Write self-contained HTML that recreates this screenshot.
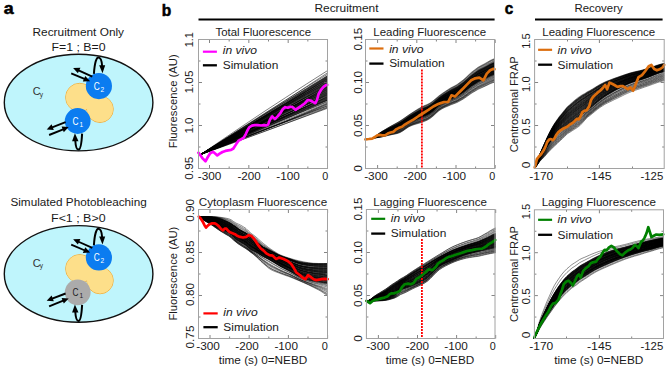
<!DOCTYPE html>
<html><head><meta charset="utf-8"><style>
html,body{margin:0;padding:0;background:#fff;width:669px;height:369px;overflow:hidden}
svg{display:block}
text{font-family:"Liberation Sans",sans-serif}
</style></head><body>
<svg width="669" height="369" viewBox="0 0 669 369" font-family="'Liberation Sans', sans-serif" fill="#1a1a1a">
<rect width="669" height="369" fill="#fff"/>
<text x="3.65" y="13.8" font-size="17" font-weight="bold" fill="#000" textLength="9.9" lengthAdjust="spacingAndGlyphs" stroke="#000" stroke-width="0.55">a</text>
<text x="161.85" y="15.8" font-size="17" font-weight="bold" fill="#000" textLength="9.5" lengthAdjust="spacingAndGlyphs" stroke="#000" stroke-width="0.55">b</text>
<text x="504.85" y="14" font-size="17" font-weight="bold" fill="#000" textLength="8.5" lengthAdjust="spacingAndGlyphs" stroke="#000" stroke-width="0.55">c</text>
<text x="314.45" y="12" font-size="10" textLength="64.1" lengthAdjust="spacingAndGlyphs">Recruitment</text>
<text x="574.55" y="11.7" font-size="10" textLength="48.1" lengthAdjust="spacingAndGlyphs">Recovery</text>
<line x1="198.5" y1="19.6" x2="494.6" y2="19.6" stroke="#000" stroke-width="2"/>
<line x1="535" y1="19.6" x2="662.6" y2="19.6" stroke="#000" stroke-width="2"/>
<text x="32.55" y="36" font-size="10" textLength="91.5" lengthAdjust="spacingAndGlyphs">Recruitment Only</text>
<text x="51.45" y="50.6" font-size="10" textLength="54.1" lengthAdjust="spacingAndGlyphs">F=1 ; B=0</text>
<g transform="translate(0,0)">
<ellipse cx="78.6" cy="102.6" rx="74.3" ry="48.3" fill="#bff5fc" stroke="#111" stroke-width="1.4"/>
<circle cx="79.7" cy="97.4" r="14.1" fill="#fddf8a" stroke="#eea52e" stroke-width="0.8"/>
<circle cx="100" cy="109.2" r="13.3" fill="#fddf8a" stroke="#eea52e" stroke-width="0.8"/>
<circle cx="79.7" cy="97.4" r="13.7" fill="#fddf8a"/>
<circle cx="100" cy="109.2" r="12.9" fill="#fddf8a"/>
<circle cx="98.9" cy="86.1" r="13.1" fill="#0b7cf0"/>
<circle cx="77.7" cy="121" r="12.9" fill="#0b7cf0"/>
<path d="M93.9,73.9 C94.6,63 96.4,57.4 98.4,57.4 C100.6,57.4 101.9,61.5 102.2,66.5" fill="none" stroke="#000" stroke-width="2"/>
<path d="M99.2,65.2 L105.2,65.2 L102.5,73.3 Z" fill="#000"/>
<line x1="92.3" y1="76.6" x2="78" y2="70.2" stroke="#000" stroke-width="1.9"/>
<path d="M73.1,68 L80.4,67.7 L77.9,73.3 Z" fill="#000"/>
<line x1="71.2" y1="73.3" x2="85" y2="79.2" stroke="#000" stroke-width="1.9"/>
<path d="M90.1,81.3 L82.8,81.6 L85.3,76 Z" fill="#000"/>
<path d="M82.1,133.6 C81.6,143 80.6,149.6 78.5,149.6 C76.5,149.6 75.6,146 75.3,140.5" fill="none" stroke="#000" stroke-width="2"/>
<path d="M72.1,141.2 L78.5,141.2 L74.9,133.3 Z" fill="#000"/>
<line x1="65.6" y1="122.2" x2="51.5" y2="127.6" stroke="#000" stroke-width="1.9"/>
<path d="M46.7,129.5 L51.6,124.3 L53.8,130 Z" fill="#000"/>
<line x1="49.1" y1="135" x2="63.8" y2="129.1" stroke="#000" stroke-width="1.9"/>
<path d="M68.7,127.1 L63.8,132.3 L61.6,126.6 Z" fill="#000"/>
</g>
<text x="72.6" y="124.9" font-size="10.6" fill="#fff" textLength="6" lengthAdjust="spacingAndGlyphs">C</text>
<text x="79.5" y="126.8" font-size="6.6" fill="#fff">1</text>
<text x="93.8" y="90" font-size="10.6" fill="#fff" textLength="6" lengthAdjust="spacingAndGlyphs">C</text>
<text x="100.6" y="91.9" font-size="6.6" fill="#fff">2</text>
<text x="32.7" y="95.3" font-size="10.8" fill="#333">C</text>
<text x="39.7" y="97" font-size="6.6" fill="#333">y</text>
<text x="10.45" y="206.3" font-size="10" textLength="136.3" lengthAdjust="spacingAndGlyphs">Simulated Photobleaching</text>
<text x="51.05" y="221.6" font-size="10" textLength="54.5" lengthAdjust="spacingAndGlyphs">F&lt;1 ; B&gt;0</text>
<g transform="translate(0,171.3)">
<ellipse cx="78.6" cy="102.6" rx="74.3" ry="48.3" fill="#bff5fc" stroke="#111" stroke-width="1.4"/>
<circle cx="79.7" cy="97.4" r="14.1" fill="#fddf8a" stroke="#eea52e" stroke-width="0.8"/>
<circle cx="100" cy="109.2" r="13.3" fill="#fddf8a" stroke="#eea52e" stroke-width="0.8"/>
<circle cx="79.7" cy="97.4" r="13.7" fill="#fddf8a"/>
<circle cx="100" cy="109.2" r="12.9" fill="#fddf8a"/>
<circle cx="98.9" cy="86.1" r="13.1" fill="#0b7cf0"/>
<circle cx="77.7" cy="121" r="12.9" fill="#ababab"/>
<path d="M93.9,73.9 C94.6,63 96.4,57.4 98.4,57.4 C100.6,57.4 101.9,61.5 102.2,66.5" fill="none" stroke="#000" stroke-width="2"/>
<path d="M99.2,65.2 L105.2,65.2 L102.5,73.3 Z" fill="#000"/>
<line x1="92.3" y1="76.6" x2="78" y2="70.2" stroke="#000" stroke-width="1.9"/>
<path d="M73.1,68 L80.4,67.7 L77.9,73.3 Z" fill="#000"/>
<line x1="71.2" y1="73.3" x2="85" y2="79.2" stroke="#000" stroke-width="1.9"/>
<path d="M90.1,81.3 L82.8,81.6 L85.3,76 Z" fill="#000"/>
<path d="M82.1,133.6 C81.6,143 80.6,149.6 78.5,149.6 C76.5,149.6 75.6,146 75.3,140.5" fill="none" stroke="#000" stroke-width="2"/>
<path d="M72.1,141.2 L78.5,141.2 L74.9,133.3 Z" fill="#000"/>
<line x1="65.6" y1="122.2" x2="51.5" y2="127.6" stroke="#000" stroke-width="1.9"/>
<path d="M46.7,129.5 L51.6,124.3 L53.8,130 Z" fill="#000"/>
<line x1="49.1" y1="135" x2="63.8" y2="129.1" stroke="#000" stroke-width="1.9"/>
<path d="M68.7,127.1 L63.8,132.3 L61.6,126.6 Z" fill="#000"/>
</g>
<text x="72.6" y="296.2" font-size="10.6" fill="#1e1e1e" textLength="6" lengthAdjust="spacingAndGlyphs">C</text>
<text x="79.5" y="298.1" font-size="6.6" fill="#1e1e1e">1</text>
<text x="93.8" y="261.3" font-size="10.6" fill="#fff" textLength="6" lengthAdjust="spacingAndGlyphs">C</text>
<text x="100.6" y="263.2" font-size="6.6" fill="#fff">2</text>
<text x="32.7" y="266.6" font-size="10.8" fill="#333">C</text>
<text x="39.7" y="268.3" font-size="6.6" fill="#333">y</text>
<text x="215.45" y="35.8" font-size="10" textLength="95.7" lengthAdjust="spacingAndGlyphs">Total Fluorescence</text>
<text x="373.25" y="35.8" font-size="10" textLength="112.9" lengthAdjust="spacingAndGlyphs">Leading Fluorescence</text>
<text x="542.25" y="35.6" font-size="10" textLength="112.9" lengthAdjust="spacingAndGlyphs">Leading Fluorescence</text>
<text x="198.85" y="205.7" font-size="10" textLength="128.3" lengthAdjust="spacingAndGlyphs">Cytoplasm Fluorescence</text>
<text x="373.25" y="205.9" font-size="10" textLength="113.7" lengthAdjust="spacingAndGlyphs">Lagging Fluorescence</text>
<text x="541.65" y="205.9" font-size="10" textLength="114.3" lengthAdjust="spacingAndGlyphs">Lagging Fluorescence</text>
<polyline points="200.8,154.4 221.9,140 243,125.7 264.1,111.6 285.3,97.8 306.4,84.1 327.5,70.6" fill="none" stroke="#000" stroke-width="0.5" stroke-linejoin="round" stroke-linecap="round"/>
<polyline points="200.8,154.4 221.9,141.1 243,127.7 264.1,114.1 285.3,100.5 306.4,86.7 327.5,72.8" fill="none" stroke="#000" stroke-width="0.5" stroke-linejoin="round" stroke-linecap="round"/>
<polyline points="200.8,154.4 221.9,140.7 243,127 264.1,113.6 285.3,100.3 306.4,87.2 327.5,74.2" fill="none" stroke="#000" stroke-width="0.5" stroke-linejoin="round" stroke-linecap="round"/>
<polyline points="200.8,154.4 221.9,141 243,127.7 264.1,114.5 285.3,101.4 306.4,88.5 327.5,75.6" fill="none" stroke="#000" stroke-width="0.5" stroke-linejoin="round" stroke-linecap="round"/>
<polyline points="200.8,154.4 221.9,141.2 243,128 264.1,114.9 285.3,101.9 306.4,88.9 327.5,75.9" fill="none" stroke="#000" stroke-width="0.5" stroke-linejoin="round" stroke-linecap="round"/>
<polyline points="200.8,154.4 221.9,141.8 243,129.1 264.1,116.2 285.3,103.1 306.4,89.8 327.5,76.4" fill="none" stroke="#000" stroke-width="0.5" stroke-linejoin="round" stroke-linecap="round"/>
<polyline points="200.8,154.4 221.9,141 243,127.7 264.1,114.7 285.3,101.8 306.4,89.1 327.5,76.6" fill="none" stroke="#000" stroke-width="0.5" stroke-linejoin="round" stroke-linecap="round"/>
<polyline points="200.8,154.4 221.9,141.5 243,128.6 264.1,115.7 285.3,102.8 306.4,89.9 327.5,77.1" fill="none" stroke="#000" stroke-width="0.5" stroke-linejoin="round" stroke-linecap="round"/>
<polyline points="200.8,154.4 221.9,141.6 243,128.8 264.1,116 285.3,103.2 306.4,90.3 327.5,77.4" fill="none" stroke="#000" stroke-width="0.5" stroke-linejoin="round" stroke-linecap="round"/>
<polyline points="200.8,154.4 221.9,142 243,129.5 264.1,116.8 285.3,103.9 306.4,90.8 327.5,77.7" fill="none" stroke="#000" stroke-width="0.5" stroke-linejoin="round" stroke-linecap="round"/>
<polyline points="200.8,154.4 221.9,142 243,129.5 264.1,116.9 285.3,104.1 306.4,91.2 327.5,78.2" fill="none" stroke="#000" stroke-width="0.5" stroke-linejoin="round" stroke-linecap="round"/>
<polyline points="200.8,154.4 221.9,142.1 243,129.7 264.1,117.1 285.3,104.3 306.4,91.4 327.5,78.4" fill="none" stroke="#000" stroke-width="0.5" stroke-linejoin="round" stroke-linecap="round"/>
<polyline points="200.8,154.4 221.9,141.6 243,128.8 264.1,116.2 285.3,103.7 306.4,91.2 327.5,78.9" fill="none" stroke="#000" stroke-width="0.5" stroke-linejoin="round" stroke-linecap="round"/>
<polyline points="200.8,154.4 221.9,141.8 243,129.2 264.1,116.6 285.3,104.1 306.4,91.6 327.5,79.1" fill="none" stroke="#000" stroke-width="0.5" stroke-linejoin="round" stroke-linecap="round"/>
<polyline points="200.8,154.4 221.9,141.8 243,129.2 264.1,116.6 285.3,104.2 306.4,91.8 327.5,79.5" fill="none" stroke="#000" stroke-width="0.5" stroke-linejoin="round" stroke-linecap="round"/>
<polyline points="200.8,154.4 221.9,142.4 243,130.2 264.1,117.9 285.3,105.4 306.4,92.7 327.5,79.9" fill="none" stroke="#000" stroke-width="0.5" stroke-linejoin="round" stroke-linecap="round"/>
<polyline points="200.8,154.4 221.9,142.5 243,130.5 264.1,118.3 285.3,105.9 306.4,93.2 327.5,80.4" fill="none" stroke="#000" stroke-width="0.5" stroke-linejoin="round" stroke-linecap="round"/>
<polyline points="200.8,154.4 221.9,141.7 243,129.2 264.1,116.8 285.3,104.6 306.4,92.5 327.5,80.5" fill="none" stroke="#000" stroke-width="0.5" stroke-linejoin="round" stroke-linecap="round"/>
<polyline points="200.8,154.4 221.9,141.8 243,129.4 264.1,117 285.3,104.9 306.4,92.9 327.5,80.9" fill="none" stroke="#000" stroke-width="0.5" stroke-linejoin="round" stroke-linecap="round"/>
<polyline points="200.8,154.4 221.9,142 243,129.6 264.1,117.4 285.3,105.3 306.4,93.3 327.5,81.4" fill="none" stroke="#000" stroke-width="0.5" stroke-linejoin="round" stroke-linecap="round"/>
<polyline points="200.8,154.4 221.9,142.1 243,129.8 264.1,117.6 285.3,105.6 306.4,93.7 327.5,81.9" fill="none" stroke="#000" stroke-width="0.5" stroke-linejoin="round" stroke-linecap="round"/>
<polyline points="200.8,154.4 221.9,142.3 243,130.3 264.1,118.2 285.3,106.2 306.4,94.2 327.5,82.1" fill="none" stroke="#000" stroke-width="0.5" stroke-linejoin="round" stroke-linecap="round"/>
<polyline points="200.8,154.4 221.9,142.5 243,130.6 264.1,118.6 285.3,106.6 306.4,94.5 327.5,82.4" fill="none" stroke="#000" stroke-width="0.5" stroke-linejoin="round" stroke-linecap="round"/>
<polyline points="200.8,154.4 221.9,142.3 243,130.2 264.1,118.2 285.3,106.4 306.4,94.7 327.5,83" fill="none" stroke="#000" stroke-width="0.5" stroke-linejoin="round" stroke-linecap="round"/>
<polyline points="200.8,154.4 221.9,142 243,129.7 264.1,117.7 285.3,106 306.4,94.4 327.5,83" fill="none" stroke="#000" stroke-width="0.5" stroke-linejoin="round" stroke-linecap="round"/>
<polyline points="200.8,154.4 221.9,142.5 243,130.7 264.1,118.9 285.3,107.1 306.4,95.4 327.5,83.7" fill="none" stroke="#000" stroke-width="0.5" stroke-linejoin="round" stroke-linecap="round"/>
<polyline points="200.8,154.4 221.9,142.5 243,130.6 264.1,118.8 285.3,107.1 306.4,95.5 327.5,83.8" fill="none" stroke="#000" stroke-width="0.5" stroke-linejoin="round" stroke-linecap="round"/>
<polyline points="200.8,154.4 221.9,142.8 243,131.1 264.1,119.4 285.3,107.7 306.4,95.9 327.5,84.1" fill="none" stroke="#000" stroke-width="0.5" stroke-linejoin="round" stroke-linecap="round"/>
<polyline points="200.8,154.4 221.9,143.2 243,131.9 264.1,120.3 285.3,108.6 306.4,96.6 327.5,84.5" fill="none" stroke="#000" stroke-width="0.5" stroke-linejoin="round" stroke-linecap="round"/>
<polyline points="200.8,154.4 221.9,143 243,131.6 264.1,120 285.3,108.4 306.4,96.7 327.5,84.9" fill="none" stroke="#000" stroke-width="0.5" stroke-linejoin="round" stroke-linecap="round"/>
<polyline points="200.8,154.4 221.9,142.9 243,131.4 264.1,119.9 285.3,108.4 306.4,96.9 327.5,85.4" fill="none" stroke="#000" stroke-width="0.5" stroke-linejoin="round" stroke-linecap="round"/>
<polyline points="200.8,154.4 221.9,143 243,131.7 264.1,120.2 285.3,108.7 306.4,97.2 327.5,85.6" fill="none" stroke="#000" stroke-width="0.5" stroke-linejoin="round" stroke-linecap="round"/>
<polyline points="200.8,154.4 221.9,143.2 243,131.9 264.1,120.6 285.3,109.1 306.4,97.6 327.5,86.1" fill="none" stroke="#000" stroke-width="0.5" stroke-linejoin="round" stroke-linecap="round"/>
<polyline points="200.8,154.4 221.9,142.6 243,131 264.1,119.5 285.3,108.3 306.4,97.3 327.5,86.4" fill="none" stroke="#000" stroke-width="0.5" stroke-linejoin="round" stroke-linecap="round"/>
<polyline points="200.8,154.4 221.9,143.5 243,132.5 264.1,121.4 285.3,110 306.4,98.4 327.5,86.7" fill="none" stroke="#000" stroke-width="0.5" stroke-linejoin="round" stroke-linecap="round"/>
<polyline points="200.8,154.4 221.9,143.5 243,132.5 264.1,121.3 285.3,110 306.4,98.6 327.5,87.1" fill="none" stroke="#000" stroke-width="0.5" stroke-linejoin="round" stroke-linecap="round"/>
<polyline points="200.8,154.4 221.9,143.6 243,132.7 264.1,121.6 285.3,110.3 306.4,98.9 327.5,87.3" fill="none" stroke="#000" stroke-width="0.5" stroke-linejoin="round" stroke-linecap="round"/>
<polyline points="200.8,154.4 221.9,143.6 243,132.7 264.1,121.6 285.3,110.4 306.4,99.1 327.5,87.7" fill="none" stroke="#000" stroke-width="0.5" stroke-linejoin="round" stroke-linecap="round"/>
<polyline points="200.8,154.4 221.9,143.2 243,132.1 264.1,121 285.3,110 306.4,99 327.5,88.1" fill="none" stroke="#000" stroke-width="0.5" stroke-linejoin="round" stroke-linecap="round"/>
<polyline points="200.8,154.4 221.9,143.3 243,132.3 264.1,121.3 285.3,110.4 306.4,99.5 327.5,88.6" fill="none" stroke="#000" stroke-width="0.5" stroke-linejoin="round" stroke-linecap="round"/>
<polyline points="200.8,154.4 221.9,143.1 243,131.9 264.1,120.8 285.3,110 306.4,99.4 327.5,88.9" fill="none" stroke="#000" stroke-width="0.5" stroke-linejoin="round" stroke-linecap="round"/>
<polyline points="200.8,154.4 221.9,143.7 243,132.9 264.1,122.1 285.3,111.2 306.4,100.2 327.5,89.2" fill="none" stroke="#000" stroke-width="0.5" stroke-linejoin="round" stroke-linecap="round"/>
<polyline points="200.8,154.4 221.9,143.2 243,132.1 264.1,121.1 285.3,110.5 306.4,100 327.5,89.6" fill="none" stroke="#000" stroke-width="0.5" stroke-linejoin="round" stroke-linecap="round"/>
<polyline points="200.8,154.4 221.9,143.2 243,132.2 264.1,121.3 285.3,110.7 306.4,100.3 327.5,89.9" fill="none" stroke="#000" stroke-width="0.5" stroke-linejoin="round" stroke-linecap="round"/>
<polyline points="200.8,154.4 221.9,143.4 243,132.5 264.1,121.7 285.3,111.1 306.4,100.7 327.5,90.2" fill="none" stroke="#000" stroke-width="0.5" stroke-linejoin="round" stroke-linecap="round"/>
<polyline points="200.8,154.4 221.9,143.5 243,132.6 264.1,121.9 285.3,111.4 306.4,101 327.5,90.8" fill="none" stroke="#000" stroke-width="0.5" stroke-linejoin="round" stroke-linecap="round"/>
<polyline points="200.8,154.4 221.9,143.7 243,133 264.1,122.4 285.3,111.9 306.4,101.5 327.5,91.1" fill="none" stroke="#000" stroke-width="0.5" stroke-linejoin="round" stroke-linecap="round"/>
<polyline points="200.8,154.4 221.9,143.4 243,132.6 264.1,122 285.3,111.6 306.4,101.4 327.5,91.3" fill="none" stroke="#000" stroke-width="0.5" stroke-linejoin="round" stroke-linecap="round"/>
<polyline points="200.8,154.4 221.9,143.5 243,132.7 264.1,122.1 285.3,111.8 306.4,101.7 327.5,91.8" fill="none" stroke="#000" stroke-width="0.5" stroke-linejoin="round" stroke-linecap="round"/>
<polyline points="200.8,154.4 221.9,143.7 243,133 264.1,122.6 285.3,112.3 306.4,102.1 327.5,92.1" fill="none" stroke="#000" stroke-width="0.5" stroke-linejoin="round" stroke-linecap="round"/>
<polyline points="200.8,154.4 221.9,143.7 243,133.1 264.1,122.7 285.3,112.5 306.4,102.5 327.5,92.6" fill="none" stroke="#000" stroke-width="0.5" stroke-linejoin="round" stroke-linecap="round"/>
<polyline points="200.8,154.4 221.9,144 243,133.7 264.1,123.4 285.3,113.2 306.4,103 327.5,92.9" fill="none" stroke="#000" stroke-width="0.5" stroke-linejoin="round" stroke-linecap="round"/>
<polyline points="200.8,154.4 221.9,143.7 243,133.1 264.1,122.8 285.3,112.7 306.4,102.8 327.5,93.1" fill="none" stroke="#000" stroke-width="0.5" stroke-linejoin="round" stroke-linecap="round"/>
<polyline points="200.8,154.4 221.9,144.7 243,134.8 264.1,124.8 285.3,114.6 306.4,104.2 327.5,93.7" fill="none" stroke="#000" stroke-width="0.5" stroke-linejoin="round" stroke-linecap="round"/>
<polyline points="200.8,154.4 221.9,144.4 243,134.4 264.1,124.3 285.3,114.2 306.4,104 327.5,93.8" fill="none" stroke="#000" stroke-width="0.5" stroke-linejoin="round" stroke-linecap="round"/>
<polyline points="200.8,154.4 221.9,144 243,133.7 264.1,123.6 285.3,113.7 306.4,103.9 327.5,94.2" fill="none" stroke="#000" stroke-width="0.5" stroke-linejoin="round" stroke-linecap="round"/>
<polyline points="200.8,154.4 221.9,144.2 243,134.1 264.1,124.1 285.3,114.2 306.4,104.4 327.5,94.7" fill="none" stroke="#000" stroke-width="0.5" stroke-linejoin="round" stroke-linecap="round"/>
<polyline points="200.8,154.4 221.9,144.3 243,134.3 264.1,124.3 285.3,114.4 306.4,104.6 327.5,94.8" fill="none" stroke="#000" stroke-width="0.5" stroke-linejoin="round" stroke-linecap="round"/>
<polyline points="200.8,154.4 221.9,144.4 243,134.5 264.1,124.6 285.3,114.8 306.4,105 327.5,95.3" fill="none" stroke="#000" stroke-width="0.5" stroke-linejoin="round" stroke-linecap="round"/>
<polyline points="200.8,154.4 221.9,144.2 243,134.1 264.1,124.2 285.3,114.5 306.4,105 327.5,95.5" fill="none" stroke="#000" stroke-width="0.5" stroke-linejoin="round" stroke-linecap="round"/>
<polyline points="200.8,154.4 221.9,145 243,135.6 264.1,125.9 285.3,116.1 306.4,106.2 327.5,96.1" fill="none" stroke="#000" stroke-width="0.5" stroke-linejoin="round" stroke-linecap="round"/>
<polyline points="200.8,154.4 221.9,145.2 243,135.9 264.1,126.4 285.3,116.6 306.4,106.6 327.5,96.5" fill="none" stroke="#000" stroke-width="0.5" stroke-linejoin="round" stroke-linecap="round"/>
<polyline points="200.8,154.4 221.9,144.8 243,135.1 264.1,125.5 285.3,115.9 306.4,106.3 327.5,96.8" fill="none" stroke="#000" stroke-width="0.5" stroke-linejoin="round" stroke-linecap="round"/>
<polyline points="200.8,154.4 221.9,144.9 243,135.3 264.1,125.8 285.3,116.3 306.4,106.8 327.5,97.2" fill="none" stroke="#000" stroke-width="0.5" stroke-linejoin="round" stroke-linecap="round"/>
<polyline points="200.8,154.4 221.9,144.5 243,134.7 264.1,125.1 285.3,115.7 306.4,106.5 327.5,97.4" fill="none" stroke="#000" stroke-width="0.5" stroke-linejoin="round" stroke-linecap="round"/>
<polyline points="200.8,154.4 221.9,144.6 243,134.9 264.1,125.3 285.3,116 306.4,106.9 327.5,97.9" fill="none" stroke="#000" stroke-width="0.5" stroke-linejoin="round" stroke-linecap="round"/>
<polyline points="200.8,154.4 221.9,144.9 243,135.4 264.1,126 285.3,116.7 306.4,107.4 327.5,98.2" fill="none" stroke="#000" stroke-width="0.5" stroke-linejoin="round" stroke-linecap="round"/>
<polyline points="200.8,154.4 221.9,144.9 243,135.4 264.1,126 285.3,116.8 306.4,107.6 327.5,98.6" fill="none" stroke="#000" stroke-width="0.5" stroke-linejoin="round" stroke-linecap="round"/>
<polyline points="200.8,154.4 221.9,145.5 243,136.5 264.1,127.3 285.3,118 306.4,108.5 327.5,98.9" fill="none" stroke="#000" stroke-width="0.5" stroke-linejoin="round" stroke-linecap="round"/>
<polyline points="200.8,154.4 221.9,144.9 243,135.5 264.1,126.2 285.3,117.1 306.4,108.2 327.5,99.4" fill="none" stroke="#000" stroke-width="0.5" stroke-linejoin="round" stroke-linecap="round"/>
<polyline points="200.8,154.4 221.9,144.8 243,135.4 264.1,126.1 285.3,117.2 306.4,108.4 327.5,99.8" fill="none" stroke="#000" stroke-width="0.5" stroke-linejoin="round" stroke-linecap="round"/>
<polyline points="200.8,154.4 221.9,145.8 243,137 264.1,128.1 285.3,118.9 306.4,109.5 327.5,100" fill="none" stroke="#000" stroke-width="0.5" stroke-linejoin="round" stroke-linecap="round"/>
<polyline points="200.8,154.4 221.9,145.4 243,136.4 264.1,127.4 285.3,118.4 306.4,109.4 327.5,100.4" fill="none" stroke="#000" stroke-width="0.5" stroke-linejoin="round" stroke-linecap="round"/>
<polyline points="200.8,154.4 221.9,145 243,135.7 264.1,126.5 285.3,117.6 306.4,108.8 327.5,100" fill="none" stroke="#000" stroke-width="0.5" stroke-linejoin="round" stroke-linecap="round"/>
<polyline points="200.8,154.4 221.9,145.6 243,136.8 264.1,127.9 285.3,119.1 306.4,110.2 327.5,101.3" fill="none" stroke="#000" stroke-width="0.5" stroke-linejoin="round" stroke-linecap="round"/>
<polyline points="200.8,154.4 221.9,145.2 243,136.1 264.1,127.2 285.3,118.6 306.4,110.2 327.5,102" fill="none" stroke="#000" stroke-width="0.5" stroke-linejoin="round" stroke-linecap="round"/>
<polyline points="200.8,154.4 221.9,145.9 243,137.3 264.1,128.8 285.3,120.2 306.4,111.6 327.5,103" fill="none" stroke="#000" stroke-width="0.5" stroke-linejoin="round" stroke-linecap="round"/>
<polyline points="200.8,154.4 221.9,146.4 243,138.3 264.1,130 285.3,121.4 306.4,112.6 327.5,103.6" fill="none" stroke="#000" stroke-width="0.5" stroke-linejoin="round" stroke-linecap="round"/>
<polyline points="200.8,154.4 221.9,146.4 243,138.2 264.1,129.9 285.3,121.4 306.4,112.7 327.5,104" fill="none" stroke="#000" stroke-width="0.5" stroke-linejoin="round" stroke-linecap="round"/>
<polyline points="200.8,154.4 221.9,146.3 243,138.2 264.1,130 285.3,121.7 306.4,113.3 327.5,104.8" fill="none" stroke="#000" stroke-width="0.5" stroke-linejoin="round" stroke-linecap="round"/>
<polyline points="200.8,154.4 221.9,146.1 243,137.8 264.1,129.6 285.3,121.6 306.4,113.6 327.5,105.8" fill="none" stroke="#000" stroke-width="0.5" stroke-linejoin="round" stroke-linecap="round"/>
<polyline points="200.8,154.4 221.9,146.2 243,138 264.1,129.9 285.3,121.9 306.4,113.9 327.5,106" fill="none" stroke="#000" stroke-width="0.5" stroke-linejoin="round" stroke-linecap="round"/>
<polyline points="200.8,154.4 221.9,146.2 243,138.1 264.1,130.1 285.3,122.3 306.4,114.6 327.5,107.1" fill="none" stroke="#000" stroke-width="0.5" stroke-linejoin="round" stroke-linecap="round"/>
<polyline points="200.8,154.4 221.9,146.9 243,139.3 264.1,131.6 285.3,123.7 306.4,115.7 327.5,107.6" fill="none" stroke="#000" stroke-width="0.5" stroke-linejoin="round" stroke-linecap="round"/>
<polyline points="200.8,154.4 221.9,146.8 243,139.1 264.1,131.4 285.3,123.7 306.4,116 327.5,108.3" fill="none" stroke="#000" stroke-width="0.5" stroke-linejoin="round" stroke-linecap="round"/>
<polyline points="373,138 376,136.1 379,133.4 382,131.4 385,129.6 388,127.8 391,126.1 394,124.4 397,122.8 400,121 403,119 406,116.9 409,114.8 412,112.8 415,110.9 418,109 421,107.4 424,105.8 427,104.6 430,103.1 433,100.9 436,98.3 439,95.8 442,93.6 445,91.6 448,89.6 451,87.7 454,86.2 457,84.6 460,82.3 463,80.1 466,77.4 469,74.5 472,71.8 475,69.6 478,67.3 481,65.6 484,64.1 487,62.4 490,60.6 493,59.2 494.5,58.7" fill="none" stroke="#000" stroke-width="0.45" stroke-linejoin="round" stroke-linecap="round"/>
<polyline points="373,138 376,136.1 379,133.5 382,131.5 385,129.8 388,128 391,126.3 394,124.7 397,123 400,121.3 403,119.3 406,117.2 409,115.1 412,113.2 415,111.3 418,109.5 421,107.8 424,106.3 427,105.1 430,103.5 433,101.4 436,98.9 439,96.3 442,94.1 445,92.1 448,90.2 451,88.3 454,86.8 457,85.1 460,82.9 463,80.7 466,78 469,75.1 472,72.5 475,70.2 478,67.9 481,66.2 484,64.7 487,63 490,61.2 493,59.7 494.5,59.2" fill="none" stroke="#000" stroke-width="0.45" stroke-linejoin="round" stroke-linecap="round"/>
<polyline points="373,138 376,136.1 379,133.6 382,131.7 385,129.9 388,128.2 391,126.5 394,124.9 397,123.3 400,121.5 403,119.6 406,117.5 409,115.4 412,113.5 415,111.6 418,109.7 421,108.1 424,106.6 427,105.4 430,103.8 433,101.7 436,99.1 439,96.6 442,94.4 445,92.4 448,90.4 451,88.6 454,87.1 457,85.5 460,83.2 463,81 466,78.3 469,75.5 472,72.9 475,70.7 478,68.4 481,66.7 484,65.2 487,63.5 490,61.7 493,60.3 494.5,59.9" fill="none" stroke="#000" stroke-width="0.45" stroke-linejoin="round" stroke-linecap="round"/>
<polyline points="373,138 376,136.2 379,133.7 382,131.9 385,130.2 388,128.5 391,126.8 394,125.3 397,123.7 400,122 403,120 406,117.9 409,115.8 412,113.9 415,112.1 418,110.3 421,108.7 424,107.2 427,106 430,104.4 433,102.3 436,99.7 439,97.1 442,95 445,93 448,91.1 451,89.3 454,87.7 457,86.2 460,83.9 463,81.7 466,79.1 469,76.3 472,73.7 475,71.5 478,69.2 481,67.5 484,66 487,64.3 490,62.6 493,61.2 494.5,60.7" fill="none" stroke="#000" stroke-width="0.45" stroke-linejoin="round" stroke-linecap="round"/>
<polyline points="373,138 376,136.3 379,133.8 382,132 385,130.4 388,128.7 391,127.1 394,125.6 397,124 400,122.3 403,120.4 406,118.3 409,116.2 412,114.3 415,112.5 418,110.7 421,109.2 424,107.6 427,106.5 430,104.9 433,102.7 436,100.2 439,97.6 442,95.4 445,93.5 448,91.6 451,89.8 454,88.3 457,86.7 460,84.5 463,82.3 466,79.7 469,76.9 472,74.3 475,72.2 478,69.9 481,68.2 484,66.7 487,65 490,63.3 493,61.9 494.5,61.4" fill="none" stroke="#000" stroke-width="0.45" stroke-linejoin="round" stroke-linecap="round"/>
<polyline points="373,138 376,136.3 379,134 382,132.2 385,130.5 388,128.9 391,127.3 394,125.8 397,124.3 400,122.6 403,120.7 406,118.6 409,116.4 412,114.6 415,112.8 418,111.1 421,109.5 424,108 427,106.8 430,105.2 433,103.1 436,100.5 439,97.9 442,95.7 445,93.8 448,91.9 451,90.1 454,88.6 457,87.1 460,84.9 463,82.7 466,80.1 469,77.4 472,74.8 475,72.6 478,70.4 481,68.7 484,67.3 487,65.6 490,63.8 493,62.4 494.5,62" fill="none" stroke="#000" stroke-width="0.45" stroke-linejoin="round" stroke-linecap="round"/>
<polyline points="373,138 376,136.3 379,134 382,132.3 385,130.7 388,129 391,127.5 394,126 397,124.4 400,122.8 403,120.8 406,118.7 409,116.5 412,114.7 415,112.9 418,111.1 421,109.6 424,108.1 427,106.9 430,105.3 433,103.1 436,100.4 439,97.9 442,95.7 445,93.8 448,91.9 451,90.1 454,88.6 457,87.1 460,84.9 463,82.8 466,80.2 469,77.5 472,75 475,72.9 478,70.6 481,69 484,67.6 487,66 490,64.3 493,63 494.5,62.5" fill="none" stroke="#000" stroke-width="0.5" stroke-linejoin="round" stroke-linecap="round"/>
<polyline points="373,138 376,136.4 379,134.1 382,132.3 385,130.7 388,129.1 391,127.6 394,126.1 397,124.6 400,122.9 403,121 406,118.9 409,116.7 412,114.9 415,113.1 418,111.4 421,109.8 424,108.3 427,107.2 430,105.5 433,103.3 436,100.7 439,98.2 442,96 445,94.1 448,92.2 451,90.4 454,89 457,87.4 460,85.2 463,83.1 466,80.6 469,77.8 472,75.3 475,73.2 478,70.9 481,69.3 484,67.9 487,66.2 490,64.5 493,63.2 494.5,62.7" fill="none" stroke="#000" stroke-width="0.5" stroke-linejoin="round" stroke-linecap="round"/>
<polyline points="373,138 376,136.4 379,134.1 382,132.4 385,130.8 388,129.2 391,127.7 394,126.2 397,124.8 400,123.1 403,121.2 406,119.1 409,117 412,115.2 415,113.5 418,111.8 421,110.3 424,108.8 427,107.7 430,106.1 433,103.9 436,101.3 439,98.8 442,96.6 445,94.7 448,92.9 451,91.1 454,89.6 457,88.1 460,85.9 463,83.8 466,81.2 469,78.4 472,75.8 475,73.7 478,71.4 481,69.8 484,68.3 487,66.6 490,64.8 493,63.4 494.5,62.9" fill="none" stroke="#000" stroke-width="0.5" stroke-linejoin="round" stroke-linecap="round"/>
<polyline points="373,138 376,136.4 379,134.1 382,132.4 385,130.8 388,129.2 391,127.7 394,126.2 397,124.7 400,123.1 403,121.2 406,119.1 409,116.9 412,115.1 415,113.3 418,111.6 421,110.1 424,108.6 427,107.5 430,105.8 433,103.7 436,101 439,98.5 442,96.3 445,94.4 448,92.6 451,90.8 454,89.3 457,87.8 460,85.6 463,83.5 466,80.9 469,78.2 472,75.7 475,73.5 478,71.3 481,69.7 484,68.2 487,66.6 490,64.9 493,63.5 494.5,63" fill="none" stroke="#000" stroke-width="0.5" stroke-linejoin="round" stroke-linecap="round"/>
<polyline points="373,138 376,136.4 379,134.2 382,132.5 385,130.9 388,129.3 391,127.8 394,126.4 397,124.9 400,123.3 403,121.4 406,119.3 409,117.2 412,115.4 415,113.6 418,111.9 421,110.4 424,108.9 427,107.8 430,106.2 433,104 436,101.4 439,98.9 442,96.7 445,94.8 448,93 451,91.2 454,89.7 457,88.2 460,86 463,83.9 466,81.4 469,78.6 472,76.1 475,73.9 478,71.7 481,70 484,68.6 487,66.9 490,65.2 493,63.8 494.5,63.3" fill="none" stroke="#000" stroke-width="0.5" stroke-linejoin="round" stroke-linecap="round"/>
<polyline points="373,138 376,136.4 379,134.2 382,132.5 385,130.9 388,129.4 391,127.8 394,126.4 397,124.9 400,123.3 403,121.3 406,119.2 409,117.1 412,115.3 415,113.5 418,111.8 421,110.3 424,108.8 427,107.6 430,106 433,103.8 436,101.2 439,98.6 442,96.4 445,94.5 448,92.7 451,90.9 454,89.5 457,87.9 460,85.8 463,83.7 466,81.1 469,78.5 472,75.9 475,73.8 478,71.6 481,70 484,68.6 487,67 490,65.3 493,63.9 494.5,63.5" fill="none" stroke="#000" stroke-width="0.5" stroke-linejoin="round" stroke-linecap="round"/>
<polyline points="373,138 376,136.4 379,134.2 382,132.5 385,131 388,129.4 391,127.9 394,126.5 397,125 400,123.4 403,121.4 406,119.3 409,117.2 412,115.4 415,113.7 418,112 421,110.5 424,109 427,107.8 430,106.2 433,104 436,101.4 439,98.8 442,96.6 445,94.7 448,92.9 451,91.2 454,89.7 457,88.2 460,86 463,83.9 466,81.4 469,78.7 472,76.1 475,74 478,71.8 481,70.2 484,68.8 487,67.1 490,65.5 493,64.1 494.5,63.6" fill="none" stroke="#000" stroke-width="0.5" stroke-linejoin="round" stroke-linecap="round"/>
<polyline points="373,138 376,136.4 379,134.3 382,132.6 385,131.1 388,129.5 391,128 394,126.6 397,125.2 400,123.6 403,121.7 406,119.6 409,117.5 412,115.7 415,114 418,112.4 421,110.9 424,109.4 427,108.3 430,106.7 433,104.5 436,101.9 439,99.4 442,97.2 445,95.3 448,93.6 451,91.8 454,90.3 457,88.8 460,86.7 463,84.6 466,82 469,79.3 472,76.7 475,74.6 478,72.3 481,70.7 484,69.2 487,67.5 490,65.8 493,64.3 494.5,63.9" fill="none" stroke="#000" stroke-width="0.5" stroke-linejoin="round" stroke-linecap="round"/>
<polyline points="373,138 376,136.5 379,134.3 382,132.7 385,131.1 388,129.6 391,128.1 394,126.7 397,125.3 400,123.7 403,121.8 406,119.7 409,117.6 412,115.8 415,114.1 418,112.4 421,111 424,109.5 427,108.3 430,106.7 433,104.5 436,101.9 439,99.4 442,97.2 445,95.3 448,93.5 451,91.8 454,90.4 457,88.8 460,86.7 463,84.6 466,82 469,79.3 472,76.8 475,74.7 478,72.5 481,70.8 484,69.4 487,67.7 490,66 493,64.6 494.5,64.1" fill="none" stroke="#000" stroke-width="0.5" stroke-linejoin="round" stroke-linecap="round"/>
<polyline points="373,138 376,136.5 379,134.4 382,132.7 385,131.2 388,129.7 391,128.2 394,126.8 397,125.4 400,123.9 403,122 406,119.9 409,117.8 412,116.1 415,114.4 418,112.8 421,111.3 424,109.9 427,108.7 430,107.1 433,105 436,102.4 439,99.8 442,97.7 445,95.8 448,94 451,92.3 454,90.8 457,89.3 460,87.2 463,85.1 466,82.5 469,79.8 472,77.2 475,75.1 478,72.9 481,71.2 484,69.7 487,68 490,66.3 493,64.8 494.5,64.3" fill="none" stroke="#000" stroke-width="0.5" stroke-linejoin="round" stroke-linecap="round"/>
<polyline points="373,138 376,136.5 379,134.4 382,132.8 385,131.3 388,129.8 391,128.3 394,126.9 397,125.5 400,123.9 403,122 406,120 409,117.9 412,116.1 415,114.4 418,112.8 421,111.3 424,109.9 427,108.7 430,107.1 433,104.9 436,102.3 439,99.7 442,97.6 445,95.7 448,94 451,92.2 454,90.8 457,89.3 460,87.1 463,85.1 466,82.5 469,79.8 472,77.3 475,75.2 478,73 481,71.3 484,69.9 487,68.2 490,66.5 493,65.1 494.5,64.6" fill="none" stroke="#000" stroke-width="0.5" stroke-linejoin="round" stroke-linecap="round"/>
<polyline points="373,138 376,136.5 379,134.5 382,132.8 385,131.4 388,129.9 391,128.4 394,127 397,125.6 400,124.1 403,122.2 406,120.1 409,118 412,116.2 415,114.5 418,112.9 421,111.4 424,110 427,108.8 430,107.2 433,105 436,102.4 439,99.8 442,97.7 445,95.8 448,94.1 451,92.3 454,90.9 457,89.4 460,87.3 463,85.2 466,82.7 469,80 472,77.5 475,75.4 478,73.2 481,71.5 484,70.1 487,68.5 490,66.8 493,65.4 494.5,64.9" fill="none" stroke="#000" stroke-width="0.5" stroke-linejoin="round" stroke-linecap="round"/>
<polyline points="373,138 376,136.5 379,134.5 382,132.9 385,131.4 388,129.9 391,128.4 394,127.1 397,125.7 400,124.1 403,122.2 406,120.1 409,118 412,116.2 415,114.5 418,112.9 421,111.5 424,110 427,108.9 430,107.2 433,105 436,102.4 439,99.8 442,97.7 445,95.8 448,94.1 451,92.3 454,90.9 457,89.4 460,87.3 463,85.2 466,82.7 469,80 472,77.5 475,75.4 478,73.2 481,71.6 484,70.2 487,68.5 490,66.9 493,65.5 494.5,65" fill="none" stroke="#000" stroke-width="0.5" stroke-linejoin="round" stroke-linecap="round"/>
<polyline points="373,138 376,136.6 379,134.5 382,132.9 385,131.5 388,130 391,128.5 394,127.2 397,125.8 400,124.3 403,122.4 406,120.3 409,118.2 412,116.4 415,114.7 418,113.1 421,111.7 424,110.2 427,109.1 430,107.5 433,105.3 436,102.6 439,100.1 442,97.9 445,96.1 448,94.3 451,92.6 454,91.2 457,89.7 460,87.6 463,85.5 466,83 469,80.3 472,77.8 475,75.8 478,73.5 481,71.9 484,70.5 487,68.9 490,67.2 493,65.8 494.5,65.3" fill="none" stroke="#000" stroke-width="0.5" stroke-linejoin="round" stroke-linecap="round"/>
<polyline points="373,138 376,136.6 379,134.6 382,133 385,131.6 388,130.1 391,128.7 394,127.3 397,126 400,124.4 403,122.5 406,120.4 409,118.4 412,116.6 415,115 418,113.4 421,112 424,110.5 427,109.4 430,107.8 433,105.6 436,103 439,100.4 442,98.3 445,96.4 448,94.7 451,93 454,91.5 457,90.1 460,87.9 463,85.9 466,83.4 469,80.7 472,78.2 475,76.1 478,73.9 481,72.3 484,70.8 487,69.2 490,67.4 493,66 494.5,65.6" fill="none" stroke="#000" stroke-width="0.5" stroke-linejoin="round" stroke-linecap="round"/>
<polyline points="373,138 376,136.6 379,134.6 382,133.1 385,131.6 388,130.2 391,128.8 394,127.5 397,126.1 400,124.6 403,122.7 406,120.6 409,118.6 412,116.8 415,115.2 418,113.7 421,112.3 424,110.8 427,109.7 430,108.1 433,105.9 436,103.3 439,100.7 442,98.6 445,96.8 448,95 451,93.3 454,91.9 457,90.4 460,88.3 463,86.3 466,83.7 469,81.1 472,78.5 475,76.5 478,74.2 481,72.6 484,71.1 487,69.4 490,67.7 493,66.3 494.5,65.8" fill="none" stroke="#000" stroke-width="0.5" stroke-linejoin="round" stroke-linecap="round"/>
<polyline points="373,138 376,136.6 379,134.6 382,133.1 385,131.6 388,130.2 391,128.8 394,127.4 397,126.1 400,124.5 403,122.6 406,120.5 409,118.5 412,116.7 415,115.1 418,113.5 421,112.1 424,110.6 427,109.5 430,107.9 433,105.7 436,103 439,100.5 442,98.4 445,96.5 448,94.8 451,93.1 454,91.6 457,90.2 460,88.1 463,86 466,83.5 469,80.9 472,78.4 475,76.3 478,74.1 481,72.5 484,71 487,69.4 490,67.7 493,66.3 494.5,65.9" fill="none" stroke="#000" stroke-width="0.5" stroke-linejoin="round" stroke-linecap="round"/>
<polyline points="373,138 376,136.6 379,134.7 382,133.1 385,131.7 388,130.3 391,128.8 394,127.6 397,126.2 400,124.7 403,122.8 406,120.7 409,118.7 412,116.9 415,115.3 418,113.8 421,112.4 424,110.9 427,109.8 430,108.2 433,106 436,103.4 439,100.8 442,98.7 445,96.9 448,95.1 451,93.4 454,92 457,90.5 460,88.4 463,86.4 466,83.9 469,81.2 472,78.7 475,76.6 478,74.4 481,72.8 484,71.3 487,69.7 490,67.9 493,66.5 494.5,66" fill="none" stroke="#000" stroke-width="0.5" stroke-linejoin="round" stroke-linecap="round"/>
<polyline points="373,138 376,136.6 379,134.7 382,133.1 385,131.7 388,130.3 391,128.9 394,127.5 397,126.2 400,124.6 403,122.7 406,120.6 409,118.5 412,116.7 415,115.1 418,113.5 421,112.1 424,110.6 427,109.5 430,107.8 433,105.6 436,102.9 439,100.3 442,98.2 445,96.4 448,94.6 451,92.9 454,91.5 457,90.1 460,88 463,85.9 466,83.5 469,80.9 472,78.4 475,76.4 478,74.2 481,72.6 484,71.3 487,69.7 490,68 493,66.7 494.5,66.3" fill="none" stroke="#000" stroke-width="0.5" stroke-linejoin="round" stroke-linecap="round"/>
<polyline points="373,138 376,136.6 379,134.7 382,133.2 385,131.8 388,130.3 391,128.9 394,127.6 397,126.3 400,124.7 403,122.8 406,120.7 409,118.6 412,116.8 415,115.2 418,113.6 421,112.2 424,110.7 427,109.6 430,107.9 433,105.7 436,103 439,100.4 442,98.3 445,96.5 448,94.7 451,93 454,91.6 457,90.2 460,88.1 463,86.1 466,83.6 469,81 472,78.6 475,76.5 478,74.4 481,72.8 484,71.4 487,69.9 490,68.2 493,66.9 494.5,66.5" fill="none" stroke="#000" stroke-width="0.5" stroke-linejoin="round" stroke-linecap="round"/>
<polyline points="373,138 376,136.7 379,134.8 382,133.2 385,131.8 388,130.4 391,129 394,127.7 397,126.4 400,124.8 403,122.9 406,120.8 409,118.7 412,116.9 415,115.3 418,113.7 421,112.3 424,110.9 427,109.7 430,108 433,105.8 436,103.2 439,100.6 442,98.5 445,96.6 448,94.9 451,93.2 454,91.8 457,90.3 460,88.3 463,86.2 466,83.8 469,81.2 472,78.7 475,76.7 478,74.6 481,73 484,71.6 487,70.1 490,68.4 493,67.1 494.5,66.7" fill="none" stroke="#000" stroke-width="0.5" stroke-linejoin="round" stroke-linecap="round"/>
<polyline points="373,138 376,136.7 379,134.8 382,133.3 385,132 388,130.6 391,129.2 394,127.9 397,126.6 400,125.1 403,123.3 406,121.2 409,119.1 412,117.4 415,115.8 418,114.3 421,112.9 424,111.5 427,110.4 430,108.8 433,106.6 436,103.9 439,101.4 442,99.3 445,97.5 448,95.7 451,94.1 454,92.7 457,91.2 460,89.1 463,87.1 466,84.6 469,82 472,79.5 475,77.5 478,75.3 481,73.7 484,72.2 487,70.6 490,68.9 493,67.5 494.5,67" fill="none" stroke="#000" stroke-width="0.5" stroke-linejoin="round" stroke-linecap="round"/>
<polyline points="373,138 376,136.7 379,134.9 382,133.4 385,132 388,130.6 391,129.2 394,128 397,126.7 400,125.1 403,123.2 406,121.1 409,119 412,117.3 415,115.7 418,114.1 421,112.7 424,111.3 427,110.1 430,108.5 433,106.3 436,103.6 439,101 442,98.9 445,97.1 448,95.4 451,93.7 454,92.3 457,90.9 460,88.8 463,86.8 466,84.4 469,81.8 472,79.3 475,77.3 478,75.2 481,73.6 484,72.2 487,70.7 490,69 493,67.7 494.5,67.3" fill="none" stroke="#000" stroke-width="0.5" stroke-linejoin="round" stroke-linecap="round"/>
<polyline points="373,138 376,136.7 379,134.9 382,133.4 385,132.1 388,130.7 391,129.4 394,128.1 397,126.8 400,125.3 403,123.5 406,121.4 409,119.3 412,117.6 415,116 418,114.5 421,113.2 424,111.8 427,110.6 430,109 433,106.8 436,104.1 439,101.6 442,99.5 445,97.7 448,96 451,94.3 454,92.9 457,91.5 460,89.4 463,87.4 466,84.9 469,82.3 472,79.9 475,77.8 478,75.7 481,74.1 484,72.6 487,71 490,69.3 493,67.9 494.5,67.5" fill="none" stroke="#000" stroke-width="0.5" stroke-linejoin="round" stroke-linecap="round"/>
<polyline points="373,138 376,136.7 379,134.9 382,133.5 385,132.1 388,130.8 391,129.4 394,128.2 397,126.9 400,125.5 403,123.6 406,121.5 409,119.5 412,117.8 415,116.2 418,114.8 421,113.4 424,112 427,110.9 430,109.2 433,107.1 436,104.4 439,101.8 442,99.8 445,98 448,96.3 451,94.6 454,93.2 457,91.8 460,89.7 463,87.7 466,85.2 469,82.6 472,80.1 475,78.1 478,75.9 481,74.3 484,72.8 487,71.2 490,69.5 493,68.1 494.5,67.6" fill="none" stroke="#000" stroke-width="0.5" stroke-linejoin="round" stroke-linecap="round"/>
<polyline points="373,138 376,136.7 379,135 382,133.5 385,132.2 388,130.8 391,129.5 394,128.2 397,126.9 400,125.4 403,123.6 406,121.4 409,119.3 412,117.6 415,116 418,114.5 421,113.2 424,111.7 427,110.6 430,108.9 433,106.7 436,104 439,101.4 442,99.3 445,97.5 448,95.8 451,94.2 454,92.8 457,91.4 460,89.3 463,87.3 466,84.9 469,82.3 472,79.9 475,77.9 478,75.8 481,74.2 484,72.8 487,71.3 490,69.6 493,68.3 494.5,67.9" fill="none" stroke="#000" stroke-width="0.5" stroke-linejoin="round" stroke-linecap="round"/>
<polyline points="373,138 376,136.8 379,135 382,133.6 385,132.3 388,130.9 391,129.6 394,128.3 397,127.1 400,125.6 403,123.7 406,121.6 409,119.5 412,117.8 415,116.3 418,114.8 421,113.4 424,112 427,110.9 430,109.2 433,107 436,104.3 439,101.7 442,99.7 445,97.8 448,96.2 451,94.5 454,93.2 457,91.7 460,89.7 463,87.7 466,85.3 469,82.7 472,80.2 475,78.2 478,76.1 481,74.5 484,73.1 487,71.5 490,69.9 493,68.6 494.5,68.1" fill="none" stroke="#000" stroke-width="0.5" stroke-linejoin="round" stroke-linecap="round"/>
<polyline points="373,138 376,136.8 379,135 382,133.6 385,132.3 388,131 391,129.6 394,128.5 397,127.2 400,125.8 403,123.9 406,121.8 409,119.8 412,118.1 415,116.6 418,115.2 421,113.8 424,112.5 427,111.3 430,109.7 433,107.5 436,104.9 439,102.3 442,100.2 445,98.4 448,96.8 451,95.1 454,93.7 457,92.3 460,90.3 463,88.2 466,85.8 469,83.2 472,80.7 475,78.7 478,76.5 481,74.9 484,73.4 487,71.8 490,70.1 493,68.7 494.5,68.2" fill="none" stroke="#000" stroke-width="0.5" stroke-linejoin="round" stroke-linecap="round"/>
<polyline points="373,138 376,136.8 379,135.1 382,133.7 385,132.4 388,131 391,129.7 394,128.5 397,127.2 400,125.7 403,123.9 406,121.7 409,119.6 412,117.9 415,116.4 418,114.9 421,113.6 424,112.1 427,111 430,109.3 433,107.1 436,104.4 439,101.8 442,99.7 445,97.9 448,96.2 451,94.6 454,93.2 457,91.8 460,89.8 463,87.8 466,85.4 469,82.8 472,80.4 475,78.5 478,76.3 481,74.8 484,73.4 487,71.9 490,70.2 493,68.9 494.5,68.5" fill="none" stroke="#000" stroke-width="0.5" stroke-linejoin="round" stroke-linecap="round"/>
<polyline points="373,138 376,136.8 379,135.1 382,133.7 385,132.5 388,131.1 391,129.8 394,128.6 397,127.4 400,126 403,124.1 406,122 409,119.9 412,118.2 415,116.7 418,115.3 421,113.9 424,112.5 427,111.4 430,109.7 433,107.5 436,104.9 439,102.3 442,100.2 445,98.4 448,96.7 451,95.1 454,93.8 457,92.3 460,90.3 463,88.3 466,85.9 469,83.4 472,80.9 475,78.9 478,76.8 481,75.2 484,73.8 487,72.2 490,70.6 493,69.2 494.5,68.8" fill="none" stroke="#000" stroke-width="0.5" stroke-linejoin="round" stroke-linecap="round"/>
<polyline points="373,138 376,136.8 379,135.2 382,133.8 385,132.5 388,131.2 391,129.9 394,128.7 397,127.4 400,126 403,124.1 406,122 409,119.9 412,118.2 415,116.7 418,115.2 421,113.9 424,112.5 427,111.3 430,109.6 433,107.4 436,104.7 439,102.1 442,100 445,98.2 448,96.6 451,94.9 454,93.6 457,92.2 460,90.2 463,88.2 466,85.8 469,83.3 472,80.9 475,78.9 478,76.8 481,75.2 484,73.9 487,72.3 490,70.7 493,69.4 494.5,69" fill="none" stroke="#000" stroke-width="0.5" stroke-linejoin="round" stroke-linecap="round"/>
<polyline points="373,138 376,136.8 379,135.2 382,133.8 385,132.6 388,131.3 391,130 394,128.8 397,127.6 400,126.2 403,124.4 406,122.3 409,120.2 412,118.5 415,117 418,115.6 421,114.3 424,112.9 427,111.8 430,110.1 433,107.9 436,105.3 439,102.7 442,100.6 445,98.9 448,97.2 451,95.6 454,94.2 457,92.8 460,90.8 463,88.8 466,86.4 469,83.9 472,81.4 475,79.4 478,77.3 481,75.7 484,74.3 487,72.7 490,71 493,69.6 494.5,69.2" fill="none" stroke="#000" stroke-width="0.5" stroke-linejoin="round" stroke-linecap="round"/>
<polyline points="373,138 376,136.9 379,135.2 382,133.9 385,132.6 388,131.3 391,130 394,128.9 397,127.7 400,126.2 403,124.4 406,122.3 409,120.2 412,118.5 415,117 418,115.6 421,114.3 424,112.9 427,111.8 430,110.1 433,107.9 436,105.2 439,102.7 442,100.6 445,98.8 448,97.2 451,95.5 454,94.2 457,92.8 460,90.8 463,88.8 466,86.4 469,83.9 472,81.5 475,79.5 478,77.3 481,75.8 484,74.4 487,72.8 490,71.1 493,69.8 494.5,69.3" fill="none" stroke="#000" stroke-width="0.5" stroke-linejoin="round" stroke-linecap="round"/>
<polyline points="373,138 376,136.9 379,135.2 382,133.9 385,132.6 388,131.3 391,130 394,128.9 397,127.6 400,126.2 403,124.3 406,122.2 409,120.1 412,118.4 415,116.9 418,115.4 421,114.1 424,112.7 427,111.5 430,109.8 433,107.6 436,104.9 439,102.3 442,100.2 445,98.4 448,96.8 451,95.2 454,93.8 457,92.4 460,90.4 463,88.5 466,86.1 469,83.6 472,81.2 475,79.3 478,77.2 481,75.7 484,74.3 487,72.8 490,71.2 493,69.9 494.5,69.5" fill="none" stroke="#000" stroke-width="0.5" stroke-linejoin="round" stroke-linecap="round"/>
<polyline points="373,138 376,136.9 379,135.3 382,134 385,132.8 388,131.5 391,130.2 394,129.1 397,127.9 400,126.5 403,124.7 406,122.6 409,120.5 412,118.8 415,117.4 418,116 421,114.7 424,113.3 427,112.2 430,110.5 433,108.3 436,105.6 439,103 442,101 445,99.2 448,97.6 451,96 454,94.6 457,93.2 460,91.2 463,89.3 466,86.9 469,84.3 472,81.9 475,80 478,77.8 481,76.3 484,74.9 487,73.3 490,71.6 493,70.3 494.5,69.8" fill="none" stroke="#000" stroke-width="0.5" stroke-linejoin="round" stroke-linecap="round"/>
<polyline points="373,138 376,136.9 379,135.3 382,134 385,132.8 388,131.5 391,130.2 394,129.1 397,127.9 400,126.4 403,124.6 406,122.4 409,120.3 412,118.7 415,117.2 418,115.7 421,114.4 424,113 427,111.9 430,110.2 433,107.9 436,105.2 439,102.6 442,100.5 445,98.8 448,97.1 451,95.5 454,94.2 457,92.8 460,90.8 463,88.9 466,86.5 469,84 472,81.7 475,79.7 478,77.6 481,76.1 484,74.8 487,73.2 490,71.6 493,70.4 494.5,69.9" fill="none" stroke="#000" stroke-width="0.5" stroke-linejoin="round" stroke-linecap="round"/>
<polyline points="373,138 376,136.9 379,135.4 382,134.1 385,132.9 388,131.6 391,130.4 394,129.3 397,128.1 400,126.7 403,124.9 406,122.8 409,120.8 412,119.1 415,117.7 418,116.3 421,115.1 424,113.7 427,112.6 430,110.9 433,108.7 436,106 439,103.4 442,101.4 445,99.6 448,98 451,96.4 454,95.1 457,93.7 460,91.7 463,89.8 466,87.4 469,84.9 472,82.5 475,80.5 478,78.3 481,76.8 484,75.4 487,73.8 490,72.1 493,70.7 494.5,70.3" fill="none" stroke="#000" stroke-width="0.5" stroke-linejoin="round" stroke-linecap="round"/>
<polyline points="373,138 376,136.9 379,135.4 382,134.1 385,132.9 388,131.6 391,130.4 394,129.3 397,128.1 400,126.7 403,124.9 406,122.7 409,120.6 412,119 415,117.5 418,116.1 421,114.8 424,113.4 427,112.3 430,110.6 433,108.3 436,105.6 439,103 442,100.9 445,99.2 448,97.6 451,96 454,94.7 457,93.3 460,91.3 463,89.4 466,87 469,84.5 472,82.2 475,80.3 478,78.2 481,76.7 484,75.3 487,73.8 490,72.2 493,70.9 494.5,70.5" fill="none" stroke="#000" stroke-width="0.5" stroke-linejoin="round" stroke-linecap="round"/>
<polyline points="373,138 376,136.9 379,135.4 382,134.2 385,132.9 388,131.7 391,130.4 394,129.3 397,128.2 400,126.7 403,124.9 406,122.8 409,120.7 412,119 415,117.5 418,116.1 421,114.8 424,113.5 427,112.3 430,110.6 433,108.3 436,105.6 439,103 442,100.9 445,99.2 448,97.6 451,96 454,94.7 457,93.3 460,91.3 463,89.4 466,87.1 469,84.6 472,82.2 475,80.3 478,78.2 481,76.7 484,75.4 487,73.9 490,72.3 493,71 494.5,70.6" fill="none" stroke="#000" stroke-width="0.5" stroke-linejoin="round" stroke-linecap="round"/>
<polyline points="373,138 376,137 379,135.5 382,134.2 385,133 388,131.8 391,130.5 394,129.5 397,128.3 400,126.9 403,125.1 406,122.9 409,120.9 412,119.2 415,117.8 418,116.4 421,115.1 424,113.7 427,112.6 430,110.9 433,108.6 436,105.9 439,103.3 442,101.3 445,99.5 448,97.9 451,96.4 454,95 457,93.7 460,91.7 463,89.8 466,87.4 469,84.9 472,82.6 475,80.6 478,78.6 481,77 484,75.7 487,74.2 490,72.6 493,71.3 494.5,70.8" fill="none" stroke="#000" stroke-width="0.5" stroke-linejoin="round" stroke-linecap="round"/>
<polyline points="373,138 376,137 379,135.5 382,134.3 385,133.1 388,131.9 391,130.7 394,129.6 397,128.5 400,127.1 403,125.3 406,123.2 409,121.1 412,119.5 415,118 418,116.7 421,115.4 424,114.1 427,112.9 430,111.2 433,109 436,106.3 439,103.7 442,101.6 445,99.9 448,98.3 451,96.7 454,95.4 457,94.1 460,92.1 463,90.2 466,87.8 469,85.3 472,83 475,81 478,79 481,77.4 484,76.1 487,74.5 490,72.9 493,71.6 494.5,71.2" fill="none" stroke="#000" stroke-width="0.5" stroke-linejoin="round" stroke-linecap="round"/>
<polyline points="373,138 376,137 379,135.6 382,134.4 385,133.2 388,132 391,130.8 394,129.7 397,128.6 400,127.3 403,125.5 406,123.4 409,121.3 412,119.7 415,118.3 418,117 421,115.8 424,114.4 427,113.3 430,111.6 433,109.4 436,106.7 439,104.1 442,102.1 445,100.4 448,98.8 451,97.2 454,95.9 457,94.5 460,92.6 463,90.6 466,88.3 469,85.8 472,83.4 475,81.5 478,79.4 481,77.8 484,76.4 487,74.8 490,73.1 493,71.8 494.5,71.3" fill="none" stroke="#000" stroke-width="0.5" stroke-linejoin="round" stroke-linecap="round"/>
<polyline points="373,138 376,137 379,135.6 382,134.4 385,133.2 388,131.9 391,130.8 394,129.7 397,128.6 400,127.2 403,125.3 406,123.2 409,121.1 412,119.5 415,118 418,116.7 421,115.4 424,114.1 427,112.9 430,111.2 433,108.9 436,106.2 439,103.6 442,101.6 445,99.8 448,98.2 451,96.7 454,95.4 457,94 460,92.1 463,90.1 466,87.8 469,85.4 472,83 475,81.1 478,79.1 481,77.6 484,76.2 487,74.7 490,73.1 493,71.8 494.5,71.4" fill="none" stroke="#000" stroke-width="0.5" stroke-linejoin="round" stroke-linecap="round"/>
<polyline points="373,138 376,137 379,135.6 382,134.4 385,133.3 388,132 391,130.9 394,129.8 397,128.7 400,127.4 403,125.5 406,123.4 409,121.4 412,119.8 415,118.4 418,117 421,115.8 424,114.5 427,113.3 430,111.6 433,109.4 436,106.7 439,104.1 442,102.1 445,100.3 448,98.8 451,97.2 454,95.9 457,94.5 460,92.6 463,90.7 466,88.3 469,85.9 472,83.5 475,81.6 478,79.5 481,78 484,76.6 487,75 490,73.4 493,72.1 494.5,71.6" fill="none" stroke="#000" stroke-width="0.5" stroke-linejoin="round" stroke-linecap="round"/>
<polyline points="373,138 376,137 379,135.6 382,134.5 385,133.3 388,132.1 391,130.9 394,129.9 397,128.7 400,127.4 403,125.5 406,123.4 409,121.3 412,119.7 415,118.3 418,116.9 421,115.7 424,114.3 427,113.1 430,111.4 433,109.2 436,106.4 439,103.8 442,101.8 445,100.1 448,98.5 451,96.9 454,95.6 457,94.3 460,92.3 463,90.4 466,88.1 469,85.7 472,83.4 475,81.5 478,79.4 481,77.9 484,76.6 487,75.1 490,73.5 493,72.3 494.5,71.8" fill="none" stroke="#000" stroke-width="0.5" stroke-linejoin="round" stroke-linecap="round"/>
<polyline points="373,138 376,137.1 379,135.7 382,134.6 385,133.4 388,132.2 391,131.1 394,130.1 397,129 400,127.7 403,125.9 406,123.8 409,121.7 412,120.1 415,118.8 418,117.5 421,116.3 424,114.9 427,113.8 430,112.1 433,109.9 436,107.2 439,104.6 442,102.6 445,100.9 448,99.3 451,97.7 454,96.5 457,95.1 460,93.2 463,91.3 466,88.9 469,86.5 472,84.1 475,82.2 478,80.1 481,78.6 484,77.2 487,75.6 490,74 493,72.7 494.5,72.2" fill="none" stroke="#000" stroke-width="0.5" stroke-linejoin="round" stroke-linecap="round"/>
<polyline points="373,138 376,137.1 379,135.7 382,134.6 385,133.5 388,132.3 391,131.1 394,130.1 397,129 400,127.6 403,125.8 406,123.7 409,121.6 412,120 415,118.6 418,117.3 421,116 424,114.7 427,113.5 430,111.8 433,109.5 436,106.8 439,104.2 442,102.1 445,100.4 448,98.9 451,97.3 454,96 457,94.7 460,92.8 463,90.9 466,88.6 469,86.2 472,83.9 475,82 478,80 481,78.5 484,77.2 487,75.6 490,74.1 493,72.8 494.5,72.4" fill="none" stroke="#000" stroke-width="0.5" stroke-linejoin="round" stroke-linecap="round"/>
<polyline points="373,138 376,137.1 379,135.8 382,134.6 385,133.5 388,132.3 391,131.2 394,130.2 397,129.1 400,127.8 403,126 406,123.9 409,121.8 412,120.3 415,118.9 418,117.6 421,116.4 424,115.1 427,113.9 430,112.2 433,110 436,107.3 439,104.7 442,102.7 445,101 448,99.4 451,97.9 454,96.6 457,95.3 460,93.3 463,91.4 466,89.1 469,86.7 472,84.3 475,82.4 478,80.3 481,78.8 484,77.4 487,75.9 490,74.3 493,72.9 494.5,72.5" fill="none" stroke="#000" stroke-width="0.5" stroke-linejoin="round" stroke-linecap="round"/>
<polyline points="373,138 376,137.1 379,135.8 382,134.7 385,133.6 388,132.4 391,131.3 394,130.3 397,129.2 400,127.9 403,126 406,123.9 409,121.8 412,120.2 415,118.8 418,117.5 421,116.3 424,115 427,113.8 430,112.1 433,109.8 436,107.1 439,104.5 442,102.4 445,100.7 448,99.2 451,97.6 454,96.4 457,95 460,93.1 463,91.3 466,89 469,86.6 472,84.3 475,82.4 478,80.4 481,78.9 484,77.6 487,76.1 490,74.5 493,73.3 494.5,72.8" fill="none" stroke="#000" stroke-width="0.5" stroke-linejoin="round" stroke-linecap="round"/>
<polyline points="373,138 376,137.1 379,135.9 382,134.7 385,133.6 388,132.5 391,131.4 394,130.4 397,129.3 400,128 403,126.1 406,124 409,121.9 412,120.3 415,119 418,117.7 421,116.5 424,115.1 427,113.9 430,112.2 433,110 436,107.2 439,104.6 442,102.6 445,100.9 448,99.3 451,97.8 454,96.5 457,95.2 460,93.3 463,91.4 466,89.2 469,86.8 472,84.5 475,82.6 478,80.6 481,79.1 484,77.8 487,76.3 490,74.8 493,73.5 494.5,73.1" fill="none" stroke="#000" stroke-width="0.5" stroke-linejoin="round" stroke-linecap="round"/>
<polyline points="373,138 376,137.1 379,135.9 382,134.8 385,133.7 388,132.6 391,131.5 394,130.5 397,129.5 400,128.1 403,126.3 406,124.2 409,122.1 412,120.6 415,119.2 418,118 421,116.8 424,115.5 427,114.3 430,112.6 433,110.4 436,107.6 439,105 442,103 445,101.3 448,99.8 451,98.3 454,97 457,95.7 460,93.8 463,91.9 466,89.6 469,87.2 472,84.9 475,83 478,80.9 481,79.4 484,78.1 487,76.6 490,75 493,73.7 494.5,73.2" fill="none" stroke="#000" stroke-width="0.5" stroke-linejoin="round" stroke-linecap="round"/>
<polyline points="373,138 376,137.2 379,135.9 382,134.8 385,133.7 388,132.6 391,131.5 394,130.6 397,129.5 400,128.2 403,126.4 406,124.3 409,122.3 412,120.7 415,119.4 418,118.1 421,116.9 424,115.6 427,114.5 430,112.8 433,110.5 436,107.8 439,105.2 442,103.2 445,101.5 448,100 451,98.5 454,97.2 457,95.9 460,94 463,92.1 466,89.8 469,87.4 472,85.1 475,83.2 478,81.1 481,79.6 484,78.3 487,76.7 490,75.1 493,73.8 494.5,73.4" fill="none" stroke="#000" stroke-width="0.5" stroke-linejoin="round" stroke-linecap="round"/>
<polyline points="373,138 376,137.2 379,136 382,134.9 385,133.8 388,132.7 391,131.6 394,130.6 397,129.6 400,128.3 403,126.5 406,124.4 409,122.3 412,120.7 415,119.4 418,118.1 421,116.9 424,115.6 427,114.4 430,112.7 433,110.5 436,107.7 439,105.1 442,103.1 445,101.4 448,99.9 451,98.4 454,97.1 457,95.8 460,93.9 463,92.1 466,89.8 469,87.4 472,85.1 475,83.2 478,81.2 481,79.7 484,78.4 487,76.9 490,75.3 493,74.1 494.5,73.6" fill="none" stroke="#000" stroke-width="0.5" stroke-linejoin="round" stroke-linecap="round"/>
<polyline points="373,138 376,137.2 379,136 382,134.9 385,133.9 388,132.7 391,131.7 394,130.7 397,129.7 400,128.4 403,126.6 406,124.5 409,122.4 412,120.9 415,119.6 418,118.3 421,117.2 424,115.9 427,114.7 430,113 433,110.8 436,108 439,105.4 442,103.4 445,101.7 448,100.2 451,98.7 454,97.5 457,96.1 460,94.3 463,92.4 466,90.1 469,87.7 472,85.4 475,83.5 478,81.5 481,80 484,78.6 487,77.1 490,75.5 493,74.2 494.5,73.8" fill="none" stroke="#000" stroke-width="0.5" stroke-linejoin="round" stroke-linecap="round"/>
<polyline points="373,138 376,137.2 379,136 382,135 385,133.9 388,132.8 391,131.7 394,130.7 397,129.7 400,128.4 403,126.6 406,124.5 409,122.4 412,120.8 415,119.5 418,118.2 421,117.1 424,115.7 427,114.5 430,112.8 433,110.6 436,107.8 439,105.2 442,103.2 445,101.5 448,100 451,98.5 454,97.2 457,95.9 460,94 463,92.2 466,89.9 469,87.5 472,85.3 475,83.4 478,81.4 481,80 484,78.7 487,77.2 490,75.6 493,74.4 494.5,74" fill="none" stroke="#000" stroke-width="0.5" stroke-linejoin="round" stroke-linecap="round"/>
<polyline points="373,138 376,137.2 379,136.1 382,135 385,134 388,132.9 391,131.8 394,130.9 397,129.9 400,128.6 403,126.8 406,124.7 409,122.6 412,121 415,119.7 418,118.5 421,117.3 424,116 427,114.8 430,113.1 433,110.8 436,108 439,105.4 442,103.4 445,101.7 448,100.2 451,98.7 454,97.5 457,96.2 460,94.3 463,92.5 466,90.2 469,87.9 472,85.6 475,83.8 478,81.8 481,80.3 484,79 487,77.6 490,76 493,74.8 494.5,74.4" fill="none" stroke="#000" stroke-width="0.5" stroke-linejoin="round" stroke-linecap="round"/>
<polyline points="373,138 376,137.2 379,136.1 382,135.1 385,134.1 388,133 391,131.9 394,131 397,130 400,128.7 403,126.9 406,124.8 409,122.7 412,121.2 415,119.9 418,118.7 421,117.5 424,116.2 427,115.1 430,113.3 433,111.1 436,108.3 439,105.7 442,103.7 445,102.1 448,100.6 451,99.1 454,97.8 457,96.5 460,94.7 463,92.8 466,90.6 469,88.2 472,85.9 475,84.1 478,82.1 481,80.6 484,79.3 487,77.8 490,76.2 493,75 494.5,74.5" fill="none" stroke="#000" stroke-width="0.5" stroke-linejoin="round" stroke-linecap="round"/>
<polyline points="373,138 376,137.3 379,136.1 382,135.1 385,134.1 388,133.1 391,132 394,131.1 397,130.2 400,128.9 403,127.2 406,125.1 409,123 412,121.5 415,120.2 418,119 421,117.9 424,116.7 427,115.5 430,113.8 433,111.6 436,108.8 439,106.2 442,104.2 445,102.6 448,101.1 451,99.6 454,98.4 457,97.1 460,95.2 463,93.4 466,91.1 469,88.7 472,86.4 475,84.5 478,82.5 481,81 484,79.6 487,78.1 490,76.5 493,75.2 494.5,74.7" fill="none" stroke="#000" stroke-width="0.5" stroke-linejoin="round" stroke-linecap="round"/>
<polyline points="373,138 376,137.8 379,137.4 382,136.9 385,136.2 388,135.5 391,134.8 394,134.2 397,133.6 400,132.6 403,130.8 406,128.7 409,126.7 412,125.4 415,124.4 418,123.5 421,122.6 424,121.5 427,120.3 430,118.5 433,116.2 436,113.4 439,110.7 442,108.8 445,107.3 448,106.1 451,104.8 454,103.7 457,102.5 460,100.9 463,99.2 466,97.2 469,95 472,92.9 475,91.2 478,89.4 481,88 484,86.7 487,85.3 490,83.8 493,82.6 494.5,82.2" fill="none" stroke="#000" stroke-width="0.45" stroke-linejoin="round" stroke-linecap="round"/>
<polyline points="373,138 376,137.8 379,137.3 382,136.8 385,136.1 388,135.3 391,134.6 394,134 397,133.3 400,132.3 403,130.6 406,128.4 409,126.4 412,125 415,124 418,123.1 421,122.2 424,121 427,119.8 430,118.1 433,115.8 436,112.9 439,110.3 442,108.4 445,106.9 448,105.6 451,104.3 454,103.2 457,102 460,100.4 463,98.7 466,96.6 469,94.5 472,92.4 475,90.7 478,88.8 481,87.5 484,86.2 487,84.8 490,83.3 493,82.1 494.5,81.7" fill="none" stroke="#000" stroke-width="0.45" stroke-linejoin="round" stroke-linecap="round"/>
<polyline points="373,138 376,137.7 379,137.2 382,136.6 385,135.9 388,135.1 391,134.3 394,133.7 397,133 400,131.9 403,130.1 406,128 409,126 412,124.6 415,123.5 418,122.6 421,121.7 424,120.5 427,119.3 430,117.5 433,115.2 436,112.4 439,109.7 442,107.8 445,106.3 448,105 451,103.6 454,102.5 457,101.3 460,99.6 463,98 466,95.9 469,93.7 472,91.6 475,89.9 478,88.1 481,86.7 484,85.4 487,84 490,82.5 493,81.3 494.5,80.9" fill="none" stroke="#000" stroke-width="0.45" stroke-linejoin="round" stroke-linecap="round"/>
<polyline points="373,138 376,137.7 379,137.1 382,136.5 385,135.7 388,134.9 391,134.1 394,133.5 397,132.8 400,131.7 403,130 406,127.8 409,125.8 412,124.5 415,123.4 418,122.5 421,121.5 424,120.4 427,119.2 430,117.4 433,115.2 436,112.4 439,109.7 442,107.8 445,106.3 448,105 451,103.6 454,102.5 457,101.3 460,99.6 463,97.9 466,95.8 469,93.5 472,91.4 475,89.6 478,87.7 481,86.3 484,85 487,83.5 490,82 493,80.7 494.5,80.3" fill="none" stroke="#000" stroke-width="0.45" stroke-linejoin="round" stroke-linecap="round"/>
<polyline points="373,138 376,137.6 379,137 382,136.3 385,135.6 388,134.7 391,133.9 394,133.2 397,132.5 400,131.3 403,129.6 406,127.4 409,125.4 412,124 415,122.9 418,121.9 421,120.9 424,119.7 427,118.5 430,116.7 433,114.4 436,111.6 439,109 442,107 445,105.5 448,104.2 451,102.8 454,101.7 457,100.5 460,98.8 463,97 466,95 469,92.7 472,90.6 475,88.9 478,87 481,85.6 484,84.4 487,83 490,81.5 493,80.3 494.5,79.9" fill="none" stroke="#000" stroke-width="0.45" stroke-linejoin="round" stroke-linecap="round"/>
<polyline points="373,138 376,137.6 379,136.9 382,136.2 385,135.4 388,134.5 391,133.7 394,133 397,132.3 400,131.2 403,129.5 406,127.4 409,125.4 412,124 415,122.9 418,121.9 421,120.9 424,119.8 427,118.6 430,116.9 433,114.6 436,111.8 439,109.2 442,107.3 445,105.7 448,104.4 451,103 454,101.9 457,100.7 460,98.9 463,97.2 466,95 469,92.7 472,90.6 475,88.8 478,86.8 481,85.4 484,84 487,82.5 490,81 493,79.7 494.5,79.2" fill="none" stroke="#000" stroke-width="0.45" stroke-linejoin="round" stroke-linecap="round"/>
<polyline points="373,138 376,137.5 379,136.8 382,136 385,135.2 388,134.3 391,133.5 394,132.8 397,132 400,130.8 403,129.1 406,127 409,125 412,123.6 415,122.4 418,121.4 421,120.5 424,119.3 427,118.1 430,116.4 433,114.1 436,111.3 439,108.7 442,106.7 445,105.2 448,103.8 451,102.4 454,101.3 457,100.1 460,98.3 463,96.5 466,94.4 469,92.1 472,89.9 475,88.1 478,86.2 481,84.7 484,83.4 487,81.9 490,80.3 493,79 494.5,78.6" fill="none" stroke="#000" stroke-width="0.45" stroke-linejoin="round" stroke-linecap="round"/>
<polyline points="373,138 376,137.5 379,136.7 382,135.9 385,135 388,134.1 391,133.2 394,132.5 397,131.6 400,130.5 403,128.7 406,126.6 409,124.5 412,123.1 415,121.9 418,120.9 421,119.9 424,118.6 427,117.4 430,115.7 433,113.4 436,110.7 439,108 442,106.1 445,104.5 448,103.1 451,101.7 454,100.5 457,99.3 460,97.5 463,95.7 466,93.6 469,91.3 472,89.1 475,87.3 478,85.4 481,83.9 484,82.6 487,81.2 490,79.6 493,78.4 494.5,77.9" fill="none" stroke="#000" stroke-width="0.45" stroke-linejoin="round" stroke-linecap="round"/>
<polyline points="373,138 376,137.4 379,136.6 382,135.7 385,134.8 388,133.8 391,132.9 394,132.1 397,131.3 400,130.1 403,128.3 406,126.2 409,124.1 412,122.7 415,121.5 418,120.4 421,119.3 424,118.1 427,116.9 430,115.1 433,112.9 436,110.1 439,107.5 442,105.5 445,103.9 448,102.5 451,101.1 454,99.9 457,98.6 460,96.8 463,95 466,92.9 469,90.6 472,88.4 475,86.6 478,84.6 481,83.2 484,81.9 487,80.4 490,78.9 493,77.6 494.5,77.2" fill="none" stroke="#000" stroke-width="0.45" stroke-linejoin="round" stroke-linecap="round"/>
<polyline points="373,138 376,137.4 379,136.5 382,135.6 385,134.7 388,133.7 391,132.7 394,131.9 397,131.1 400,129.9 403,128.1 406,126 409,124 412,122.5 415,121.3 418,120.2 421,119.1 424,117.9 427,116.7 430,115 433,112.8 436,110 439,107.4 442,105.4 445,103.8 448,102.4 451,100.9 454,99.7 457,98.5 460,96.7 463,94.9 466,92.7 469,90.3 472,88.1 475,86.3 478,84.3 481,82.8 484,81.5 487,80 490,78.4 493,77.1 494.5,76.7" fill="none" stroke="#000" stroke-width="0.45" stroke-linejoin="round" stroke-linecap="round"/>
<polyline points="373,138 376,137.3 379,136.4 382,135.4 385,134.5 388,133.4 391,132.5 394,131.6 397,130.7 400,129.5 403,127.7 406,125.5 409,123.5 412,122 415,120.7 418,119.6 421,118.5 424,117.2 427,116 430,114.3 433,112 436,109.3 439,106.7 442,104.7 445,103 448,101.6 451,100.1 454,98.9 457,97.6 460,95.8 463,94 466,91.8 469,89.5 472,87.2 475,85.4 478,83.4 481,82 484,80.7 487,79.2 490,77.6 493,76.4 494.5,76" fill="none" stroke="#000" stroke-width="0.45" stroke-linejoin="round" stroke-linecap="round"/>
<polyline points="373,138 376,137.3 379,136.3 382,135.3 385,134.3 388,133.3 391,132.3 394,131.4 397,130.5 400,129.3 403,127.5 406,125.4 409,123.3 412,121.8 415,120.6 418,119.4 421,118.4 424,117.1 427,115.9 430,114.2 433,112 436,109.2 439,106.6 442,104.6 445,103 448,101.5 451,100.1 454,98.8 457,97.6 460,95.7 463,93.9 466,91.6 469,89.3 472,87 475,85.1 478,83.1 481,81.6 484,80.3 487,78.8 490,77.2 493,75.9 494.5,75.4" fill="none" stroke="#000" stroke-width="0.45" stroke-linejoin="round" stroke-linecap="round"/>
<polyline points="534.8,168.3 537.3,161.6 539.8,154.2 542.3,148.4 544.8,142.7 547.3,137.1 549.8,131.9 552.3,127.2 554.8,123 557.3,119.4 559.8,115.9 562.3,112.9 564.8,109.8 567.3,106.7 569.8,104.6 572.3,102.4 574.8,100.2 577.3,98.2 579.8,96.4 582.3,94.8 584.8,93.5 587.3,91.8 589.8,90.6 592.3,89.1 594.8,87.6 597.3,86 599.8,84.6 602.3,83.3 604.8,82.1 607.3,81 609.8,80.1 612.3,79.1 614.8,78.2 617.3,77.3 619.8,76.4 622.3,75.6 624.8,74.7 627.3,73.9 629.8,73.1 632.3,72.4 634.8,71.8 637.3,71.2 639.8,70.7 642.3,70 644.8,69.3 647.3,68.6 649.8,67.8 652.3,66.9 654.8,66 657.3,65.1 659.8,64.4 662.3,63.7 664.2,63.4" fill="none" stroke="#000" stroke-width="0.45" stroke-linejoin="round" stroke-linecap="round"/>
<polyline points="534.8,168.3 537.3,161.6 539.8,154.3 542.3,148.6 544.8,143 547.3,137.5 549.8,132.3 552.3,127.7 554.8,123.5 557.3,120 559.8,116.5 562.3,113.6 564.8,110.5 567.3,107.4 569.8,105.3 572.3,103.1 574.8,100.9 577.3,99 579.8,97.2 582.3,95.5 584.8,94.2 587.3,92.5 589.8,91.2 592.3,89.8 594.8,88.2 597.3,86.6 599.8,85.2 602.3,83.9 604.8,82.7 607.3,81.6 609.8,80.7 612.3,79.7 614.8,78.7 617.3,77.9 619.8,77 622.3,76.1 624.8,75.2 627.3,74.4 629.8,73.6 632.3,72.9 634.8,72.3 637.3,71.7 639.8,71.1 642.3,70.5 644.8,69.7 647.3,69 649.8,68.2 652.3,67.3 654.8,66.4 657.3,65.6 659.8,64.8 662.3,64.1 664.2,63.8" fill="none" stroke="#000" stroke-width="0.5" stroke-linejoin="round" stroke-linecap="round"/>
<polyline points="534.8,168.3 537.3,161.7 539.8,154.4 542.3,148.7 544.8,143.2 547.3,137.6 549.8,132.5 552.3,127.8 554.8,123.7 557.3,120.2 559.8,116.7 562.3,113.7 564.8,110.6 567.3,107.6 569.8,105.4 572.3,103.2 574.8,101 577.3,99.1 579.8,97.3 582.3,95.5 584.8,94.2 587.3,92.5 589.8,91.2 592.3,89.7 594.8,88.1 597.3,86.5 599.8,85 602.3,83.8 604.8,82.5 607.3,81.4 609.8,80.4 612.3,79.4 614.8,78.4 617.3,77.6 619.8,76.7 622.3,75.8 624.8,74.9 627.3,74.1 629.8,73.3 632.3,72.6 634.8,72 637.3,71.5 639.8,70.9 642.3,70.3 644.8,69.6 647.3,68.9 649.8,68.1 652.3,67.3 654.8,66.4 657.3,65.6 659.8,64.8 662.3,64.2 664.2,63.9" fill="none" stroke="#000" stroke-width="0.5" stroke-linejoin="round" stroke-linecap="round"/>
<polyline points="534.8,168.3 537.3,161.7 539.8,154.5 542.3,148.8 544.8,143.3 547.3,137.7 549.8,132.6 552.3,128 554.8,123.9 557.3,120.4 559.8,117 562.3,114.1 564.8,111 567.3,107.9 569.8,105.8 572.3,103.6 574.8,101.5 577.3,99.6 579.8,97.8 582.3,96.1 584.8,94.7 587.3,93.1 589.8,91.7 592.3,90.3 594.8,88.7 597.3,87.1 599.8,85.7 602.3,84.4 604.8,83.1 607.3,82 609.8,81.1 612.3,80.1 614.8,79.1 617.3,78.2 619.8,77.3 622.3,76.4 624.8,75.6 627.3,74.7 629.8,73.9 632.3,73.2 634.8,72.6 637.3,72 639.8,71.4 642.3,70.8 644.8,70 647.3,69.3 649.8,68.5 652.3,67.6 654.8,66.7 657.3,65.8 659.8,65 662.3,64.4 664.2,64" fill="none" stroke="#000" stroke-width="0.5" stroke-linejoin="round" stroke-linecap="round"/>
<polyline points="534.8,168.3 537.3,161.7 539.8,154.5 542.3,148.9 544.8,143.4 547.3,137.9 549.8,132.8 552.3,128.2 554.8,124.1 557.3,120.7 559.8,117.2 562.3,114.3 564.8,111.2 567.3,108.2 569.8,106.1 572.3,103.9 574.8,101.8 577.3,99.8 579.8,98 582.3,96.3 584.8,95 587.3,93.3 589.8,92 592.3,90.5 594.8,88.9 597.3,87.3 599.8,85.8 602.3,84.5 604.8,83.2 607.3,82.2 609.8,81.2 612.3,80.2 614.8,79.2 617.3,78.3 619.8,77.4 622.3,76.5 624.8,75.6 627.3,74.8 629.8,74 632.3,73.3 634.8,72.6 637.3,72.1 639.8,71.5 642.3,70.8 644.8,70.1 647.3,69.4 649.8,68.6 652.3,67.7 654.8,66.8 657.3,65.9 659.8,65.1 662.3,64.5 664.2,64.1" fill="none" stroke="#000" stroke-width="0.5" stroke-linejoin="round" stroke-linecap="round"/>
<polyline points="534.8,168.3 537.3,161.8 539.8,154.6 542.3,149 544.8,143.5 547.3,138 549.8,133 552.3,128.4 554.8,124.3 557.3,120.8 559.8,117.4 562.3,114.5 564.8,111.4 567.3,108.4 569.8,106.3 572.3,104.1 574.8,102 577.3,100 579.8,98.2 582.3,96.4 584.8,95.1 587.3,93.3 589.8,92 592.3,90.5 594.8,88.9 597.3,87.3 599.8,85.8 602.3,84.5 604.8,83.2 607.3,82.1 609.8,81.1 612.3,80.1 614.8,79 617.3,78.2 619.8,77.2 622.3,76.3 624.8,75.5 627.3,74.6 629.8,73.8 632.3,73.1 634.8,72.5 637.3,71.9 639.8,71.4 642.3,70.7 644.8,70 647.3,69.3 649.8,68.5 652.3,67.7 654.8,66.8 657.3,66 659.8,65.2 662.3,64.6 664.2,64.3" fill="none" stroke="#000" stroke-width="0.5" stroke-linejoin="round" stroke-linecap="round"/>
<polyline points="534.8,168.3 537.3,161.8 539.8,154.7 542.3,149.2 544.8,143.7 547.3,138.3 549.8,133.3 552.3,128.7 554.8,124.7 557.3,121.3 559.8,117.9 562.3,115 564.8,112 567.3,109 569.8,106.9 572.3,104.7 574.8,102.6 577.3,100.6 579.8,98.8 582.3,97.1 584.8,95.7 587.3,93.9 589.8,92.6 592.3,91.1 594.8,89.4 597.3,87.8 599.8,86.3 602.3,85 604.8,83.7 607.3,82.6 609.8,81.6 612.3,80.6 614.8,79.5 617.3,78.6 619.8,77.7 622.3,76.8 624.8,75.9 627.3,75 629.8,74.2 632.3,73.5 634.8,72.9 637.3,72.3 639.8,71.7 642.3,71.1 644.8,70.3 647.3,69.6 649.8,68.8 652.3,68 654.8,67.1 657.3,66.2 659.8,65.5 662.3,64.8 664.2,64.5" fill="none" stroke="#000" stroke-width="0.5" stroke-linejoin="round" stroke-linecap="round"/>
<polyline points="534.8,168.3 537.3,161.8 539.8,154.8 542.3,149.2 544.8,143.8 547.3,138.4 549.8,133.4 552.3,128.8 554.8,124.8 557.3,121.4 559.8,118 562.3,115.2 564.8,112.1 567.3,109.1 569.8,107 572.3,104.9 574.8,102.7 577.3,100.8 579.8,99 582.3,97.2 584.8,95.9 587.3,94.1 589.8,92.8 592.3,91.2 594.8,89.6 597.3,88 599.8,86.5 602.3,85.1 604.8,83.8 607.3,82.7 609.8,81.7 612.3,80.7 614.8,79.6 617.3,78.7 619.8,77.8 622.3,76.9 624.8,76 627.3,75.1 629.8,74.3 632.3,73.6 634.8,73 637.3,72.4 639.8,71.8 642.3,71.2 644.8,70.4 647.3,69.7 649.8,68.9 652.3,68 654.8,67.1 657.3,66.3 659.8,65.5 662.3,64.9 664.2,64.6" fill="none" stroke="#000" stroke-width="0.5" stroke-linejoin="round" stroke-linecap="round"/>
<polyline points="534.8,168.3 537.3,161.9 539.8,154.8 542.3,149.3 544.8,143.9 547.3,138.5 549.8,133.5 552.3,129 554.8,125 557.3,121.6 559.8,118.2 562.3,115.4 564.8,112.4 567.3,109.4 569.8,107.3 572.3,105.1 574.8,103 577.3,101 579.8,99.2 582.3,97.5 584.8,96.1 587.3,94.4 589.8,93 592.3,91.5 594.8,89.8 597.3,88.2 599.8,86.7 602.3,85.3 604.8,84 607.3,82.9 609.8,81.8 612.3,80.8 614.8,79.8 617.3,78.9 619.8,77.9 622.3,77 624.8,76.1 627.3,75.2 629.8,74.4 632.3,73.7 634.8,73.1 637.3,72.5 639.8,71.9 642.3,71.3 644.8,70.5 647.3,69.8 649.8,69 652.3,68.1 654.8,67.3 657.3,66.4 659.8,65.6 662.3,65 664.2,64.7" fill="none" stroke="#000" stroke-width="0.5" stroke-linejoin="round" stroke-linecap="round"/>
<polyline points="534.8,168.3 537.3,161.9 539.8,154.9 542.3,149.4 544.8,144 547.3,138.7 549.8,133.7 552.3,129.3 554.8,125.3 557.3,121.9 559.8,118.6 562.3,115.8 564.8,112.8 567.3,109.9 569.8,107.8 572.3,105.6 574.8,103.5 577.3,101.6 579.8,99.8 582.3,98.1 584.8,96.7 587.3,95 589.8,93.7 592.3,92.1 594.8,90.5 597.3,88.9 599.8,87.4 602.3,86 604.8,84.7 607.3,83.6 609.8,82.6 612.3,81.5 614.8,80.5 617.3,79.6 619.8,78.6 622.3,77.7 624.8,76.8 627.3,75.9 629.8,75.1 632.3,74.4 634.8,73.7 637.3,73.1 639.8,72.5 642.3,71.8 644.8,71 647.3,70.3 649.8,69.4 652.3,68.5 654.8,67.6 657.3,66.7 659.8,65.9 662.3,65.2 664.2,64.8" fill="none" stroke="#000" stroke-width="0.5" stroke-linejoin="round" stroke-linecap="round"/>
<polyline points="534.8,168.3 537.3,162 539.8,155 542.3,149.6 544.8,144.3 547.3,138.9 549.8,134 552.3,129.6 554.8,125.6 557.3,122.3 559.8,119 562.3,116.2 564.8,113.2 567.3,110.3 569.8,108.2 572.3,106 574.8,103.9 577.3,102 579.8,100.2 582.3,98.4 584.8,97 587.3,95.3 589.8,93.9 592.3,92.3 594.8,90.7 597.3,89 599.8,87.5 602.3,86.1 604.8,84.8 607.3,83.6 609.8,82.6 612.3,81.5 614.8,80.4 617.3,79.5 619.8,78.6 622.3,77.6 624.8,76.7 627.3,75.8 629.8,75 632.3,74.3 634.8,73.6 637.3,73 639.8,72.4 642.3,71.8 644.8,71 647.3,70.3 649.8,69.5 652.3,68.6 654.8,67.7 657.3,66.8 659.8,66 662.3,65.4 664.2,65" fill="none" stroke="#000" stroke-width="0.5" stroke-linejoin="round" stroke-linecap="round"/>
<polyline points="534.8,168.3 537.3,162 539.8,155.1 542.3,149.7 544.8,144.4 547.3,139.1 549.8,134.2 552.3,129.8 554.8,125.9 557.3,122.6 559.8,119.3 562.3,116.5 564.8,113.6 567.3,110.7 569.8,108.6 572.3,106.5 574.8,104.4 577.3,102.4 579.8,100.6 582.3,98.9 584.8,97.5 587.3,95.7 589.8,94.3 592.3,92.8 594.8,91.1 597.3,89.5 599.8,87.9 602.3,86.6 604.8,85.2 607.3,84 609.8,83 612.3,81.9 614.8,80.9 617.3,79.9 619.8,79 622.3,78 624.8,77.1 627.3,76.2 629.8,75.4 632.3,74.6 634.8,74 637.3,73.4 639.8,72.7 642.3,72.1 644.8,71.3 647.3,70.6 649.8,69.7 652.3,68.8 654.8,67.9 657.3,67 659.8,66.2 662.3,65.5 664.2,65.2" fill="none" stroke="#000" stroke-width="0.5" stroke-linejoin="round" stroke-linecap="round"/>
<polyline points="534.8,168.3 537.3,162 539.8,155.2 542.3,149.8 544.8,144.5 547.3,139.2 549.8,134.3 552.3,130 554.8,126 557.3,122.8 559.8,119.5 562.3,116.7 564.8,113.8 567.3,110.9 569.8,108.9 572.3,106.7 574.8,104.6 577.3,102.7 579.8,100.9 582.3,99.1 584.8,97.7 587.3,95.9 589.8,94.5 592.3,93 594.8,91.3 597.3,89.6 599.8,88.1 602.3,86.7 604.8,85.4 607.3,84.2 609.8,83.1 612.3,82.1 614.8,81 617.3,80 619.8,79.1 622.3,78.1 624.8,77.2 627.3,76.3 629.8,75.5 632.3,74.7 634.8,74.1 637.3,73.4 639.8,72.8 642.3,72.2 644.8,71.4 647.3,70.7 649.8,69.8 652.3,68.9 654.8,68 657.3,67.1 659.8,66.3 662.3,65.7 664.2,65.3" fill="none" stroke="#000" stroke-width="0.5" stroke-linejoin="round" stroke-linecap="round"/>
<polyline points="534.8,168.3 537.3,162.1 539.8,155.2 542.3,149.8 544.8,144.6 547.3,139.3 549.8,134.4 552.3,130 554.8,126.1 557.3,122.9 559.8,119.6 562.3,116.8 564.8,113.9 567.3,111 569.8,108.9 572.3,106.8 574.8,104.6 577.3,102.7 579.8,100.9 582.3,99.1 584.8,97.7 587.3,95.9 589.8,94.5 592.3,92.9 594.8,91.2 597.3,89.5 599.8,87.9 602.3,86.5 604.8,85.2 607.3,84 609.8,82.9 612.3,81.8 614.8,80.7 617.3,79.8 619.8,78.8 622.3,77.9 624.8,76.9 627.3,76 629.8,75.2 632.3,74.5 634.8,73.8 637.3,73.2 639.8,72.6 642.3,72 644.8,71.2 647.3,70.5 649.8,69.7 652.3,68.8 654.8,67.9 657.3,67.1 659.8,66.3 662.3,65.7 664.2,65.4" fill="none" stroke="#000" stroke-width="0.5" stroke-linejoin="round" stroke-linecap="round"/>
<polyline points="534.8,168.3 537.3,162.1 539.8,155.3 542.3,149.9 544.8,144.7 547.3,139.4 549.8,134.6 552.3,130.2 554.8,126.4 557.3,123.1 559.8,119.9 562.3,117.1 564.8,114.2 567.3,111.3 569.8,109.3 572.3,107.1 574.8,105 577.3,103 579.8,101.2 582.3,99.5 584.8,98.1 587.3,96.2 589.8,94.8 592.3,93.2 594.8,91.5 597.3,89.9 599.8,88.3 602.3,86.9 604.8,85.5 607.3,84.3 609.8,83.2 612.3,82.2 614.8,81.1 617.3,80.1 619.8,79.1 622.3,78.2 624.8,77.2 627.3,76.3 629.8,75.5 632.3,74.7 634.8,74.1 637.3,73.5 639.8,72.9 642.3,72.2 644.8,71.5 647.3,70.7 649.8,69.9 652.3,69 654.8,68.1 657.3,67.2 659.8,66.5 662.3,65.8 664.2,65.5" fill="none" stroke="#000" stroke-width="0.5" stroke-linejoin="round" stroke-linecap="round"/>
<polyline points="534.8,168.3 537.3,162.1 539.8,155.4 542.3,150.1 544.8,144.8 547.3,139.6 549.8,134.8 552.3,130.5 554.8,126.6 557.3,123.4 559.8,120.1 562.3,117.4 564.8,114.5 567.3,111.7 569.8,109.6 572.3,107.5 574.8,105.3 577.3,103.4 579.8,101.6 582.3,99.8 584.8,98.4 587.3,96.6 589.8,95.2 592.3,93.6 594.8,91.9 597.3,90.2 599.8,88.6 602.3,87.2 604.8,85.8 607.3,84.6 609.8,83.5 612.3,82.4 614.8,81.3 617.3,80.3 619.8,79.4 622.3,78.4 624.8,77.4 627.3,76.5 629.8,75.7 632.3,74.9 634.8,74.3 637.3,73.7 639.8,73.1 642.3,72.4 644.8,71.7 647.3,70.9 649.8,70.1 652.3,69.2 654.8,68.3 657.3,67.4 659.8,66.6 662.3,66 664.2,65.6" fill="none" stroke="#000" stroke-width="0.5" stroke-linejoin="round" stroke-linecap="round"/>
<polyline points="534.8,168.3 537.3,162.2 539.8,155.4 542.3,150.2 544.8,145 547.3,139.8 549.8,135 552.3,130.7 554.8,126.8 557.3,123.6 559.8,120.4 562.3,117.7 564.8,114.8 567.3,112 569.8,109.9 572.3,107.8 574.8,105.6 577.3,103.7 579.8,101.9 582.3,100.1 584.8,98.6 587.3,96.8 589.8,95.4 592.3,93.8 594.8,92 597.3,90.3 599.8,88.7 602.3,87.3 604.8,85.9 607.3,84.7 609.8,83.5 612.3,82.5 614.8,81.3 617.3,80.4 619.8,79.4 622.3,78.4 624.8,77.5 627.3,76.5 629.8,75.7 632.3,74.9 634.8,74.3 637.3,73.7 639.8,73.1 642.3,72.4 644.8,71.7 647.3,71 649.8,70.1 652.3,69.3 654.8,68.4 657.3,67.5 659.8,66.7 662.3,66.1 664.2,65.8" fill="none" stroke="#000" stroke-width="0.5" stroke-linejoin="round" stroke-linecap="round"/>
<polyline points="534.8,168.3 537.3,162.2 539.8,155.5 542.3,150.2 544.8,145.1 547.3,139.9 549.8,135.1 552.3,130.8 554.8,127 557.3,123.8 559.8,120.6 562.3,117.9 564.8,115.1 567.3,112.2 569.8,110.2 572.3,108.1 574.8,105.9 577.3,104 579.8,102.2 582.3,100.4 584.8,99 587.3,97.1 589.8,95.7 592.3,94.1 594.8,92.4 597.3,90.6 599.8,89 602.3,87.6 604.8,86.2 607.3,85 609.8,83.9 612.3,82.8 614.8,81.7 617.3,80.7 619.8,79.7 622.3,78.7 624.8,77.8 627.3,76.8 629.8,76 632.3,75.2 634.8,74.6 637.3,73.9 639.8,73.3 642.3,72.7 644.8,71.9 647.3,71.2 649.8,70.3 652.3,69.4 654.8,68.5 657.3,67.7 659.8,66.9 662.3,66.2 664.2,65.9" fill="none" stroke="#000" stroke-width="0.5" stroke-linejoin="round" stroke-linecap="round"/>
<polyline points="534.8,168.3 537.3,162.2 539.8,155.6 542.3,150.4 544.8,145.2 547.3,140.1 549.8,135.4 552.3,131.1 554.8,127.3 557.3,124.2 559.8,121 562.3,118.4 564.8,115.5 567.3,112.7 569.8,110.7 572.3,108.6 574.8,106.5 577.3,104.6 579.8,102.8 582.3,101 584.8,99.6 587.3,97.7 589.8,96.3 592.3,94.7 594.8,93 597.3,91.2 599.8,89.6 602.3,88.2 604.8,86.8 607.3,85.6 609.8,84.4 612.3,83.3 614.8,82.2 617.3,81.2 619.8,80.2 622.3,79.2 624.8,78.3 627.3,77.3 629.8,76.5 632.3,75.7 634.8,75 637.3,74.4 639.8,73.8 642.3,73.1 644.8,72.3 647.3,71.5 649.8,70.7 652.3,69.8 654.8,68.8 657.3,67.9 659.8,67.1 662.3,66.4 664.2,66.1" fill="none" stroke="#000" stroke-width="0.5" stroke-linejoin="round" stroke-linecap="round"/>
<polyline points="534.8,168.3 537.3,162.3 539.8,155.7 542.3,150.5 544.8,145.3 547.3,140.2 549.8,135.5 552.3,131.3 554.8,127.5 557.3,124.3 559.8,121.2 562.3,118.5 564.8,115.7 567.3,112.9 569.8,110.9 572.3,108.7 574.8,106.6 577.3,104.7 579.8,102.9 582.3,101.1 584.8,99.7 587.3,97.8 589.8,96.4 592.3,94.7 594.8,93 597.3,91.2 599.8,89.6 602.3,88.2 604.8,86.7 607.3,85.5 609.8,84.4 612.3,83.2 614.8,82.1 617.3,81.1 619.8,80.1 622.3,79.1 624.8,78.1 627.3,77.2 629.8,76.4 632.3,75.6 634.8,74.9 637.3,74.3 639.8,73.7 642.3,73 644.8,72.2 647.3,71.5 649.8,70.7 652.3,69.7 654.8,68.8 657.3,67.9 659.8,67.2 662.3,66.5 664.2,66.2" fill="none" stroke="#000" stroke-width="0.5" stroke-linejoin="round" stroke-linecap="round"/>
<polyline points="534.8,168.3 537.3,162.3 539.8,155.8 542.3,150.6 544.8,145.6 547.3,140.5 549.8,135.8 552.3,131.6 554.8,127.9 557.3,124.8 559.8,121.7 562.3,119 564.8,116.3 567.3,113.5 569.8,111.4 572.3,109.3 574.8,107.2 577.3,105.3 579.8,103.5 582.3,101.7 584.8,100.3 587.3,98.4 589.8,96.9 592.3,95.3 594.8,93.5 597.3,91.8 599.8,90.2 602.3,88.7 604.8,87.3 607.3,86 609.8,84.9 612.3,83.7 614.8,82.6 617.3,81.6 619.8,80.6 622.3,79.5 624.8,78.6 627.3,77.6 629.8,76.8 632.3,76 634.8,75.3 637.3,74.7 639.8,74 642.3,73.4 644.8,72.6 647.3,71.8 649.8,71 652.3,70 654.8,69.1 657.3,68.2 659.8,67.4 662.3,66.8 664.2,66.4" fill="none" stroke="#000" stroke-width="0.5" stroke-linejoin="round" stroke-linecap="round"/>
<polyline points="534.8,168.3 537.3,162.4 539.8,155.8 542.3,150.7 544.8,145.7 547.3,140.6 549.8,136 552.3,131.8 554.8,128.1 557.3,125 559.8,121.9 562.3,119.3 564.8,116.5 567.3,113.7 569.8,111.7 572.3,109.6 574.8,107.5 577.3,105.5 579.8,103.7 582.3,101.9 584.8,100.4 587.3,98.5 589.8,97.1 592.3,95.4 594.8,93.6 597.3,91.9 599.8,90.2 602.3,88.7 604.8,87.3 607.3,86 609.8,84.8 612.3,83.7 614.8,82.5 617.3,81.5 619.8,80.5 622.3,79.5 624.8,78.5 627.3,77.6 629.8,76.7 632.3,75.9 634.8,75.2 637.3,74.6 639.8,74 642.3,73.3 644.8,72.6 647.3,71.8 649.8,71 652.3,70.1 654.8,69.2 657.3,68.3 659.8,67.5 662.3,66.9 664.2,66.5" fill="none" stroke="#000" stroke-width="0.5" stroke-linejoin="round" stroke-linecap="round"/>
<polyline points="534.8,168.3 537.3,162.4 539.8,155.9 542.3,150.8 544.8,145.8 547.3,140.7 549.8,136.1 552.3,131.9 554.8,128.2 557.3,125.1 559.8,122 562.3,119.5 564.8,116.7 567.3,113.9 569.8,111.9 572.3,109.8 574.8,107.7 577.3,105.7 579.8,103.9 582.3,102.1 584.8,100.6 587.3,98.7 589.8,97.3 592.3,95.6 594.8,93.8 597.3,92.1 599.8,90.4 602.3,88.9 604.8,87.5 607.3,86.2 609.8,85 612.3,83.9 614.8,82.7 617.3,81.7 619.8,80.7 622.3,79.7 624.8,78.7 627.3,77.7 629.8,76.8 632.3,76.1 634.8,75.4 637.3,74.7 639.8,74.1 642.3,73.5 644.8,72.7 647.3,71.9 649.8,71.1 652.3,70.2 654.8,69.3 657.3,68.4 659.8,67.6 662.3,66.9 664.2,66.6" fill="none" stroke="#000" stroke-width="0.5" stroke-linejoin="round" stroke-linecap="round"/>
<polyline points="534.8,168.3 537.3,162.4 539.8,155.9 542.3,150.9 544.8,145.9 547.3,140.8 549.8,136.2 552.3,132.1 554.8,128.4 557.3,125.4 559.8,122.3 562.3,119.8 564.8,117 567.3,114.3 569.8,112.3 572.3,110.2 574.8,108.1 577.3,106.2 579.8,104.4 582.3,102.7 584.8,101.2 587.3,99.3 589.8,97.9 592.3,96.2 594.8,94.4 597.3,92.7 599.8,91 602.3,89.6 604.8,88.1 607.3,86.8 609.8,85.7 612.3,84.5 614.8,83.4 617.3,82.4 619.8,81.3 622.3,80.3 624.8,79.3 627.3,78.3 629.8,77.4 632.3,76.6 634.8,75.9 637.3,75.3 639.8,74.6 642.3,73.9 644.8,73.1 647.3,72.4 649.8,71.5 652.3,70.5 654.8,69.5 657.3,68.6 659.8,67.8 662.3,67.1 664.2,66.7" fill="none" stroke="#000" stroke-width="0.5" stroke-linejoin="round" stroke-linecap="round"/>
<polyline points="534.8,168.3 537.3,162.5 539.8,156.1 542.3,151 544.8,146.1 547.3,141.1 549.8,136.5 552.3,132.4 554.8,128.8 557.3,125.7 559.8,122.7 562.3,120.2 564.8,117.5 567.3,114.7 569.8,112.7 572.3,110.6 574.8,108.5 577.3,106.6 579.8,104.8 582.3,103 584.8,101.5 587.3,99.6 589.8,98.1 592.3,96.4 594.8,94.6 597.3,92.9 599.8,91.2 602.3,89.7 604.8,88.2 607.3,86.9 609.8,85.7 612.3,84.6 614.8,83.4 617.3,82.4 619.8,81.3 622.3,80.3 624.8,79.3 627.3,78.3 629.8,77.4 632.3,76.6 634.8,75.9 637.3,75.3 639.8,74.6 642.3,74 644.8,73.2 647.3,72.4 649.8,71.5 652.3,70.6 654.8,69.7 657.3,68.8 659.8,67.9 662.3,67.3 664.2,66.9" fill="none" stroke="#000" stroke-width="0.5" stroke-linejoin="round" stroke-linecap="round"/>
<polyline points="534.8,168.3 537.3,162.5 539.8,156.1 542.3,151.1 544.8,146.1 547.3,141.2 549.8,136.6 552.3,132.5 554.8,128.9 557.3,125.9 559.8,122.9 562.3,120.3 564.8,117.6 567.3,114.9 569.8,113 572.3,110.9 574.8,108.8 577.3,106.9 579.8,105.1 582.3,103.3 584.8,101.9 587.3,100 589.8,98.5 592.3,96.8 594.8,95 597.3,93.2 599.8,91.6 602.3,90.1 604.8,88.6 607.3,87.3 609.8,86.2 612.3,85 614.8,83.8 617.3,82.8 619.8,81.7 622.3,80.7 624.8,79.7 627.3,78.7 629.8,77.8 632.3,77 634.8,76.3 637.3,75.6 639.8,75 642.3,74.3 644.8,73.5 647.3,72.7 649.8,71.8 652.3,70.8 654.8,69.8 657.3,68.9 659.8,68.1 662.3,67.4 664.2,67" fill="none" stroke="#000" stroke-width="0.5" stroke-linejoin="round" stroke-linecap="round"/>
<polyline points="534.8,168.3 537.3,162.5 539.8,156.2 542.3,151.2 544.8,146.2 547.3,141.3 549.8,136.7 552.3,132.7 554.8,129.1 557.3,126.1 559.8,123 562.3,120.5 564.8,117.8 567.3,115.1 569.8,113.1 572.3,111 574.8,108.9 577.3,107 579.8,105.2 582.3,103.4 584.8,101.9 587.3,99.9 589.8,98.5 592.3,96.7 594.8,94.9 597.3,93.1 599.8,91.4 602.3,89.9 604.8,88.4 607.3,87.1 609.8,85.9 612.3,84.7 614.8,83.5 617.3,82.5 619.8,81.5 622.3,80.4 624.8,79.4 627.3,78.4 629.8,77.5 632.3,76.7 634.8,76 637.3,75.4 639.8,74.8 642.3,74.1 644.8,73.3 647.3,72.5 649.8,71.7 652.3,70.8 654.8,69.8 657.3,68.9 659.8,68.1 662.3,67.5 664.2,67.1" fill="none" stroke="#000" stroke-width="0.5" stroke-linejoin="round" stroke-linecap="round"/>
<polyline points="534.8,168.3 537.3,162.5 539.8,156.2 542.3,151.3 544.8,146.3 547.3,141.4 549.8,136.9 552.3,132.9 554.8,129.3 557.3,126.3 559.8,123.3 562.3,120.8 564.8,118.1 567.3,115.4 569.8,113.5 572.3,111.4 574.8,109.4 577.3,107.4 579.8,105.7 582.3,103.9 584.8,102.4 587.3,100.5 589.8,99 592.3,97.3 594.8,95.5 597.3,93.7 599.8,92 602.3,90.5 604.8,89 607.3,87.7 609.8,86.5 612.3,85.3 614.8,84.1 617.3,83.1 619.8,82 622.3,81 624.8,80 627.3,79 629.8,78.1 632.3,77.3 634.8,76.5 637.3,75.9 639.8,75.2 642.3,74.5 644.8,73.7 647.3,72.9 649.8,72 652.3,71.1 654.8,70.1 657.3,69.1 659.8,68.3 662.3,67.6 664.2,67.2" fill="none" stroke="#000" stroke-width="0.5" stroke-linejoin="round" stroke-linecap="round"/>
<polyline points="534.8,168.3 537.3,162.6 539.8,156.3 542.3,151.4 544.8,146.5 547.3,141.6 549.8,137.1 552.3,133.1 554.8,129.6 557.3,126.6 559.8,123.6 562.3,121.2 564.8,118.5 567.3,115.8 569.8,113.8 572.3,111.8 574.8,109.7 577.3,107.8 579.8,106 582.3,104.2 584.8,102.7 587.3,100.7 589.8,99.2 592.3,97.5 594.8,95.7 597.3,93.9 599.8,92.1 602.3,90.6 604.8,89.1 607.3,87.8 609.8,86.6 612.3,85.4 614.8,84.2 617.3,83.1 619.8,82.1 622.3,81 624.8,80 627.3,79 629.8,78.1 632.3,77.3 634.8,76.5 637.3,75.9 639.8,75.2 642.3,74.5 644.8,73.7 647.3,73 649.8,72.1 652.3,71.1 654.8,70.2 657.3,69.3 659.8,68.4 662.3,67.8 664.2,67.4" fill="none" stroke="#000" stroke-width="0.5" stroke-linejoin="round" stroke-linecap="round"/>
<polyline points="534.8,168.3 537.3,162.6 539.8,156.4 542.3,151.5 544.8,146.7 547.3,141.8 549.8,137.3 552.3,133.3 554.8,129.8 557.3,126.9 559.8,123.9 562.3,121.4 564.8,118.8 567.3,116.1 569.8,114.2 572.3,112.1 574.8,110 577.3,108.1 579.8,106.3 582.3,104.5 584.8,103 587.3,101 589.8,99.5 592.3,97.8 594.8,95.9 597.3,94.1 599.8,92.4 602.3,90.9 604.8,89.3 607.3,88 609.8,86.8 612.3,85.6 614.8,84.4 617.3,83.3 619.8,82.2 622.3,81.2 624.8,80.1 627.3,79.1 629.8,78.2 632.3,77.4 634.8,76.7 637.3,76 639.8,75.4 642.3,74.7 644.8,73.9 647.3,73.1 649.8,72.2 652.3,71.3 654.8,70.3 657.3,69.4 659.8,68.6 662.3,67.9 664.2,67.5" fill="none" stroke="#000" stroke-width="0.5" stroke-linejoin="round" stroke-linecap="round"/>
<polyline points="534.8,168.3 537.3,162.7 539.8,156.5 542.3,151.6 544.8,146.8 547.3,141.9 549.8,137.5 552.3,133.5 554.8,130 557.3,127.1 559.8,124.1 562.3,121.7 564.8,119 567.3,116.4 569.8,114.4 572.3,112.3 574.8,110.2 577.3,108.3 579.8,106.5 582.3,104.7 584.8,103.1 587.3,101.1 589.8,99.6 592.3,97.9 594.8,96 597.3,94.2 599.8,92.4 602.3,90.9 604.8,89.3 607.3,88 609.8,86.7 612.3,85.5 614.8,84.3 617.3,83.2 619.8,82.2 622.3,81.1 624.8,80 627.3,79 629.8,78.1 632.3,77.3 634.8,76.6 637.3,76 639.8,75.3 642.3,74.6 644.8,73.8 647.3,73.1 649.8,72.2 652.3,71.3 654.8,70.4 657.3,69.5 659.8,68.7 662.3,68 664.2,67.7" fill="none" stroke="#000" stroke-width="0.5" stroke-linejoin="round" stroke-linecap="round"/>
<polyline points="534.8,168.3 537.3,162.7 539.8,156.5 542.3,151.7 544.8,146.9 547.3,142 549.8,137.6 552.3,133.7 554.8,130.2 557.3,127.3 559.8,124.4 562.3,121.9 564.8,119.3 567.3,116.7 569.8,114.7 572.3,112.6 574.8,110.6 577.3,108.7 579.8,106.9 582.3,105.1 584.8,103.5 587.3,101.5 589.8,100 592.3,98.3 594.8,96.4 597.3,94.6 599.8,92.8 602.3,91.3 604.8,89.7 607.3,88.4 609.8,87.2 612.3,85.9 614.8,84.7 617.3,83.6 619.8,82.5 622.3,81.5 624.8,80.4 627.3,79.4 629.8,78.5 632.3,77.7 634.8,76.9 637.3,76.3 639.8,75.6 642.3,74.9 644.8,74.1 647.3,73.3 649.8,72.5 652.3,71.5 654.8,70.5 657.3,69.6 659.8,68.8 662.3,68.1 664.2,67.7" fill="none" stroke="#000" stroke-width="0.5" stroke-linejoin="round" stroke-linecap="round"/>
<polyline points="534.8,168.3 537.3,162.7 539.8,156.6 542.3,151.8 544.8,147 547.3,142.2 549.8,137.8 552.3,134 554.8,130.5 557.3,127.6 559.8,124.7 562.3,122.3 564.8,119.7 567.3,117.1 569.8,115.2 572.3,113.1 574.8,111.1 577.3,109.2 579.8,107.4 582.3,105.6 584.8,104 587.3,102 589.8,100.5 592.3,98.8 594.8,96.9 597.3,95 599.8,93.3 602.3,91.7 604.8,90.2 607.3,88.8 609.8,87.6 612.3,86.3 614.8,85.1 617.3,84 619.8,82.9 622.3,81.8 624.8,80.8 627.3,79.8 629.8,78.8 632.3,78 634.8,77.3 637.3,76.6 639.8,75.9 642.3,75.2 644.8,74.4 647.3,73.6 649.8,72.7 652.3,71.8 654.8,70.8 657.3,69.8 659.8,69 662.3,68.3 664.2,67.9" fill="none" stroke="#000" stroke-width="0.5" stroke-linejoin="round" stroke-linecap="round"/>
<polyline points="534.8,168.3 537.3,162.8 539.8,156.7 542.3,151.9 544.8,147.1 547.3,142.3 549.8,137.9 552.3,134.1 554.8,130.6 557.3,127.8 559.8,124.9 562.3,122.5 564.8,119.9 567.3,117.3 569.8,115.4 572.3,113.3 574.8,111.3 577.3,109.4 579.8,107.6 582.3,105.8 584.8,104.3 587.3,102.3 589.8,100.7 592.3,99 594.8,97.1 597.3,95.3 599.8,93.5 602.3,92 604.8,90.4 607.3,89.1 609.8,87.8 612.3,86.6 614.8,85.3 617.3,84.3 619.8,83.2 622.3,82.1 624.8,81 627.3,80 629.8,79.1 632.3,78.2 634.8,77.5 637.3,76.8 639.8,76.1 642.3,75.4 644.8,74.6 647.3,73.8 649.8,72.9 652.3,71.9 654.8,70.9 657.3,69.9 659.8,69.1 662.3,68.4 664.2,68" fill="none" stroke="#000" stroke-width="0.5" stroke-linejoin="round" stroke-linecap="round"/>
<polyline points="534.8,168.3 537.3,162.8 539.8,156.7 542.3,152 544.8,147.3 547.3,142.5 549.8,138.1 552.3,134.3 554.8,130.8 557.3,128 559.8,125.1 562.3,122.7 564.8,120.1 567.3,117.5 569.8,115.6 572.3,113.5 574.8,111.4 577.3,109.5 579.8,107.7 582.3,105.9 584.8,104.3 587.3,102.2 589.8,100.7 592.3,98.9 594.8,97 597.3,95.1 599.8,93.3 602.3,91.8 604.8,90.2 607.3,88.8 609.8,87.5 612.3,86.3 614.8,85 617.3,83.9 619.8,82.8 622.3,81.7 624.8,80.6 627.3,79.6 629.8,78.7 632.3,77.9 634.8,77.1 637.3,76.5 639.8,75.8 642.3,75.2 644.8,74.4 647.3,73.6 649.8,72.7 652.3,71.8 654.8,70.9 657.3,70 659.8,69.2 662.3,68.5 664.2,68.2" fill="none" stroke="#000" stroke-width="0.5" stroke-linejoin="round" stroke-linecap="round"/>
<polyline points="534.8,168.3 537.3,162.8 539.8,156.8 542.3,152.1 544.8,147.4 547.3,142.6 549.8,138.3 552.3,134.5 554.8,131.1 557.3,128.2 559.8,125.4 562.3,123 564.8,120.5 567.3,117.9 569.8,115.9 572.3,113.9 574.8,111.8 577.3,109.9 579.8,108.1 582.3,106.3 584.8,104.7 587.3,102.7 589.8,101.2 592.3,99.4 594.8,97.5 597.3,95.6 599.8,93.8 602.3,92.3 604.8,90.7 607.3,89.3 609.8,88 612.3,86.8 614.8,85.5 617.3,84.4 619.8,83.3 622.3,82.2 624.8,81.1 627.3,80.1 629.8,79.1 632.3,78.3 634.8,77.6 637.3,76.9 639.8,76.2 642.3,75.5 644.8,74.7 647.3,73.9 649.8,73 652.3,72.1 654.8,71.1 657.3,70.2 659.8,69.3 662.3,68.6 664.2,68.3" fill="none" stroke="#000" stroke-width="0.5" stroke-linejoin="round" stroke-linecap="round"/>
<polyline points="534.8,168.3 537.3,162.9 539.8,156.9 542.3,152.2 544.8,147.5 547.3,142.8 549.8,138.5 552.3,134.7 554.8,131.3 557.3,128.5 559.8,125.7 562.3,123.4 564.8,120.8 567.3,118.2 569.8,116.3 572.3,114.3 574.8,112.2 577.3,110.3 579.8,108.5 582.3,106.7 584.8,105.1 587.3,103 589.8,101.5 592.3,99.7 594.8,97.8 597.3,95.8 599.8,94.1 602.3,92.5 604.8,90.9 607.3,89.5 609.8,88.2 612.3,86.9 614.8,85.6 617.3,84.5 619.8,83.4 622.3,82.3 624.8,81.2 627.3,80.2 629.8,79.2 632.3,78.4 634.8,77.6 637.3,77 639.8,76.3 642.3,75.6 644.8,74.8 647.3,74 649.8,73.1 652.3,72.2 654.8,71.2 657.3,70.3 659.8,69.5 662.3,68.8 664.2,68.4" fill="none" stroke="#000" stroke-width="0.5" stroke-linejoin="round" stroke-linecap="round"/>
<polyline points="534.8,168.3 537.3,162.9 539.8,157 542.3,152.3 544.8,147.6 547.3,142.9 549.8,138.6 552.3,134.8 554.8,131.5 557.3,128.7 559.8,125.9 562.3,123.5 564.8,121 567.3,118.4 569.8,116.5 572.3,114.5 574.8,112.4 577.3,110.5 579.8,108.7 582.3,106.9 584.8,105.3 587.3,103.2 589.8,101.7 592.3,99.9 594.8,98 597.3,96 599.8,94.3 602.3,92.7 604.8,91 607.3,89.6 609.8,88.3 612.3,87.1 614.8,85.8 617.3,84.7 619.8,83.5 622.3,82.4 624.8,81.3 627.3,80.3 629.8,79.4 632.3,78.5 634.8,77.8 637.3,77.1 639.8,76.4 642.3,75.7 644.8,74.9 647.3,74.1 649.8,73.2 652.3,72.3 654.8,71.3 657.3,70.4 659.8,69.6 662.3,68.9 664.2,68.5" fill="none" stroke="#000" stroke-width="0.5" stroke-linejoin="round" stroke-linecap="round"/>
<polyline points="534.8,168.3 537.3,162.9 539.8,157 542.3,152.4 544.8,147.8 547.3,143.1 549.8,138.8 552.3,135.1 554.8,131.7 557.3,129 559.8,126.2 562.3,123.9 564.8,121.4 567.3,118.8 569.8,117 572.3,114.9 574.8,112.9 577.3,111 579.8,109.2 582.3,107.4 584.8,105.8 587.3,103.8 589.8,102.2 592.3,100.4 594.8,98.5 597.3,96.6 599.8,94.8 602.3,93.2 604.8,91.6 607.3,90.2 609.8,88.9 612.3,87.6 614.8,86.3 617.3,85.2 619.8,84.1 622.3,83 624.8,81.9 627.3,80.8 629.8,79.9 632.3,79 634.8,78.2 637.3,77.5 639.8,76.9 642.3,76.1 644.8,75.3 647.3,74.5 649.8,73.6 652.3,72.6 654.8,71.6 657.3,70.6 659.8,69.8 662.3,69.1 664.2,68.6" fill="none" stroke="#000" stroke-width="0.5" stroke-linejoin="round" stroke-linecap="round"/>
<polyline points="534.8,168.3 537.3,163 539.8,157.1 542.3,152.5 544.8,147.9 547.3,143.3 549.8,139.1 552.3,135.3 554.8,132 557.3,129.3 559.8,126.5 562.3,124.2 564.8,121.8 567.3,119.2 569.8,117.3 572.3,115.3 574.8,113.3 577.3,111.4 579.8,109.6 582.3,107.8 584.8,106.2 587.3,104.1 589.8,102.5 592.3,100.7 594.8,98.8 597.3,96.9 599.8,95.1 602.3,93.5 604.8,91.9 607.3,90.4 609.8,89.1 612.3,87.8 614.8,86.5 617.3,85.4 619.8,84.3 622.3,83.1 624.8,82 627.3,81 629.8,80 632.3,79.1 634.8,78.4 637.3,77.7 639.8,77 642.3,76.3 644.8,75.4 647.3,74.6 649.8,73.7 652.3,72.7 654.8,71.7 657.3,70.8 659.8,69.9 662.3,69.2 664.2,68.8" fill="none" stroke="#000" stroke-width="0.5" stroke-linejoin="round" stroke-linecap="round"/>
<polyline points="534.8,168.3 537.3,163 539.8,157.2 542.3,152.6 544.8,148 547.3,143.4 549.8,139.2 552.3,135.5 554.8,132.2 557.3,129.4 559.8,126.7 562.3,124.4 564.8,121.9 567.3,119.4 569.8,117.5 572.3,115.4 574.8,113.4 577.3,111.5 579.8,109.7 582.3,107.8 584.8,106.2 587.3,104.1 589.8,102.5 592.3,100.7 594.8,98.7 597.3,96.8 599.8,94.9 602.3,93.3 604.8,91.7 607.3,90.2 609.8,88.9 612.3,87.6 614.8,86.3 617.3,85.2 619.8,84 622.3,82.9 624.8,81.8 627.3,80.7 629.8,79.8 632.3,78.9 634.8,78.2 637.3,77.5 639.8,76.8 642.3,76.1 644.8,75.3 647.3,74.5 649.8,73.6 652.3,72.7 654.8,71.7 657.3,70.8 659.8,70 662.3,69.3 664.2,68.9" fill="none" stroke="#000" stroke-width="0.5" stroke-linejoin="round" stroke-linecap="round"/>
<polyline points="534.8,168.3 537.3,163.1 539.8,157.3 542.3,152.7 544.8,148.2 547.3,143.6 549.8,139.5 552.3,135.8 554.8,132.5 557.3,129.8 559.8,127.1 562.3,124.9 564.8,122.5 567.3,119.9 569.8,118.1 572.3,116 574.8,114 577.3,112.1 579.8,110.3 582.3,108.5 584.8,106.9 587.3,104.8 589.8,103.2 592.3,101.4 594.8,99.4 597.3,97.5 599.8,95.7 602.3,94 604.8,92.4 607.3,90.9 609.8,89.6 612.3,88.3 614.8,87 617.3,85.8 619.8,84.7 622.3,83.5 624.8,82.4 627.3,81.3 629.8,80.4 632.3,79.5 634.8,78.7 637.3,78 639.8,77.3 642.3,76.6 644.8,75.8 647.3,75 649.8,74 652.3,73.1 654.8,72.1 657.3,71.1 659.8,70.2 662.3,69.5 664.2,69.1" fill="none" stroke="#000" stroke-width="0.5" stroke-linejoin="round" stroke-linecap="round"/>
<polyline points="534.8,168.3 537.3,163.1 539.8,157.4 542.3,152.8 544.8,148.3 547.3,143.8 549.8,139.6 552.3,135.9 554.8,132.7 557.3,130 559.8,127.3 562.3,125.1 564.8,122.7 567.3,120.1 569.8,118.3 572.3,116.2 574.8,114.2 577.3,112.3 579.8,110.5 582.3,108.6 584.8,107 587.3,104.9 589.8,103.3 592.3,101.4 594.8,99.5 597.3,97.5 599.8,95.6 602.3,94 604.8,92.3 607.3,90.9 609.8,89.5 612.3,88.2 614.8,86.9 617.3,85.7 619.8,84.6 622.3,83.4 624.8,82.3 627.3,81.2 629.8,80.3 632.3,79.4 634.8,78.6 637.3,77.9 639.8,77.3 642.3,76.5 644.8,75.7 647.3,74.9 649.8,74 652.3,73.1 654.8,72.1 657.3,71.1 659.8,70.3 662.3,69.6 664.2,69.2" fill="none" stroke="#000" stroke-width="0.5" stroke-linejoin="round" stroke-linecap="round"/>
<polyline points="534.8,168.3 537.3,163.1 539.8,157.4 542.3,153 544.8,148.5 547.3,144 549.8,139.8 552.3,136.2 554.8,133 557.3,130.3 559.8,127.7 562.3,125.4 564.8,123 567.3,120.5 569.8,118.7 572.3,116.7 574.8,114.6 577.3,112.7 579.8,110.9 582.3,109.1 584.8,107.4 587.3,105.3 589.8,103.7 592.3,101.8 594.8,99.9 597.3,97.9 599.8,96 602.3,94.4 604.8,92.7 607.3,91.2 609.8,89.9 612.3,88.5 614.8,87.2 617.3,86 619.8,84.9 622.3,83.7 624.8,82.6 627.3,81.5 629.8,80.5 632.3,79.6 634.8,78.9 637.3,78.2 639.8,77.5 642.3,76.8 644.8,75.9 647.3,75.1 649.8,74.2 652.3,73.3 654.8,72.3 657.3,71.3 659.8,70.5 662.3,69.8 664.2,69.4" fill="none" stroke="#000" stroke-width="0.5" stroke-linejoin="round" stroke-linecap="round"/>
<polyline points="534.8,168.3 537.3,163.2 539.8,157.5 542.3,153 544.8,148.6 547.3,144.1 549.8,140 552.3,136.4 554.8,133.2 557.3,130.6 559.8,127.9 562.3,125.7 564.8,123.3 567.3,120.9 569.8,119 572.3,117 574.8,115 577.3,113.1 579.8,111.3 582.3,109.4 584.8,107.8 587.3,105.7 589.8,104.1 592.3,102.2 594.8,100.2 597.3,98.2 599.8,96.4 602.3,94.7 604.8,93 607.3,91.6 609.8,90.2 612.3,88.9 614.8,87.5 617.3,86.4 619.8,85.2 622.3,84 624.8,82.9 627.3,81.8 629.8,80.8 632.3,79.9 634.8,79.1 637.3,78.4 639.8,77.8 642.3,77 644.8,76.2 647.3,75.4 649.8,74.4 652.3,73.5 654.8,72.5 657.3,71.5 659.8,70.6 662.3,69.9 664.2,69.5" fill="none" stroke="#000" stroke-width="0.5" stroke-linejoin="round" stroke-linecap="round"/>
<polyline points="534.8,168.3 537.3,163.2 539.8,157.6 542.3,153.2 544.8,148.7 547.3,144.3 549.8,140.2 552.3,136.6 554.8,133.4 557.3,130.8 559.8,128.2 562.3,126 564.8,123.6 567.3,121.2 569.8,119.3 572.3,117.3 574.8,115.3 577.3,113.4 579.8,111.6 582.3,109.7 584.8,108.1 587.3,105.9 589.8,104.3 592.3,102.4 594.8,100.4 597.3,98.4 599.8,96.6 602.3,94.9 604.8,93.2 607.3,91.7 609.8,90.3 612.3,89 614.8,87.6 617.3,86.4 619.8,85.3 622.3,84.1 624.8,82.9 627.3,81.9 629.8,80.9 632.3,80 634.8,79.2 637.3,78.5 639.8,77.8 642.3,77.1 644.8,76.3 647.3,75.5 649.8,74.5 652.3,73.6 654.8,72.6 657.3,71.6 659.8,70.8 662.3,70.1 664.2,69.7" fill="none" stroke="#000" stroke-width="0.5" stroke-linejoin="round" stroke-linecap="round"/>
<polyline points="534.8,168.3 537.3,163.2 539.8,157.7 542.3,153.3 544.8,148.9 547.3,144.4 549.8,140.4 552.3,136.8 554.8,133.7 557.3,131.1 559.8,128.4 562.3,126.3 564.8,123.9 567.3,121.4 569.8,119.6 572.3,117.6 574.8,115.5 577.3,113.6 579.8,111.8 582.3,109.9 584.8,108.3 587.3,106.1 589.8,104.5 592.3,102.6 594.8,100.5 597.3,98.5 599.8,96.6 602.3,94.9 604.8,93.2 607.3,91.7 609.8,90.3 612.3,89 614.8,87.6 617.3,86.4 619.8,85.2 622.3,84 624.8,82.9 627.3,81.8 629.8,80.8 632.3,79.9 634.8,79.2 637.3,78.5 639.8,77.8 642.3,77.1 644.8,76.3 647.3,75.5 649.8,74.6 652.3,73.6 654.8,72.6 657.3,71.7 659.8,70.9 662.3,70.2 664.2,69.8" fill="none" stroke="#000" stroke-width="0.5" stroke-linejoin="round" stroke-linecap="round"/>
<polyline points="534.8,168.3 537.3,163.3 539.8,157.7 542.3,153.3 544.8,149 547.3,144.5 549.8,140.5 552.3,137 554.8,133.8 557.3,131.3 559.8,128.7 562.3,126.5 564.8,124.2 567.3,121.8 569.8,119.9 572.3,117.9 574.8,115.9 577.3,114.1 579.8,112.3 582.3,110.4 584.8,108.8 587.3,106.6 589.8,105 592.3,103.1 594.8,101.1 597.3,99.1 599.8,97.2 602.3,95.6 604.8,93.9 607.3,92.4 609.8,91 612.3,89.6 614.8,88.2 617.3,87.1 619.8,85.9 622.3,84.7 624.8,83.5 627.3,82.4 629.8,81.4 632.3,80.5 634.8,79.7 637.3,79 639.8,78.3 642.3,77.6 644.8,76.7 647.3,75.9 649.8,74.9 652.3,73.9 654.8,72.9 657.3,71.9 659.8,71 662.3,70.3 664.2,69.9" fill="none" stroke="#000" stroke-width="0.5" stroke-linejoin="round" stroke-linecap="round"/>
<polyline points="534.8,168.3 537.3,163.3 539.8,157.8 542.3,153.4 544.8,149.1 547.3,144.7 549.8,140.7 552.3,137.2 554.8,134.1 557.3,131.5 559.8,128.9 562.3,126.8 564.8,124.5 567.3,122.1 569.8,120.3 572.3,118.3 574.8,116.3 577.3,114.4 579.8,112.6 582.3,110.8 584.8,109.1 587.3,107 589.8,105.3 592.3,103.4 594.8,101.4 597.3,99.4 599.8,97.5 602.3,95.9 604.8,94.1 607.3,92.6 609.8,91.2 612.3,89.9 614.8,88.5 617.3,87.3 619.8,86.1 622.3,84.9 624.8,83.8 627.3,82.7 629.8,81.6 632.3,80.7 634.8,79.9 637.3,79.2 639.8,78.5 642.3,77.8 644.8,76.9 647.3,76 649.8,75.1 652.3,74.1 654.8,73.1 657.3,72.1 659.8,71.2 662.3,70.4 664.2,70" fill="none" stroke="#000" stroke-width="0.5" stroke-linejoin="round" stroke-linecap="round"/>
<polyline points="534.8,168.3 537.3,163.4 539.8,157.9 542.3,153.6 544.8,149.3 547.3,144.9 549.8,140.9 552.3,137.4 554.8,134.4 557.3,131.8 559.8,129.3 562.3,127.2 564.8,124.9 567.3,122.5 569.8,120.6 572.3,118.6 574.8,116.6 577.3,114.7 579.8,112.9 582.3,111 584.8,109.3 587.3,107.2 589.8,105.5 592.3,103.6 594.8,101.5 597.3,99.5 599.8,97.6 602.3,95.9 604.8,94.1 607.3,92.6 609.8,91.2 612.3,89.8 614.8,88.4 617.3,87.2 619.8,86 622.3,84.8 624.8,83.6 627.3,82.5 629.8,81.5 632.3,80.6 634.8,79.8 637.3,79.1 639.8,78.4 642.3,77.7 644.8,76.8 647.3,76 649.8,75.1 652.3,74.1 654.8,73.1 657.3,72.2 659.8,71.3 662.3,70.6 664.2,70.2" fill="none" stroke="#000" stroke-width="0.5" stroke-linejoin="round" stroke-linecap="round"/>
<polyline points="534.8,168.3 537.3,163.4 539.8,157.9 542.3,153.6 544.8,149.3 547.3,144.9 549.8,140.9 552.3,137.5 554.8,134.4 557.3,131.9 559.8,129.3 562.3,127.2 564.8,124.9 567.3,122.5 569.8,120.7 572.3,118.7 574.8,116.6 577.3,114.7 579.8,112.9 582.3,111.1 584.8,109.4 587.3,107.2 589.8,105.5 592.3,103.6 594.8,101.5 597.3,99.5 599.8,97.6 602.3,95.8 604.8,94.1 607.3,92.6 609.8,91.1 612.3,89.8 614.8,88.4 617.3,87.2 619.8,85.9 622.3,84.7 624.8,83.6 627.3,82.5 629.8,81.5 632.3,80.6 634.8,79.8 637.3,79.1 639.8,78.4 642.3,77.7 644.8,76.8 647.3,76 649.8,75.1 652.3,74.1 654.8,73.1 657.3,72.2 659.8,71.3 662.3,70.6 664.2,70.3" fill="none" stroke="#000" stroke-width="0.5" stroke-linejoin="round" stroke-linecap="round"/>
<polyline points="534.8,168.3 537.3,163.4 539.8,158 542.3,153.8 544.8,149.5 547.3,145.2 549.8,141.3 552.3,137.8 554.8,134.8 557.3,132.3 559.8,129.8 562.3,127.8 564.8,125.5 567.3,123.1 569.8,121.3 572.3,119.4 574.8,117.4 577.3,115.5 579.8,113.7 582.3,111.9 584.8,110.2 587.3,108 589.8,106.4 592.3,104.4 594.8,102.4 597.3,100.4 599.8,98.4 602.3,96.7 604.8,95 607.3,93.4 609.8,92 612.3,90.6 614.8,89.2 617.3,88 619.8,86.8 622.3,85.6 624.8,84.4 627.3,83.3 629.8,82.2 632.3,81.3 634.8,80.5 637.3,79.8 639.8,79 642.3,78.3 644.8,77.4 647.3,76.6 649.8,75.6 652.3,74.6 654.8,73.5 657.3,72.5 659.8,71.6 662.3,70.9 664.2,70.5" fill="none" stroke="#000" stroke-width="0.5" stroke-linejoin="round" stroke-linecap="round"/>
<polyline points="534.8,168.3 537.3,163.4 539.8,158.1 542.3,153.9 544.8,149.6 547.3,145.3 549.8,141.4 552.3,138 554.8,135 557.3,132.5 559.8,130.1 562.3,128 564.8,125.8 567.3,123.4 569.8,121.6 572.3,119.6 574.8,117.6 577.3,115.8 579.8,114 582.3,112.1 584.8,110.4 587.3,108.2 589.8,106.6 592.3,104.6 594.8,102.6 597.3,100.5 599.8,98.6 602.3,96.9 604.8,95.1 607.3,93.6 609.8,92.1 612.3,90.7 614.8,89.3 617.3,88.1 619.8,86.9 622.3,85.6 624.8,84.4 627.3,83.3 629.8,82.3 632.3,81.4 634.8,80.6 637.3,79.8 639.8,79.1 642.3,78.3 644.8,77.5 647.3,76.6 649.8,75.7 652.3,74.7 654.8,73.6 657.3,72.6 659.8,71.7 662.3,71 664.2,70.6" fill="none" stroke="#000" stroke-width="0.5" stroke-linejoin="round" stroke-linecap="round"/>
<polyline points="534.8,168.3 537.3,163.5 539.8,158.1 542.3,153.9 544.8,149.7 547.3,145.4 549.8,141.5 552.3,138.1 554.8,135.1 557.3,132.7 559.8,130.2 562.3,128.1 564.8,125.9 567.3,123.5 569.8,121.7 572.3,119.8 574.8,117.8 577.3,115.9 579.8,114.2 582.3,112.3 584.8,110.6 587.3,108.4 589.8,106.7 592.3,104.8 594.8,102.7 597.3,100.7 599.8,98.8 602.3,97 604.8,95.3 607.3,93.7 609.8,92.3 612.3,90.9 614.8,89.5 617.3,88.2 619.8,87 622.3,85.8 624.8,84.6 627.3,83.5 629.8,82.4 632.3,81.5 634.8,80.7 637.3,79.9 639.8,79.2 642.3,78.5 644.8,77.6 647.3,76.7 649.8,75.8 652.3,74.7 654.8,73.7 657.3,72.7 659.8,71.8 662.3,71.1 664.2,70.6" fill="none" stroke="#000" stroke-width="0.5" stroke-linejoin="round" stroke-linecap="round"/>
<polyline points="534.8,168.3 537.3,163.5 539.8,158.3 542.3,154.1 544.8,149.9 547.3,145.7 549.8,141.8 552.3,138.4 554.8,135.5 557.3,133.1 559.8,130.6 562.3,128.6 564.8,126.4 567.3,124 569.8,122.2 572.3,120.3 574.8,118.3 577.3,116.4 579.8,114.6 582.3,112.7 584.8,111 587.3,108.8 589.8,107.1 592.3,105.1 594.8,103 597.3,101 599.8,99 602.3,97.2 604.8,95.5 607.3,93.9 609.8,92.4 612.3,91 614.8,89.6 617.3,88.3 619.8,87.1 622.3,85.9 624.8,84.7 627.3,83.5 629.8,82.5 632.3,81.5 634.8,80.7 637.3,80 639.8,79.3 642.3,78.5 644.8,77.7 647.3,76.8 649.8,75.9 652.3,74.9 654.8,73.9 657.3,72.9 659.8,72 662.3,71.3 664.2,70.9" fill="none" stroke="#000" stroke-width="0.5" stroke-linejoin="round" stroke-linecap="round"/>
<polyline points="534.8,168.3 537.3,163.6 539.8,158.3 542.3,154.2 544.8,150 547.3,145.8 549.8,142 552.3,138.6 554.8,135.7 557.3,133.3 559.8,130.8 562.3,128.8 564.8,126.6 567.3,124.2 569.8,122.4 572.3,120.5 574.8,118.5 577.3,116.6 579.8,114.8 582.3,112.9 584.8,111.1 587.3,108.9 589.8,107.1 592.3,105.2 594.8,103.1 597.3,101 599.8,99 602.3,97.2 604.8,95.4 607.3,93.8 609.8,92.3 612.3,90.9 614.8,89.4 617.3,88.2 619.8,86.9 622.3,85.7 624.8,84.5 627.3,83.4 629.8,82.3 632.3,81.4 634.8,80.6 637.3,79.9 639.8,79.2 642.3,78.5 644.8,77.6 647.3,76.8 649.8,75.9 652.3,74.9 654.8,73.9 657.3,72.9 659.8,72.1 662.3,71.4 664.2,71" fill="none" stroke="#000" stroke-width="0.5" stroke-linejoin="round" stroke-linecap="round"/>
<polyline points="534.8,168.3 537.3,163.6 539.8,158.4 542.3,154.3 544.8,150.1 547.3,145.9 549.8,142.1 552.3,138.8 554.8,135.9 557.3,133.5 559.8,131.1 562.3,129.1 564.8,126.9 567.3,124.6 569.8,122.8 572.3,120.8 574.8,118.8 577.3,117 579.8,115.2 582.3,113.3 584.8,111.5 587.3,109.3 589.8,107.6 592.3,105.6 594.8,103.5 597.3,101.4 599.8,99.4 602.3,97.6 604.8,95.8 607.3,94.2 609.8,92.8 612.3,91.3 614.8,89.9 617.3,88.6 619.8,87.4 622.3,86.1 624.8,84.9 627.3,83.8 629.8,82.7 632.3,81.8 634.8,81 637.3,80.2 639.8,79.5 642.3,78.8 644.8,77.9 647.3,77.1 649.8,76.1 652.3,75.1 654.8,74.1 657.3,73.1 659.8,72.2 662.3,71.5 664.2,71.1" fill="none" stroke="#000" stroke-width="0.5" stroke-linejoin="round" stroke-linecap="round"/>
<polyline points="534.8,168.3 537.3,163.6 539.8,158.5 542.3,154.4 544.8,150.3 547.3,146.1 549.8,142.3 552.3,139 554.8,136.1 557.3,133.8 559.8,131.4 562.3,129.4 564.8,127.3 567.3,124.9 569.8,123.2 572.3,121.2 574.8,119.3 577.3,117.4 579.8,115.6 582.3,113.7 584.8,111.9 587.3,109.7 589.8,108 592.3,106 594.8,103.9 597.3,101.8 599.8,99.8 602.3,98 604.8,96.2 607.3,94.6 609.8,93.1 612.3,91.7 614.8,90.2 617.3,89 619.8,87.7 622.3,86.5 624.8,85.2 627.3,84.1 629.8,83 632.3,82.1 634.8,81.3 637.3,80.5 639.8,79.8 642.3,79 644.8,78.2 647.3,77.3 649.8,76.4 652.3,75.3 654.8,74.3 657.3,73.3 659.8,72.4 662.3,71.7 664.2,71.3" fill="none" stroke="#000" stroke-width="0.5" stroke-linejoin="round" stroke-linecap="round"/>
<polyline points="534.8,168.3 537.3,163.7 539.8,158.5 542.3,154.5 544.8,150.4 547.3,146.2 549.8,142.5 552.3,139.2 554.8,136.3 557.3,134 559.8,131.6 562.3,129.6 564.8,127.5 567.3,125.2 569.8,123.4 572.3,121.4 574.8,119.4 577.3,117.5 579.8,115.7 582.3,113.8 584.8,112 587.3,109.8 589.8,108 592.3,106 594.8,103.9 597.3,101.7 599.8,99.7 602.3,97.9 604.8,96.1 607.3,94.5 609.8,93 612.3,91.5 614.8,90 617.3,88.8 619.8,87.5 622.3,86.2 624.8,85 627.3,83.9 629.8,82.8 632.3,81.9 634.8,81.1 637.3,80.4 639.8,79.6 642.3,78.9 644.8,78 647.3,77.2 649.8,76.3 652.3,75.3 654.8,74.3 657.3,73.3 659.8,72.5 662.3,71.8 664.2,71.4" fill="none" stroke="#000" stroke-width="0.5" stroke-linejoin="round" stroke-linecap="round"/>
<polyline points="534.8,168.3 537.3,163.7 539.8,158.6 542.3,154.5 544.8,150.5 547.3,146.3 549.8,142.5 552.3,139.3 554.8,136.4 557.3,134.1 559.8,131.7 562.3,129.7 564.8,127.6 567.3,125.3 569.8,123.5 572.3,121.5 574.8,119.6 577.3,117.7 579.8,115.9 582.3,113.9 584.8,112.2 587.3,109.9 589.8,108.2 592.3,106.1 594.8,104 597.3,101.9 599.8,99.9 602.3,98.1 604.8,96.2 607.3,94.6 609.8,93.1 612.3,91.6 614.8,90.2 617.3,88.9 619.8,87.6 622.3,86.4 624.8,85.1 627.3,84 629.8,82.9 632.3,82 634.8,81.2 637.3,80.5 639.8,79.7 642.3,79 644.8,78.1 647.3,77.3 649.8,76.4 652.3,75.4 654.8,74.4 657.3,73.4 659.8,72.5 662.3,71.8 664.2,71.5" fill="none" stroke="#000" stroke-width="0.5" stroke-linejoin="round" stroke-linecap="round"/>
<polyline points="534.8,168.3 537.3,163.7 539.8,158.7 542.3,154.7 544.8,150.6 547.3,146.5 549.8,142.8 552.3,139.6 554.8,136.7 557.3,134.4 559.8,132.1 562.3,130.1 564.8,128 567.3,125.8 569.8,124 572.3,122 574.8,120.1 577.3,118.2 579.8,116.4 582.3,114.5 584.8,112.7 587.3,110.4 589.8,108.7 592.3,106.7 594.8,104.5 597.3,102.4 599.8,100.3 602.3,98.5 604.8,96.7 607.3,95.1 609.8,93.6 612.3,92.1 614.8,90.6 617.3,89.3 619.8,88 622.3,86.8 624.8,85.5 627.3,84.4 629.8,83.3 632.3,82.3 634.8,81.5 637.3,80.8 639.8,80.1 642.3,79.3 644.8,78.4 647.3,77.6 649.8,76.6 652.3,75.6 654.8,74.6 657.3,73.6 659.8,72.8 662.3,72 664.2,71.6" fill="none" stroke="#000" stroke-width="0.5" stroke-linejoin="round" stroke-linecap="round"/>
<polyline points="534.8,168.3 537.3,164.9 539.8,161.3 542.3,158.9 544.8,156.3 547.3,153.4 549.8,150.6 552.3,148.2 554.8,145.8 557.3,143.5 559.8,141 562.3,138.8 564.8,136.3 567.3,133.8 569.8,132.3 572.3,130.7 574.8,129.1 577.3,127.5 579.8,125.7 582.3,123 584.8,120.2 587.3,117.4 589.8,115.6 592.3,113.6 594.8,111.5 597.3,109.5 599.8,107.6 602.3,106 604.8,104.4 607.3,103.1 609.8,101.9 612.3,100.7 614.8,99.4 617.3,98.3 619.8,97 622.3,95.8 624.8,94.5 627.3,93.4 629.8,92.3 632.3,91.3 634.8,90.4 637.3,89.6 639.8,88.8 642.3,87.9 644.8,87 647.3,86.2 649.8,85.3 652.3,84.4 654.8,83.5 657.3,82.6 659.8,81.8 662.3,81.2 664.2,80.8" fill="none" stroke="#000" stroke-width="0.45" stroke-linejoin="round" stroke-linecap="round"/>
<polyline points="534.8,168.3 537.3,164.8 539.8,161.1 542.3,158.5 544.8,155.8 547.3,152.8 549.8,150 552.3,147.4 554.8,145 557.3,142.7 559.8,140.2 562.3,138 564.8,135.5 567.3,133.1 569.8,131.5 572.3,129.8 574.8,128.2 577.3,126.6 579.8,124.7 582.3,122.1 584.8,119.4 587.3,116.6 589.8,114.8 592.3,112.8 594.8,110.7 597.3,108.7 599.8,106.8 602.3,105.1 604.8,103.5 607.3,102.1 609.8,100.9 612.3,99.7 614.8,98.4 617.3,97.2 619.8,96 622.3,94.7 624.8,93.5 627.3,92.3 629.8,91.2 632.3,90.3 634.8,89.4 637.3,88.6 639.8,87.8 642.3,87 644.8,86.1 647.3,85.3 649.8,84.5 652.3,83.5 654.8,82.6 657.3,81.8 659.8,81 662.3,80.4 664.2,80.1" fill="none" stroke="#000" stroke-width="0.45" stroke-linejoin="round" stroke-linecap="round"/>
<polyline points="534.8,168.3 537.3,164.7 539.8,160.9 542.3,158.2 544.8,155.4 547.3,152.3 549.8,149.4 552.3,146.8 554.8,144.4 557.3,142.1 559.8,139.6 562.3,137.4 564.8,134.9 567.3,132.5 569.8,130.9 572.3,129.3 574.8,127.6 577.3,125.9 579.8,124.1 582.3,121.5 584.8,118.9 587.3,116.1 589.8,114.3 592.3,112.3 594.8,110.2 597.3,108.2 599.8,106.3 602.3,104.6 604.8,103 607.3,101.6 609.8,100.4 612.3,99.1 614.8,97.8 617.3,96.6 619.8,95.4 622.3,94.1 624.8,92.9 627.3,91.7 629.8,90.6 632.3,89.7 634.8,88.8 637.3,88 639.8,87.2 642.3,86.4 644.8,85.5 647.3,84.7 649.8,83.9 652.3,82.9 654.8,82 657.3,81.2 659.8,80.4 662.3,79.8 664.2,79.4" fill="none" stroke="#000" stroke-width="0.45" stroke-linejoin="round" stroke-linecap="round"/>
<polyline points="534.8,168.3 537.3,164.6 539.8,160.7 542.3,157.9 544.8,155 547.3,151.8 549.8,148.8 552.3,146.2 554.8,143.7 557.3,141.4 559.8,139 562.3,136.8 564.8,134.4 567.3,132 569.8,130.3 572.3,128.7 574.8,127 577.3,125.3 579.8,123.5 582.3,121 584.8,118.4 587.3,115.7 589.8,113.9 592.3,111.9 594.8,109.8 597.3,107.8 599.8,105.8 602.3,104.2 604.8,102.5 607.3,101.1 609.8,99.8 612.3,98.6 614.8,97.2 617.3,96 619.8,94.8 622.3,93.5 624.8,92.3 627.3,91.1 629.8,90.1 632.3,89.1 634.8,88.2 637.3,87.4 639.8,86.6 642.3,85.8 644.8,85 647.3,84.2 649.8,83.3 652.3,82.3 654.8,81.4 657.3,80.5 659.8,79.7 662.3,79.1 664.2,78.7" fill="none" stroke="#000" stroke-width="0.45" stroke-linejoin="round" stroke-linecap="round"/>
<polyline points="534.8,168.3 537.3,164.5 539.8,160.5 542.3,157.7 544.8,154.7 547.3,151.4 549.8,148.3 552.3,145.7 554.8,143.1 557.3,140.8 559.8,138.4 562.3,136.2 564.8,133.8 567.3,131.4 569.8,129.8 572.3,128.1 574.8,126.3 577.3,124.6 579.8,122.8 582.3,120.4 584.8,117.8 587.3,115.2 589.8,113.4 592.3,111.3 594.8,109.3 597.3,107.2 599.8,105.3 602.3,103.6 604.8,101.9 607.3,100.5 609.8,99.2 612.3,97.9 614.8,96.5 617.3,95.3 619.8,94.1 622.3,92.8 624.8,91.6 627.3,90.4 629.8,89.4 632.3,88.4 634.8,87.5 637.3,86.7 639.8,86 642.3,85.2 644.8,84.3 647.3,83.5 649.8,82.6 652.3,81.7 654.8,80.8 657.3,79.9 659.8,79.1 662.3,78.5 664.2,78.1" fill="none" stroke="#000" stroke-width="0.45" stroke-linejoin="round" stroke-linecap="round"/>
<polyline points="534.8,168.3 537.3,164.4 539.8,160.3 542.3,157.3 544.8,154.2 547.3,150.8 549.8,147.7 552.3,145 554.8,142.4 557.3,140.2 559.8,137.7 562.3,135.6 564.8,133.3 567.3,130.9 569.8,129.3 572.3,127.6 574.8,125.8 577.3,124.1 579.8,122.3 582.3,120 584.8,117.6 587.3,115 589.8,113.2 592.3,111.2 594.8,109.1 597.3,107 599.8,105.1 602.3,103.4 604.8,101.7 607.3,100.3 609.8,99 612.3,97.7 614.8,96.3 617.3,95.1 619.8,93.9 622.3,92.6 624.8,91.4 627.3,90.2 629.8,89.1 632.3,88.1 634.8,87.3 637.3,86.5 639.8,85.7 642.3,84.9 644.8,84 647.3,83.1 649.8,82.2 652.3,81.2 654.8,80.2 657.3,79.3 659.8,78.5 662.3,77.8 664.2,77.4" fill="none" stroke="#000" stroke-width="0.45" stroke-linejoin="round" stroke-linecap="round"/>
<polyline points="534.8,168.3 537.3,164.4 539.8,160.2 542.3,157 544.8,153.8 547.3,150.4 549.8,147.2 552.3,144.4 554.8,141.8 557.3,139.5 559.8,137.1 562.3,134.9 564.8,132.6 567.3,130.3 569.8,128.6 572.3,126.8 574.8,125.1 577.3,123.3 579.8,121.5 582.3,119.2 584.8,116.8 587.3,114.2 589.8,112.4 592.3,110.4 594.8,108.3 597.3,106.2 599.8,104.3 602.3,102.5 604.8,100.8 607.3,99.4 609.8,98 612.3,96.7 614.8,95.3 617.3,94.1 619.8,92.8 622.3,91.6 624.8,90.3 627.3,89.2 629.8,88.1 632.3,87.1 634.8,86.3 637.3,85.5 639.8,84.8 642.3,84 644.8,83.1 647.3,82.3 649.8,81.4 652.3,80.5 654.8,79.5 657.3,78.6 659.8,77.8 662.3,77.2 664.2,76.8" fill="none" stroke="#000" stroke-width="0.45" stroke-linejoin="round" stroke-linecap="round"/>
<polyline points="534.8,168.3 537.3,164.3 539.8,160 542.3,156.7 544.8,153.4 547.3,149.9 549.8,146.7 552.3,143.8 554.8,141.2 557.3,138.9 559.8,136.5 562.3,134.5 564.8,132.2 567.3,129.8 569.8,128.2 572.3,126.4 574.8,124.7 577.3,122.9 579.8,121.1 582.3,118.9 584.8,116.6 587.3,114.1 589.8,112.3 592.3,110.3 594.8,108.2 597.3,106.2 599.8,104.2 602.3,102.5 604.8,100.8 607.3,99.3 609.8,98 612.3,96.6 614.8,95.2 617.3,94 619.8,92.8 622.3,91.5 624.8,90.2 627.3,89.1 629.8,88 632.3,87 634.8,86.1 637.3,85.3 639.8,84.6 642.3,83.7 644.8,82.8 647.3,82 649.8,81.1 652.3,80.1 654.8,79.1 657.3,78.1 659.8,77.2 662.3,76.5 664.2,76.1" fill="none" stroke="#000" stroke-width="0.45" stroke-linejoin="round" stroke-linecap="round"/>
<polyline points="534.8,168.3 537.3,164.2 539.8,159.8 542.3,156.5 544.8,153.1 547.3,149.5 549.8,146.2 552.3,143.3 554.8,140.6 557.3,138.4 559.8,135.9 562.3,133.8 564.8,131.6 567.3,129.2 569.8,127.5 572.3,125.7 574.8,123.9 577.3,122.1 579.8,120.3 582.3,118.1 584.8,115.8 587.3,113.3 589.8,111.5 592.3,109.5 594.8,107.4 597.3,105.3 599.8,103.3 602.3,101.6 604.8,99.8 607.3,98.3 609.8,96.9 612.3,95.6 614.8,94.2 617.3,92.9 619.8,91.7 622.3,90.4 624.8,89.2 627.3,88 629.8,86.9 632.3,86 634.8,85.1 637.3,84.4 639.8,83.6 642.3,82.8 644.8,82 647.3,81.2 649.8,80.3 652.3,79.3 654.8,78.4 657.3,77.4 659.8,76.6 662.3,76 664.2,75.6" fill="none" stroke="#000" stroke-width="0.45" stroke-linejoin="round" stroke-linecap="round"/>
<polyline points="534.8,168.3 537.3,164.1 539.8,159.6 542.3,156.2 544.8,152.7 547.3,149 549.8,145.7 552.3,142.7 554.8,140.1 557.3,137.8 559.8,135.3 562.3,133.3 564.8,131 567.3,128.7 569.8,127 572.3,125.2 574.8,123.3 577.3,121.5 579.8,119.7 582.3,117.5 584.8,115.3 587.3,112.9 589.8,111.1 592.3,109 594.8,106.9 597.3,104.8 599.8,102.8 602.3,101.1 604.8,99.3 607.3,97.8 609.8,96.4 612.3,95 614.8,93.6 617.3,92.3 619.8,91.1 622.3,89.8 624.8,88.6 627.3,87.4 629.8,86.3 632.3,85.4 634.8,84.5 637.3,83.8 639.8,83.1 642.3,82.3 644.8,81.4 647.3,80.6 649.8,79.7 652.3,78.7 654.8,77.8 657.3,76.9 659.8,76 662.3,75.4 664.2,75" fill="none" stroke="#000" stroke-width="0.45" stroke-linejoin="round" stroke-linecap="round"/>
<polyline points="534.8,168.3 537.3,164.1 539.8,159.4 542.3,155.9 544.8,152.3 547.3,148.5 549.8,145.1 552.3,142.1 554.8,139.4 557.3,137.1 559.8,134.7 562.3,132.6 564.8,130.4 567.3,128.1 569.8,126.4 572.3,124.5 574.8,122.7 577.3,120.8 579.8,119 582.3,116.9 584.8,114.8 587.3,112.3 589.8,110.6 592.3,108.5 594.8,106.4 597.3,104.3 599.8,102.3 602.3,100.5 604.8,98.8 607.3,97.2 609.8,95.8 612.3,94.4 614.8,92.9 617.3,91.7 619.8,90.4 622.3,89.1 624.8,87.9 627.3,86.8 629.8,85.7 632.3,84.7 634.8,83.9 637.3,83.1 639.8,82.4 642.3,81.6 644.8,80.8 647.3,80 649.8,79.1 652.3,78.1 654.8,77.1 657.3,76.2 659.8,75.4 662.3,74.7 664.2,74.3" fill="none" stroke="#000" stroke-width="0.45" stroke-linejoin="round" stroke-linecap="round"/>
<polyline points="534.8,168.3 537.3,164 539.8,159.2 542.3,155.6 544.8,151.8 547.3,148 549.8,144.5 552.3,141.4 554.8,138.7 557.3,136.4 559.8,134 562.3,132 564.8,129.8 567.3,127.5 569.8,125.8 572.3,123.9 574.8,122 577.3,120.2 579.8,118.4 582.3,116.3 584.8,114.3 587.3,111.9 589.8,110.1 592.3,108.1 594.8,106 597.3,103.8 599.8,101.8 602.3,100.1 604.8,98.3 607.3,96.7 609.8,95.2 612.3,93.8 614.8,92.4 617.3,91.1 619.8,89.8 622.3,88.6 624.8,87.3 627.3,86.2 629.8,85.1 632.3,84.1 634.8,83.3 637.3,82.6 639.8,81.8 642.3,81 644.8,80.2 647.3,79.4 649.8,78.4 652.3,77.4 654.8,76.4 657.3,75.5 659.8,74.6 662.3,74 664.2,73.6" fill="none" stroke="#000" stroke-width="0.45" stroke-linejoin="round" stroke-linecap="round"/>
<polyline points="534.8,168.3 537.3,163.9 539.8,159.1 542.3,155.3 544.8,151.5 547.3,147.6 549.8,144 552.3,140.9 554.8,138.2 557.3,135.9 559.8,133.5 562.3,131.6 564.8,129.4 567.3,127.1 569.8,125.4 572.3,123.5 574.8,121.6 577.3,119.8 579.8,118 582.3,116 584.8,114.1 587.3,111.8 589.8,110 592.3,108 594.8,105.9 597.3,103.8 599.8,101.8 602.3,100 604.8,98.2 607.3,96.6 609.8,95.2 612.3,93.7 614.8,92.3 617.3,91 619.8,89.7 622.3,88.4 624.8,87.2 627.3,86 629.8,85 632.3,84 634.8,83.1 637.3,82.4 639.8,81.6 642.3,80.8 644.8,79.9 647.3,79.1 649.8,78.1 652.3,77.1 654.8,76 657.3,75 659.8,74.2 662.3,73.4 664.2,73" fill="none" stroke="#000" stroke-width="0.45" stroke-linejoin="round" stroke-linecap="round"/>
<polyline points="534.8,168.3 537.3,163.8 539.8,158.8 542.3,154.9 544.8,150.9 547.3,146.9 549.8,143.2 552.3,140 554.8,137.2 557.3,134.9 559.8,132.6 562.3,130.6 564.8,128.5 567.3,126.2 569.8,124.5 572.3,122.6 574.8,120.6 577.3,118.8 579.8,117 582.3,115 584.8,113.2 587.3,110.9 589.8,109.1 592.3,107.1 594.8,105 597.3,102.8 599.8,100.8 602.3,99 604.8,97.2 607.3,95.5 609.8,94 612.3,92.6 614.8,91.1 617.3,89.8 619.8,88.5 622.3,87.3 624.8,86 627.3,84.9 629.8,83.8 632.3,82.8 634.8,82 637.3,81.3 639.8,80.5 642.3,79.8 644.8,78.9 647.3,78 649.8,77.1 652.3,76.1 654.8,75.1 657.3,74.1 659.8,73.2 662.3,72.5 664.2,72.1" fill="none" stroke="#000" stroke-width="0.45" stroke-linejoin="round" stroke-linecap="round"/>
<polyline points="198.5,216.5 201,216.5 203.5,216.5 206,216.5 208.5,216.5 211,216.6 213.5,216.7 216,216.8 218.5,217 221,217.4 223.5,217.7 226,218.2 228.5,218.7 231,219.7 233.5,221.5 236,223.1 238.5,224.2 241,225.4 243.5,226.9 246,228.5 248.5,231 251,233.3 253.5,235.1 256,237 258.5,239.2 261,241.5 263.5,243.6 266,245.5 268.5,247.5 271,249.3 273.5,250.9 276,252.5 278.5,254 281,255.2 283.5,256.2 286,257.1 288.5,257.9 291,258.7 293.5,259.4 296,260.1 298.5,260.7 301,261.3 303.5,261.8 306,262.3 308.5,262.7 311,263 313.5,263.3 316,263.4 318.5,263.5 321,263.6 323.5,263.6 326,263.6 327.5,263.6" fill="none" stroke="#000" stroke-width="0.45" stroke-linejoin="round" stroke-linecap="round"/>
<polyline points="198.5,216.5 201,216.5 203.5,216.5 206,216.6 208.5,216.6 211,216.7 213.5,216.8 216,217 218.5,217.4 221,217.8 223.5,218.3 226,219 228.5,219.7 231,220.8 233.5,222.6 236,224.2 238.5,225.5 241,226.8 243.5,228.3 246,229.8 248.5,232.2 251,234.4 253.5,236.2 256,238.3 258.5,240.5 261,242.8 263.5,244.8 266,246.6 268.5,248.4 271,250.1 273.5,251.6 276,253.2 278.5,254.6 281,255.7 283.5,256.7 286,257.6 288.5,258.4 291,259.2 293.5,260 296,260.7 298.5,261.3 301,261.9 303.5,262.4 306,262.8 308.5,263.2 311,263.4 313.5,263.6 316,263.7 318.5,263.8 321,263.8 323.5,263.8 326,263.7 327.5,263.7" fill="none" stroke="#000" stroke-width="0.45" stroke-linejoin="round" stroke-linecap="round"/>
<polyline points="198.5,216.5 201,216.5 203.5,216.5 206,216.6 208.5,216.7 211,216.8 213.5,217 216,217.2 218.5,217.6 221,218.2 223.5,218.8 226,219.6 228.5,220.5 231,221.6 233.5,223.4 236,225.1 238.5,226.6 241,228 243.5,229.4 246,230.9 248.5,233 251,235.1 253.5,237.1 256,239.2 258.5,241.4 261,243.7 263.5,245.7 266,247.4 268.5,249 271,250.6 273.5,252.1 276,253.5 278.5,254.9 281,256 283.5,257 286,257.8 288.5,258.6 291,259.4 293.5,260.2 296,261 298.5,261.7 301,262.3 303.5,262.7 306,263.1 308.5,263.4 311,263.6 313.5,263.8 316,263.9 318.5,263.9 321,263.9 323.5,263.9 326,263.8 327.5,263.8" fill="none" stroke="#000" stroke-width="0.45" stroke-linejoin="round" stroke-linecap="round"/>
<polyline points="198.5,216.5 201,216.5 203.5,216.6 206,216.6 208.5,216.7 211,216.8 213.5,217.1 216,217.4 218.5,217.8 221,218.5 223.5,219.3 226,220.2 228.5,221.2 231,222.4 233.5,224.2 236,225.8 238.5,227.5 241,229 243.5,230.4 246,231.7 248.5,233.6 251,235.6 253.5,237.6 256,239.8 258.5,242 261,244.4 263.5,246.2 266,247.7 268.5,249.2 271,250.7 273.5,252 276,253.4 278.5,254.7 281,255.8 283.5,256.8 286,257.6 288.5,258.4 291,259.2 293.5,260.1 296,260.9 298.5,261.6 301,262.2 303.5,262.7 306,263 308.5,263.3 311,263.6 313.5,263.7 316,263.8 318.5,263.9 321,263.9 323.5,263.9 326,263.9 327.5,263.9" fill="none" stroke="#000" stroke-width="0.45" stroke-linejoin="round" stroke-linecap="round"/>
<polyline points="198.5,216.5 201,216.5 203.5,216.6 206,216.7 208.5,216.8 211,217 213.5,217.2 216,217.6 218.5,218.1 221,218.9 223.5,219.8 226,220.9 228.5,222 231,223.4 233.5,225.1 236,226.7 238.5,228.7 241,230.3 243.5,231.6 246,232.9 248.5,234.6 251,236.6 253.5,238.7 256,240.9 258.5,243.3 261,245.6 263.5,247.4 266,248.8 268.5,250.2 271,251.5 273.5,252.8 276,254.1 278.5,255.4 281,256.5 283.5,257.4 286,258.2 288.5,259.1 291,259.9 293.5,260.7 296,261.6 298.5,262.3 301,262.9 303.5,263.3 306,263.6 308.5,263.8 311,264 313.5,264.1 316,264.2 318.5,264.2 321,264.2 323.5,264.1 326,264.1 327.5,264" fill="none" stroke="#000" stroke-width="0.5" stroke-linejoin="round" stroke-linecap="round"/>
<polyline points="198.5,216.5 201,216.6 203.5,216.6 206,216.7 208.5,216.9 211,217.1 213.5,217.4 216,217.7 218.5,218.3 221,219.1 223.5,220 226,221.1 228.5,222.2 231,223.5 233.5,225.3 236,226.9 238.5,228.8 241,230.4 243.5,231.8 246,233.1 248.5,234.8 251,236.7 253.5,238.8 256,241 258.5,243.3 261,245.6 263.5,247.4 266,248.8 268.5,250.2 271,251.5 273.5,252.8 276,254.1 278.5,255.4 281,256.5 283.5,257.4 286,258.3 288.5,259.1 291,259.9 293.5,260.8 296,261.7 298.5,262.4 301,263 303.5,263.5 306,263.8 308.5,264 311,264.2 313.5,264.4 316,264.4 318.5,264.5 321,264.5 323.5,264.5 326,264.4 327.5,264.4" fill="none" stroke="#000" stroke-width="0.5" stroke-linejoin="round" stroke-linecap="round"/>
<polyline points="198.5,216.5 201,216.6 203.5,216.7 206,216.8 208.5,217 211,217.2 213.5,217.5 216,217.9 218.5,218.4 221,219.2 223.5,220.1 226,221.2 228.5,222.3 231,223.6 233.5,225.3 236,227 238.5,228.8 241,230.4 243.5,231.7 246,233 248.5,234.7 251,236.6 253.5,238.6 256,240.8 258.5,243 261,245.3 263.5,247.1 266,248.4 268.5,249.8 271,251.1 273.5,252.4 276,253.7 278.5,255 281,256.1 283.5,257 286,257.9 288.5,258.7 291,259.6 293.5,260.5 296,261.4 298.5,262.2 301,262.8 303.5,263.3 306,263.7 308.5,264 311,264.3 313.5,264.5 316,264.6 318.5,264.7 321,264.8 323.5,264.9 326,264.9 327.5,264.9" fill="none" stroke="#000" stroke-width="0.5" stroke-linejoin="round" stroke-linecap="round"/>
<polyline points="198.5,216.5 201,216.6 203.5,216.7 206,216.8 208.5,217 211,217.2 213.5,217.5 216,217.9 218.5,218.5 221,219.3 223.5,220.2 226,221.2 228.5,222.3 231,223.6 233.5,225.4 236,227 238.5,228.9 241,230.5 243.5,231.8 246,233.1 248.5,234.8 251,236.7 253.5,238.7 256,240.9 258.5,243.1 261,245.4 263.5,247.2 266,248.5 268.5,249.9 271,251.2 273.5,252.5 276,253.8 278.5,255.1 281,256.2 283.5,257.1 286,258 288.5,258.8 291,259.7 293.5,260.6 296,261.5 298.5,262.3 301,262.9 303.5,263.4 306,263.8 308.5,264.1 311,264.4 313.5,264.6 316,264.7 318.5,264.8 321,264.9 323.5,264.9 326,264.9 327.5,265" fill="none" stroke="#000" stroke-width="0.5" stroke-linejoin="round" stroke-linecap="round"/>
<polyline points="198.5,216.5 201,216.6 203.5,216.8 206,216.9 208.5,217.1 211,217.3 213.5,217.7 216,218.1 218.5,218.7 221,219.5 223.5,220.4 226,221.5 228.5,222.6 231,224 233.5,225.7 236,227.4 238.5,229.3 241,230.9 243.5,232.2 246,233.5 248.5,235.2 251,237.1 253.5,239.1 256,241.3 258.5,243.5 261,245.8 263.5,247.6 266,248.9 268.5,250.3 271,251.6 273.5,252.9 276,254.3 278.5,255.5 281,256.6 283.5,257.6 286,258.5 288.5,259.3 291,260.2 293.5,261.1 296,262 298.5,262.8 301,263.5 303.5,263.9 306,264.3 308.5,264.6 311,264.9 313.5,265 316,265.2 318.5,265.2 321,265.3 323.5,265.4 326,265.4 327.5,265.4" fill="none" stroke="#000" stroke-width="0.5" stroke-linejoin="round" stroke-linecap="round"/>
<polyline points="198.5,216.5 201,216.7 203.5,216.8 206,217 208.5,217.2 211,217.4 213.5,217.8 216,218.2 218.5,218.8 221,219.6 223.5,220.6 226,221.6 228.5,222.7 231,224.1 233.5,225.8 236,227.5 238.5,229.4 241,230.9 243.5,232.2 246,233.5 248.5,235.2 251,237.2 253.5,239.1 256,241.3 258.5,243.5 261,245.7 263.5,247.5 266,248.8 268.5,250.2 271,251.5 273.5,252.8 276,254.1 278.5,255.4 281,256.5 283.5,257.5 286,258.4 288.5,259.2 291,260.1 293.5,261 296,262 298.5,262.8 301,263.5 303.5,264 306,264.4 308.5,264.7 311,265 313.5,265.2 316,265.3 318.5,265.5 321,265.6 323.5,265.6 326,265.7 327.5,265.7" fill="none" stroke="#000" stroke-width="0.5" stroke-linejoin="round" stroke-linecap="round"/>
<polyline points="198.5,216.5 201,216.7 203.5,216.9 206,217.1 208.5,217.3 211,217.6 213.5,218 216,218.4 218.5,219.1 221,219.9 223.5,220.9 226,221.9 228.5,223.1 231,224.4 233.5,226.3 236,227.9 238.5,229.8 241,231.4 243.5,232.7 246,234.1 248.5,235.8 251,237.8 253.5,239.7 256,241.9 258.5,244.1 261,246.4 263.5,248.1 266,249.5 268.5,250.8 271,252.2 273.5,253.5 276,254.8 278.5,256.1 281,257.2 283.5,258.2 286,259.1 288.5,259.9 291,260.8 293.5,261.8 296,262.7 298.5,263.5 301,264.2 303.5,264.7 306,265 308.5,265.3 311,265.6 313.5,265.8 316,265.9 318.5,266 321,266.1 323.5,266.1 326,266.1 327.5,266.1" fill="none" stroke="#000" stroke-width="0.5" stroke-linejoin="round" stroke-linecap="round"/>
<polyline points="198.5,216.5 201,216.7 203.5,216.9 206,217.1 208.5,217.3 211,217.6 213.5,218 216,218.4 218.5,219.1 221,219.9 223.5,220.8 226,221.9 228.5,223 231,224.3 233.5,226.1 236,227.8 238.5,229.6 241,231.2 243.5,232.5 246,233.8 248.5,235.5 251,237.4 253.5,239.4 256,241.5 258.5,243.7 261,245.9 263.5,247.6 266,249 268.5,250.3 271,251.7 273.5,253 276,254.3 278.5,255.6 281,256.7 283.5,257.7 286,258.6 288.5,259.4 291,260.3 293.5,261.3 296,262.2 298.5,263.1 301,263.7 303.5,264.3 306,264.7 308.5,265 311,265.3 313.5,265.6 316,265.7 318.5,265.9 321,266 323.5,266.1 326,266.2 327.5,266.2" fill="none" stroke="#000" stroke-width="0.5" stroke-linejoin="round" stroke-linecap="round"/>
<polyline points="198.5,216.5 201,216.7 203.5,216.9 206,217.1 208.5,217.4 211,217.7 213.5,218.1 216,218.6 218.5,219.2 221,220 223.5,221 226,222.1 228.5,223.2 231,224.5 233.5,226.3 236,228 238.5,229.9 241,231.4 243.5,232.7 246,234 248.5,235.8 251,237.7 253.5,239.6 256,241.7 258.5,243.9 261,246.1 263.5,247.8 266,249.2 268.5,250.5 271,251.9 273.5,253.2 276,254.5 278.5,255.8 281,256.9 283.5,257.9 286,258.8 288.5,259.7 291,260.6 293.5,261.6 296,262.5 298.5,263.4 301,264.1 303.5,264.6 306,265 308.5,265.4 311,265.7 313.5,265.9 316,266.1 318.5,266.2 321,266.3 323.5,266.4 326,266.5 327.5,266.5" fill="none" stroke="#000" stroke-width="0.5" stroke-linejoin="round" stroke-linecap="round"/>
<polyline points="198.5,216.5 201,216.8 203.5,217 206,217.2 208.5,217.5 211,217.8 213.5,218.2 216,218.7 218.5,219.4 221,220.2 223.5,221.1 226,222.2 228.5,223.3 231,224.7 233.5,226.5 236,228.2 238.5,230 241,231.6 243.5,232.9 246,234.2 248.5,235.9 251,237.8 253.5,239.8 256,241.8 258.5,244 261,246.2 263.5,247.9 266,249.3 268.5,250.6 271,251.9 273.5,253.3 276,254.6 278.5,255.9 281,257 283.5,258 286,258.9 288.5,259.8 291,260.7 293.5,261.7 296,262.6 298.5,263.5 301,264.2 303.5,264.8 306,265.2 308.5,265.6 311,265.9 313.5,266.1 316,266.3 318.5,266.4 321,266.6 323.5,266.7 326,266.8 327.5,266.8" fill="none" stroke="#000" stroke-width="0.5" stroke-linejoin="round" stroke-linecap="round"/>
<polyline points="198.5,216.5 201,216.8 203.5,217 206,217.3 208.5,217.6 211,217.9 213.5,218.3 216,218.8 218.5,219.5 221,220.4 223.5,221.3 226,222.4 228.5,223.5 231,224.8 233.5,226.7 236,228.3 238.5,230.2 241,231.7 243.5,233 246,234.4 248.5,236.1 251,238 253.5,239.9 256,242 258.5,244.1 261,246.3 263.5,248 266,249.3 268.5,250.7 271,252 273.5,253.3 276,254.7 278.5,256 281,257.1 283.5,258.1 286,259 288.5,259.9 291,260.8 293.5,261.8 296,262.8 298.5,263.7 301,264.4 303.5,265 306,265.4 308.5,265.8 311,266.1 313.5,266.4 316,266.6 318.5,266.7 321,266.9 323.5,267 326,267.1 327.5,267.2" fill="none" stroke="#000" stroke-width="0.5" stroke-linejoin="round" stroke-linecap="round"/>
<polyline points="198.5,216.5 201,216.8 203.5,217.1 206,217.3 208.5,217.7 211,218 213.5,218.5 216,219.1 218.5,219.8 221,220.7 223.5,221.7 226,222.8 228.5,223.9 231,225.3 233.5,227.2 236,228.9 238.5,230.8 241,232.4 243.5,233.8 246,235.1 248.5,236.9 251,238.9 253.5,240.8 256,242.9 258.5,245.1 261,247.3 263.5,249 266,250.4 268.5,251.7 271,253.1 273.5,254.4 276,255.8 278.5,257.1 281,258.2 283.5,259.2 286,260.2 288.5,261.1 291,262 293.5,262.9 296,263.9 298.5,264.8 301,265.4 303.5,266 306,266.4 308.5,266.7 311,267 313.5,267.2 316,267.3 318.5,267.4 321,267.5 323.5,267.5 326,267.5 327.5,267.5" fill="none" stroke="#000" stroke-width="0.5" stroke-linejoin="round" stroke-linecap="round"/>
<polyline points="198.5,216.5 201,216.9 203.5,217.1 206,217.4 208.5,217.8 211,218.2 213.5,218.7 216,219.3 218.5,220 221,220.9 223.5,221.9 226,223 228.5,224.1 231,225.5 233.5,227.4 236,229.2 238.5,231 241,232.6 243.5,234 246,235.3 248.5,237.1 251,239.1 253.5,241 256,243 258.5,245.2 261,247.4 263.5,249.1 266,250.4 268.5,251.8 271,253.1 273.5,254.5 276,255.8 278.5,257.1 281,258.3 283.5,259.3 286,260.2 288.5,261.1 291,262.1 293.5,263.1 296,264 298.5,264.9 301,265.6 303.5,266.2 306,266.6 308.5,266.9 311,267.2 313.5,267.5 316,267.6 318.5,267.7 321,267.8 323.5,267.9 326,268 327.5,268" fill="none" stroke="#000" stroke-width="0.5" stroke-linejoin="round" stroke-linecap="round"/>
<polyline points="198.5,216.5 201,216.9 203.5,217.2 206,217.5 208.5,217.9 211,218.3 213.5,218.8 216,219.4 218.5,220.1 221,221 223.5,222 226,223.2 228.5,224.3 231,225.7 233.5,227.7 236,229.4 238.5,231.3 241,232.9 243.5,234.3 246,235.6 248.5,237.5 251,239.4 253.5,241.3 256,243.4 258.5,245.5 261,247.7 263.5,249.4 266,250.8 268.5,252.1 271,253.5 273.5,254.8 276,256.2 278.5,257.5 281,258.7 283.5,259.7 286,260.6 288.5,261.5 291,262.5 293.5,263.5 296,264.4 298.5,265.3 301,266 303.5,266.6 306,267 308.5,267.3 311,267.6 313.5,267.8 316,268 318.5,268.1 321,268.2 323.5,268.2 326,268.2 327.5,268.2" fill="none" stroke="#000" stroke-width="0.5" stroke-linejoin="round" stroke-linecap="round"/>
<polyline points="198.5,216.5 201,216.9 203.5,217.2 206,217.5 208.5,217.9 211,218.3 213.5,218.8 216,219.4 218.5,220.2 221,221.1 223.5,222 226,223.1 228.5,224.3 231,225.6 233.5,227.6 236,229.3 238.5,231.1 241,232.7 243.5,234 246,235.3 248.5,237.1 251,239 253.5,240.9 256,242.9 258.5,245 261,247.1 263.5,248.8 266,250.1 268.5,251.5 271,252.8 273.5,254.1 276,255.5 278.5,256.8 281,258 283.5,259 286,259.9 288.5,260.9 291,261.8 293.5,262.9 296,263.9 298.5,264.8 301,265.6 303.5,266.1 306,266.6 308.5,267 311,267.4 313.5,267.7 316,267.9 318.5,268 321,268.2 323.5,268.4 326,268.5 327.5,268.6" fill="none" stroke="#000" stroke-width="0.5" stroke-linejoin="round" stroke-linecap="round"/>
<polyline points="198.5,216.5 201,216.9 203.5,217.2 206,217.6 208.5,217.9 211,218.4 213.5,218.9 216,219.5 218.5,220.3 221,221.2 223.5,222.2 226,223.3 228.5,224.5 231,225.9 233.5,227.8 236,229.6 238.5,231.4 241,233 243.5,234.4 246,235.7 248.5,237.6 251,239.5 253.5,241.4 256,243.4 258.5,245.5 261,247.7 263.5,249.4 266,250.7 268.5,252.1 271,253.5 273.5,254.8 276,256.2 278.5,257.5 281,258.7 283.5,259.7 286,260.6 288.5,261.5 291,262.5 293.5,263.5 296,264.5 298.5,265.4 301,266.1 303.5,266.7 306,267.1 308.5,267.5 311,267.8 313.5,268 316,268.2 318.5,268.3 321,268.4 323.5,268.5 326,268.6 327.5,268.6" fill="none" stroke="#000" stroke-width="0.5" stroke-linejoin="round" stroke-linecap="round"/>
<polyline points="198.5,216.5 201,217 203.5,217.3 206,217.6 208.5,218 211,218.4 213.5,219 216,219.6 218.5,220.4 221,221.3 223.5,222.3 226,223.5 228.5,224.6 231,226 233.5,228 236,229.7 238.5,231.6 241,233.1 243.5,234.5 246,235.9 248.5,237.7 251,239.6 253.5,241.5 256,243.5 258.5,245.6 261,247.8 263.5,249.4 266,250.8 268.5,252.1 271,253.5 273.5,254.9 276,256.2 278.5,257.6 281,258.7 283.5,259.8 286,260.7 288.5,261.6 291,262.6 293.5,263.6 296,264.6 298.5,265.5 301,266.3 303.5,266.9 306,267.3 308.5,267.7 311,268 313.5,268.3 316,268.4 318.5,268.6 321,268.7 323.5,268.8 326,268.9 327.5,268.9" fill="none" stroke="#000" stroke-width="0.5" stroke-linejoin="round" stroke-linecap="round"/>
<polyline points="198.5,216.5 201,217 203.5,217.3 206,217.7 208.5,218.1 211,218.6 213.5,219.2 216,219.8 218.5,220.6 221,221.6 223.5,222.5 226,223.7 228.5,224.8 231,226.2 233.5,228.2 236,229.9 238.5,231.8 241,233.3 243.5,234.7 246,236 248.5,237.9 251,239.8 253.5,241.6 256,243.5 258.5,245.6 261,247.7 263.5,249.4 266,250.7 268.5,252.1 271,253.4 273.5,254.8 276,256.2 278.5,257.5 281,258.7 283.5,259.7 286,260.7 288.5,261.6 291,262.6 293.5,263.6 296,264.7 298.5,265.6 301,266.4 303.5,267 306,267.5 308.5,267.9 311,268.3 313.5,268.5 316,268.7 318.5,268.9 321,269.1 323.5,269.3 326,269.4 327.5,269.4" fill="none" stroke="#000" stroke-width="0.5" stroke-linejoin="round" stroke-linecap="round"/>
<polyline points="198.5,216.5 201,217 203.5,217.4 206,217.8 208.5,218.2 211,218.7 213.5,219.3 216,220 218.5,220.8 221,221.7 223.5,222.7 226,223.8 228.5,224.9 231,226.3 233.5,228.3 236,230.1 238.5,231.9 241,233.4 243.5,234.8 246,236.1 248.5,237.9 251,239.9 253.5,241.7 256,243.6 258.5,245.6 261,247.7 263.5,249.4 266,250.7 268.5,252 271,253.4 273.5,254.7 276,256.1 278.5,257.4 281,258.6 283.5,259.7 286,260.6 288.5,261.6 291,262.6 293.5,263.7 296,264.7 298.5,265.7 301,266.5 303.5,267.1 306,267.6 308.5,268 311,268.4 313.5,268.7 316,269 318.5,269.2 321,269.4 323.5,269.6 326,269.7 327.5,269.8" fill="none" stroke="#000" stroke-width="0.5" stroke-linejoin="round" stroke-linecap="round"/>
<polyline points="198.5,216.5 201,217.1 203.5,217.4 206,217.8 208.5,218.3 211,218.7 213.5,219.3 216,220.1 218.5,220.9 221,221.8 223.5,222.8 226,223.9 228.5,225.1 231,226.5 233.5,228.5 236,230.2 238.5,232 241,233.6 243.5,234.9 246,236.3 248.5,238.1 251,240.1 253.5,241.9 256,243.8 258.5,245.8 261,247.9 263.5,249.6 266,250.9 268.5,252.2 271,253.6 273.5,254.9 276,256.3 278.5,257.7 281,258.8 283.5,259.9 286,260.9 288.5,261.8 291,262.8 293.5,263.9 296,265 298.5,265.9 301,266.7 303.5,267.3 306,267.8 308.5,268.3 311,268.7 313.5,269 316,269.2 318.5,269.4 321,269.6 323.5,269.8 326,269.9 327.5,270" fill="none" stroke="#000" stroke-width="0.5" stroke-linejoin="round" stroke-linecap="round"/>
<polyline points="198.5,216.5 201,217.1 203.5,217.5 206,217.9 208.5,218.4 211,218.9 213.5,219.5 216,220.3 218.5,221.1 221,222.1 223.5,223.1 226,224.3 228.5,225.4 231,226.9 233.5,228.9 236,230.8 238.5,232.6 241,234.2 243.5,235.6 246,237 248.5,238.9 251,240.8 253.5,242.6 256,244.6 258.5,246.6 261,248.7 263.5,250.4 266,251.8 268.5,253.1 271,254.5 273.5,255.9 276,257.3 278.5,258.6 281,259.8 283.5,260.9 286,261.8 288.5,262.8 291,263.8 293.5,264.8 296,265.9 298.5,266.8 301,267.6 303.5,268.2 306,268.7 308.5,269.1 311,269.4 313.5,269.7 316,269.8 318.5,270 321,270.1 323.5,270.2 326,270.3 327.5,270.3" fill="none" stroke="#000" stroke-width="0.5" stroke-linejoin="round" stroke-linecap="round"/>
<polyline points="198.5,216.5 201,217.1 203.5,217.5 206,217.9 208.5,218.4 211,218.9 213.5,219.6 216,220.3 218.5,221.2 221,222.2 223.5,223.2 226,224.3 228.5,225.5 231,227 233.5,229 236,230.8 238.5,232.7 241,234.3 243.5,235.7 246,237 248.5,239 251,240.9 253.5,242.7 256,244.7 258.5,246.7 261,248.8 263.5,250.5 266,251.8 268.5,253.2 271,254.6 273.5,255.9 276,257.3 278.5,258.7 281,259.9 283.5,260.9 286,261.9 288.5,262.9 291,263.9 293.5,264.9 296,266 298.5,266.9 301,267.7 303.5,268.3 306,268.8 308.5,269.2 311,269.5 313.5,269.8 316,270 318.5,270.1 321,270.2 323.5,270.4 326,270.4 327.5,270.4" fill="none" stroke="#000" stroke-width="0.5" stroke-linejoin="round" stroke-linecap="round"/>
<polyline points="198.5,216.5 201,217.1 203.5,217.5 206,218 208.5,218.5 211,219 213.5,219.7 216,220.4 218.5,221.3 221,222.3 223.5,223.3 226,224.4 228.5,225.6 231,227 233.5,229 236,230.8 238.5,232.6 241,234.2 243.5,235.5 246,236.9 248.5,238.8 251,240.7 253.5,242.5 256,244.4 258.5,246.4 261,248.4 263.5,250.1 266,251.4 268.5,252.7 271,254.1 273.5,255.5 276,256.9 278.5,258.2 281,259.4 283.5,260.5 286,261.5 288.5,262.4 291,263.5 293.5,264.6 296,265.7 298.5,266.6 301,267.5 303.5,268.1 306,268.6 308.5,269.1 311,269.5 313.5,269.8 316,270 318.5,270.2 321,270.5 323.5,270.7 326,270.8 327.5,270.9" fill="none" stroke="#000" stroke-width="0.5" stroke-linejoin="round" stroke-linecap="round"/>
<polyline points="198.5,216.5 201,217.2 203.5,217.6 206,218.1 208.5,218.6 211,219.2 213.5,219.9 216,220.7 218.5,221.6 221,222.6 223.5,223.7 226,224.8 228.5,226 231,227.4 233.5,229.5 236,231.4 238.5,233.2 241,234.7 243.5,236.1 246,237.5 248.5,239.5 251,241.4 253.5,243.2 256,245.1 258.5,247.1 261,249.1 263.5,250.8 266,252.1 268.5,253.5 271,254.9 273.5,256.2 276,257.6 278.5,259 281,260.2 283.5,261.3 286,262.3 288.5,263.2 291,264.3 293.5,265.4 296,266.5 298.5,267.5 301,268.3 303.5,268.9 306,269.4 308.5,269.8 311,270.2 313.5,270.5 316,270.7 318.5,270.9 321,271 323.5,271.2 326,271.3 327.5,271.3" fill="none" stroke="#000" stroke-width="0.5" stroke-linejoin="round" stroke-linecap="round"/>
<polyline points="198.5,216.5 201,217.2 203.5,217.6 206,218.1 208.5,218.7 211,219.2 213.5,219.9 216,220.7 218.5,221.6 221,222.6 223.5,223.6 226,224.7 228.5,225.9 231,227.3 233.5,229.4 236,231.2 238.5,233 241,234.5 243.5,235.8 246,237.2 248.5,239.1 251,241 253.5,242.7 256,244.5 258.5,246.5 261,248.5 263.5,250.1 266,251.4 268.5,252.8 271,254.1 273.5,255.5 276,256.9 278.5,258.2 281,259.5 283.5,260.5 286,261.5 288.5,262.5 291,263.6 293.5,264.7 296,265.8 298.5,266.9 301,267.7 303.5,268.4 306,269 308.5,269.5 311,269.9 313.5,270.3 316,270.6 318.5,270.8 321,271.1 323.5,271.3 326,271.5 327.5,271.6" fill="none" stroke="#000" stroke-width="0.5" stroke-linejoin="round" stroke-linecap="round"/>
<polyline points="198.5,216.5 201,217.2 203.5,217.7 206,218.2 208.5,218.8 211,219.4 213.5,220.1 216,220.9 218.5,221.8 221,222.8 223.5,223.9 226,225 228.5,226.1 231,227.6 233.5,229.7 236,231.5 238.5,233.3 241,234.8 243.5,236.2 246,237.6 248.5,239.5 251,241.4 253.5,243.2 256,245 258.5,247 261,249 263.5,250.6 266,251.9 268.5,253.3 271,254.6 273.5,256 276,257.4 278.5,258.8 281,260 283.5,261.1 286,262.1 288.5,263.1 291,264.1 293.5,265.3 296,266.4 298.5,267.4 301,268.3 303.5,268.9 306,269.5 308.5,270 311,270.4 313.5,270.7 316,271 318.5,271.2 321,271.5 323.5,271.7 326,271.8 327.5,271.9" fill="none" stroke="#000" stroke-width="0.5" stroke-linejoin="round" stroke-linecap="round"/>
<polyline points="198.5,216.5 201,217.3 203.5,217.7 206,218.3 208.5,218.8 211,219.4 213.5,220.2 216,221 218.5,222 221,223 223.5,224 226,225.1 228.5,226.3 231,227.7 233.5,229.8 236,231.7 238.5,233.4 241,235 243.5,236.3 246,237.7 248.5,239.6 251,241.5 253.5,243.2 256,245 258.5,247 261,249 263.5,250.6 266,251.9 268.5,253.2 271,254.6 273.5,256 276,257.4 278.5,258.7 281,260 283.5,261.1 286,262.1 288.5,263.1 291,264.2 293.5,265.3 296,266.4 298.5,267.5 301,268.4 303.5,269.1 306,269.6 308.5,270.1 311,270.6 313.5,270.9 316,271.2 318.5,271.5 321,271.7 323.5,272 326,272.2 327.5,272.3" fill="none" stroke="#000" stroke-width="0.5" stroke-linejoin="round" stroke-linecap="round"/>
<polyline points="198.5,216.5 201,217.3 203.5,217.7 206,218.3 208.5,218.9 211,219.5 213.5,220.3 216,221.1 218.5,222.1 221,223.1 223.5,224.2 226,225.4 228.5,226.5 231,228 233.5,230.2 236,232 238.5,233.9 241,235.4 243.5,236.8 246,238.2 248.5,240.2 251,242.1 253.5,243.9 256,245.7 258.5,247.7 261,249.7 263.5,251.3 266,252.7 268.5,254 271,255.4 273.5,256.8 276,258.2 278.5,259.6 281,260.8 283.5,261.9 286,262.9 288.5,263.9 291,265 293.5,266.1 296,267.2 298.5,268.3 301,269.1 303.5,269.8 306,270.3 308.5,270.7 311,271.1 313.5,271.4 316,271.6 318.5,271.8 321,272 323.5,272.2 326,272.3 327.5,272.3" fill="none" stroke="#000" stroke-width="0.5" stroke-linejoin="round" stroke-linecap="round"/>
<polyline points="198.5,216.5 201,217.3 203.5,217.8 206,218.3 208.5,218.9 211,219.6 213.5,220.3 216,221.2 218.5,222.2 221,223.2 223.5,224.2 226,225.4 228.5,226.5 231,228 233.5,230.1 236,232 238.5,233.8 241,235.3 243.5,236.7 246,238.1 248.5,240 251,241.9 253.5,243.6 256,245.4 258.5,247.4 261,249.4 263.5,251 266,252.3 268.5,253.6 271,255 273.5,256.4 276,257.8 278.5,259.2 281,260.4 283.5,261.5 286,262.5 288.5,263.5 291,264.6 293.5,265.8 296,266.9 298.5,268 301,268.8 303.5,269.5 306,270.1 308.5,270.6 311,271 313.5,271.4 316,271.6 318.5,271.9 321,272.1 323.5,272.4 326,272.5 327.5,272.6" fill="none" stroke="#000" stroke-width="0.5" stroke-linejoin="round" stroke-linecap="round"/>
<polyline points="198.5,216.5 201,217.3 203.5,217.8 206,218.4 208.5,219 211,219.7 213.5,220.5 216,221.4 218.5,222.4 221,223.4 223.5,224.5 226,225.6 228.5,226.8 231,228.3 233.5,230.5 236,232.4 238.5,234.2 241,235.7 243.5,237.1 246,238.5 248.5,240.5 251,242.4 253.5,244.1 256,245.9 258.5,247.9 261,249.9 263.5,251.5 266,252.8 268.5,254.2 271,255.6 273.5,256.9 276,258.4 278.5,259.8 281,261 283.5,262.1 286,263.1 288.5,264.1 291,265.2 293.5,266.4 296,267.5 298.5,268.6 301,269.4 303.5,270.1 306,270.6 308.5,271.1 311,271.5 313.5,271.9 316,272.1 318.5,272.3 321,272.5 323.5,272.7 326,272.9 327.5,272.9" fill="none" stroke="#000" stroke-width="0.5" stroke-linejoin="round" stroke-linecap="round"/>
<polyline points="198.5,216.5 201,217.4 203.5,217.9 206,218.5 208.5,219.1 211,219.8 213.5,220.6 216,221.5 218.5,222.5 221,223.5 223.5,224.5 226,225.7 228.5,226.8 231,228.3 233.5,230.4 236,232.3 238.5,234 241,235.5 243.5,236.9 246,238.3 248.5,240.3 251,242.1 253.5,243.8 256,245.5 258.5,247.4 261,249.4 263.5,251 266,252.2 268.5,253.6 271,255 273.5,256.3 276,257.7 278.5,259.1 281,260.4 283.5,261.5 286,262.5 288.5,263.6 291,264.7 293.5,265.8 296,267 298.5,268.1 301,269 303.5,269.8 306,270.4 308.5,270.9 311,271.4 313.5,271.8 316,272.1 318.5,272.4 321,272.7 323.5,273 326,273.2 327.5,273.3" fill="none" stroke="#000" stroke-width="0.5" stroke-linejoin="round" stroke-linecap="round"/>
<polyline points="198.5,216.5 201,217.4 203.5,217.9 206,218.6 208.5,219.2 211,219.9 213.5,220.8 216,221.7 218.5,222.8 221,223.8 223.5,224.9 226,226.1 228.5,227.3 231,228.8 233.5,231 236,232.9 238.5,234.7 241,236.3 243.5,237.7 246,239.1 248.5,241.1 251,243.1 253.5,244.7 256,246.5 258.5,248.4 261,250.4 263.5,252 266,253.3 268.5,254.7 271,256.1 273.5,257.5 276,258.9 278.5,260.3 281,261.6 283.5,262.7 286,263.7 288.5,264.8 291,265.9 293.5,267 296,268.2 298.5,269.3 301,270.1 303.5,270.8 306,271.4 308.5,271.9 311,272.3 313.5,272.6 316,272.9 318.5,273.1 321,273.3 323.5,273.5 326,273.7 327.5,273.7" fill="none" stroke="#000" stroke-width="0.5" stroke-linejoin="round" stroke-linecap="round"/>
<polyline points="198.5,216.5 201,217.4 203.5,218 206,218.6 208.5,219.3 211,220 213.5,220.9 216,221.9 218.5,222.9 221,224 223.5,225.1 226,226.2 228.5,227.4 231,229 233.5,231.2 236,233.1 238.5,234.9 241,236.4 243.5,237.8 246,239.3 248.5,241.3 251,243.2 253.5,244.8 256,246.6 258.5,248.5 261,250.4 263.5,252 266,253.3 268.5,254.7 271,256.1 273.5,257.5 276,258.9 278.5,260.3 281,261.6 283.5,262.7 286,263.8 288.5,264.8 291,265.9 293.5,267.1 296,268.3 298.5,269.4 301,270.3 303.5,271 306,271.6 308.5,272.1 311,272.5 313.5,272.9 316,273.1 318.5,273.4 321,273.6 323.5,273.9 326,274 327.5,274.1" fill="none" stroke="#000" stroke-width="0.5" stroke-linejoin="round" stroke-linecap="round"/>
<polyline points="198.5,216.5 201,217.5 203.5,218 206,218.7 208.5,219.4 211,220.1 213.5,220.9 216,221.9 218.5,223 221,224.1 223.5,225.1 226,226.3 228.5,227.4 231,229 233.5,231.2 236,233.1 238.5,234.8 241,236.3 243.5,237.7 246,239.1 248.5,241.1 251,243 253.5,244.7 256,246.4 258.5,248.2 261,250.2 263.5,251.7 266,253 268.5,254.4 271,255.8 273.5,257.1 276,258.6 278.5,260 281,261.2 283.5,262.4 286,263.4 288.5,264.5 291,265.6 293.5,266.8 296,268 298.5,269.1 301,270.1 303.5,270.8 306,271.4 308.5,272 311,272.4 313.5,272.8 316,273.2 318.5,273.4 321,273.7 323.5,274 326,274.2 327.5,274.3" fill="none" stroke="#000" stroke-width="0.5" stroke-linejoin="round" stroke-linecap="round"/>
<polyline points="198.5,216.5 201,217.5 203.5,218 206,218.7 208.5,219.5 211,220.2 213.5,221.1 216,222.1 218.5,223.2 221,224.3 223.5,225.4 226,226.6 228.5,227.8 231,229.4 233.5,231.6 236,233.5 238.5,235.3 241,236.8 243.5,238.3 246,239.7 248.5,241.8 251,243.7 253.5,245.4 256,247.1 258.5,249 261,250.9 263.5,252.5 266,253.8 268.5,255.2 271,256.6 273.5,258 276,259.4 278.5,260.8 281,262.1 283.5,263.2 286,264.3 288.5,265.4 291,266.5 293.5,267.7 296,268.9 298.5,270 301,270.9 303.5,271.6 306,272.2 308.5,272.7 311,273.1 313.5,273.5 316,273.7 318.5,273.9 321,274.2 323.5,274.4 326,274.6 327.5,274.6" fill="none" stroke="#000" stroke-width="0.5" stroke-linejoin="round" stroke-linecap="round"/>
<polyline points="198.5,216.5 201,217.5 203.5,218.1 206,218.8 208.5,219.5 211,220.3 213.5,221.2 216,222.2 218.5,223.3 221,224.4 223.5,225.4 226,226.6 228.5,227.8 231,229.3 233.5,231.5 236,233.4 238.5,235.2 241,236.7 243.5,238.1 246,239.5 248.5,241.5 251,243.4 253.5,245 256,246.7 258.5,248.5 261,250.4 263.5,252 266,253.2 268.5,254.6 271,256 273.5,257.4 276,258.8 278.5,260.2 281,261.5 283.5,262.6 286,263.7 288.5,264.8 291,265.9 293.5,267.1 296,268.4 298.5,269.5 301,270.5 303.5,271.2 306,271.9 308.5,272.4 311,272.9 313.5,273.3 316,273.7 318.5,274 321,274.3 323.5,274.6 326,274.8 327.5,274.9" fill="none" stroke="#000" stroke-width="0.5" stroke-linejoin="round" stroke-linecap="round"/>
<polyline points="198.5,216.5 201,217.5 203.5,218.1 206,218.8 208.5,219.6 211,220.3 213.5,221.3 216,222.3 218.5,223.4 221,224.5 223.5,225.6 226,226.7 228.5,227.9 231,229.4 233.5,231.7 236,233.6 238.5,235.3 241,236.8 243.5,238.2 246,239.7 248.5,241.7 251,243.6 253.5,245.2 256,246.8 258.5,248.7 261,250.6 263.5,252.1 266,253.4 268.5,254.7 271,256.1 273.5,257.5 276,259 278.5,260.4 281,261.7 283.5,262.8 286,263.9 288.5,265 291,266.1 293.5,267.3 296,268.6 298.5,269.7 301,270.7 303.5,271.4 306,272.1 308.5,272.6 311,273.1 313.5,273.6 316,273.9 318.5,274.2 321,274.5 323.5,274.8 326,275.1 327.5,275.2" fill="none" stroke="#000" stroke-width="0.5" stroke-linejoin="round" stroke-linecap="round"/>
<polyline points="198.5,216.5 201,217.6 203.5,218.2 206,218.9 208.5,219.7 211,220.4 213.5,221.4 216,222.4 218.5,223.5 221,224.6 223.5,225.7 226,226.8 228.5,228 231,229.5 233.5,231.7 236,233.7 238.5,235.4 241,236.9 243.5,238.2 246,239.7 248.5,241.7 251,243.6 253.5,245.1 256,246.8 258.5,248.6 261,250.4 263.5,252 266,253.2 268.5,254.6 271,256 273.5,257.3 276,258.8 278.5,260.2 281,261.5 283.5,262.6 286,263.7 288.5,264.8 291,266 293.5,267.2 296,268.5 298.5,269.7 301,270.6 303.5,271.4 306,272.1 308.5,272.7 311,273.2 313.5,273.7 316,274 318.5,274.4 321,274.7 323.5,275.1 326,275.4 327.5,275.5" fill="none" stroke="#000" stroke-width="0.5" stroke-linejoin="round" stroke-linecap="round"/>
<polyline points="198.5,216.5 201,217.6 203.5,218.2 206,218.9 208.5,219.7 211,220.5 213.5,221.5 216,222.6 218.5,223.7 221,224.8 223.5,226 226,227.1 228.5,228.3 231,229.9 233.5,232.2 236,234.2 238.5,235.9 241,237.5 243.5,238.9 246,240.4 248.5,242.5 251,244.4 253.5,246 256,247.7 258.5,249.5 261,251.4 263.5,253 266,254.3 268.5,255.6 271,257 273.5,258.4 276,259.9 278.5,261.3 281,262.6 283.5,263.8 286,264.9 288.5,265.9 291,267.1 293.5,268.3 296,269.5 298.5,270.7 301,271.6 303.5,272.4 306,273 308.5,273.5 311,274 313.5,274.3 316,274.6 318.5,274.9 321,275.1 323.5,275.4 326,275.6 327.5,275.6" fill="none" stroke="#000" stroke-width="0.5" stroke-linejoin="round" stroke-linecap="round"/>
<polyline points="198.5,216.5 201,217.6 203.5,218.3 206,219 208.5,219.9 211,220.7 213.5,221.7 216,222.8 218.5,223.9 221,225.1 223.5,226.2 226,227.4 228.5,228.6 231,230.2 233.5,232.5 236,234.5 238.5,236.3 241,237.8 243.5,239.3 246,240.7 248.5,242.8 251,244.8 253.5,246.3 256,248 258.5,249.8 261,251.7 263.5,253.2 266,254.5 268.5,255.9 271,257.3 273.5,258.7 276,260.2 278.5,261.6 281,262.9 283.5,264.1 286,265.2 288.5,266.3 291,267.4 293.5,268.7 296,269.9 298.5,271.1 301,272 303.5,272.8 306,273.4 308.5,274 311,274.4 313.5,274.8 316,275.1 318.5,275.4 321,275.7 323.5,275.9 326,276.1 327.5,276.2" fill="none" stroke="#000" stroke-width="0.5" stroke-linejoin="round" stroke-linecap="round"/>
<polyline points="198.5,216.5 201,217.6 203.5,218.3 206,219 208.5,219.9 211,220.7 213.5,221.7 216,222.8 218.5,223.9 221,225.1 223.5,226.2 226,227.3 228.5,228.5 231,230.1 233.5,232.3 236,234.3 238.5,236 241,237.5 243.5,238.9 246,240.3 248.5,242.4 251,244.3 253.5,245.8 256,247.4 258.5,249.2 261,251.1 263.5,252.6 266,253.9 268.5,255.2 271,256.6 273.5,258 276,259.5 278.5,260.9 281,262.2 283.5,263.4 286,264.5 288.5,265.6 291,266.7 293.5,268 296,269.3 298.5,270.5 301,271.5 303.5,272.3 306,272.9 308.5,273.5 311,274.1 313.5,274.5 316,274.9 318.5,275.2 321,275.6 323.5,275.9 326,276.2 327.5,276.3" fill="none" stroke="#000" stroke-width="0.5" stroke-linejoin="round" stroke-linecap="round"/>
<polyline points="198.5,216.5 201,217.7 203.5,218.4 206,219.2 208.5,220 211,220.9 213.5,221.9 216,223.1 218.5,224.3 221,225.5 223.5,226.6 226,227.8 228.5,229 231,230.6 233.5,232.9 236,235 238.5,236.7 241,238.2 243.5,239.7 246,241.2 248.5,243.3 251,245.2 253.5,246.8 256,248.4 258.5,250.2 261,252 263.5,253.6 266,254.9 268.5,256.2 271,257.6 273.5,259.1 276,260.5 278.5,262 281,263.3 283.5,264.5 286,265.6 288.5,266.7 291,267.9 293.5,269.1 296,270.4 298.5,271.6 301,272.5 303.5,273.3 306,274 308.5,274.5 311,275 313.5,275.4 316,275.7 318.5,276 321,276.3 323.5,276.6 326,276.8 327.5,276.8" fill="none" stroke="#000" stroke-width="0.5" stroke-linejoin="round" stroke-linecap="round"/>
<polyline points="198.5,216.5 201,217.7 203.5,218.4 206,219.2 208.5,220.1 211,220.9 213.5,222 216,223.1 218.5,224.3 221,225.5 223.5,226.6 226,227.7 228.5,228.9 231,230.5 233.5,232.8 236,234.8 238.5,236.6 241,238 243.5,239.5 246,240.9 248.5,243 251,244.9 253.5,246.4 256,248 258.5,249.8 261,251.6 263.5,253.1 266,254.4 268.5,255.7 271,257.1 273.5,258.5 276,260 278.5,261.5 281,262.8 283.5,263.9 286,265.1 288.5,266.2 291,267.4 293.5,268.7 296,270 298.5,271.2 301,272.2 303.5,273 306,273.7 308.5,274.3 311,274.8 313.5,275.3 316,275.6 318.5,276 321,276.3 323.5,276.7 326,276.9 327.5,277.1" fill="none" stroke="#000" stroke-width="0.5" stroke-linejoin="round" stroke-linecap="round"/>
<polyline points="198.5,216.5 201,217.7 203.5,218.4 206,219.2 208.5,220.1 211,221 213.5,222 216,223.2 218.5,224.4 221,225.6 223.5,226.7 226,227.9 228.5,229.1 231,230.7 233.5,233 236,235 238.5,236.7 241,238.2 243.5,239.6 246,241.1 248.5,243.2 251,245.1 253.5,246.6 256,248.2 258.5,249.9 261,251.7 263.5,253.2 266,254.5 268.5,255.9 271,257.3 273.5,258.7 276,260.2 278.5,261.6 281,262.9 283.5,264.1 286,265.2 288.5,266.3 291,267.5 293.5,268.8 296,270.2 298.5,271.4 301,272.4 303.5,273.2 306,273.9 308.5,274.5 311,275 313.5,275.5 316,275.9 318.5,276.2 321,276.5 323.5,276.9 326,277.1 327.5,277.3" fill="none" stroke="#000" stroke-width="0.5" stroke-linejoin="round" stroke-linecap="round"/>
<polyline points="198.5,216.5 201,217.7 203.5,218.4 206,219.3 208.5,220.2 211,221.1 213.5,222.2 216,223.3 218.5,224.6 221,225.8 223.5,226.9 226,228.1 228.5,229.4 231,231 233.5,233.3 236,235.4 238.5,237.1 241,238.6 243.5,240.1 246,241.6 248.5,243.7 251,245.7 253.5,247.2 256,248.8 258.5,250.5 261,252.3 263.5,253.9 266,255.2 268.5,256.5 271,257.9 273.5,259.4 276,260.9 278.5,262.3 281,263.6 283.5,264.8 286,265.9 288.5,267.1 291,268.3 293.5,269.5 296,270.8 298.5,272 301,273 303.5,273.8 306,274.5 308.5,275.1 311,275.6 313.5,276 316,276.3 318.5,276.6 321,276.9 323.5,277.2 326,277.4 327.5,277.5" fill="none" stroke="#000" stroke-width="0.5" stroke-linejoin="round" stroke-linecap="round"/>
<polyline points="198.5,216.5 201,217.8 203.5,218.5 206,219.4 208.5,220.3 211,221.2 213.5,222.3 216,223.5 218.5,224.7 221,226 223.5,227.1 226,228.3 228.5,229.5 231,231.1 233.5,233.5 236,235.6 238.5,237.3 241,238.8 243.5,240.2 246,241.7 248.5,243.9 251,245.8 253.5,247.3 256,248.8 258.5,250.6 261,252.4 263.5,253.9 266,255.2 268.5,256.5 271,258 273.5,259.4 276,260.9 278.5,262.3 281,263.7 283.5,264.9 286,266 288.5,267.1 291,268.3 293.5,269.6 296,271 298.5,272.2 301,273.2 303.5,274 306,274.7 308.5,275.3 311,275.8 313.5,276.2 316,276.6 318.5,276.9 321,277.2 323.5,277.5 326,277.8 327.5,277.9" fill="none" stroke="#000" stroke-width="0.5" stroke-linejoin="round" stroke-linecap="round"/>
<polyline points="198.5,216.5 201,217.8 203.5,218.6 206,219.4 208.5,220.4 211,221.3 213.5,222.4 216,223.7 218.5,224.9 221,226.2 223.5,227.3 226,228.5 228.5,229.7 231,231.4 233.5,233.8 236,235.8 238.5,237.6 241,239 243.5,240.5 246,242 248.5,244.2 251,246.1 253.5,247.6 256,249.1 258.5,250.8 261,252.6 263.5,254.1 266,255.4 268.5,256.8 271,258.2 273.5,259.6 276,261.1 278.5,262.6 281,263.9 283.5,265.1 286,266.3 288.5,267.4 291,268.6 293.5,269.9 296,271.3 298.5,272.5 301,273.5 303.5,274.3 306,275 308.5,275.6 311,276.2 313.5,276.6 316,277 318.5,277.3 321,277.6 323.5,277.9 326,278.2 327.5,278.3" fill="none" stroke="#000" stroke-width="0.5" stroke-linejoin="round" stroke-linecap="round"/>
<polyline points="198.5,216.5 201,217.8 203.5,218.6 206,219.5 208.5,220.5 211,221.4 213.5,222.5 216,223.8 218.5,225.1 221,226.3 223.5,227.4 226,228.6 228.5,229.9 231,231.5 233.5,233.9 236,235.9 238.5,237.7 241,239.1 243.5,240.6 246,242.1 248.5,244.2 251,246.1 253.5,247.6 256,249.1 258.5,250.8 261,252.6 263.5,254.1 266,255.3 268.5,256.7 271,258.1 273.5,259.5 276,261 278.5,262.5 281,263.8 283.5,265 286,266.2 288.5,267.4 291,268.6 293.5,269.9 296,271.3 298.5,272.5 301,273.6 303.5,274.4 306,275.1 308.5,275.7 311,276.3 313.5,276.8 316,277.2 318.5,277.5 321,277.9 323.5,278.2 326,278.5 327.5,278.6" fill="none" stroke="#000" stroke-width="0.5" stroke-linejoin="round" stroke-linecap="round"/>
<polyline points="198.5,216.5 201,217.9 203.5,218.6 206,219.5 208.5,220.5 211,221.4 213.5,222.6 216,223.8 218.5,225.1 221,226.3 223.5,227.4 226,228.6 228.5,229.8 231,231.5 233.5,233.8 236,235.9 238.5,237.6 241,239 243.5,240.5 246,242 248.5,244.1 251,246 253.5,247.4 256,248.9 258.5,250.6 261,252.4 263.5,253.8 266,255.1 268.5,256.4 271,257.9 273.5,259.3 276,260.8 278.5,262.2 281,263.6 283.5,264.8 286,265.9 288.5,267.1 291,268.3 293.5,269.7 296,271.1 298.5,272.3 301,273.4 303.5,274.2 306,275 308.5,275.6 311,276.2 313.5,276.7 316,277.1 318.5,277.5 321,277.9 323.5,278.3 326,278.6 327.5,278.7" fill="none" stroke="#000" stroke-width="0.5" stroke-linejoin="round" stroke-linecap="round"/>
<polyline points="198.5,216.5 201,217.9 203.5,218.7 206,219.6 208.5,220.6 211,221.6 213.5,222.7 216,224 218.5,225.3 221,226.5 223.5,227.7 226,228.9 228.5,230.1 231,231.8 233.5,234.2 236,236.3 238.5,238 241,239.5 243.5,240.9 246,242.5 248.5,244.7 251,246.6 253.5,248 256,249.5 258.5,251.2 261,253 263.5,254.5 266,255.7 268.5,257.1 271,258.5 273.5,259.9 276,261.4 278.5,262.9 281,264.3 283.5,265.5 286,266.6 288.5,267.8 291,269 293.5,270.4 296,271.7 298.5,273 301,274 303.5,274.9 306,275.6 308.5,276.2 311,276.8 313.5,277.2 316,277.6 318.5,278 321,278.3 323.5,278.7 326,278.9 327.5,279" fill="none" stroke="#000" stroke-width="0.5" stroke-linejoin="round" stroke-linecap="round"/>
<polyline points="198.5,216.5 201,217.9 203.5,218.7 206,219.7 208.5,220.7 211,221.7 213.5,222.8 216,224.1 218.5,225.4 221,226.7 223.5,227.8 226,229 228.5,230.2 231,231.8 233.5,234.2 236,236.3 238.5,238 241,239.4 243.5,240.9 246,242.3 248.5,244.5 251,246.4 253.5,247.8 256,249.3 258.5,250.9 261,252.6 263.5,254.1 266,255.3 268.5,256.7 271,258.1 273.5,259.5 276,261 278.5,262.5 281,263.8 283.5,265.1 286,266.2 288.5,267.4 291,268.7 293.5,270 296,271.4 298.5,272.7 301,273.8 303.5,274.7 306,275.5 308.5,276.1 311,276.8 313.5,277.3 316,277.7 318.5,278.1 321,278.5 323.5,279 326,279.3 327.5,279.5" fill="none" stroke="#000" stroke-width="0.5" stroke-linejoin="round" stroke-linecap="round"/>
<polyline points="198.5,216.5 201,217.9 203.5,218.8 206,219.7 208.5,220.8 211,221.8 213.5,222.9 216,224.2 218.5,225.6 221,226.8 223.5,228 226,229.2 228.5,230.4 231,232 233.5,234.5 236,236.5 238.5,238.2 241,239.6 243.5,241.1 246,242.6 248.5,244.8 251,246.7 253.5,248 256,249.5 258.5,251.1 261,252.8 263.5,254.3 266,255.5 268.5,256.9 271,258.3 273.5,259.7 276,261.2 278.5,262.7 281,264.1 283.5,265.3 286,266.5 288.5,267.7 291,268.9 293.5,270.3 296,271.7 298.5,273 301,274.1 303.5,275 306,275.8 308.5,276.5 311,277.1 313.5,277.6 316,278 318.5,278.4 321,278.9 323.5,279.3 326,279.6 327.5,279.8" fill="none" stroke="#000" stroke-width="0.5" stroke-linejoin="round" stroke-linecap="round"/>
<polyline points="198.5,216.5 201,218 203.5,218.8 206,219.8 208.5,220.8 211,221.8 213.5,223 216,224.3 218.5,225.7 221,226.9 223.5,228.1 226,229.3 228.5,230.5 231,232.1 233.5,234.5 236,236.6 238.5,238.3 241,239.7 243.5,241.1 246,242.6 248.5,244.8 251,246.7 253.5,248 256,249.4 258.5,251 261,252.8 263.5,254.2 266,255.4 268.5,256.8 271,258.2 273.5,259.6 276,261.1 278.5,262.6 281,263.9 283.5,265.2 286,266.4 288.5,267.6 291,268.8 293.5,270.2 296,271.7 298.5,273 301,274.1 303.5,275 306,275.8 308.5,276.5 311,277.1 313.5,277.7 316,278.2 318.5,278.6 321,279 323.5,279.5 326,279.9 327.5,280" fill="none" stroke="#000" stroke-width="0.5" stroke-linejoin="round" stroke-linecap="round"/>
<polyline points="198.5,216.5 201,218 203.5,218.8 206,219.8 208.5,220.9 211,221.9 213.5,223.1 216,224.5 218.5,225.8 221,227.1 223.5,228.3 226,229.5 228.5,230.7 231,232.4 233.5,234.8 236,236.9 238.5,238.6 241,240 243.5,241.5 246,243 248.5,245.2 251,247.1 253.5,248.4 256,249.8 258.5,251.5 261,253.2 263.5,254.6 266,255.9 268.5,257.2 271,258.6 273.5,260 276,261.6 278.5,263.1 281,264.4 283.5,265.7 286,266.8 288.5,268 291,269.3 293.5,270.7 296,272.1 298.5,273.5 301,274.6 303.5,275.5 306,276.2 308.5,276.9 311,277.6 313.5,278.1 316,278.5 318.5,278.9 321,279.4 323.5,279.8 326,280.1 327.5,280.3" fill="none" stroke="#000" stroke-width="0.5" stroke-linejoin="round" stroke-linecap="round"/>
<polyline points="198.5,216.5 201,218 203.5,218.9 206,219.9 208.5,221 211,222.1 213.5,223.3 216,224.7 218.5,226.1 221,227.4 223.5,228.6 226,229.8 228.5,231.1 231,232.8 233.5,235.3 236,237.4 238.5,239.1 241,240.6 243.5,242.1 246,243.6 248.5,245.9 251,247.8 253.5,249.1 256,250.6 258.5,252.2 261,253.9 263.5,255.4 266,256.6 268.5,258 271,259.4 273.5,260.9 276,262.4 278.5,263.9 281,265.3 283.5,266.5 286,267.7 288.5,268.9 291,270.2 293.5,271.6 296,273 298.5,274.3 301,275.4 303.5,276.3 306,277.1 308.5,277.7 311,278.3 313.5,278.8 316,279.2 318.5,279.6 321,279.9 323.5,280.3 326,280.6 327.5,280.7" fill="none" stroke="#000" stroke-width="0.5" stroke-linejoin="round" stroke-linecap="round"/>
<polyline points="198.5,216.5 201,218 203.5,218.9 206,219.9 208.5,221 211,222.1 213.5,223.3 216,224.7 218.5,226.1 221,227.4 223.5,228.6 226,229.7 228.5,231 231,232.6 233.5,235.1 236,237.2 238.5,238.9 241,240.3 243.5,241.8 246,243.3 248.5,245.5 251,247.4 253.5,248.7 256,250.1 258.5,251.7 261,253.4 263.5,254.8 266,256.1 268.5,257.4 271,258.8 273.5,260.2 276,261.8 278.5,263.3 281,264.6 283.5,265.9 286,267.1 288.5,268.3 291,269.6 293.5,271 296,272.5 298.5,273.8 301,274.9 303.5,275.8 306,276.6 308.5,277.3 311,278 313.5,278.5 316,279 318.5,279.4 321,279.9 323.5,280.3 326,280.7 327.5,280.8" fill="none" stroke="#000" stroke-width="0.5" stroke-linejoin="round" stroke-linecap="round"/>
<polyline points="198.5,216.5 201,218.1 203.5,219 206,220 208.5,221.1 211,222.2 213.5,223.5 216,224.8 218.5,226.2 221,227.6 223.5,228.7 226,229.9 228.5,231.1 231,232.8 233.5,235.3 236,237.4 238.5,239 241,240.5 243.5,241.9 246,243.4 248.5,245.7 251,247.5 253.5,248.8 256,250.2 258.5,251.8 261,253.4 263.5,254.8 266,256.1 268.5,257.4 271,258.8 273.5,260.2 276,261.8 278.5,263.3 281,264.7 283.5,265.9 286,267.1 288.5,268.3 291,269.7 293.5,271.1 296,272.6 298.5,273.9 301,275.1 303.5,276 306,276.8 308.5,277.5 311,278.2 313.5,278.8 316,279.3 318.5,279.7 321,280.2 323.5,280.7 326,281.1 327.5,281.2" fill="none" stroke="#000" stroke-width="0.5" stroke-linejoin="round" stroke-linecap="round"/>
<polyline points="198.5,216.5 201,218.1 203.5,219 206,220.1 208.5,221.2 211,222.3 213.5,223.6 216,225.1 218.5,226.5 221,227.9 223.5,229 226,230.3 228.5,231.5 231,233.2 233.5,235.8 236,237.9 238.5,239.6 241,241 243.5,242.5 246,244.1 248.5,246.3 251,248.2 253.5,249.6 256,250.9 258.5,252.5 261,254.2 263.5,255.6 266,256.9 268.5,258.2 271,259.7 273.5,261.1 276,262.7 278.5,264.2 281,265.6 283.5,266.8 286,268 288.5,269.3 291,270.6 293.5,272 296,273.4 298.5,274.8 301,275.9 303.5,276.8 306,277.6 308.5,278.3 311,278.9 313.5,279.5 316,279.9 318.5,280.3 321,280.7 323.5,281.1 326,281.5 327.5,281.6" fill="none" stroke="#000" stroke-width="0.5" stroke-linejoin="round" stroke-linecap="round"/>
<polyline points="198.5,216.5 201,218.2 203.5,219.1 206,220.2 208.5,221.3 211,222.5 213.5,223.8 216,225.2 218.5,226.6 221,228 223.5,229.2 226,230.4 228.5,231.6 231,233.3 233.5,235.8 236,238 238.5,239.6 241,241 243.5,242.5 246,244 248.5,246.3 251,248.2 253.5,249.4 256,250.8 258.5,252.3 261,254 263.5,255.4 266,256.6 268.5,257.9 271,259.4 273.5,260.8 276,262.3 278.5,263.9 281,265.3 283.5,266.5 286,267.7 288.5,269 291,270.3 293.5,271.8 296,273.3 298.5,274.6 301,275.8 303.5,276.8 306,277.6 308.5,278.3 311,279 313.5,279.6 316,280.1 318.5,280.5 321,281 323.5,281.5 326,281.9 327.5,282.1" fill="none" stroke="#000" stroke-width="0.5" stroke-linejoin="round" stroke-linecap="round"/>
<polyline points="198.5,216.5 201,218.2 203.5,219.1 206,220.2 208.5,221.4 211,222.5 213.5,223.9 216,225.3 218.5,226.8 221,228.2 223.5,229.4 226,230.6 228.5,231.9 231,233.6 233.5,236.1 236,238.3 238.5,240 241,241.4 243.5,242.9 246,244.4 248.5,246.7 251,248.6 253.5,249.9 256,251.2 258.5,252.8 261,254.4 263.5,255.9 266,257.1 268.5,258.4 271,259.9 273.5,261.3 276,262.9 278.5,264.4 281,265.8 283.5,267.1 286,268.3 288.5,269.6 291,270.9 293.5,272.3 296,273.8 298.5,275.2 301,276.3 303.5,277.3 306,278.1 308.5,278.8 311,279.4 313.5,280 316,280.5 318.5,280.9 321,281.3 323.5,281.8 326,282.1 327.5,282.3" fill="none" stroke="#000" stroke-width="0.5" stroke-linejoin="round" stroke-linecap="round"/>
<polyline points="198.5,216.5 201,218.2 203.5,219.2 206,220.3 208.5,221.5 211,222.7 213.5,224 216,225.5 218.5,227 221,228.4 223.5,229.6 226,230.8 228.5,232.1 231,233.8 233.5,236.4 236,238.6 238.5,240.3 241,241.7 243.5,243.2 246,244.8 248.5,247.1 251,249 253.5,250.2 256,251.6 258.5,253.1 261,254.8 263.5,256.2 266,257.4 268.5,258.8 271,260.2 273.5,261.7 276,263.2 278.5,264.8 281,266.2 283.5,267.4 286,268.7 288.5,269.9 291,271.3 293.5,272.7 296,274.2 298.5,275.6 301,276.7 303.5,277.7 306,278.5 308.5,279.2 311,279.9 313.5,280.4 316,280.9 318.5,281.3 321,281.7 323.5,282.2 326,282.5 327.5,282.6" fill="none" stroke="#000" stroke-width="0.5" stroke-linejoin="round" stroke-linecap="round"/>
<polyline points="198.5,216.5 201,218.2 203.5,219.2 206,220.3 208.5,221.5 211,222.7 213.5,224.1 216,225.6 218.5,227.1 221,228.5 223.5,229.7 226,230.9 228.5,232.2 231,233.9 233.5,236.5 236,238.7 238.5,240.3 241,241.8 243.5,243.3 246,244.8 248.5,247.1 251,249 253.5,250.3 256,251.6 258.5,253.1 261,254.8 263.5,256.2 266,257.4 268.5,258.8 271,260.2 273.5,261.7 276,263.2 278.5,264.8 281,266.2 283.5,267.4 286,268.7 288.5,269.9 291,271.3 293.5,272.7 296,274.2 298.5,275.6 301,276.8 303.5,277.8 306,278.6 308.5,279.3 311,280 313.5,280.5 316,281 318.5,281.4 321,281.9 323.5,282.3 326,282.7 327.5,282.8" fill="none" stroke="#000" stroke-width="0.5" stroke-linejoin="round" stroke-linecap="round"/>
<polyline points="198.5,216.5 201,218.2 203.5,219.2 206,220.4 208.5,221.6 211,222.8 213.5,224.2 216,225.7 218.5,227.2 221,228.6 223.5,229.8 226,231.1 228.5,232.4 231,234.1 233.5,236.7 236,238.9 238.5,240.6 241,242 243.5,243.5 246,245.1 248.5,247.4 251,249.3 253.5,250.6 256,251.9 258.5,253.4 261,255.1 263.5,256.5 266,257.7 268.5,259.1 271,260.5 273.5,262 276,263.5 278.5,265.1 281,266.5 283.5,267.8 286,269 288.5,270.3 291,271.6 293.5,273.1 296,274.6 298.5,276 301,277.1 303.5,278.1 306,278.9 308.5,279.6 311,280.3 313.5,280.8 316,281.3 318.5,281.7 321,282.1 323.5,282.6 326,282.9 327.5,283.1" fill="none" stroke="#000" stroke-width="0.5" stroke-linejoin="round" stroke-linecap="round"/>
<polyline points="198.5,216.5 201,218.3 203.5,219.3 206,220.4 208.5,221.7 211,222.9 213.5,224.3 216,225.8 218.5,227.3 221,228.7 223.5,229.9 226,231.2 228.5,232.4 231,234.2 233.5,236.8 236,239 238.5,240.6 241,242 243.5,243.5 246,245.1 248.5,247.4 251,249.3 253.5,250.6 256,251.8 258.5,253.3 261,254.9 263.5,256.3 266,257.6 268.5,258.9 271,260.3 273.5,261.8 276,263.4 278.5,264.9 281,266.3 283.5,267.6 286,268.9 288.5,270.2 291,271.5 293.5,273 296,274.5 298.5,275.9 301,277.1 303.5,278.1 306,278.9 308.5,279.7 311,280.4 313.5,280.9 316,281.4 318.5,281.9 321,282.3 323.5,282.8 326,283.2 327.5,283.4" fill="none" stroke="#000" stroke-width="0.5" stroke-linejoin="round" stroke-linecap="round"/>
<polyline points="198.5,216.5 201,218.3 203.5,219.3 206,220.5 208.5,221.8 211,223.1 213.5,224.5 216,226.1 218.5,227.6 221,229 223.5,230.3 226,231.5 228.5,232.8 231,234.5 233.5,237.2 236,239.4 238.5,241 241,242.5 243.5,244 246,245.6 248.5,247.9 251,249.8 253.5,251 256,252.3 258.5,253.8 261,255.4 263.5,256.8 266,258 268.5,259.3 271,260.8 273.5,262.3 276,263.8 278.5,265.4 281,266.8 283.5,268.1 286,269.4 288.5,270.7 291,272 293.5,273.5 296,275.1 298.5,276.5 301,277.7 303.5,278.7 306,279.5 308.5,280.2 311,280.9 313.5,281.5 316,282 318.5,282.4 321,282.9 323.5,283.4 326,283.7 327.5,283.9" fill="none" stroke="#000" stroke-width="0.5" stroke-linejoin="round" stroke-linecap="round"/>
<polyline points="198.5,216.5 201,218.9 203.5,220.1 206,221.6 208.5,223.1 211,224.6 213.5,226.3 216,228 218.5,229.8 221,231.5 223.5,233 226,234.5 228.5,235.9 231,237.7 233.5,240.1 236,242.2 238.5,244.1 241,245.7 243.5,247.3 246,248.8 248.5,250.6 251,252.5 253.5,254.4 256,256.6 258.5,258.9 261,261.5 263.5,263.7 266,265.9 268.5,268.1 271,269.7 273.5,270.9 276,271.9 278.5,272.8 281,273.8 283.5,274.7 286,275.6 288.5,276.4 291,277.4 293.5,278.4 296,279.4 298.5,280.5 301,281.5 303.5,282.6 306,283.8 308.5,284.9 311,286.1 313.5,287.4 316,288.6 318.5,289.9 321,291.3 323.5,293 326,294.5 327.5,295.1" fill="none" stroke="#000" stroke-width="0.45" stroke-linejoin="round" stroke-linecap="round"/>
<polyline points="198.5,216.5 201,218.8 203.5,220 206,221.5 208.5,223 211,224.5 213.5,226.1 216,227.9 218.5,229.6 221,231.2 223.5,232.7 226,234.2 228.5,235.6 231,237.4 233.5,239.8 236,241.9 238.5,243.8 241,245.4 243.5,246.9 246,248.4 248.5,250.3 251,252.2 253.5,254 256,256.1 258.5,258.4 261,260.8 263.5,263 266,265.1 268.5,267.2 271,268.8 273.5,270 276,271.1 278.5,272.1 281,273.1 283.5,274 286,274.9 288.5,275.8 291,276.8 293.5,277.8 296,278.9 298.5,280 301,281.1 303.5,282.2 306,283.3 308.5,284.4 311,285.6 313.5,286.8 316,288 318.5,289.2 321,290.5 323.5,292.2 326,293.6 327.5,294.2" fill="none" stroke="#000" stroke-width="0.45" stroke-linejoin="round" stroke-linecap="round"/>
<polyline points="198.5,216.5 201,218.8 203.5,220 206,221.4 208.5,222.9 211,224.3 213.5,226 216,227.7 218.5,229.5 221,231.1 223.5,232.5 226,234 228.5,235.5 231,237.3 233.5,239.7 236,241.8 238.5,243.7 241,245.3 243.5,246.9 246,248.4 248.5,250.3 251,252.2 253.5,254.1 256,256.1 258.5,258.3 261,260.7 263.5,262.8 266,264.8 268.5,266.8 271,268.4 273.5,269.7 276,270.8 278.5,271.9 281,272.9 283.5,273.9 286,274.8 288.5,275.7 291,276.7 293.5,277.8 296,278.9 298.5,280 301,281.1 303.5,282.2 306,283.2 308.5,284.3 311,285.4 313.5,286.5 316,287.6 318.5,288.7 321,289.9 323.5,291.4 326,292.7 327.5,293.2" fill="none" stroke="#000" stroke-width="0.45" stroke-linejoin="round" stroke-linecap="round"/>
<polyline points="198.5,216.5 201,218.7 203.5,219.9 206,221.3 208.5,222.7 211,224.1 213.5,225.7 216,227.4 218.5,229.1 221,230.7 223.5,232.1 226,233.6 228.5,235 231,236.8 233.5,239.2 236,241.3 238.5,243.2 241,244.7 243.5,246.3 246,247.8 248.5,249.8 251,251.7 253.5,253.4 256,255.3 258.5,257.4 261,259.6 263.5,261.6 266,263.6 268.5,265.4 271,267 273.5,268.3 276,269.5 278.5,270.6 281,271.7 283.5,272.7 286,273.7 288.5,274.7 291,275.8 293.5,276.9 296,278.1 298.5,279.3 301,280.4 303.5,281.4 306,282.5 308.5,283.5 311,284.6 313.5,285.6 316,286.6 318.5,287.7 321,288.8 323.5,290.1 326,291.3 327.5,291.7" fill="none" stroke="#000" stroke-width="0.45" stroke-linejoin="round" stroke-linecap="round"/>
<polyline points="198.5,216.5 201,218.6 203.5,219.8 206,221.1 208.5,222.6 211,224 213.5,225.5 216,227.2 218.5,228.9 221,230.5 223.5,231.9 226,233.3 228.5,234.6 231,236.4 233.5,238.9 236,241.1 238.5,242.9 241,244.4 243.5,246 246,247.5 248.5,249.5 251,251.4 253.5,253.1 256,254.9 258.5,256.9 261,259 263.5,260.9 266,262.7 268.5,264.5 271,266.1 273.5,267.4 276,268.6 278.5,269.8 281,271 283.5,272.1 286,273.1 288.5,274.1 291,275.2 293.5,276.4 296,277.7 298.5,278.9 301,280 303.5,281 306,282.1 308.5,283 311,284 313.5,285 316,285.9 318.5,286.8 321,287.8 323.5,289 326,290.1 327.5,290.5" fill="none" stroke="#000" stroke-width="0.45" stroke-linejoin="round" stroke-linecap="round"/>
<polyline points="198.5,216.5 201,218.6 203.5,219.7 206,221.1 208.5,222.5 211,223.8 213.5,225.4 216,227.1 218.5,228.7 221,230.3 223.5,231.7 226,233.1 228.5,234.4 231,236.2 233.5,238.8 236,240.9 238.5,242.7 241,244.3 243.5,245.8 246,247.4 248.5,249.5 251,251.4 253.5,253 256,254.7 258.5,256.6 261,258.7 263.5,260.5 266,262.3 268.5,264 271,265.6 273.5,266.9 276,268.2 278.5,269.5 281,270.7 283.5,271.8 286,272.8 288.5,273.9 291,275 293.5,276.3 296,277.5 298.5,278.8 301,279.9 303.5,280.9 306,281.9 308.5,282.8 311,283.7 313.5,284.6 316,285.5 318.5,286.3 321,287.1 323.5,288.2 326,289.1 327.5,289.5" fill="none" stroke="#000" stroke-width="0.45" stroke-linejoin="round" stroke-linecap="round"/>
<polyline points="198.5,216.5 201,218.5 203.5,219.6 206,221 208.5,222.4 211,223.7 213.5,225.2 216,226.9 218.5,228.5 221,230.1 223.5,231.4 226,232.8 228.5,234.2 231,236 233.5,238.5 236,240.7 238.5,242.5 241,244 243.5,245.6 246,247.2 248.5,249.3 251,251.2 253.5,252.8 256,254.4 258.5,256.3 261,258.3 263.5,260 266,261.7 268.5,263.3 271,264.9 273.5,266.2 276,267.6 278.5,268.9 281,270.1 283.5,271.3 286,272.4 288.5,273.5 291,274.7 293.5,276 296,277.3 298.5,278.5 301,279.7 303.5,280.7 306,281.6 308.5,282.5 311,283.3 313.5,284.1 316,284.9 318.5,285.6 321,286.4 323.5,287.3 326,288.1 327.5,288.4" fill="none" stroke="#000" stroke-width="0.45" stroke-linejoin="round" stroke-linecap="round"/>
<polyline points="198.5,216.5 201,218.5 203.5,219.5 206,220.8 208.5,222.2 211,223.5 213.5,225 216,226.6 218.5,228.2 221,229.7 223.5,231 226,232.3 228.5,233.6 231,235.4 233.5,237.9 236,240.1 238.5,241.8 241,243.3 243.5,244.8 246,246.4 248.5,248.6 251,250.5 253.5,251.9 256,253.4 258.5,255.1 261,256.9 263.5,258.6 266,260.1 268.5,261.6 271,263.1 273.5,264.5 276,265.9 278.5,267.3 281,268.6 283.5,269.8 286,270.9 288.5,272.1 291,273.4 293.5,274.7 296,276.1 298.5,277.5 301,278.6 303.5,279.6 306,280.6 308.5,281.4 311,282.3 313.5,283.1 316,283.8 318.5,284.4 321,285.2 323.5,286 326,286.7 327.5,287" fill="none" stroke="#000" stroke-width="0.45" stroke-linejoin="round" stroke-linecap="round"/>
<polyline points="198.5,216.5 201,218.4 203.5,219.5 206,220.7 208.5,222 211,223.3 213.5,224.8 216,226.4 218.5,228 221,229.5 223.5,230.7 226,232 228.5,233.3 231,235.1 233.5,237.7 236,239.9 238.5,241.6 241,243.1 243.5,244.6 246,246.2 248.5,248.5 251,250.4 253.5,251.7 256,253.2 258.5,254.8 261,256.5 263.5,258.1 266,259.5 268.5,260.9 271,262.4 273.5,263.8 276,265.3 278.5,266.8 281,268.1 283.5,269.4 286,270.6 288.5,271.8 291,273.1 293.5,274.5 296,275.9 298.5,277.3 301,278.5 303.5,279.5 306,280.3 308.5,281.1 311,281.9 313.5,282.6 316,283.2 318.5,283.7 321,284.3 323.5,284.9 326,285.5 327.5,285.7" fill="none" stroke="#000" stroke-width="0.45" stroke-linejoin="round" stroke-linecap="round"/>
<polyline points="198.5,216.5 201,218.4 203.5,219.4 206,220.6 208.5,221.9 211,223.2 213.5,224.6 216,226.2 218.5,227.7 221,229.1 223.5,230.4 226,231.6 228.5,232.9 231,234.6 233.5,237.2 236,239.4 238.5,241 241,242.4 243.5,243.9 246,245.4 248.5,247.7 251,249.6 253.5,250.8 256,252.1 258.5,253.7 261,255.3 263.5,256.8 266,258.1 268.5,259.4 271,260.9 273.5,262.3 276,263.8 278.5,265.3 281,266.7 283.5,268 286,269.2 288.5,270.5 291,271.8 293.5,273.3 296,274.8 298.5,276.2 301,277.4 303.5,278.4 306,279.4 308.5,280.2 311,281 313.5,281.7 316,282.3 318.5,282.9 321,283.5 323.5,284.1 326,284.7 327.5,284.9" fill="none" stroke="#000" stroke-width="0.45" stroke-linejoin="round" stroke-linecap="round"/>
<polyline points="367.5,301 370.5,299.3 373.5,296.8 376.5,294.7 379.5,292.9 382.5,291 385.5,289.2 388.5,287 391.5,284.8 394.5,282.9 397.5,281 400.5,278.9 403.5,277.3 406.5,275.5 409.5,273.4 412.5,271.4 415.5,269.5 418.5,267.6 421.5,265.7 424.5,263.8 427.5,262 430.5,260.1 433.5,258.2 436.5,256.4 439.5,254.6 442.5,252.8 445.5,250.9 448.5,249.1 451.5,247.5 454.5,246.1 457.5,244.8 460.5,243.6 463.5,242.5 466.5,241.4 469.5,240.4 472.5,239.5 475.5,238.6 478.5,237.6 481.5,235.9 484.5,234.1 487.5,232.4 490.5,230.5 493.5,228.8 495.3,228.1" fill="none" stroke="#000" stroke-width="0.45" stroke-linejoin="round" stroke-linecap="round"/>
<polyline points="367.5,301 370.5,299.3 373.5,296.9 376.5,294.8 379.5,293 382.5,291.2 385.5,289.3 388.5,287.2 391.5,284.9 394.5,283 397.5,281 400.5,278.9 403.5,277.3 406.5,275.4 409.5,273.3 412.5,271.3 415.5,269.3 418.5,267.4 421.5,265.5 424.5,263.6 427.5,261.7 430.5,259.8 433.5,258 436.5,256.1 439.5,254.3 442.5,252.5 445.5,250.7 448.5,248.9 451.5,247.3 454.5,245.9 457.5,244.7 460.5,243.5 463.5,242.4 466.5,241.4 469.5,240.5 472.5,239.6 475.5,238.8 478.5,237.7 481.5,236.2 484.5,234.6 487.5,233 490.5,231.2 493.5,229.6 495.3,229" fill="none" stroke="#000" stroke-width="0.45" stroke-linejoin="round" stroke-linecap="round"/>
<polyline points="367.5,301 370.5,299.4 373.5,297 376.5,295 379.5,293.3 382.5,291.5 385.5,289.7 388.5,287.6 391.5,285.4 394.5,283.4 397.5,281.5 400.5,279.5 403.5,277.9 406.5,276 409.5,274 412.5,272 415.5,270.1 418.5,268.3 421.5,266.4 424.5,264.6 427.5,262.8 430.5,260.9 433.5,259.1 436.5,257.3 439.5,255.6 442.5,253.8 445.5,252.1 448.5,250.4 451.5,248.8 454.5,247.4 457.5,246.2 460.5,245 463.5,243.9 466.5,242.8 469.5,241.9 472.5,241 475.5,240 478.5,239 481.5,237.4 484.5,235.7 487.5,234.1 490.5,232.3 493.5,230.6 495.3,229.9" fill="none" stroke="#000" stroke-width="0.45" stroke-linejoin="round" stroke-linecap="round"/>
<polyline points="367.5,301 370.5,299.4 373.5,297.2 376.5,295.3 379.5,293.6 382.5,291.8 385.5,290 388.5,287.8 391.5,285.6 394.5,283.6 397.5,281.7 400.5,279.6 403.5,278 406.5,276.1 409.5,274.1 412.5,272.1 415.5,270.2 418.5,268.3 421.5,266.4 424.5,264.6 427.5,262.8 430.5,261 433.5,259.2 436.5,257.4 439.5,255.7 442.5,253.9 445.5,252.2 448.5,250.6 451.5,249.1 454.5,247.8 457.5,246.5 460.5,245.4 463.5,244.3 466.5,243.3 469.5,242.4 472.5,241.5 475.5,240.6 478.5,239.6 481.5,238.1 484.5,236.6 487.5,235.1 490.5,233.4 493.5,231.8 495.3,231.2" fill="none" stroke="#000" stroke-width="0.45" stroke-linejoin="round" stroke-linecap="round"/>
<polyline points="367.5,301 370.5,299.5 373.5,297.3 376.5,295.4 379.5,293.8 382.5,292 385.5,290.2 388.5,288.1 391.5,285.9 394.5,284 397.5,282.1 400.5,280 403.5,278.4 406.5,276.5 409.5,274.5 412.5,272.5 415.5,270.7 418.5,268.8 421.5,267 424.5,265.3 427.5,263.5 430.5,261.7 433.5,259.9 436.5,258.2 439.5,256.5 442.5,254.8 445.5,253.1 448.5,251.5 451.5,250 454.5,248.7 457.5,247.5 460.5,246.4 463.5,245.3 466.5,244.3 469.5,243.3 472.5,242.4 475.5,241.5 478.5,240.4 481.5,239 484.5,237.5 487.5,236 490.5,234.2 493.5,232.6 495.3,231.9" fill="none" stroke="#000" stroke-width="0.45" stroke-linejoin="round" stroke-linecap="round"/>
<polyline points="367.5,301 370.5,299.6 373.5,297.5 376.5,295.7 379.5,294 382.5,292.3 385.5,290.5 388.5,288.4 391.5,286.2 394.5,284.2 397.5,282.4 400.5,280.3 403.5,278.7 406.5,276.8 409.5,274.8 412.5,272.8 415.5,271 418.5,269.2 421.5,267.4 424.5,265.6 427.5,263.9 430.5,262.1 433.5,260.3 436.5,258.6 439.5,257 442.5,255.3 445.5,253.7 448.5,252.2 451.5,250.7 454.5,249.4 457.5,248.3 460.5,247.1 463.5,246.1 466.5,245 469.5,244.1 472.5,243.1 475.5,242.2 478.5,241.2 481.5,239.8 484.5,238.4 487.5,236.9 490.5,235.2 493.5,233.7 495.3,233" fill="none" stroke="#000" stroke-width="0.45" stroke-linejoin="round" stroke-linecap="round"/>
<polyline points="367.5,301 370.5,299.6 373.5,297.6 376.5,295.8 379.5,294.2 382.5,292.5 385.5,290.7 388.5,288.6 391.5,286.4 394.5,284.4 397.5,282.5 400.5,280.5 403.5,278.9 406.5,277 409.5,274.9 412.5,273 415.5,271.1 418.5,269.3 421.5,267.5 424.5,265.8 427.5,264.1 430.5,262.3 433.5,260.5 436.5,258.8 439.5,257.2 442.5,255.5 445.5,254 448.5,252.4 451.5,251 454.5,249.7 457.5,248.6 460.5,247.5 463.5,246.4 466.5,245.4 469.5,244.4 472.5,243.5 475.5,242.6 478.5,241.6 481.5,240.2 484.5,238.8 487.5,237.4 490.5,235.8 493.5,234.2 495.3,233.6" fill="none" stroke="#000" stroke-width="0.5" stroke-linejoin="round" stroke-linecap="round"/>
<polyline points="367.5,301 370.5,299.6 373.5,297.7 376.5,295.9 379.5,294.3 382.5,292.6 385.5,290.9 388.5,288.8 391.5,286.7 394.5,284.7 397.5,282.8 400.5,280.7 403.5,279.1 406.5,277.2 409.5,275.2 412.5,273.3 415.5,271.5 418.5,269.7 421.5,267.9 424.5,266.1 427.5,264.4 430.5,262.6 433.5,260.8 436.5,259 439.5,257.4 442.5,255.7 445.5,254.2 448.5,252.6 451.5,251.2 454.5,249.9 457.5,248.8 460.5,247.7 463.5,246.6 466.5,245.6 469.5,244.6 472.5,243.7 475.5,242.8 478.5,241.8 481.5,240.5 484.5,239.1 487.5,237.7 490.5,236.1 493.5,234.6 495.3,234" fill="none" stroke="#000" stroke-width="0.5" stroke-linejoin="round" stroke-linecap="round"/>
<polyline points="367.5,301 370.5,299.6 373.5,297.7 376.5,295.9 379.5,294.3 382.5,292.7 385.5,291 388.5,288.9 391.5,286.7 394.5,284.7 397.5,282.8 400.5,280.6 403.5,279 406.5,277.1 409.5,275.1 412.5,273.2 415.5,271.3 418.5,269.5 421.5,267.7 424.5,265.9 427.5,264.2 430.5,262.3 433.5,260.5 436.5,258.7 439.5,257 442.5,255.4 445.5,253.8 448.5,252.3 451.5,250.8 454.5,249.6 457.5,248.4 460.5,247.3 463.5,246.3 466.5,245.3 469.5,244.3 472.5,243.5 475.5,242.6 478.5,241.6 481.5,240.3 484.5,239 487.5,237.7 490.5,236.1 493.5,234.7 495.3,234.1" fill="none" stroke="#000" stroke-width="0.5" stroke-linejoin="round" stroke-linecap="round"/>
<polyline points="367.5,301 370.5,299.7 373.5,297.7 376.5,296 379.5,294.5 382.5,292.8 385.5,291.1 388.5,289.1 391.5,286.9 394.5,285 397.5,283.1 400.5,280.9 403.5,279.4 406.5,277.5 409.5,275.5 412.5,273.6 415.5,271.8 418.5,270 421.5,268.3 424.5,266.5 427.5,264.8 430.5,262.9 433.5,261.1 436.5,259.3 439.5,257.6 442.5,256 445.5,254.4 448.5,252.9 451.5,251.5 454.5,250.2 457.5,249.1 460.5,247.9 463.5,246.9 466.5,245.8 469.5,244.9 472.5,244 475.5,243.1 478.5,242.1 481.5,240.7 484.5,239.4 487.5,238.1 490.5,236.4 493.5,234.9 495.3,234.3" fill="none" stroke="#000" stroke-width="0.5" stroke-linejoin="round" stroke-linecap="round"/>
<polyline points="367.5,301 370.5,299.7 373.5,297.8 376.5,296.1 379.5,294.6 382.5,292.9 385.5,291.3 388.5,289.2 391.5,287.1 394.5,285.1 397.5,283.1 400.5,281 403.5,279.4 406.5,277.5 409.5,275.5 412.5,273.6 415.5,271.7 418.5,269.9 421.5,268.1 424.5,266.4 427.5,264.6 430.5,262.7 433.5,260.8 436.5,259 439.5,257.2 442.5,255.6 445.5,254 448.5,252.5 451.5,251 454.5,249.8 457.5,248.6 460.5,247.5 463.5,246.5 466.5,245.5 469.5,244.5 472.5,243.7 475.5,242.8 478.5,241.9 481.5,240.7 484.5,239.4 487.5,238.2 490.5,236.6 493.5,235.2 495.3,234.7" fill="none" stroke="#000" stroke-width="0.5" stroke-linejoin="round" stroke-linecap="round"/>
<polyline points="367.5,301 370.5,299.7 373.5,297.9 376.5,296.2 379.5,294.7 382.5,293.1 385.5,291.5 388.5,289.5 391.5,287.4 394.5,285.5 397.5,283.5 400.5,281.3 403.5,279.7 406.5,277.9 409.5,275.9 412.5,274 415.5,272.2 418.5,270.4 421.5,268.7 424.5,266.9 427.5,265.2 430.5,263.2 433.5,261.3 436.5,259.5 439.5,257.7 442.5,256.1 445.5,254.5 448.5,253 451.5,251.6 454.5,250.3 457.5,249.1 460.5,248 463.5,247 466.5,246 469.5,245 472.5,244.1 475.5,243.3 478.5,242.3 481.5,241 484.5,239.8 487.5,238.5 490.5,237 493.5,235.5 495.3,235" fill="none" stroke="#000" stroke-width="0.5" stroke-linejoin="round" stroke-linecap="round"/>
<polyline points="367.5,301 370.5,299.7 373.5,297.9 376.5,296.2 379.5,294.7 382.5,293.1 385.5,291.5 388.5,289.4 391.5,287.3 394.5,285.4 397.5,283.4 400.5,281.1 403.5,279.6 406.5,277.7 409.5,275.7 412.5,273.8 415.5,272 418.5,270.2 421.5,268.4 424.5,266.6 427.5,264.8 430.5,262.9 433.5,261 436.5,259.1 439.5,257.3 442.5,255.7 445.5,254.1 448.5,252.6 451.5,251.1 454.5,249.9 457.5,248.7 460.5,247.6 463.5,246.6 466.5,245.6 469.5,244.7 472.5,243.8 475.5,243 478.5,242.1 481.5,240.8 484.5,239.6 487.5,238.4 490.5,236.9 493.5,235.6 495.3,235" fill="none" stroke="#000" stroke-width="0.5" stroke-linejoin="round" stroke-linecap="round"/>
<polyline points="367.5,301 370.5,299.8 373.5,298 376.5,296.3 379.5,294.9 382.5,293.3 385.5,291.7 388.5,289.8 391.5,287.7 394.5,285.8 397.5,283.8 400.5,281.6 403.5,280.1 406.5,278.3 409.5,276.4 412.5,274.5 415.5,272.7 418.5,271 421.5,269.2 424.5,267.5 427.5,265.7 430.5,263.8 433.5,261.9 436.5,260 439.5,258.2 442.5,256.6 445.5,255 448.5,253.5 451.5,252.1 454.5,250.8 457.5,249.6 460.5,248.5 463.5,247.5 466.5,246.4 469.5,245.5 472.5,244.6 475.5,243.7 478.5,242.8 481.5,241.5 484.5,240.2 487.5,238.9 490.5,237.4 493.5,236 495.3,235.4" fill="none" stroke="#000" stroke-width="0.5" stroke-linejoin="round" stroke-linecap="round"/>
<polyline points="367.5,301 370.5,299.8 373.5,298 376.5,296.4 379.5,294.9 382.5,293.4 385.5,291.8 388.5,289.8 391.5,287.8 394.5,285.9 397.5,283.8 400.5,281.5 403.5,280 406.5,278.1 409.5,276.2 412.5,274.3 415.5,272.5 418.5,270.7 421.5,268.9 424.5,267.2 427.5,265.4 430.5,263.4 433.5,261.4 436.5,259.4 439.5,257.6 442.5,256 445.5,254.4 448.5,252.9 451.5,251.5 454.5,250.2 457.5,249 460.5,247.9 463.5,246.9 466.5,245.9 469.5,245 472.5,244.2 475.5,243.3 478.5,242.5 481.5,241.3 484.5,240.1 487.5,238.9 490.5,237.5 493.5,236.2 495.3,235.7" fill="none" stroke="#000" stroke-width="0.5" stroke-linejoin="round" stroke-linecap="round"/>
<polyline points="367.5,301 370.5,299.8 373.5,298 376.5,296.5 379.5,295 382.5,293.5 385.5,292 388.5,290.1 391.5,288 394.5,286.2 397.5,284.1 400.5,281.9 403.5,280.4 406.5,278.6 409.5,276.7 412.5,274.9 415.5,273.1 418.5,271.4 421.5,269.7 424.5,267.9 427.5,266.2 430.5,264.2 433.5,262.2 436.5,260.3 439.5,258.5 442.5,256.9 445.5,255.3 448.5,253.8 451.5,252.4 454.5,251.1 457.5,250 460.5,248.8 463.5,247.8 466.5,246.7 469.5,245.8 472.5,244.9 475.5,244 478.5,243.1 481.5,241.8 484.5,240.5 487.5,239.3 490.5,237.8 493.5,236.4 495.3,235.8" fill="none" stroke="#000" stroke-width="0.5" stroke-linejoin="round" stroke-linecap="round"/>
<polyline points="367.5,301 370.5,299.8 373.5,298.1 376.5,296.5 379.5,295.2 382.5,293.7 385.5,292.2 388.5,290.3 391.5,288.3 394.5,286.4 397.5,284.4 400.5,282.1 403.5,280.6 406.5,278.9 409.5,277 412.5,275.2 415.5,273.5 418.5,271.7 421.5,270 424.5,268.3 427.5,266.5 430.5,264.5 433.5,262.6 436.5,260.6 439.5,258.8 442.5,257.2 445.5,255.6 448.5,254.1 451.5,252.7 454.5,251.4 457.5,250.2 460.5,249.1 463.5,248 466.5,247 469.5,246 472.5,245.1 475.5,244.3 478.5,243.3 481.5,242.1 484.5,240.8 487.5,239.5 490.5,238 493.5,236.7 495.3,236.1" fill="none" stroke="#000" stroke-width="0.5" stroke-linejoin="round" stroke-linecap="round"/>
<polyline points="367.5,301 370.5,299.8 373.5,298.1 376.5,296.6 379.5,295.2 382.5,293.8 385.5,292.2 388.5,290.4 391.5,288.3 394.5,286.5 397.5,284.4 400.5,282.1 403.5,280.6 406.5,278.9 409.5,277 412.5,275.2 415.5,273.5 418.5,271.7 421.5,270 424.5,268.3 427.5,266.5 430.5,264.5 433.5,262.5 436.5,260.5 439.5,258.7 442.5,257 445.5,255.4 448.5,254 451.5,252.5 454.5,251.3 457.5,250.1 460.5,249 463.5,247.9 466.5,246.9 469.5,245.9 472.5,245.1 475.5,244.2 478.5,243.3 481.5,242.1 484.5,240.8 487.5,239.6 490.5,238.2 493.5,236.8 495.3,236.3" fill="none" stroke="#000" stroke-width="0.5" stroke-linejoin="round" stroke-linecap="round"/>
<polyline points="367.5,301 370.5,299.8 373.5,298.2 376.5,296.7 379.5,295.3 382.5,293.9 385.5,292.4 388.5,290.5 391.5,288.6 394.5,286.7 397.5,284.6 400.5,282.3 403.5,280.8 406.5,279.1 409.5,277.3 412.5,275.5 415.5,273.7 418.5,272 421.5,270.3 424.5,268.6 427.5,266.8 430.5,264.8 433.5,262.7 436.5,260.7 439.5,258.9 442.5,257.2 445.5,255.6 448.5,254.2 451.5,252.8 454.5,251.5 457.5,250.3 460.5,249.2 463.5,248.1 466.5,247.1 469.5,246.1 472.5,245.3 475.5,244.4 478.5,243.5 481.5,242.3 484.5,241.1 487.5,239.9 490.5,238.4 493.5,237.1 495.3,236.6" fill="none" stroke="#000" stroke-width="0.5" stroke-linejoin="round" stroke-linecap="round"/>
<polyline points="367.5,301 370.5,299.9 373.5,298.2 376.5,296.7 379.5,295.4 382.5,294 385.5,292.5 388.5,290.7 391.5,288.7 394.5,286.9 397.5,284.7 400.5,282.4 403.5,280.9 406.5,279.2 409.5,277.4 412.5,275.6 415.5,273.8 418.5,272.1 421.5,270.4 424.5,268.6 427.5,266.8 430.5,264.8 433.5,262.7 436.5,260.7 439.5,258.8 442.5,257.1 445.5,255.6 448.5,254.1 451.5,252.7 454.5,251.4 457.5,250.2 460.5,249.1 463.5,248 466.5,247 469.5,246.1 472.5,245.3 475.5,244.4 478.5,243.5 481.5,242.3 484.5,241.2 487.5,240 490.5,238.6 493.5,237.3 495.3,236.8" fill="none" stroke="#000" stroke-width="0.5" stroke-linejoin="round" stroke-linecap="round"/>
<polyline points="367.5,301 370.5,299.9 373.5,298.3 376.5,296.9 379.5,295.6 382.5,294.2 385.5,292.7 388.5,290.9 391.5,289 394.5,287.1 397.5,285 400.5,282.6 403.5,281.2 406.5,279.5 409.5,277.6 412.5,275.9 415.5,274.1 418.5,272.4 421.5,270.7 424.5,269 427.5,267.2 430.5,265.1 433.5,263 436.5,260.9 439.5,259 442.5,257.4 445.5,255.8 448.5,254.3 451.5,252.9 454.5,251.7 457.5,250.5 460.5,249.3 463.5,248.3 466.5,247.3 469.5,246.3 472.5,245.5 475.5,244.7 478.5,243.8 481.5,242.6 484.5,241.4 487.5,240.3 490.5,238.9 493.5,237.6 495.3,237.1" fill="none" stroke="#000" stroke-width="0.5" stroke-linejoin="round" stroke-linecap="round"/>
<polyline points="367.5,301 370.5,299.9 373.5,298.4 376.5,296.9 379.5,295.7 382.5,294.3 385.5,292.9 388.5,291.1 391.5,289.2 394.5,287.4 397.5,285.2 400.5,282.8 403.5,281.3 406.5,279.7 409.5,277.9 412.5,276.1 415.5,274.4 418.5,272.7 421.5,271 424.5,269.3 427.5,267.4 430.5,265.4 433.5,263.2 436.5,261.1 439.5,259.2 442.5,257.6 445.5,256 448.5,254.5 451.5,253.1 454.5,251.9 457.5,250.7 460.5,249.5 463.5,248.5 466.5,247.5 469.5,246.5 472.5,245.7 475.5,244.8 478.5,244 481.5,242.8 484.5,241.7 487.5,240.5 490.5,239.1 493.5,237.9 495.3,237.4" fill="none" stroke="#000" stroke-width="0.5" stroke-linejoin="round" stroke-linecap="round"/>
<polyline points="367.5,301 370.5,299.9 373.5,298.4 376.5,297 379.5,295.7 382.5,294.3 385.5,292.9 388.5,291.1 391.5,289.2 394.5,287.4 397.5,285.1 400.5,282.8 403.5,281.3 406.5,279.6 409.5,277.8 412.5,276 415.5,274.2 418.5,272.5 421.5,270.8 424.5,269 427.5,267.2 430.5,265.1 433.5,262.9 436.5,260.8 439.5,258.8 442.5,257.2 445.5,255.6 448.5,254.1 451.5,252.7 454.5,251.5 457.5,250.3 460.5,249.2 463.5,248.1 466.5,247.1 469.5,246.2 472.5,245.4 475.5,244.6 478.5,243.8 481.5,242.6 484.5,241.6 487.5,240.5 490.5,239.2 493.5,238 495.3,237.6" fill="none" stroke="#000" stroke-width="0.5" stroke-linejoin="round" stroke-linecap="round"/>
<polyline points="367.5,301 370.5,299.9 373.5,298.4 376.5,297 379.5,295.8 382.5,294.5 385.5,293.1 388.5,291.3 391.5,289.4 394.5,287.6 397.5,285.4 400.5,283.1 403.5,281.6 406.5,279.9 409.5,278.2 412.5,276.4 415.5,274.7 418.5,273.1 421.5,271.4 424.5,269.6 427.5,267.8 430.5,265.7 433.5,263.5 436.5,261.4 439.5,259.5 442.5,257.8 445.5,256.3 448.5,254.8 451.5,253.4 454.5,252.1 457.5,250.9 460.5,249.8 463.5,248.7 466.5,247.7 469.5,246.8 472.5,245.9 475.5,245.1 478.5,244.2 481.5,243.1 484.5,241.9 487.5,240.8 490.5,239.5 493.5,238.2 495.3,237.8" fill="none" stroke="#000" stroke-width="0.5" stroke-linejoin="round" stroke-linecap="round"/>
<polyline points="367.5,301 370.5,300 373.5,298.5 376.5,297.1 379.5,296 382.5,294.7 385.5,293.3 388.5,291.6 391.5,289.7 394.5,288 397.5,285.8 400.5,283.4 403.5,282 406.5,280.3 409.5,278.6 412.5,276.9 415.5,275.2 418.5,273.6 421.5,271.9 424.5,270.2 427.5,268.4 430.5,266.3 433.5,264.1 436.5,261.9 439.5,260 442.5,258.3 445.5,256.8 448.5,255.3 451.5,253.9 454.5,252.7 457.5,251.5 460.5,250.3 463.5,249.2 466.5,248.2 469.5,247.3 472.5,246.4 475.5,245.5 478.5,244.6 481.5,243.5 484.5,242.3 487.5,241.2 490.5,239.8 493.5,238.6 495.3,238.1" fill="none" stroke="#000" stroke-width="0.5" stroke-linejoin="round" stroke-linecap="round"/>
<polyline points="367.5,301 370.5,300 373.5,298.6 376.5,297.2 379.5,296.1 382.5,294.8 385.5,293.5 388.5,291.8 391.5,289.9 394.5,288.2 397.5,285.9 400.5,283.5 403.5,282.1 406.5,280.4 409.5,278.7 412.5,277 415.5,275.3 418.5,273.7 421.5,272 424.5,270.3 427.5,268.4 430.5,266.3 433.5,264 436.5,261.8 439.5,259.9 442.5,258.2 445.5,256.7 448.5,255.2 451.5,253.8 454.5,252.6 457.5,251.3 460.5,250.2 463.5,249.1 466.5,248.1 469.5,247.2 472.5,246.3 475.5,245.5 478.5,244.7 481.5,243.5 484.5,242.4 487.5,241.4 490.5,240.1 493.5,238.9 495.3,238.4" fill="none" stroke="#000" stroke-width="0.5" stroke-linejoin="round" stroke-linecap="round"/>
<polyline points="367.5,301 370.5,300 373.5,298.6 376.5,297.3 379.5,296.1 382.5,294.9 385.5,293.5 388.5,291.9 391.5,290 394.5,288.3 397.5,286 400.5,283.6 403.5,282.1 406.5,280.5 409.5,278.8 412.5,277.1 415.5,275.5 418.5,273.8 421.5,272.1 424.5,270.4 427.5,268.6 430.5,266.4 433.5,264.1 436.5,261.9 439.5,260 442.5,258.3 445.5,256.8 448.5,255.3 451.5,253.9 454.5,252.7 457.5,251.4 460.5,250.3 463.5,249.2 466.5,248.2 469.5,247.3 472.5,246.4 475.5,245.6 478.5,244.8 481.5,243.6 484.5,242.6 487.5,241.5 490.5,240.2 493.5,239 495.3,238.5" fill="none" stroke="#000" stroke-width="0.5" stroke-linejoin="round" stroke-linecap="round"/>
<polyline points="367.5,301 370.5,300 373.5,298.6 376.5,297.4 379.5,296.2 382.5,295 385.5,293.7 388.5,292 391.5,290.1 394.5,288.4 397.5,286.1 400.5,283.6 403.5,282.2 406.5,280.6 409.5,278.9 412.5,277.1 415.5,275.5 418.5,273.8 421.5,272.1 424.5,270.4 427.5,268.5 430.5,266.3 433.5,264 436.5,261.8 439.5,259.8 442.5,258.1 445.5,256.5 448.5,255.1 451.5,253.7 454.5,252.4 457.5,251.2 460.5,250.1 463.5,249 466.5,248 469.5,247.1 472.5,246.3 475.5,245.5 478.5,244.7 481.5,243.6 484.5,242.6 487.5,241.6 490.5,240.4 493.5,239.3 495.3,238.8" fill="none" stroke="#000" stroke-width="0.5" stroke-linejoin="round" stroke-linecap="round"/>
<polyline points="367.5,301 370.5,300.1 373.5,298.7 376.5,297.4 379.5,296.3 382.5,295.1 385.5,293.8 388.5,292.1 391.5,290.3 394.5,288.6 397.5,286.3 400.5,283.8 403.5,282.3 406.5,280.7 409.5,279 412.5,277.3 415.5,275.7 418.5,274 421.5,272.3 424.5,270.6 427.5,268.7 430.5,266.5 433.5,264.2 436.5,261.9 439.5,259.9 442.5,258.2 445.5,256.7 448.5,255.2 451.5,253.8 454.5,252.6 457.5,251.3 460.5,250.2 463.5,249.1 466.5,248.1 469.5,247.3 472.5,246.4 475.5,245.7 478.5,244.9 481.5,243.8 484.5,242.8 487.5,241.8 490.5,240.5 493.5,239.5 495.3,239.1" fill="none" stroke="#000" stroke-width="0.5" stroke-linejoin="round" stroke-linecap="round"/>
<polyline points="367.5,301 370.5,300.1 373.5,298.8 376.5,297.6 379.5,296.5 382.5,295.3 385.5,294.1 388.5,292.5 391.5,290.7 394.5,289 397.5,286.7 400.5,284.2 403.5,282.8 406.5,281.2 409.5,279.6 412.5,277.9 415.5,276.3 418.5,274.7 421.5,273 424.5,271.3 427.5,269.5 430.5,267.3 433.5,264.9 436.5,262.6 439.5,260.6 442.5,258.9 445.5,257.4 448.5,256 451.5,254.6 454.5,253.3 457.5,252.1 460.5,250.9 463.5,249.8 466.5,248.8 469.5,247.9 472.5,247.1 475.5,246.3 478.5,245.4 481.5,244.3 484.5,243.3 487.5,242.2 490.5,241 493.5,239.9 495.3,239.4" fill="none" stroke="#000" stroke-width="0.5" stroke-linejoin="round" stroke-linecap="round"/>
<polyline points="367.5,301 370.5,300.1 373.5,298.8 376.5,297.6 379.5,296.6 382.5,295.4 385.5,294.2 388.5,292.6 391.5,290.9 394.5,289.2 397.5,286.8 400.5,284.4 403.5,283 406.5,281.4 409.5,279.8 412.5,278.2 415.5,276.6 418.5,275 421.5,273.3 424.5,271.6 427.5,269.8 430.5,267.6 433.5,265.2 436.5,262.9 439.5,260.9 442.5,259.2 445.5,257.7 448.5,256.2 451.5,254.9 454.5,253.6 457.5,252.3 460.5,251.2 463.5,250.1 466.5,249.1 469.5,248.2 472.5,247.3 475.5,246.5 478.5,245.6 481.5,244.5 484.5,243.5 487.5,242.4 490.5,241.2 493.5,240.1 495.3,239.6" fill="none" stroke="#000" stroke-width="0.5" stroke-linejoin="round" stroke-linecap="round"/>
<polyline points="367.5,301 370.5,300.1 373.5,298.8 376.5,297.7 379.5,296.6 382.5,295.5 385.5,294.3 388.5,292.7 391.5,291 394.5,289.3 397.5,287 400.5,284.5 403.5,283.1 406.5,281.6 409.5,280 412.5,278.4 415.5,276.8 418.5,275.2 421.5,273.5 424.5,271.8 427.5,270 430.5,267.8 433.5,265.4 436.5,263.1 439.5,261.1 442.5,259.4 445.5,257.9 448.5,256.4 451.5,255.1 454.5,253.8 457.5,252.5 460.5,251.4 463.5,250.3 466.5,249.3 469.5,248.3 472.5,247.5 475.5,246.7 478.5,245.8 481.5,244.7 484.5,243.6 487.5,242.6 490.5,241.3 493.5,240.2 495.3,239.8" fill="none" stroke="#000" stroke-width="0.5" stroke-linejoin="round" stroke-linecap="round"/>
<polyline points="367.5,301 370.5,300.1 373.5,298.9 376.5,297.7 379.5,296.7 382.5,295.6 385.5,294.4 388.5,292.8 391.5,291.1 394.5,289.4 397.5,287.1 400.5,284.6 403.5,283.2 406.5,281.7 409.5,280.1 412.5,278.4 415.5,276.8 418.5,275.2 421.5,273.6 424.5,271.9 427.5,270.1 430.5,267.8 433.5,265.4 436.5,263 439.5,261 442.5,259.3 445.5,257.8 448.5,256.3 451.5,255 454.5,253.7 457.5,252.5 460.5,251.3 463.5,250.2 466.5,249.2 469.5,248.3 472.5,247.4 475.5,246.7 478.5,245.8 481.5,244.7 484.5,243.7 487.5,242.7 490.5,241.5 493.5,240.5 495.3,240" fill="none" stroke="#000" stroke-width="0.5" stroke-linejoin="round" stroke-linecap="round"/>
<polyline points="367.5,301 370.5,300.2 373.5,298.9 376.5,297.8 379.5,296.8 382.5,295.8 385.5,294.6 388.5,293.1 391.5,291.4 394.5,289.7 397.5,287.3 400.5,284.8 403.5,283.4 406.5,281.9 409.5,280.3 412.5,278.7 415.5,277.1 418.5,275.5 421.5,273.9 424.5,272.2 427.5,270.4 430.5,268.1 433.5,265.6 436.5,263.3 439.5,261.2 442.5,259.5 445.5,258 448.5,256.6 451.5,255.2 454.5,253.9 457.5,252.7 460.5,251.5 463.5,250.4 466.5,249.4 469.5,248.5 472.5,247.7 475.5,246.9 478.5,246 481.5,245 484.5,244 487.5,243 490.5,241.8 493.5,240.8 495.3,240.3" fill="none" stroke="#000" stroke-width="0.5" stroke-linejoin="round" stroke-linecap="round"/>
<polyline points="367.5,301 370.5,300.2 373.5,299 376.5,297.9 379.5,297 382.5,296 385.5,294.8 388.5,293.3 391.5,291.7 394.5,290 397.5,287.7 400.5,285.1 403.5,283.8 406.5,282.3 409.5,280.8 412.5,279.3 415.5,277.7 418.5,276.2 421.5,274.6 424.5,272.9 427.5,271.1 430.5,268.8 433.5,266.3 436.5,263.9 439.5,261.9 442.5,260.2 445.5,258.7 448.5,257.3 451.5,255.9 454.5,254.6 457.5,253.4 460.5,252.2 463.5,251.1 466.5,250 469.5,249.1 472.5,248.2 475.5,247.4 478.5,246.6 481.5,245.5 484.5,244.4 487.5,243.4 490.5,242.2 493.5,241.1 495.3,240.6" fill="none" stroke="#000" stroke-width="0.5" stroke-linejoin="round" stroke-linecap="round"/>
<polyline points="367.5,301 370.5,300.2 373.5,299.1 376.5,298 379.5,297.1 382.5,296.1 385.5,295 388.5,293.5 391.5,291.8 394.5,290.2 397.5,287.8 400.5,285.3 403.5,284 406.5,282.5 409.5,281 412.5,279.4 415.5,277.9 418.5,276.3 421.5,274.8 424.5,273.1 427.5,271.2 430.5,268.9 433.5,266.4 436.5,264 439.5,261.9 442.5,260.2 445.5,258.7 448.5,257.3 451.5,256 454.5,254.7 457.5,253.4 460.5,252.2 463.5,251.1 466.5,250.1 469.5,249.2 472.5,248.3 475.5,247.5 478.5,246.7 481.5,245.6 484.5,244.6 487.5,243.6 490.5,242.4 493.5,241.3 495.3,240.9" fill="none" stroke="#000" stroke-width="0.5" stroke-linejoin="round" stroke-linecap="round"/>
<polyline points="367.5,301 370.5,300.2 373.5,299.1 376.5,298 379.5,297.1 382.5,296.1 385.5,295 388.5,293.5 391.5,291.9 394.5,290.3 397.5,287.9 400.5,285.3 403.5,284 406.5,282.5 409.5,281 412.5,279.5 415.5,277.9 418.5,276.4 421.5,274.8 424.5,273.1 427.5,271.2 430.5,268.9 433.5,266.4 436.5,264 439.5,261.9 442.5,260.2 445.5,258.7 448.5,257.3 451.5,255.9 454.5,254.6 457.5,253.4 460.5,252.2 463.5,251.1 466.5,250.1 469.5,249.1 472.5,248.3 475.5,247.5 478.5,246.7 481.5,245.6 484.5,244.6 487.5,243.6 490.5,242.5 493.5,241.4 495.3,241" fill="none" stroke="#000" stroke-width="0.5" stroke-linejoin="round" stroke-linecap="round"/>
<polyline points="367.5,301 370.5,300.2 373.5,299.1 376.5,298.1 379.5,297.2 382.5,296.2 385.5,295.1 388.5,293.6 391.5,292 394.5,290.4 397.5,287.9 400.5,285.3 403.5,283.9 406.5,282.5 409.5,280.9 412.5,279.4 415.5,277.8 418.5,276.2 421.5,274.6 424.5,272.9 427.5,271 430.5,268.6 433.5,266.1 436.5,263.6 439.5,261.5 442.5,259.7 445.5,258.2 448.5,256.8 451.5,255.5 454.5,254.2 457.5,252.9 460.5,251.8 463.5,250.7 466.5,249.7 469.5,248.8 472.5,248 475.5,247.3 478.5,246.5 481.5,245.5 484.5,244.6 487.5,243.7 490.5,242.6 493.5,241.7 495.3,241.3" fill="none" stroke="#000" stroke-width="0.5" stroke-linejoin="round" stroke-linecap="round"/>
<polyline points="367.5,301 370.5,300.3 373.5,299.2 376.5,298.2 379.5,297.4 382.5,296.4 385.5,295.4 388.5,293.9 391.5,292.3 394.5,290.7 397.5,288.3 400.5,285.6 403.5,284.3 406.5,282.9 409.5,281.4 412.5,279.9 415.5,278.3 418.5,276.8 421.5,275.2 424.5,273.5 427.5,271.6 430.5,269.3 433.5,266.7 436.5,264.2 439.5,262 442.5,260.3 445.5,258.8 448.5,257.4 451.5,256.1 454.5,254.8 457.5,253.5 460.5,252.3 463.5,251.2 466.5,250.2 469.5,249.3 472.5,248.5 475.5,247.8 478.5,247 481.5,245.9 484.5,245 487.5,244.1 490.5,243 493.5,242.1 495.3,241.7" fill="none" stroke="#000" stroke-width="0.5" stroke-linejoin="round" stroke-linecap="round"/>
<polyline points="367.5,301 370.5,300.3 373.5,299.3 376.5,298.3 379.5,297.5 382.5,296.6 385.5,295.5 388.5,294.1 391.5,292.6 394.5,291 397.5,288.5 400.5,285.9 403.5,284.6 406.5,283.2 409.5,281.8 412.5,280.3 415.5,278.8 418.5,277.3 421.5,275.7 424.5,274.1 427.5,272.2 430.5,269.8 433.5,267.3 436.5,264.8 439.5,262.6 442.5,260.9 445.5,259.4 448.5,258 451.5,256.7 454.5,255.4 457.5,254.1 460.5,252.9 463.5,251.8 466.5,250.8 469.5,249.9 472.5,249 475.5,248.2 478.5,247.4 481.5,246.3 484.5,245.4 487.5,244.4 490.5,243.3 493.5,242.3 495.3,241.9" fill="none" stroke="#000" stroke-width="0.5" stroke-linejoin="round" stroke-linecap="round"/>
<polyline points="367.5,301 370.5,300.3 373.5,299.3 376.5,298.4 379.5,297.6 382.5,296.7 385.5,295.6 388.5,294.3 391.5,292.7 394.5,291.1 397.5,288.7 400.5,286 403.5,284.7 406.5,283.4 409.5,281.9 412.5,280.4 415.5,278.9 418.5,277.4 421.5,275.8 424.5,274.2 427.5,272.3 430.5,269.9 433.5,267.3 436.5,264.8 439.5,262.6 442.5,260.9 445.5,259.4 448.5,258 451.5,256.7 454.5,255.4 457.5,254.1 460.5,252.9 463.5,251.8 466.5,250.8 469.5,249.9 472.5,249 475.5,248.3 478.5,247.4 481.5,246.4 484.5,245.5 487.5,244.5 490.5,243.4 493.5,242.5 495.3,242.1" fill="none" stroke="#000" stroke-width="0.5" stroke-linejoin="round" stroke-linecap="round"/>
<polyline points="367.5,301 370.5,300.3 373.5,299.3 376.5,298.4 379.5,297.6 382.5,296.7 385.5,295.7 388.5,294.3 391.5,292.7 394.5,291.1 397.5,288.6 400.5,285.9 403.5,284.6 406.5,283.2 409.5,281.7 412.5,280.2 415.5,278.7 418.5,277.1 421.5,275.5 424.5,273.8 427.5,271.9 430.5,269.4 433.5,266.8 436.5,264.2 439.5,262 442.5,260.3 445.5,258.7 448.5,257.4 451.5,256 454.5,254.7 457.5,253.5 460.5,252.3 463.5,251.2 466.5,250.2 469.5,249.4 472.5,248.6 475.5,247.9 478.5,247.1 481.5,246.2 484.5,245.3 487.5,244.5 490.5,243.5 493.5,242.7 495.3,242.3" fill="none" stroke="#000" stroke-width="0.5" stroke-linejoin="round" stroke-linecap="round"/>
<polyline points="367.5,301 370.5,300.4 373.5,299.4 376.5,298.6 379.5,297.8 382.5,297 385.5,296 388.5,294.7 391.5,293.2 394.5,291.6 397.5,289.1 400.5,286.4 403.5,285.2 406.5,283.8 409.5,282.4 412.5,281 415.5,279.5 418.5,278 421.5,276.5 424.5,274.8 427.5,272.9 430.5,270.5 433.5,267.8 436.5,265.2 439.5,263 442.5,261.3 445.5,259.8 448.5,258.4 451.5,257.1 454.5,255.8 457.5,254.5 460.5,253.3 463.5,252.2 466.5,251.2 469.5,250.3 472.5,249.4 475.5,248.7 478.5,247.9 481.5,246.9 484.5,246 487.5,245.1 490.5,244 493.5,243.1 495.3,242.7" fill="none" stroke="#000" stroke-width="0.5" stroke-linejoin="round" stroke-linecap="round"/>
<polyline points="367.5,301 370.5,300.4 373.5,299.5 376.5,298.6 379.5,297.9 382.5,297 385.5,296.1 388.5,294.8 391.5,293.3 394.5,291.8 397.5,289.2 400.5,286.6 403.5,285.3 406.5,284 409.5,282.6 412.5,281.2 415.5,279.7 418.5,278.2 421.5,276.7 424.5,275 427.5,273.1 430.5,270.7 433.5,268 436.5,265.4 439.5,263.2 442.5,261.5 445.5,260 448.5,258.7 451.5,257.3 454.5,256 457.5,254.7 460.5,253.5 463.5,252.4 466.5,251.4 469.5,250.5 472.5,249.6 475.5,248.9 478.5,248 481.5,247 484.5,246.1 487.5,245.2 490.5,244.2 493.5,243.2 495.3,242.8" fill="none" stroke="#000" stroke-width="0.5" stroke-linejoin="round" stroke-linecap="round"/>
<polyline points="367.5,301 370.5,300.4 373.5,299.5 376.5,298.7 379.5,298 382.5,297.2 385.5,296.3 388.5,295 391.5,293.5 394.5,292 397.5,289.4 400.5,286.7 403.5,285.5 406.5,284.2 409.5,282.8 412.5,281.4 415.5,279.9 418.5,278.4 421.5,276.9 424.5,275.3 427.5,273.4 430.5,270.9 433.5,268.2 436.5,265.6 439.5,263.3 442.5,261.6 445.5,260.1 448.5,258.8 451.5,257.4 454.5,256.1 457.5,254.9 460.5,253.7 463.5,252.5 466.5,251.5 469.5,250.6 472.5,249.8 475.5,249 478.5,248.2 481.5,247.2 484.5,246.3 487.5,245.4 490.5,244.4 493.5,243.5 495.3,243.1" fill="none" stroke="#000" stroke-width="0.5" stroke-linejoin="round" stroke-linecap="round"/>
<polyline points="367.5,301 370.5,300.4 373.5,299.6 376.5,298.7 379.5,298 382.5,297.3 385.5,296.3 388.5,295.1 391.5,293.6 394.5,292.1 397.5,289.5 400.5,286.7 403.5,285.5 406.5,284.2 409.5,282.8 412.5,281.4 415.5,279.9 418.5,278.4 421.5,276.9 424.5,275.2 427.5,273.3 430.5,270.8 433.5,268 436.5,265.4 439.5,263.1 442.5,261.4 445.5,259.9 448.5,258.5 451.5,257.2 454.5,255.9 457.5,254.6 460.5,253.4 463.5,252.3 466.5,251.3 469.5,250.4 472.5,249.6 475.5,248.9 478.5,248.1 481.5,247.2 484.5,246.3 487.5,245.5 490.5,244.5 493.5,243.7 495.3,243.3" fill="none" stroke="#000" stroke-width="0.5" stroke-linejoin="round" stroke-linecap="round"/>
<polyline points="367.5,301 370.5,300.4 373.5,299.6 376.5,298.8 379.5,298.1 382.5,297.4 385.5,296.5 388.5,295.2 391.5,293.7 394.5,292.2 397.5,289.6 400.5,286.8 403.5,285.5 406.5,284.2 409.5,282.8 412.5,281.4 415.5,279.9 418.5,278.4 421.5,276.9 424.5,275.2 427.5,273.3 430.5,270.7 433.5,267.9 436.5,265.2 439.5,263 442.5,261.2 445.5,259.7 448.5,258.4 451.5,257 454.5,255.7 457.5,254.5 460.5,253.3 463.5,252.2 466.5,251.2 469.5,250.3 472.5,249.5 475.5,248.8 478.5,248.1 481.5,247.2 484.5,246.4 487.5,245.6 490.5,244.7 493.5,243.9 495.3,243.6" fill="none" stroke="#000" stroke-width="0.5" stroke-linejoin="round" stroke-linecap="round"/>
<polyline points="367.5,301 370.5,300.5 373.5,299.7 376.5,298.9 379.5,298.3 382.5,297.6 385.5,296.7 388.5,295.5 391.5,294.1 394.5,292.6 397.5,289.9 400.5,287.2 403.5,285.9 406.5,284.6 409.5,283.3 412.5,281.9 415.5,280.5 418.5,279 421.5,277.5 424.5,275.8 427.5,273.9 430.5,271.3 433.5,268.5 436.5,265.8 439.5,263.5 442.5,261.8 445.5,260.3 448.5,259 451.5,257.6 454.5,256.3 457.5,255.1 460.5,253.8 463.5,252.7 466.5,251.7 469.5,250.8 472.5,250 475.5,249.3 478.5,248.6 481.5,247.6 484.5,246.8 487.5,246 490.5,245.1 493.5,244.3 495.3,244" fill="none" stroke="#000" stroke-width="0.5" stroke-linejoin="round" stroke-linecap="round"/>
<polyline points="367.5,301 370.5,300.5 373.5,299.7 376.5,299 379.5,298.4 382.5,297.7 385.5,296.8 388.5,295.6 391.5,294.2 394.5,292.7 397.5,290 400.5,287.2 403.5,285.9 406.5,284.6 409.5,283.3 412.5,281.9 415.5,280.4 418.5,278.9 421.5,277.4 424.5,275.7 427.5,273.7 430.5,271.1 433.5,268.3 436.5,265.5 439.5,263.2 442.5,261.4 445.5,260 448.5,258.6 451.5,257.3 454.5,256 457.5,254.7 460.5,253.5 463.5,252.4 466.5,251.4 469.5,250.6 472.5,249.8 475.5,249.1 478.5,248.4 481.5,247.6 484.5,246.8 487.5,246.1 490.5,245.2 493.5,244.5 495.3,244.2" fill="none" stroke="#000" stroke-width="0.5" stroke-linejoin="round" stroke-linecap="round"/>
<polyline points="367.5,301 370.5,300.5 373.5,299.7 376.5,299 379.5,298.4 382.5,297.7 385.5,296.9 388.5,295.7 391.5,294.3 394.5,292.8 397.5,290.1 400.5,287.3 403.5,286 406.5,284.8 409.5,283.4 412.5,282 415.5,280.6 418.5,279.1 421.5,277.6 424.5,275.9 427.5,273.9 430.5,271.3 433.5,268.5 436.5,265.7 439.5,263.4 442.5,261.6 445.5,260.2 448.5,258.8 451.5,257.5 454.5,256.2 457.5,254.9 460.5,253.7 463.5,252.6 466.5,251.6 469.5,250.8 472.5,250 475.5,249.3 478.5,248.6 481.5,247.7 484.5,247 487.5,246.2 490.5,245.4 493.5,244.6 495.3,244.3" fill="none" stroke="#000" stroke-width="0.5" stroke-linejoin="round" stroke-linecap="round"/>
<polyline points="367.5,301 370.5,300.5 373.5,299.8 376.5,299.1 379.5,298.5 382.5,297.9 385.5,297.1 388.5,295.9 391.5,294.5 394.5,293.1 397.5,290.4 400.5,287.6 403.5,286.4 406.5,285.2 409.5,283.9 412.5,282.5 415.5,281.1 418.5,279.7 421.5,278.2 424.5,276.5 427.5,274.6 430.5,272 433.5,269.2 436.5,266.4 439.5,264.1 442.5,262.4 445.5,260.9 448.5,259.6 451.5,258.2 454.5,256.9 457.5,255.6 460.5,254.4 463.5,253.3 466.5,252.3 469.5,251.4 472.5,250.6 475.5,249.8 478.5,249.1 481.5,248.2 484.5,247.4 487.5,246.6 490.5,245.7 493.5,244.9 495.3,244.5" fill="none" stroke="#000" stroke-width="0.5" stroke-linejoin="round" stroke-linecap="round"/>
<polyline points="367.5,301 370.5,300.5 373.5,299.9 376.5,299.2 379.5,298.7 382.5,298 385.5,297.2 388.5,296.1 391.5,294.7 394.5,293.2 397.5,290.5 400.5,287.7 403.5,286.4 406.5,285.2 409.5,283.9 412.5,282.6 415.5,281.1 418.5,279.7 421.5,278.1 424.5,276.5 427.5,274.5 430.5,271.9 433.5,269 436.5,266.1 439.5,263.8 442.5,262 445.5,260.6 448.5,259.2 451.5,257.9 454.5,256.6 457.5,255.3 460.5,254.1 463.5,253 466.5,252 469.5,251.1 472.5,250.4 475.5,249.7 478.5,249 481.5,248.2 484.5,247.4 487.5,246.7 490.5,245.9 493.5,245.2 495.3,244.9" fill="none" stroke="#000" stroke-width="0.5" stroke-linejoin="round" stroke-linecap="round"/>
<polyline points="367.5,301 370.5,300.6 373.5,299.9 376.5,299.3 379.5,298.7 382.5,298.1 385.5,297.3 388.5,296.1 391.5,294.8 394.5,293.3 397.5,290.6 400.5,287.7 403.5,286.5 406.5,285.3 409.5,284 412.5,282.6 415.5,281.2 418.5,279.7 421.5,278.2 424.5,276.5 427.5,274.6 430.5,271.9 433.5,269 436.5,266.2 439.5,263.8 442.5,262 445.5,260.6 448.5,259.2 451.5,257.9 454.5,256.6 457.5,255.3 460.5,254.1 463.5,253 466.5,252 469.5,251.2 472.5,250.4 475.5,249.7 478.5,249 481.5,248.2 484.5,247.5 487.5,246.8 490.5,246 493.5,245.3 495.3,245.1" fill="none" stroke="#000" stroke-width="0.5" stroke-linejoin="round" stroke-linecap="round"/>
<polyline points="367.5,301 370.5,300.6 373.5,299.9 376.5,299.3 379.5,298.8 382.5,298.2 385.5,297.5 388.5,296.4 391.5,295 394.5,293.6 397.5,290.9 400.5,288.1 403.5,286.9 406.5,285.7 409.5,284.4 412.5,283.1 415.5,281.7 418.5,280.3 421.5,278.8 424.5,277.2 427.5,275.3 430.5,272.6 433.5,269.7 436.5,266.9 439.5,264.5 442.5,262.8 445.5,261.3 448.5,260 451.5,258.6 454.5,257.3 457.5,256.1 460.5,254.8 463.5,253.7 466.5,252.7 469.5,251.8 472.5,251 475.5,250.3 478.5,249.5 481.5,248.7 484.5,247.9 487.5,247.1 490.5,246.3 493.5,245.6 495.3,245.3" fill="none" stroke="#000" stroke-width="0.5" stroke-linejoin="round" stroke-linecap="round"/>
<polyline points="367.5,301 370.5,300.6 373.5,300 376.5,299.5 379.5,299 382.5,298.5 385.5,297.8 388.5,296.7 391.5,295.4 394.5,294 397.5,291.3 400.5,288.5 403.5,287.3 406.5,286.2 409.5,285 412.5,283.7 415.5,282.3 418.5,281 421.5,279.5 424.5,277.9 427.5,275.9 430.5,273.3 433.5,270.3 436.5,267.5 439.5,265.1 442.5,263.3 445.5,261.9 448.5,260.6 451.5,259.2 454.5,257.9 457.5,256.6 460.5,255.4 463.5,254.2 466.5,253.2 469.5,252.3 472.5,251.5 475.5,250.8 478.5,250 481.5,249.2 484.5,248.4 487.5,247.6 490.5,246.8 493.5,246 495.3,245.7" fill="none" stroke="#000" stroke-width="0.5" stroke-linejoin="round" stroke-linecap="round"/>
<polyline points="367.5,301 370.5,300.6 373.5,300.1 376.5,299.5 379.5,299.1 382.5,298.5 385.5,297.8 388.5,296.8 391.5,295.5 394.5,294.1 397.5,291.3 400.5,288.4 403.5,287.3 406.5,286.1 409.5,284.9 412.5,283.6 415.5,282.3 418.5,280.9 421.5,279.4 424.5,277.7 427.5,275.8 430.5,273.1 433.5,270.1 436.5,267.2 439.5,264.8 442.5,263.1 445.5,261.6 448.5,260.3 451.5,259 454.5,257.7 457.5,256.4 460.5,255.2 463.5,254 466.5,253 469.5,252.1 472.5,251.3 475.5,250.6 478.5,249.9 481.5,249.1 484.5,248.3 487.5,247.6 490.5,246.8 493.5,246.1 495.3,245.9" fill="none" stroke="#000" stroke-width="0.5" stroke-linejoin="round" stroke-linecap="round"/>
<polyline points="367.5,301 370.5,300.6 373.5,300.1 376.5,299.6 379.5,299.2 382.5,298.6 385.5,298 388.5,296.9 391.5,295.6 394.5,294.2 397.5,291.4 400.5,288.5 403.5,287.3 406.5,286.1 409.5,284.9 412.5,283.6 415.5,282.2 418.5,280.8 421.5,279.3 424.5,277.7 427.5,275.7 430.5,273 433.5,269.9 436.5,267 439.5,264.5 442.5,262.8 445.5,261.3 448.5,260 451.5,258.7 454.5,257.4 457.5,256.1 460.5,254.9 463.5,253.7 466.5,252.8 469.5,251.9 472.5,251.2 475.5,250.5 478.5,249.8 481.5,249.1 484.5,248.4 487.5,247.7 490.5,247 493.5,246.4 495.3,246.2" fill="none" stroke="#000" stroke-width="0.5" stroke-linejoin="round" stroke-linecap="round"/>
<polyline points="367.5,301 370.5,300.7 373.5,300.2 376.5,299.7 379.5,299.3 382.5,298.8 385.5,298.1 388.5,297.1 391.5,295.9 394.5,294.5 397.5,291.7 400.5,288.8 403.5,287.6 406.5,286.5 409.5,285.3 412.5,284.1 415.5,282.7 418.5,281.4 421.5,279.9 424.5,278.3 427.5,276.3 430.5,273.6 433.5,270.6 436.5,267.6 439.5,265.2 442.5,263.5 445.5,262 448.5,260.7 451.5,259.4 454.5,258.1 457.5,256.8 460.5,255.5 463.5,254.4 466.5,253.4 469.5,252.5 472.5,251.7 475.5,251 478.5,250.3 481.5,249.5 484.5,248.8 487.5,248.1 490.5,247.3 493.5,246.6 495.3,246.4" fill="none" stroke="#000" stroke-width="0.5" stroke-linejoin="round" stroke-linecap="round"/>
<polyline points="367.5,301 370.5,300.7 373.5,300.2 376.5,299.8 379.5,299.4 382.5,299 385.5,298.3 388.5,297.4 391.5,296.2 394.5,294.8 397.5,292 400.5,289.1 403.5,288 406.5,286.9 409.5,285.7 412.5,284.5 415.5,283.2 418.5,281.9 421.5,280.4 424.5,278.8 427.5,276.8 430.5,274.1 433.5,271.1 436.5,268.1 439.5,265.7 442.5,263.9 445.5,262.4 448.5,261.1 451.5,259.8 454.5,258.5 457.5,257.2 460.5,256 463.5,254.8 466.5,253.8 469.5,252.9 472.5,252.1 475.5,251.4 478.5,250.7 481.5,249.8 484.5,249.1 487.5,248.4 490.5,247.7 493.5,247 495.3,246.7" fill="none" stroke="#000" stroke-width="0.5" stroke-linejoin="round" stroke-linecap="round"/>
<polyline points="367.5,301 370.5,300.7 373.5,300.3 376.5,299.8 379.5,299.5 382.5,299 385.5,298.4 388.5,297.5 391.5,296.3 394.5,295 397.5,292.2 400.5,289.2 403.5,288.1 406.5,287.1 409.5,286 412.5,284.8 415.5,283.5 418.5,282.1 421.5,280.7 424.5,279.1 427.5,277.2 430.5,274.4 433.5,271.4 436.5,268.4 439.5,266 442.5,264.2 445.5,262.8 448.5,261.5 451.5,260.1 454.5,258.8 457.5,257.5 460.5,256.3 463.5,255.1 466.5,254.1 469.5,253.2 472.5,252.4 475.5,251.6 478.5,250.9 481.5,250.1 484.5,249.3 487.5,248.6 490.5,247.8 493.5,247.2 495.3,246.9" fill="none" stroke="#000" stroke-width="0.5" stroke-linejoin="round" stroke-linecap="round"/>
<polyline points="367.5,301 370.5,300.7 373.5,300.3 376.5,299.9 379.5,299.5 382.5,299.1 385.5,298.5 388.5,297.5 391.5,296.3 394.5,294.9 397.5,292.1 400.5,289.1 403.5,288 406.5,286.9 409.5,285.8 412.5,284.5 415.5,283.2 418.5,281.8 421.5,280.4 424.5,278.7 427.5,276.7 430.5,274 433.5,270.9 436.5,267.8 439.5,265.4 442.5,263.6 445.5,262.1 448.5,260.8 451.5,259.5 454.5,258.2 457.5,256.9 460.5,255.7 463.5,254.6 466.5,253.6 469.5,252.7 472.5,251.9 475.5,251.3 478.5,250.6 481.5,249.8 484.5,249.2 487.5,248.5 490.5,247.9 493.5,247.3 495.3,247" fill="none" stroke="#000" stroke-width="0.5" stroke-linejoin="round" stroke-linecap="round"/>
<polyline points="367.5,301 370.5,300.7 373.5,300.3 376.5,299.9 379.5,299.6 382.5,299.2 385.5,298.6 388.5,297.7 391.5,296.5 394.5,295.1 397.5,292.3 400.5,289.3 403.5,288.2 406.5,287.1 409.5,286 412.5,284.8 415.5,283.4 418.5,282.1 421.5,280.6 424.5,279 427.5,277 430.5,274.2 433.5,271.1 436.5,268.1 439.5,265.6 442.5,263.8 445.5,262.4 448.5,261.1 451.5,259.8 454.5,258.5 457.5,257.2 460.5,255.9 463.5,254.8 466.5,253.8 469.5,252.9 472.5,252.1 475.5,251.5 478.5,250.8 481.5,250 484.5,249.4 487.5,248.7 490.5,248.1 493.5,247.5 495.3,247.3" fill="none" stroke="#000" stroke-width="0.5" stroke-linejoin="round" stroke-linecap="round"/>
<polyline points="367.5,301 370.5,300.8 373.5,300.4 376.5,300.1 379.5,299.8 382.5,299.4 385.5,298.9 388.5,298 391.5,296.8 394.5,295.5 397.5,292.7 400.5,289.7 403.5,288.6 406.5,287.5 409.5,286.5 412.5,285.3 415.5,284 418.5,282.7 421.5,281.3 424.5,279.7 427.5,277.7 430.5,274.9 433.5,271.7 436.5,268.7 439.5,266.2 442.5,264.4 445.5,263 448.5,261.7 451.5,260.4 454.5,259.1 457.5,257.7 460.5,256.5 463.5,255.3 466.5,254.3 469.5,253.4 472.5,252.7 475.5,252 478.5,251.3 481.5,250.5 484.5,249.8 487.5,249.2 490.5,248.5 493.5,247.9 495.3,247.6" fill="none" stroke="#000" stroke-width="0.5" stroke-linejoin="round" stroke-linecap="round"/>
<polyline points="367.5,301 370.5,300.8 373.5,300.5 376.5,300.1 379.5,299.9 382.5,299.6 385.5,299 388.5,298.2 391.5,297.1 394.5,295.8 397.5,292.9 400.5,289.9 403.5,288.8 406.5,287.8 409.5,286.7 412.5,285.6 415.5,284.3 418.5,283 421.5,281.6 424.5,280 427.5,278 430.5,275.2 433.5,272 436.5,268.9 439.5,266.4 442.5,264.7 445.5,263.2 448.5,262 451.5,260.7 454.5,259.3 457.5,258 460.5,256.8 463.5,255.6 466.5,254.6 469.5,253.7 472.5,252.9 475.5,252.2 478.5,251.5 481.5,250.7 484.5,250.1 487.5,249.4 490.5,248.7 493.5,248.2 495.3,247.9" fill="none" stroke="#000" stroke-width="0.5" stroke-linejoin="round" stroke-linecap="round"/>
<polyline points="367.5,301 370.5,301 373.5,301 376.5,300.9 379.5,300.8 382.5,300.7 385.5,300.4 388.5,299.8 391.5,299 394.5,298.1 397.5,296.6 400.5,294.6 403.5,293.4 406.5,292 409.5,290.4 412.5,288.9 415.5,287.4 418.5,286.1 421.5,284.7 424.5,283.1 427.5,281.2 430.5,278.4 433.5,275.3 436.5,272.2 439.5,269.6 442.5,267.7 445.5,266 448.5,264.5 451.5,263.1 454.5,261.8 457.5,260.7 460.5,259.7 463.5,258.9 466.5,258.1 469.5,257.6 472.5,257.1 475.5,256.7 478.5,256.3 481.5,255.6 484.5,254.9 487.5,254.2 490.5,253.6 493.5,253 495.3,252.8" fill="none" stroke="#000" stroke-width="0.45" stroke-linejoin="round" stroke-linecap="round"/>
<polyline points="367.5,301 370.5,301 373.5,301 376.5,300.9 379.5,300.8 382.5,300.6 385.5,300.3 388.5,299.7 391.5,298.8 394.5,297.9 397.5,296.4 400.5,294.3 403.5,293.1 406.5,291.7 409.5,290.2 412.5,288.6 415.5,287.2 418.5,285.9 421.5,284.5 424.5,282.9 427.5,280.9 430.5,278.2 433.5,275 436.5,271.9 439.5,269.4 442.5,267.4 445.5,265.7 448.5,264.3 451.5,262.9 454.5,261.6 457.5,260.5 460.5,259.5 463.5,258.6 466.5,257.8 469.5,257.3 472.5,256.8 475.5,256.4 478.5,255.9 481.5,255.2 484.5,254.5 487.5,253.9 490.5,253.3 493.5,252.7 495.3,252.5" fill="none" stroke="#000" stroke-width="0.45" stroke-linejoin="round" stroke-linecap="round"/>
<polyline points="367.5,301 370.5,301 373.5,300.9 376.5,300.8 379.5,300.6 382.5,300.4 385.5,300.1 388.5,299.4 391.5,298.5 394.5,297.5 397.5,295.8 400.5,293.6 403.5,292.4 406.5,291 409.5,289.5 412.5,288 415.5,286.6 418.5,285.2 421.5,283.8 424.5,282.2 427.5,280.2 430.5,277.4 433.5,274.3 436.5,271.2 439.5,268.6 442.5,266.7 445.5,265 448.5,263.6 451.5,262.2 454.5,261 457.5,259.8 460.5,258.8 463.5,257.9 466.5,257.1 469.5,256.5 472.5,256 475.5,255.6 478.5,255.1 481.5,254.4 484.5,253.8 487.5,253.2 490.5,252.6 493.5,252 495.3,251.8" fill="none" stroke="#000" stroke-width="0.45" stroke-linejoin="round" stroke-linecap="round"/>
<polyline points="367.5,301 370.5,301 373.5,300.9 376.5,300.7 379.5,300.5 382.5,300.3 385.5,299.9 388.5,299.2 391.5,298.3 394.5,297.3 397.5,295.4 400.5,293 403.5,291.8 406.5,290.5 409.5,289 412.5,287.5 415.5,286.1 418.5,284.7 421.5,283.3 424.5,281.7 427.5,279.7 430.5,276.9 433.5,273.7 436.5,270.6 439.5,268 442.5,266.1 445.5,264.5 448.5,263 451.5,261.6 454.5,260.4 457.5,259.2 460.5,258.2 463.5,257.3 466.5,256.5 469.5,255.9 472.5,255.4 475.5,254.9 478.5,254.5 481.5,253.8 484.5,253.2 487.5,252.6 490.5,252.1 493.5,251.6 495.3,251.4" fill="none" stroke="#000" stroke-width="0.45" stroke-linejoin="round" stroke-linecap="round"/>
<polyline points="367.5,301 370.5,300.9 373.5,300.8 376.5,300.6 379.5,300.5 382.5,300.2 385.5,299.9 388.5,299.1 391.5,298.2 394.5,297.2 397.5,295.1 400.5,292.7 403.5,291.6 406.5,290.3 409.5,288.9 412.5,287.5 415.5,286.2 418.5,284.8 421.5,283.4 424.5,281.8 427.5,279.9 430.5,277.1 433.5,273.9 436.5,270.8 439.5,268.3 442.5,266.4 445.5,264.8 448.5,263.4 451.5,262 454.5,260.8 457.5,259.6 460.5,258.5 463.5,257.5 466.5,256.6 469.5,256 472.5,255.4 475.5,254.9 478.5,254.3 481.5,253.6 484.5,252.9 487.5,252.3 490.5,251.7 493.5,251.1 495.3,250.9" fill="none" stroke="#000" stroke-width="0.45" stroke-linejoin="round" stroke-linecap="round"/>
<polyline points="367.5,301 370.5,300.9 373.5,300.8 376.5,300.6 379.5,300.4 382.5,300.1 385.5,299.7 388.5,299 391.5,298 394.5,296.9 397.5,294.8 400.5,292.3 403.5,291.1 406.5,289.9 409.5,288.6 412.5,287.2 415.5,285.8 418.5,284.5 421.5,283.1 424.5,281.5 427.5,279.5 430.5,276.7 433.5,273.5 436.5,270.4 439.5,267.9 442.5,266 445.5,264.4 448.5,263 451.5,261.7 454.5,260.4 457.5,259.2 460.5,258.1 463.5,257.1 466.5,256.2 469.5,255.5 472.5,254.9 475.5,254.4 478.5,253.8 481.5,253.1 484.5,252.5 487.5,251.9 490.5,251.2 493.5,250.7 495.3,250.5" fill="none" stroke="#000" stroke-width="0.45" stroke-linejoin="round" stroke-linecap="round"/>
<polyline points="367.5,301 370.5,300.9 373.5,300.7 376.5,300.5 379.5,300.3 382.5,300 385.5,299.5 388.5,298.8 391.5,297.7 394.5,296.6 397.5,294.2 400.5,291.6 403.5,290.4 406.5,289.2 409.5,287.9 412.5,286.6 415.5,285.2 418.5,283.8 421.5,282.4 424.5,280.8 427.5,278.8 430.5,275.9 433.5,272.7 436.5,269.6 439.5,267.1 442.5,265.2 445.5,263.7 448.5,262.3 451.5,261 454.5,259.7 457.5,258.5 460.5,257.3 463.5,256.3 466.5,255.4 469.5,254.7 472.5,254.1 475.5,253.6 478.5,253 481.5,252.4 484.5,251.7 487.5,251.2 490.5,250.6 493.5,250.1 495.3,249.9" fill="none" stroke="#000" stroke-width="0.45" stroke-linejoin="round" stroke-linecap="round"/>
<polyline points="367.5,301 370.5,300.9 373.5,300.6 376.5,300.4 379.5,300.2 382.5,299.9 385.5,299.4 388.5,298.7 391.5,297.6 394.5,296.4 397.5,294 400.5,291.2 403.5,290.1 406.5,289 409.5,287.8 412.5,286.5 415.5,285.2 418.5,283.9 421.5,282.5 424.5,280.9 427.5,278.9 430.5,276.1 433.5,272.9 436.5,269.8 439.5,267.3 442.5,265.4 445.5,263.9 448.5,262.6 451.5,261.3 454.5,260 457.5,258.7 460.5,257.5 463.5,256.5 466.5,255.5 469.5,254.7 472.5,254.1 475.5,253.5 478.5,252.8 481.5,252.1 484.5,251.4 487.5,250.8 490.5,250.2 493.5,249.6 495.3,249.4" fill="none" stroke="#000" stroke-width="0.45" stroke-linejoin="round" stroke-linecap="round"/>
<polyline points="367.5,301 370.5,300.8 373.5,300.6 376.5,300.3 379.5,300 382.5,299.7 385.5,299.2 388.5,298.3 391.5,297.3 394.5,296 397.5,293.3 400.5,290.4 403.5,289.2 406.5,288.1 409.5,286.9 412.5,285.7 415.5,284.3 418.5,283 421.5,281.5 424.5,279.9 427.5,277.9 430.5,275 433.5,271.8 436.5,268.7 439.5,266.1 442.5,264.3 445.5,262.8 448.5,261.5 451.5,260.2 454.5,258.9 457.5,257.6 460.5,256.4 463.5,255.3 466.5,254.4 469.5,253.6 472.5,253 475.5,252.4 478.5,251.8 481.5,251.1 484.5,250.5 487.5,250 490.5,249.4 493.5,248.9 495.3,248.8" fill="none" stroke="#000" stroke-width="0.45" stroke-linejoin="round" stroke-linecap="round"/>
<polyline points="367.5,301 370.5,300.8 373.5,300.5 376.5,300.2 379.5,300 382.5,299.6 385.5,299.1 388.5,298.3 391.5,297.2 394.5,295.9 397.5,293.1 400.5,290.1 403.5,289 406.5,287.9 409.5,286.8 412.5,285.5 415.5,284.2 418.5,282.9 421.5,281.4 424.5,279.8 427.5,277.8 430.5,274.9 433.5,271.7 436.5,268.6 439.5,266 442.5,264.2 445.5,262.8 448.5,261.5 451.5,260.1 454.5,258.8 457.5,257.6 460.5,256.3 463.5,255.2 466.5,254.3 469.5,253.5 472.5,252.8 475.5,252.2 478.5,251.6 481.5,250.9 484.5,250.3 487.5,249.7 490.5,249.1 493.5,248.7 495.3,248.5" fill="none" stroke="#000" stroke-width="0.45" stroke-linejoin="round" stroke-linecap="round"/>
<polyline points="534.4,338 536.9,330.7 539.4,321.5 541.9,314.4 544.4,307.9 546.9,301.6 549.4,296.1 551.9,290.4 554.4,285.4 556.9,281.4 559.4,277.7 561.9,274.2 564.4,271.3 566.9,268.8 569.4,266.7 571.9,264.6 574.4,263 576.9,261.4 579.4,259.7 581.9,258.4 584.4,257.4 586.9,256.3 589.4,255.2 591.9,254.1 594.4,253.1 596.9,252.2 599.4,251.3 601.9,250.5 604.4,249.7 606.9,248.9 609.4,248.2 611.9,247.5 614.4,246.9 616.9,246.3 619.4,245.8 621.9,245.2 624.4,244.6 626.9,244 629.4,243.3 631.9,242.6 634.4,241.9 636.9,241.3 639.4,240.7 641.9,240.1 644.4,239.6 646.9,239.1 649.4,238.7 651.9,238.3 654.4,237.9 656.9,237.4 659.4,237.1 661.9,236.8 663.3,236.6" fill="none" stroke="#000" stroke-width="0.45" stroke-linejoin="round" stroke-linecap="round"/>
<polyline points="534.4,338 536.9,331.2 539.4,322.7 541.9,316.2 544.4,310.3 546.9,304.5 549.4,299.1 551.9,293.9 554.4,289.3 556.9,285.3 559.4,281.5 561.9,278.1 564.4,275.1 566.9,272.5 569.4,270.3 571.9,268.1 574.4,266.5 576.9,264.8 579.4,262.9 581.9,261.5 584.4,260.3 586.9,259 589.4,257.8 591.9,256.5 594.4,255.4 596.9,254.3 599.4,253.2 601.9,252.2 604.4,251.3 606.9,250.4 609.4,249.5 611.9,248.8 614.4,248.1 616.9,247.5 619.4,246.9 621.9,246.3 624.4,245.7 626.9,245.1 629.4,244.4 631.9,243.7 634.4,243 636.9,242.4 639.4,241.8 641.9,241.2 644.4,240.6 646.9,240.1 649.4,239.6 651.9,239.1 654.4,238.6 656.9,238.2 659.4,237.8 661.9,237.5 663.3,237.3" fill="none" stroke="#000" stroke-width="0.45" stroke-linejoin="round" stroke-linecap="round"/>
<polyline points="534.4,338 536.9,331.7 539.4,323.8 541.9,318 544.4,312.7 546.9,307.2 549.4,302.1 551.9,297.4 554.4,293.1 556.9,289 559.4,285.3 561.9,282 564.4,278.9 566.9,276.2 569.4,274 571.9,271.8 574.4,270.1 576.9,268.2 579.4,266.2 581.9,264.7 584.4,263.3 586.9,261.9 589.4,260.5 591.9,259.1 594.4,257.8 596.9,256.6 599.4,255.4 601.9,254.2 604.4,253.1 606.9,252.1 609.4,251.2 611.9,250.3 614.4,249.6 616.9,248.9 619.4,248.3 621.9,247.7 624.4,247.1 626.9,246.4 629.4,245.7 631.9,245 634.4,244.4 636.9,243.7 639.4,243.1 641.9,242.4 644.4,241.8 646.9,241.1 649.4,240.6 651.9,240 654.4,239.5 656.9,239 659.4,238.6 661.9,238.2 663.3,238.1" fill="none" stroke="#000" stroke-width="0.5" stroke-linejoin="round" stroke-linecap="round"/>
<polyline points="534.4,338 536.9,331.7 539.4,323.9 541.9,318.1 544.4,312.9 546.9,307.4 549.4,302.3 551.9,297.6 554.4,293.3 556.9,289.3 559.4,285.6 561.9,282.3 564.4,279.2 566.9,276.5 569.4,274.3 571.9,272.1 574.4,270.5 576.9,268.6 579.4,266.6 581.9,265.1 584.4,263.8 586.9,262.4 589.4,261 591.9,259.6 594.4,258.3 596.9,257.1 599.4,255.9 601.9,254.8 604.4,253.7 606.9,252.7 609.4,251.8 611.9,250.9 614.4,250.2 616.9,249.5 619.4,248.9 621.9,248.3 624.4,247.7 626.9,247 629.4,246.3 631.9,245.6 634.4,244.9 636.9,244.2 639.4,243.6 641.9,242.9 644.4,242.2 646.9,241.5 649.4,240.9 651.9,240.4 654.4,239.8 656.9,239.2 659.4,238.7 661.9,238.4 663.3,238.2" fill="none" stroke="#000" stroke-width="0.5" stroke-linejoin="round" stroke-linecap="round"/>
<polyline points="534.4,338 536.9,331.7 539.4,323.9 541.9,318.1 544.4,312.9 546.9,307.4 549.4,302.3 551.9,297.7 554.4,293.4 556.9,289.4 559.4,285.7 561.9,282.3 564.4,279.2 566.9,276.5 569.4,274.3 571.9,272.1 574.4,270.4 576.9,268.6 579.4,266.6 581.9,265 584.4,263.7 586.9,262.3 589.4,260.8 591.9,259.5 594.4,258.1 596.9,256.9 599.4,255.7 601.9,254.6 604.4,253.5 606.9,252.5 609.4,251.5 611.9,250.7 614.4,249.9 616.9,249.3 619.4,248.6 621.9,248 624.4,247.4 626.9,246.7 629.4,246 631.9,245.3 634.4,244.6 636.9,244 639.4,243.4 641.9,242.7 644.4,242 646.9,241.4 649.4,240.8 651.9,240.3 654.4,239.7 656.9,239.2 659.4,238.8 661.9,238.4 663.3,238.3" fill="none" stroke="#000" stroke-width="0.5" stroke-linejoin="round" stroke-linecap="round"/>
<polyline points="534.4,338 536.9,331.8 539.4,324 541.9,318.2 544.4,313.1 546.9,307.6 549.4,302.5 551.9,297.9 554.4,293.6 556.9,289.6 559.4,285.9 561.9,282.6 564.4,279.5 566.9,276.8 569.4,274.6 571.9,272.4 574.4,270.7 576.9,268.9 579.4,266.8 581.9,265.3 584.4,264 586.9,262.5 589.4,261.1 591.9,259.7 594.4,258.4 596.9,257.2 599.4,256 601.9,254.9 604.4,253.8 606.9,252.7 609.4,251.8 611.9,250.9 614.4,250.2 616.9,249.5 619.4,248.9 621.9,248.3 624.4,247.6 626.9,246.9 629.4,246.2 631.9,245.5 634.4,244.9 636.9,244.2 639.4,243.6 641.9,242.9 644.4,242.2 646.9,241.6 649.4,241 651.9,240.5 654.4,239.9 656.9,239.4 659.4,239 661.9,238.6 663.3,238.5" fill="none" stroke="#000" stroke-width="0.5" stroke-linejoin="round" stroke-linecap="round"/>
<polyline points="534.4,338 536.9,331.8 539.4,324 541.9,318.3 544.4,313.1 546.9,307.7 549.4,302.7 551.9,298.1 554.4,293.8 556.9,289.8 559.4,286.2 561.9,282.8 564.4,279.8 566.9,277.1 569.4,274.9 571.9,272.7 574.4,271 576.9,269.2 579.4,267.2 581.9,265.7 584.4,264.3 586.9,262.9 589.4,261.5 591.9,260.1 594.4,258.8 596.9,257.6 599.4,256.5 601.9,255.3 604.4,254.2 606.9,253.2 609.4,252.3 611.9,251.4 614.4,250.7 616.9,250 619.4,249.3 621.9,248.7 624.4,248.1 626.9,247.4 629.4,246.7 631.9,246 634.4,245.3 636.9,244.6 639.4,244 641.9,243.3 644.4,242.6 646.9,241.9 649.4,241.3 651.9,240.7 654.4,240.2 656.9,239.6 659.4,239.1 661.9,238.7 663.3,238.6" fill="none" stroke="#000" stroke-width="0.5" stroke-linejoin="round" stroke-linecap="round"/>
<polyline points="534.4,338 536.9,331.8 539.4,324.1 541.9,318.4 544.4,313.2 546.9,307.8 549.4,302.8 551.9,298.2 554.4,293.9 556.9,289.9 559.4,286.3 561.9,282.9 564.4,279.9 566.9,277.2 569.4,275 571.9,272.8 574.4,271.1 576.9,269.3 579.4,267.3 581.9,265.7 584.4,264.4 586.9,263 589.4,261.6 591.9,260.2 594.4,258.9 596.9,257.6 599.4,256.5 601.9,255.3 604.4,254.2 606.9,253.2 609.4,252.3 611.9,251.4 614.4,250.6 616.9,250 619.4,249.3 621.9,248.7 624.4,248 626.9,247.4 629.4,246.7 631.9,245.9 634.4,245.3 636.9,244.6 639.4,244 641.9,243.3 644.4,242.6 646.9,241.9 649.4,241.3 651.9,240.8 654.4,240.2 656.9,239.7 659.4,239.2 661.9,238.8 663.3,238.6" fill="none" stroke="#000" stroke-width="0.5" stroke-linejoin="round" stroke-linecap="round"/>
<polyline points="534.4,338 536.9,331.8 539.4,324.2 541.9,318.5 544.4,313.4 546.9,308 549.4,303.1 551.9,298.5 554.4,294.2 556.9,290.3 559.4,286.6 561.9,283.3 564.4,280.3 566.9,277.6 569.4,275.5 571.9,273.2 574.4,271.6 576.9,269.7 579.4,267.7 581.9,266.2 584.4,264.9 586.9,263.5 589.4,262 591.9,260.6 594.4,259.3 596.9,258.1 599.4,256.9 601.9,255.8 604.4,254.7 606.9,253.7 609.4,252.7 611.9,251.9 614.4,251.1 616.9,250.4 619.4,249.8 621.9,249.1 624.4,248.5 626.9,247.8 629.4,247.1 631.9,246.4 634.4,245.7 636.9,245 639.4,244.3 641.9,243.6 644.4,242.9 646.9,242.3 649.4,241.7 651.9,241.1 654.4,240.5 656.9,239.9 659.4,239.4 661.9,239 663.3,238.9" fill="none" stroke="#000" stroke-width="0.5" stroke-linejoin="round" stroke-linecap="round"/>
<polyline points="534.4,338 536.9,331.9 539.4,324.2 541.9,318.6 544.4,313.4 546.9,308.1 549.4,303.1 551.9,298.5 554.4,294.3 556.9,290.3 559.4,286.7 561.9,283.4 564.4,280.3 566.9,277.6 569.4,275.5 571.9,273.3 574.4,271.6 576.9,269.7 579.4,267.7 581.9,266.2 584.4,264.9 586.9,263.5 589.4,262 591.9,260.6 594.4,259.3 596.9,258.1 599.4,256.9 601.9,255.8 604.4,254.7 606.9,253.7 609.4,252.7 611.9,251.9 614.4,251.1 616.9,250.4 619.4,249.8 621.9,249.1 624.4,248.5 626.9,247.8 629.4,247 631.9,246.3 634.4,245.6 636.9,245 639.4,244.3 641.9,243.6 644.4,242.9 646.9,242.3 649.4,241.7 651.9,241.1 654.4,240.5 656.9,240 659.4,239.5 661.9,239.1 663.3,238.9" fill="none" stroke="#000" stroke-width="0.5" stroke-linejoin="round" stroke-linecap="round"/>
<polyline points="534.4,338 536.9,331.9 539.4,324.3 541.9,318.6 544.4,313.5 546.9,308.2 549.4,303.2 551.9,298.7 554.4,294.5 556.9,290.5 559.4,286.9 561.9,283.5 564.4,280.5 566.9,277.8 569.4,275.7 571.9,273.4 574.4,271.8 576.9,269.9 579.4,267.9 581.9,266.4 584.4,265.1 586.9,263.7 589.4,262.2 591.9,260.8 594.4,259.5 596.9,258.3 599.4,257.1 601.9,256 604.4,254.9 606.9,253.9 609.4,252.9 611.9,252 614.4,251.3 616.9,250.6 619.4,249.9 621.9,249.3 624.4,248.6 626.9,247.9 629.4,247.2 631.9,246.5 634.4,245.8 636.9,245.1 639.4,244.5 641.9,243.8 644.4,243.1 646.9,242.4 649.4,241.8 651.9,241.2 654.4,240.7 656.9,240.1 659.4,239.6 661.9,239.2 663.3,239" fill="none" stroke="#000" stroke-width="0.5" stroke-linejoin="round" stroke-linecap="round"/>
<polyline points="534.4,338 536.9,331.9 539.4,324.3 541.9,318.7 544.4,313.6 546.9,308.3 549.4,303.4 551.9,298.8 554.4,294.6 556.9,290.7 559.4,287 561.9,283.7 564.4,280.7 566.9,278 569.4,275.8 571.9,273.6 574.4,272 576.9,270.1 579.4,268.1 581.9,266.6 584.4,265.2 586.9,263.8 589.4,262.4 591.9,261 594.4,259.6 596.9,258.4 599.4,257.2 601.9,256.1 604.4,255 606.9,254 609.4,253 611.9,252.1 614.4,251.4 616.9,250.7 619.4,250 621.9,249.3 624.4,248.7 626.9,248 629.4,247.3 631.9,246.5 634.4,245.8 636.9,245.2 639.4,244.5 641.9,243.8 644.4,243.1 646.9,242.5 649.4,241.9 651.9,241.3 654.4,240.8 656.9,240.2 659.4,239.7 661.9,239.3 663.3,239.1" fill="none" stroke="#000" stroke-width="0.5" stroke-linejoin="round" stroke-linecap="round"/>
<polyline points="534.4,338 536.9,331.9 539.4,324.4 541.9,318.8 544.4,313.8 546.9,308.5 549.4,303.6 551.9,299.1 554.4,294.9 556.9,290.9 559.4,287.3 561.9,283.9 564.4,280.9 566.9,278.2 569.4,276.1 571.9,273.8 574.4,272.2 576.9,270.3 579.4,268.3 581.9,266.7 584.4,265.4 586.9,263.9 589.4,262.5 591.9,261.1 594.4,259.7 596.9,258.5 599.4,257.3 601.9,256.2 604.4,255.1 606.9,254 609.4,253 611.9,252.2 614.4,251.4 616.9,250.7 619.4,250 621.9,249.3 624.4,248.7 626.9,248 629.4,247.3 631.9,246.5 634.4,245.8 636.9,245.2 639.4,244.6 641.9,243.9 644.4,243.2 646.9,242.6 649.4,242 651.9,241.5 654.4,240.9 656.9,240.3 659.4,239.9 661.9,239.5 663.3,239.3" fill="none" stroke="#000" stroke-width="0.5" stroke-linejoin="round" stroke-linecap="round"/>
<polyline points="534.4,338 536.9,332 539.4,324.5 541.9,318.9 544.4,313.9 546.9,308.7 549.4,303.8 551.9,299.3 554.4,295.1 556.9,291.2 559.4,287.6 561.9,284.2 564.4,281.2 566.9,278.6 569.4,276.4 571.9,274.2 574.4,272.5 576.9,270.6 579.4,268.6 581.9,267.1 584.4,265.7 586.9,264.3 589.4,262.9 591.9,261.4 594.4,260.1 596.9,258.9 599.4,257.7 601.9,256.5 604.4,255.5 606.9,254.4 609.4,253.4 611.9,252.6 614.4,251.8 616.9,251.1 619.4,250.4 621.9,249.7 624.4,249 626.9,248.3 629.4,247.6 631.9,246.9 634.4,246.2 636.9,245.5 639.4,244.9 641.9,244.2 644.4,243.5 646.9,242.9 649.4,242.3 651.9,241.7 654.4,241.1 656.9,240.6 659.4,240 661.9,239.6 663.3,239.5" fill="none" stroke="#000" stroke-width="0.5" stroke-linejoin="round" stroke-linecap="round"/>
<polyline points="534.4,338 536.9,332 539.4,324.5 541.9,319 544.4,314 546.9,308.8 549.4,304 551.9,299.5 554.4,295.3 556.9,291.4 559.4,287.8 561.9,284.4 564.4,281.5 566.9,278.8 569.4,276.6 571.9,274.4 574.4,272.8 576.9,270.9 579.4,268.9 581.9,267.4 584.4,266 586.9,264.6 589.4,263.2 591.9,261.7 594.4,260.4 596.9,259.2 599.4,258 601.9,256.9 604.4,255.8 606.9,254.7 609.4,253.8 611.9,252.9 614.4,252.1 616.9,251.4 619.4,250.7 621.9,250 624.4,249.3 626.9,248.6 629.4,247.9 631.9,247.2 634.4,246.5 636.9,245.8 639.4,245.1 641.9,244.4 644.4,243.7 646.9,243.1 649.4,242.5 651.9,241.9 654.4,241.3 656.9,240.7 659.4,240.2 661.9,239.8 663.3,239.6" fill="none" stroke="#000" stroke-width="0.5" stroke-linejoin="round" stroke-linecap="round"/>
<polyline points="534.4,338 536.9,332 539.4,324.6 541.9,319 544.4,314 546.9,308.8 549.4,304 551.9,299.5 554.4,295.3 556.9,291.4 559.4,287.8 561.9,284.4 564.4,281.4 566.9,278.8 569.4,276.6 571.9,274.3 574.4,272.7 576.9,270.8 579.4,268.8 581.9,267.2 584.4,265.8 586.9,264.4 589.4,262.9 591.9,261.5 594.4,260.1 596.9,258.9 599.4,257.7 601.9,256.5 604.4,255.4 606.9,254.4 609.4,253.4 611.9,252.5 614.4,251.7 616.9,251 619.4,250.3 621.9,249.6 624.4,248.9 626.9,248.2 629.4,247.5 631.9,246.8 634.4,246.1 636.9,245.4 639.4,244.8 641.9,244.1 644.4,243.5 646.9,242.9 649.4,242.3 651.9,241.8 654.4,241.2 656.9,240.7 659.4,240.2 661.9,239.8 663.3,239.7" fill="none" stroke="#000" stroke-width="0.5" stroke-linejoin="round" stroke-linecap="round"/>
<polyline points="534.4,338 536.9,332 539.4,324.6 541.9,319.1 544.4,314.1 546.9,309 549.4,304.2 551.9,299.7 554.4,295.5 556.9,291.7 559.4,288.1 561.9,284.7 564.4,281.8 566.9,279.1 569.4,276.9 571.9,274.7 574.4,273.1 576.9,271.2 579.4,269.2 581.9,267.7 584.4,266.3 586.9,264.9 589.4,263.4 591.9,262 594.4,260.7 596.9,259.5 599.4,258.3 601.9,257.2 604.4,256.1 606.9,255 609.4,254.1 611.9,253.2 614.4,252.4 616.9,251.6 619.4,250.9 621.9,250.3 624.4,249.6 626.9,248.9 629.4,248.1 631.9,247.4 634.4,246.7 636.9,246 639.4,245.3 641.9,244.6 644.4,243.9 646.9,243.3 649.4,242.7 651.9,242.1 654.4,241.5 656.9,240.9 659.4,240.4 661.9,240 663.3,239.8" fill="none" stroke="#000" stroke-width="0.5" stroke-linejoin="round" stroke-linecap="round"/>
<polyline points="534.4,338 536.9,332.1 539.4,324.7 541.9,319.2 544.4,314.2 546.9,309 549.4,304.3 551.9,299.8 554.4,295.6 556.9,291.7 559.4,288.1 561.9,284.8 564.4,281.8 566.9,279.1 569.4,276.9 571.9,274.7 574.4,273 576.9,271.1 579.4,269.1 581.9,267.6 584.4,266.2 586.9,264.7 589.4,263.3 591.9,261.8 594.4,260.5 596.9,259.2 599.4,258 601.9,256.9 604.4,255.8 606.9,254.7 609.4,253.8 611.9,252.9 614.4,252 616.9,251.3 619.4,250.6 621.9,249.9 624.4,249.2 626.9,248.5 629.4,247.8 631.9,247.1 634.4,246.4 636.9,245.7 639.4,245.1 641.9,244.4 644.4,243.8 646.9,243.1 649.4,242.6 651.9,242 654.4,241.5 656.9,240.9 659.4,240.4 661.9,240 663.3,239.9" fill="none" stroke="#000" stroke-width="0.5" stroke-linejoin="round" stroke-linecap="round"/>
<polyline points="534.4,338 536.9,332.1 539.4,324.8 541.9,319.3 544.4,314.4 546.9,309.2 549.4,304.5 551.9,300 554.4,295.9 556.9,292 559.4,288.4 561.9,285.1 564.4,282.1 566.9,279.4 569.4,277.2 571.9,275 574.4,273.3 576.9,271.5 579.4,269.4 581.9,267.9 584.4,266.5 586.9,265 589.4,263.5 591.9,262.1 594.4,260.7 596.9,259.5 599.4,258.3 601.9,257.1 604.4,256 606.9,255 609.4,254 611.9,253.1 614.4,252.3 616.9,251.5 619.4,250.8 621.9,250.1 624.4,249.4 626.9,248.7 629.4,248 631.9,247.3 634.4,246.6 636.9,245.9 639.4,245.3 641.9,244.6 644.4,243.9 646.9,243.3 649.4,242.8 651.9,242.2 654.4,241.7 656.9,241.1 659.4,240.6 661.9,240.2 663.3,240.1" fill="none" stroke="#000" stroke-width="0.5" stroke-linejoin="round" stroke-linecap="round"/>
<polyline points="534.4,338 536.9,332.1 539.4,324.8 541.9,319.4 544.4,314.5 546.9,309.4 549.4,304.7 551.9,300.2 554.4,296.1 556.9,292.2 559.4,288.7 561.9,285.3 564.4,282.4 566.9,279.7 569.4,277.6 571.9,275.3 574.4,273.7 576.9,271.8 579.4,269.8 581.9,268.3 584.4,266.9 586.9,265.4 589.4,264 591.9,262.5 594.4,261.2 596.9,260 599.4,258.8 601.9,257.6 604.4,256.5 606.9,255.5 609.4,254.5 611.9,253.6 614.4,252.8 616.9,252 619.4,251.3 621.9,250.6 624.4,249.9 626.9,249.2 629.4,248.4 631.9,247.7 634.4,247 636.9,246.3 639.4,245.7 641.9,245 644.4,244.3 646.9,243.7 649.4,243.1 651.9,242.5 654.4,241.9 656.9,241.3 659.4,240.8 661.9,240.4 663.3,240.2" fill="none" stroke="#000" stroke-width="0.5" stroke-linejoin="round" stroke-linecap="round"/>
<polyline points="534.4,338 536.9,332.2 539.4,324.9 541.9,319.5 544.4,314.5 546.9,309.5 549.4,304.8 551.9,300.4 554.4,296.2 556.9,292.4 559.4,288.8 561.9,285.5 564.4,282.5 566.9,279.9 569.4,277.7 571.9,275.5 574.4,273.9 576.9,272 579.4,270 581.9,268.5 584.4,267.1 586.9,265.6 589.4,264.2 591.9,262.7 594.4,261.4 596.9,260.2 599.4,259 601.9,257.8 604.4,256.7 606.9,255.7 609.4,254.7 611.9,253.8 614.4,253 616.9,252.2 619.4,251.5 621.9,250.8 624.4,250.1 626.9,249.4 629.4,248.6 631.9,247.9 634.4,247.2 636.9,246.5 639.4,245.8 641.9,245.1 644.4,244.4 646.9,243.8 649.4,243.2 651.9,242.6 654.4,242 656.9,241.4 659.4,240.9 661.9,240.5 663.3,240.3" fill="none" stroke="#000" stroke-width="0.5" stroke-linejoin="round" stroke-linecap="round"/>
<polyline points="534.4,338 536.9,332.2 539.4,324.9 541.9,319.6 544.4,314.7 546.9,309.6 549.4,305 551.9,300.6 554.4,296.5 556.9,292.6 559.4,289 561.9,285.7 564.4,282.8 566.9,280.1 569.4,278 571.9,275.7 574.4,274.1 576.9,272.2 579.4,270.2 581.9,268.7 584.4,267.3 586.9,265.8 589.4,264.4 591.9,262.9 594.4,261.6 596.9,260.3 599.4,259.1 601.9,258 604.4,256.9 606.9,255.8 609.4,254.8 611.9,253.9 614.4,253.1 616.9,252.4 619.4,251.6 621.9,250.9 624.4,250.2 626.9,249.5 629.4,248.7 631.9,248 634.4,247.3 636.9,246.6 639.4,246 641.9,245.3 644.4,244.6 646.9,243.9 649.4,243.4 651.9,242.8 654.4,242.2 656.9,241.6 659.4,241 661.9,240.6 663.3,240.4" fill="none" stroke="#000" stroke-width="0.5" stroke-linejoin="round" stroke-linecap="round"/>
<polyline points="534.4,338 536.9,332.2 539.4,325 541.9,319.6 544.4,314.8 546.9,309.7 549.4,305.1 551.9,300.7 554.4,296.6 556.9,292.8 559.4,289.2 561.9,285.9 564.4,283 566.9,280.3 569.4,278.2 571.9,276 574.4,274.3 576.9,272.5 579.4,270.4 581.9,268.9 584.4,267.5 586.9,266.1 589.4,264.6 591.9,263.2 594.4,261.8 596.9,260.6 599.4,259.4 601.9,258.2 604.4,257.2 606.9,256.1 609.4,255.1 611.9,254.2 614.4,253.4 616.9,252.6 619.4,251.9 621.9,251.2 624.4,250.5 626.9,249.7 629.4,249 631.9,248.2 634.4,247.5 636.9,246.8 639.4,246.2 641.9,245.5 644.4,244.8 646.9,244.1 649.4,243.5 651.9,243 654.4,242.3 656.9,241.7 659.4,241.2 661.9,240.7 663.3,240.5" fill="none" stroke="#000" stroke-width="0.5" stroke-linejoin="round" stroke-linecap="round"/>
<polyline points="534.4,338 536.9,332.3 539.4,325.1 541.9,319.7 544.4,314.9 546.9,309.9 549.4,305.3 551.9,301 554.4,296.9 556.9,293.1 559.4,289.5 561.9,286.2 564.4,283.3 566.9,280.7 569.4,278.5 571.9,276.3 574.4,274.6 576.9,272.8 579.4,270.8 581.9,269.2 584.4,267.9 586.9,266.4 589.4,264.9 591.9,263.5 594.4,262.1 596.9,260.9 599.4,259.7 601.9,258.6 604.4,257.5 606.9,256.4 609.4,255.4 611.9,254.5 614.4,253.7 616.9,252.9 619.4,252.2 621.9,251.5 624.4,250.7 626.9,250 629.4,249.2 631.9,248.5 634.4,247.8 636.9,247.1 639.4,246.4 641.9,245.7 644.4,245 646.9,244.4 649.4,243.8 651.9,243.2 654.4,242.6 656.9,241.9 659.4,241.4 661.9,240.9 663.3,240.7" fill="none" stroke="#000" stroke-width="0.5" stroke-linejoin="round" stroke-linecap="round"/>
<polyline points="534.4,338 536.9,332.3 539.4,325.1 541.9,319.8 544.4,315 546.9,310 549.4,305.5 551.9,301.1 554.4,297 556.9,293.2 559.4,289.7 561.9,286.4 564.4,283.4 566.9,280.8 569.4,278.7 571.9,276.4 574.4,274.8 576.9,272.9 579.4,270.9 581.9,269.4 584.4,268 586.9,266.5 589.4,265.1 591.9,263.6 594.4,262.3 596.9,261 599.4,259.9 601.9,258.7 604.4,257.6 606.9,256.6 609.4,255.6 611.9,254.7 614.4,253.8 616.9,253 619.4,252.3 621.9,251.6 624.4,250.8 626.9,250.1 629.4,249.3 631.9,248.6 634.4,247.9 636.9,247.2 639.4,246.5 641.9,245.8 644.4,245.1 646.9,244.5 649.4,243.9 651.9,243.3 654.4,242.7 656.9,242 659.4,241.5 661.9,241 663.3,240.8" fill="none" stroke="#000" stroke-width="0.5" stroke-linejoin="round" stroke-linecap="round"/>
<polyline points="534.4,338 536.9,332.3 539.4,325.2 541.9,319.9 544.4,315 546.9,310.1 549.4,305.5 551.9,301.2 554.4,297.1 556.9,293.3 559.4,289.8 561.9,286.5 564.4,283.6 566.9,280.9 569.4,278.8 571.9,276.6 574.4,274.9 576.9,273.1 579.4,271.1 581.9,269.5 584.4,268.1 586.9,266.7 589.4,265.2 591.9,263.8 594.4,262.4 596.9,261.2 599.4,260 601.9,258.8 604.4,257.7 606.9,256.7 609.4,255.7 611.9,254.8 614.4,253.9 616.9,253.2 619.4,252.4 621.9,251.7 624.4,251 626.9,250.2 629.4,249.4 631.9,248.7 634.4,248 636.9,247.3 639.4,246.6 641.9,245.9 644.4,245.2 646.9,244.6 649.4,244 651.9,243.4 654.4,242.7 656.9,242.1 659.4,241.5 661.9,241.1 663.3,240.9" fill="none" stroke="#000" stroke-width="0.5" stroke-linejoin="round" stroke-linecap="round"/>
<polyline points="534.4,338 536.9,332.3 539.4,325.2 541.9,320 544.4,315.2 546.9,310.3 549.4,305.8 551.9,301.4 554.4,297.4 556.9,293.6 559.4,290 561.9,286.7 564.4,283.8 566.9,281.1 569.4,279 571.9,276.7 574.4,275.1 576.9,273.2 579.4,271.2 581.9,269.6 584.4,268.2 586.9,266.7 589.4,265.2 591.9,263.8 594.4,262.4 596.9,261.1 599.4,259.9 601.9,258.8 604.4,257.7 606.9,256.6 609.4,255.6 611.9,254.7 614.4,253.8 616.9,253 619.4,252.3 621.9,251.5 624.4,250.8 626.9,250 629.4,249.3 631.9,248.6 634.4,247.8 636.9,247.2 639.4,246.5 641.9,245.8 644.4,245.2 646.9,244.6 649.4,244 651.9,243.4 654.4,242.8 656.9,242.2 659.4,241.7 661.9,241.3 663.3,241.1" fill="none" stroke="#000" stroke-width="0.5" stroke-linejoin="round" stroke-linecap="round"/>
<polyline points="534.4,338 536.9,332.3 539.4,325.3 541.9,320 544.4,315.2 546.9,310.3 549.4,305.8 551.9,301.4 554.4,297.4 556.9,293.6 559.4,290 561.9,286.7 564.4,283.8 566.9,281.1 569.4,279 571.9,276.7 574.4,275 576.9,273.2 579.4,271.1 581.9,269.6 584.4,268.2 586.9,266.7 589.4,265.2 591.9,263.7 594.4,262.3 596.9,261.1 599.4,259.9 601.9,258.7 604.4,257.6 606.9,256.5 609.4,255.5 611.9,254.6 614.4,253.7 616.9,252.9 619.4,252.2 621.9,251.4 624.4,250.7 626.9,250 629.4,249.2 631.9,248.5 634.4,247.8 636.9,247.1 639.4,246.5 641.9,245.8 644.4,245.1 646.9,244.5 649.4,243.9 651.9,243.4 654.4,242.8 656.9,242.2 659.4,241.7 661.9,241.3 663.3,241.1" fill="none" stroke="#000" stroke-width="0.5" stroke-linejoin="round" stroke-linecap="round"/>
<polyline points="534.4,338 536.9,332.4 539.4,325.3 541.9,320.1 544.4,315.4 546.9,310.5 549.4,306 551.9,301.7 554.4,297.7 556.9,293.9 559.4,290.4 561.9,287.1 564.4,284.2 566.9,281.6 569.4,279.4 571.9,277.2 574.4,275.5 576.9,273.7 579.4,271.7 581.9,270.1 584.4,268.7 586.9,267.3 589.4,265.8 591.9,264.3 594.4,263 596.9,261.7 599.4,260.5 601.9,259.4 604.4,258.3 606.9,257.2 609.4,256.2 611.9,255.3 614.4,254.4 616.9,253.6 619.4,252.9 621.9,252.1 624.4,251.4 626.9,250.6 629.4,249.9 631.9,249.1 634.4,248.4 636.9,247.7 639.4,247 641.9,246.3 644.4,245.6 646.9,245 649.4,244.4 651.9,243.8 654.4,243.2 656.9,242.5 659.4,242 661.9,241.5 663.3,241.3" fill="none" stroke="#000" stroke-width="0.5" stroke-linejoin="round" stroke-linecap="round"/>
<polyline points="534.4,338 536.9,332.4 539.4,325.4 541.9,320.2 544.4,315.5 546.9,310.6 549.4,306.2 551.9,301.9 554.4,297.9 556.9,294.1 559.4,290.6 561.9,287.3 564.4,284.4 566.9,281.8 569.4,279.6 571.9,277.4 574.4,275.7 576.9,273.9 579.4,271.9 581.9,270.3 584.4,268.9 586.9,267.5 589.4,266 591.9,264.5 594.4,263.2 596.9,261.9 599.4,260.7 601.9,259.6 604.4,258.4 606.9,257.4 609.4,256.4 611.9,255.5 614.4,254.6 616.9,253.8 619.4,253 621.9,252.3 624.4,251.5 626.9,250.8 629.4,250 631.9,249.2 634.4,248.5 636.9,247.8 639.4,247.2 641.9,246.4 644.4,245.8 646.9,245.1 649.4,244.5 651.9,243.9 654.4,243.3 656.9,242.6 659.4,242.1 661.9,241.6 663.3,241.4" fill="none" stroke="#000" stroke-width="0.5" stroke-linejoin="round" stroke-linecap="round"/>
<polyline points="534.4,338 536.9,332.4 539.4,325.4 541.9,320.3 544.4,315.5 546.9,310.7 549.4,306.3 551.9,302 554.4,298 556.9,294.2 559.4,290.7 561.9,287.4 564.4,284.5 566.9,281.8 569.4,279.7 571.9,277.4 574.4,275.8 576.9,273.9 579.4,271.9 581.9,270.3 584.4,268.9 586.9,267.4 589.4,265.9 591.9,264.4 594.4,263.1 596.9,261.8 599.4,260.6 601.9,259.4 604.4,258.3 606.9,257.3 609.4,256.2 611.9,255.3 614.4,254.4 616.9,253.6 619.4,252.8 621.9,252.1 624.4,251.3 626.9,250.6 629.4,249.8 631.9,249.1 634.4,248.4 636.9,247.7 639.4,247 641.9,246.3 644.4,245.7 646.9,245 649.4,244.5 651.9,243.9 654.4,243.3 656.9,242.7 659.4,242.1 661.9,241.7 663.3,241.5" fill="none" stroke="#000" stroke-width="0.5" stroke-linejoin="round" stroke-linecap="round"/>
<polyline points="534.4,338 536.9,332.4 539.4,325.5 541.9,320.3 544.4,315.6 546.9,310.8 549.4,306.4 551.9,302.1 554.4,298.1 556.9,294.3 559.4,290.8 561.9,287.5 564.4,284.6 566.9,282 569.4,279.8 571.9,277.5 574.4,275.9 576.9,274 579.4,272 581.9,270.4 584.4,269 586.9,267.5 589.4,266 591.9,264.5 594.4,263.1 596.9,261.9 599.4,260.6 601.9,259.5 604.4,258.4 606.9,257.3 609.4,256.3 611.9,255.3 614.4,254.5 616.9,253.6 619.4,252.9 621.9,252.1 624.4,251.4 626.9,250.6 629.4,249.8 631.9,249.1 634.4,248.4 636.9,247.7 639.4,247.1 641.9,246.4 644.4,245.7 646.9,245.1 649.4,244.5 651.9,244 654.4,243.4 656.9,242.8 659.4,242.2 661.9,241.8 663.3,241.6" fill="none" stroke="#000" stroke-width="0.5" stroke-linejoin="round" stroke-linecap="round"/>
<polyline points="534.4,338 536.9,332.5 539.4,325.6 541.9,320.5 544.4,315.8 546.9,311 549.4,306.7 551.9,302.4 554.4,298.4 556.9,294.7 559.4,291.1 561.9,287.9 564.4,285 566.9,282.3 569.4,280.2 571.9,277.9 574.4,276.3 576.9,274.4 579.4,272.4 581.9,270.8 584.4,269.4 586.9,267.9 589.4,266.4 591.9,264.9 594.4,263.5 596.9,262.2 599.4,261 601.9,259.9 604.4,258.7 606.9,257.7 609.4,256.7 611.9,255.7 614.4,254.8 616.9,254 619.4,253.2 621.9,252.4 624.4,251.7 626.9,250.9 629.4,250.2 631.9,249.4 634.4,248.7 636.9,248 639.4,247.4 641.9,246.7 644.4,246 646.9,245.4 649.4,244.8 651.9,244.2 654.4,243.6 656.9,243 659.4,242.4 661.9,242 663.3,241.8" fill="none" stroke="#000" stroke-width="0.5" stroke-linejoin="round" stroke-linecap="round"/>
<polyline points="534.4,338 536.9,332.5 539.4,325.6 541.9,320.5 544.4,315.8 546.9,311.1 549.4,306.7 551.9,302.5 554.4,298.5 556.9,294.7 559.4,291.2 561.9,288 564.4,285 566.9,282.4 569.4,280.3 571.9,278 574.4,276.4 576.9,274.5 579.4,272.5 581.9,270.9 584.4,269.5 586.9,268 589.4,266.5 591.9,265 594.4,263.7 596.9,262.4 599.4,261.2 601.9,260 604.4,258.9 606.9,257.8 609.4,256.8 611.9,255.9 614.4,255 616.9,254.2 619.4,253.4 621.9,252.6 624.4,251.8 626.9,251.1 629.4,250.3 631.9,249.6 634.4,248.8 636.9,248.1 639.4,247.5 641.9,246.8 644.4,246.1 646.9,245.5 649.4,244.9 651.9,244.3 654.4,243.7 656.9,243.1 659.4,242.5 661.9,242 663.3,241.9" fill="none" stroke="#000" stroke-width="0.5" stroke-linejoin="round" stroke-linecap="round"/>
<polyline points="534.4,338 536.9,332.5 539.4,325.7 541.9,320.6 544.4,316 546.9,311.3 549.4,306.9 551.9,302.7 554.4,298.7 556.9,295 559.4,291.5 561.9,288.2 564.4,285.3 566.9,282.7 569.4,280.6 571.9,278.3 574.4,276.6 576.9,274.8 579.4,272.8 581.9,271.2 584.4,269.8 586.9,268.3 589.4,266.7 591.9,265.3 594.4,263.9 596.9,262.6 599.4,261.4 601.9,260.2 604.4,259.1 606.9,258 609.4,257 611.9,256.1 614.4,255.2 616.9,254.3 619.4,253.5 621.9,252.8 624.4,252 626.9,251.2 629.4,250.4 631.9,249.7 634.4,249 636.9,248.3 639.4,247.6 641.9,246.9 644.4,246.3 646.9,245.6 649.4,245.1 651.9,244.5 654.4,243.9 656.9,243.2 659.4,242.7 661.9,242.2 663.3,242" fill="none" stroke="#000" stroke-width="0.5" stroke-linejoin="round" stroke-linecap="round"/>
<polyline points="534.4,338 536.9,332.6 539.4,325.8 541.9,320.7 544.4,316.1 546.9,311.5 549.4,307.2 551.9,303 554.4,299 556.9,295.3 559.4,291.8 561.9,288.6 564.4,285.7 566.9,283.1 569.4,280.9 571.9,278.7 574.4,277 576.9,275.2 579.4,273.2 581.9,271.6 584.4,270.2 586.9,268.7 589.4,267.2 591.9,265.7 594.4,264.3 596.9,263.1 599.4,261.9 601.9,260.7 604.4,259.6 606.9,258.5 609.4,257.5 611.9,256.6 614.4,255.7 616.9,254.8 619.4,254 621.9,253.2 624.4,252.5 626.9,251.7 629.4,250.9 631.9,250.1 634.4,249.4 636.9,248.7 639.4,248 641.9,247.3 644.4,246.6 646.9,246 649.4,245.4 651.9,244.8 654.4,244.2 656.9,243.5 659.4,242.9 661.9,242.4 663.3,242.2" fill="none" stroke="#000" stroke-width="0.5" stroke-linejoin="round" stroke-linecap="round"/>
<polyline points="534.4,338 536.9,332.6 539.4,325.8 541.9,320.7 544.4,316.1 546.9,311.5 549.4,307.2 551.9,303 554.4,299 556.9,295.3 559.4,291.8 561.9,288.6 564.4,285.6 566.9,283.1 569.4,280.9 571.9,278.6 574.4,277 576.9,275.1 579.4,273.1 581.9,271.5 584.4,270.1 586.9,268.6 589.4,267.1 591.9,265.6 594.4,264.2 596.9,262.9 599.4,261.7 601.9,260.5 604.4,259.4 606.9,258.4 609.4,257.3 611.9,256.4 614.4,255.5 616.9,254.6 619.4,253.8 621.9,253 624.4,252.3 626.9,251.5 629.4,250.7 631.9,250 634.4,249.2 636.9,248.5 639.4,247.9 641.9,247.2 644.4,246.5 646.9,245.9 649.4,245.3 651.9,244.7 654.4,244.1 656.9,243.5 659.4,242.9 661.9,242.4 663.3,242.2" fill="none" stroke="#000" stroke-width="0.5" stroke-linejoin="round" stroke-linecap="round"/>
<polyline points="534.4,338 536.9,332.6 539.4,325.9 541.9,320.8 544.4,316.2 546.9,311.6 549.4,307.3 551.9,303.2 554.4,299.2 556.9,295.5 559.4,292 561.9,288.8 564.4,285.9 566.9,283.3 569.4,281.1 571.9,278.9 574.4,277.2 576.9,275.4 579.4,273.4 581.9,271.8 584.4,270.4 586.9,268.9 589.4,267.4 591.9,265.9 594.4,264.5 596.9,263.2 599.4,262 601.9,260.8 604.4,259.7 606.9,258.7 609.4,257.6 611.9,256.7 614.4,255.8 616.9,254.9 619.4,254.1 621.9,253.3 624.4,252.5 626.9,251.7 629.4,251 631.9,250.2 634.4,249.5 636.9,248.8 639.4,248.1 641.9,247.4 644.4,246.7 646.9,246.1 649.4,245.5 651.9,244.9 654.4,244.3 656.9,243.6 659.4,243 661.9,242.6 663.3,242.4" fill="none" stroke="#000" stroke-width="0.5" stroke-linejoin="round" stroke-linecap="round"/>
<polyline points="534.4,338 536.9,332.6 539.4,325.9 541.9,320.9 544.4,316.4 546.9,311.8 549.4,307.6 551.9,303.4 554.4,299.5 556.9,295.8 559.4,292.3 561.9,289.1 564.4,286.2 566.9,283.6 569.4,281.5 571.9,279.2 574.4,277.6 576.9,275.7 579.4,273.7 581.9,272.1 584.4,270.7 586.9,269.2 589.4,267.7 591.9,266.2 594.4,264.8 596.9,263.5 599.4,262.3 601.9,261.2 604.4,260 606.9,259 609.4,258 611.9,257 614.4,256.1 616.9,255.2 619.4,254.4 621.9,253.6 624.4,252.8 626.9,252 629.4,251.2 631.9,250.5 634.4,249.7 636.9,249 639.4,248.4 641.9,247.6 644.4,247 646.9,246.3 649.4,245.7 651.9,245.2 654.4,244.5 656.9,243.8 659.4,243.2 661.9,242.7 663.3,242.5" fill="none" stroke="#000" stroke-width="0.5" stroke-linejoin="round" stroke-linecap="round"/>
<polyline points="534.4,338 536.9,332.7 539.4,326 541.9,321 544.4,316.5 546.9,311.9 549.4,307.7 551.9,303.5 554.4,299.6 556.9,295.9 559.4,292.5 561.9,289.2 564.4,286.3 566.9,283.8 569.4,281.6 571.9,279.3 574.4,277.7 576.9,275.8 579.4,273.8 581.9,272.2 584.4,270.8 586.9,269.3 589.4,267.8 591.9,266.3 594.4,264.9 596.9,263.6 599.4,262.4 601.9,261.2 604.4,260.1 606.9,259 609.4,258 611.9,257 614.4,256.1 616.9,255.3 619.4,254.4 621.9,253.6 624.4,252.8 626.9,252 629.4,251.3 631.9,250.5 634.4,249.8 636.9,249.1 639.4,248.4 641.9,247.7 644.4,247 646.9,246.4 649.4,245.8 651.9,245.2 654.4,244.6 656.9,243.9 659.4,243.3 661.9,242.8 663.3,242.7" fill="none" stroke="#000" stroke-width="0.5" stroke-linejoin="round" stroke-linecap="round"/>
<polyline points="534.4,338 536.9,332.7 539.4,326.1 541.9,321.1 544.4,316.6 546.9,312.1 549.4,307.9 551.9,303.7 554.4,299.8 556.9,296.2 559.4,292.7 561.9,289.5 564.4,286.6 566.9,284.1 569.4,281.9 571.9,279.7 574.4,278 576.9,276.2 579.4,274.2 581.9,272.6 584.4,271.2 586.9,269.7 589.4,268.1 591.9,266.7 594.4,265.3 596.9,264 599.4,262.8 601.9,261.6 604.4,260.5 606.9,259.4 609.4,258.4 611.9,257.4 614.4,256.5 616.9,255.7 619.4,254.8 621.9,254 624.4,253.2 626.9,252.4 629.4,251.6 631.9,250.8 634.4,250.1 636.9,249.4 639.4,248.7 641.9,248 644.4,247.3 646.9,246.7 649.4,246.1 651.9,245.5 654.4,244.8 656.9,244.1 659.4,243.5 661.9,243 663.3,242.8" fill="none" stroke="#000" stroke-width="0.5" stroke-linejoin="round" stroke-linecap="round"/>
<polyline points="534.4,338 536.9,332.7 539.4,326.1 541.9,321.2 544.4,316.7 546.9,312.2 549.4,308 551.9,303.9 554.4,300 556.9,296.4 559.4,292.9 561.9,289.7 564.4,286.8 566.9,284.3 569.4,282.1 571.9,279.9 574.4,278.2 576.9,276.4 579.4,274.4 581.9,272.8 584.4,271.4 586.9,269.9 589.4,268.3 591.9,266.9 594.4,265.5 596.9,264.2 599.4,263 601.9,261.8 604.4,260.7 606.9,259.6 609.4,258.6 611.9,257.6 614.4,256.7 616.9,255.8 619.4,255 621.9,254.1 624.4,253.3 626.9,252.5 629.4,251.7 631.9,251 634.4,250.2 636.9,249.5 639.4,248.9 641.9,248.1 644.4,247.4 646.9,246.8 649.4,246.2 651.9,245.6 654.4,245 656.9,244.3 659.4,243.7 661.9,243.1 663.3,242.9" fill="none" stroke="#000" stroke-width="0.5" stroke-linejoin="round" stroke-linecap="round"/>
<polyline points="534.4,338 536.9,332.7 539.4,326.2 541.9,321.2 544.4,316.7 546.9,312.2 549.4,308.1 551.9,304 554.4,300.1 556.9,296.4 559.4,292.9 561.9,289.7 564.4,286.8 566.9,284.3 569.4,282.1 571.9,279.8 574.4,278.2 576.9,276.3 579.4,274.3 581.9,272.7 584.4,271.3 586.9,269.8 589.4,268.2 591.9,266.7 594.4,265.3 596.9,264 599.4,262.8 601.9,261.6 604.4,260.5 606.9,259.4 609.4,258.4 611.9,257.4 614.4,256.5 616.9,255.6 619.4,254.7 621.9,253.9 624.4,253.1 626.9,252.3 629.4,251.5 631.9,250.8 634.4,250 636.9,249.3 639.4,248.7 641.9,248 644.4,247.3 646.9,246.7 649.4,246.1 651.9,245.6 654.4,244.9 656.9,244.3 659.4,243.7 661.9,243.2 663.3,243" fill="none" stroke="#000" stroke-width="0.5" stroke-linejoin="round" stroke-linecap="round"/>
<polyline points="534.4,338 536.9,332.8 539.4,326.2 541.9,321.3 544.4,316.9 546.9,312.4 549.4,308.2 551.9,304.1 554.4,300.3 556.9,296.6 559.4,293.2 561.9,289.9 564.4,287.1 566.9,284.5 569.4,282.3 571.9,280.1 574.4,278.4 576.9,276.5 579.4,274.5 581.9,272.9 584.4,271.5 586.9,269.9 589.4,268.4 591.9,266.9 594.4,265.5 596.9,264.2 599.4,262.9 601.9,261.8 604.4,260.6 606.9,259.6 609.4,258.5 611.9,257.5 614.4,256.6 616.9,255.7 619.4,254.9 621.9,254 624.4,253.2 626.9,252.4 629.4,251.6 631.9,250.9 634.4,250.1 636.9,249.4 639.4,248.8 641.9,248.1 644.4,247.4 646.9,246.8 649.4,246.2 651.9,245.7 654.4,245 656.9,244.4 659.4,243.8 661.9,243.3 663.3,243.1" fill="none" stroke="#000" stroke-width="0.5" stroke-linejoin="round" stroke-linecap="round"/>
<polyline points="534.4,338 536.9,332.8 539.4,326.3 541.9,321.4 544.4,317 546.9,312.5 549.4,308.4 551.9,304.3 554.4,300.4 556.9,296.8 559.4,293.3 561.9,290.1 564.4,287.3 566.9,284.7 569.4,282.5 571.9,280.3 574.4,278.6 576.9,276.8 579.4,274.7 581.9,273.1 584.4,271.7 586.9,270.2 589.4,268.6 591.9,267.1 594.4,265.7 596.9,264.4 599.4,263.2 601.9,262 604.4,260.9 606.9,259.8 609.4,258.7 611.9,257.8 614.4,256.8 616.9,255.9 619.4,255.1 621.9,254.2 624.4,253.4 626.9,252.6 629.4,251.8 631.9,251.1 634.4,250.3 636.9,249.6 639.4,249 641.9,248.3 644.4,247.6 646.9,247 649.4,246.4 651.9,245.8 654.4,245.2 656.9,244.5 659.4,243.9 661.9,243.4 663.3,243.3" fill="none" stroke="#000" stroke-width="0.5" stroke-linejoin="round" stroke-linecap="round"/>
<polyline points="534.4,338 536.9,332.8 539.4,326.3 541.9,321.5 544.4,317 546.9,312.6 549.4,308.5 551.9,304.4 554.4,300.6 556.9,296.9 559.4,293.5 561.9,290.3 564.4,287.4 566.9,284.9 569.4,282.7 571.9,280.4 574.4,278.8 576.9,276.9 579.4,274.9 581.9,273.3 584.4,271.8 586.9,270.3 589.4,268.8 591.9,267.3 594.4,265.8 596.9,264.5 599.4,263.3 601.9,262.1 604.4,261 606.9,259.9 609.4,258.9 611.9,257.9 614.4,257 616.9,256.1 619.4,255.2 621.9,254.4 624.4,253.5 626.9,252.7 629.4,251.9 631.9,251.2 634.4,250.4 636.9,249.7 639.4,249.1 641.9,248.4 644.4,247.7 646.9,247.1 649.4,246.5 651.9,246 654.4,245.3 656.9,244.6 659.4,244 661.9,243.5 663.3,243.3" fill="none" stroke="#000" stroke-width="0.5" stroke-linejoin="round" stroke-linecap="round"/>
<polyline points="534.4,338 536.9,332.9 539.4,326.4 541.9,321.6 544.4,317.2 546.9,312.9 549.4,308.8 551.9,304.8 554.4,301 556.9,297.3 559.4,293.9 561.9,290.7 564.4,287.9 566.9,285.4 569.4,283.2 571.9,281 574.4,279.4 576.9,277.5 579.4,275.5 581.9,273.9 584.4,272.5 586.9,271 589.4,269.4 591.9,267.9 594.4,266.5 596.9,265.3 599.4,264.1 601.9,262.9 604.4,261.8 606.9,260.7 609.4,259.7 611.9,258.7 614.4,257.7 616.9,256.8 619.4,255.9 621.9,255.1 624.4,254.3 626.9,253.4 629.4,252.6 631.9,251.9 634.4,251.1 636.9,250.4 639.4,249.7 641.9,249 644.4,248.3 646.9,247.6 649.4,247 651.9,246.4 654.4,245.7 656.9,245 659.4,244.3 661.9,243.8 663.3,243.6" fill="none" stroke="#000" stroke-width="0.5" stroke-linejoin="round" stroke-linecap="round"/>
<polyline points="534.4,338 536.9,332.9 539.4,326.5 541.9,321.7 544.4,317.3 546.9,313 549.4,308.9 551.9,304.9 554.4,301.1 556.9,297.5 559.4,294.1 561.9,290.9 564.4,288 566.9,285.5 569.4,283.3 571.9,281.1 574.4,279.4 576.9,277.6 579.4,275.5 581.9,274 584.4,272.5 586.9,271 589.4,269.4 591.9,267.9 594.4,266.5 596.9,265.2 599.4,264 601.9,262.8 604.4,261.7 606.9,260.6 609.4,259.6 611.9,258.6 614.4,257.6 616.9,256.7 619.4,255.8 621.9,255 624.4,254.1 626.9,253.3 629.4,252.5 631.9,251.7 634.4,251 636.9,250.3 639.4,249.6 641.9,248.9 644.4,248.2 646.9,247.6 649.4,247 651.9,246.4 654.4,245.7 656.9,245 659.4,244.4 661.9,243.9 663.3,243.7" fill="none" stroke="#000" stroke-width="0.5" stroke-linejoin="round" stroke-linecap="round"/>
<polyline points="534.4,338 536.9,332.9 539.4,326.5 541.9,321.8 544.4,317.4 546.9,313.1 549.4,309.1 551.9,305.1 554.4,301.3 556.9,297.7 559.4,294.3 561.9,291.1 564.4,288.2 566.9,285.7 569.4,283.6 571.9,281.3 574.4,279.7 576.9,277.8 579.4,275.8 581.9,274.2 584.4,272.8 586.9,271.3 589.4,269.7 591.9,268.2 594.4,266.8 596.9,265.5 599.4,264.3 601.9,263.1 604.4,262 606.9,260.9 609.4,259.9 611.9,258.9 614.4,257.9 616.9,257 619.4,256.1 621.9,255.3 624.4,254.4 626.9,253.6 629.4,252.8 631.9,252 634.4,251.3 636.9,250.5 639.4,249.9 641.9,249.1 644.4,248.4 646.9,247.8 649.4,247.2 651.9,246.6 654.4,245.9 656.9,245.2 659.4,244.6 661.9,244 663.3,243.8" fill="none" stroke="#000" stroke-width="0.5" stroke-linejoin="round" stroke-linecap="round"/>
<polyline points="534.4,338 536.9,332.9 539.4,326.6 541.9,321.8 544.4,317.4 546.9,313.1 549.4,309.1 551.9,305.1 554.4,301.3 556.9,297.7 559.4,294.3 561.9,291.1 564.4,288.3 566.9,285.7 569.4,283.6 571.9,281.3 574.4,279.7 576.9,277.8 579.4,275.8 581.9,274.2 584.4,272.7 586.9,271.2 589.4,269.7 591.9,268.1 594.4,266.7 596.9,265.4 599.4,264.2 601.9,263 604.4,261.9 606.9,260.8 609.4,259.8 611.9,258.8 614.4,257.8 616.9,256.9 619.4,256 621.9,255.2 624.4,254.3 626.9,253.5 629.4,252.7 631.9,251.9 634.4,251.2 636.9,250.4 639.4,249.8 641.9,249.1 644.4,248.4 646.9,247.8 649.4,247.2 651.9,246.6 654.4,245.9 656.9,245.2 659.4,244.6 661.9,244 663.3,243.8" fill="none" stroke="#000" stroke-width="0.5" stroke-linejoin="round" stroke-linecap="round"/>
<polyline points="534.4,338 536.9,333 539.4,326.7 541.9,321.9 544.4,317.6 546.9,313.4 549.4,309.4 551.9,305.4 554.4,301.6 556.9,298.1 559.4,294.7 561.9,291.5 564.4,288.7 566.9,286.1 569.4,284 571.9,281.8 574.4,280.1 576.9,278.3 579.4,276.3 581.9,274.7 584.4,273.2 586.9,271.7 589.4,270.2 591.9,268.6 594.4,267.2 596.9,265.9 599.4,264.7 601.9,263.6 604.4,262.4 606.9,261.4 609.4,260.3 611.9,259.3 614.4,258.3 616.9,257.4 619.4,256.5 621.9,255.6 624.4,254.8 626.9,254 629.4,253.1 631.9,252.3 634.4,251.6 636.9,250.9 639.4,250.2 641.9,249.4 644.4,248.8 646.9,248.1 649.4,247.5 651.9,246.9 654.4,246.2 656.9,245.5 659.4,244.8 661.9,244.3 663.3,244.1" fill="none" stroke="#000" stroke-width="0.5" stroke-linejoin="round" stroke-linecap="round"/>
<polyline points="534.4,338 536.9,333 539.4,326.7 541.9,322 544.4,317.7 546.9,313.5 549.4,309.6 551.9,305.6 554.4,301.8 556.9,298.2 559.4,294.9 561.9,291.7 564.4,288.9 566.9,286.4 569.4,284.2 571.9,282 574.4,280.3 576.9,278.5 579.4,276.5 581.9,274.9 584.4,273.5 586.9,271.9 589.4,270.4 591.9,268.9 594.4,267.4 596.9,266.2 599.4,264.9 601.9,263.8 604.4,262.7 606.9,261.6 609.4,260.5 611.9,259.5 614.4,258.6 616.9,257.6 619.4,256.7 621.9,255.8 624.4,255 626.9,254.2 629.4,253.3 631.9,252.5 634.4,251.8 636.9,251 639.4,250.4 641.9,249.6 644.4,248.9 646.9,248.3 649.4,247.7 651.9,247.1 654.4,246.4 656.9,245.6 659.4,245 661.9,244.4 663.3,244.2" fill="none" stroke="#000" stroke-width="0.5" stroke-linejoin="round" stroke-linecap="round"/>
<polyline points="534.4,338 536.9,333 539.4,326.8 541.9,322.1 544.4,317.8 546.9,313.5 549.4,309.6 551.9,305.7 554.4,301.9 556.9,298.3 559.4,294.9 561.9,291.7 564.4,288.9 566.9,286.4 569.4,284.2 571.9,282 574.4,280.3 576.9,278.5 579.4,276.4 581.9,274.8 584.4,273.3 586.9,271.8 589.4,270.2 591.9,268.7 594.4,267.2 596.9,265.9 599.4,264.7 601.9,263.5 604.4,262.4 606.9,261.3 609.4,260.3 611.9,259.2 614.4,258.3 616.9,257.3 619.4,256.4 621.9,255.5 624.4,254.7 626.9,253.9 629.4,253 631.9,252.3 634.4,251.5 636.9,250.8 639.4,250.1 641.9,249.4 644.4,248.8 646.9,248.1 649.4,247.6 651.9,247 654.4,246.3 656.9,245.6 659.4,245 661.9,244.5 663.3,244.3" fill="none" stroke="#000" stroke-width="0.5" stroke-linejoin="round" stroke-linecap="round"/>
<polyline points="534.4,338 536.9,333 539.4,326.8 541.9,322.2 544.4,317.9 546.9,313.7 549.4,309.8 551.9,305.9 554.4,302.1 556.9,298.6 559.4,295.2 561.9,292 564.4,289.2 566.9,286.7 569.4,284.5 571.9,282.3 574.4,280.6 576.9,278.8 579.4,276.8 581.9,275.2 584.4,273.7 586.9,272.2 589.4,270.6 591.9,269.1 594.4,267.6 596.9,266.3 599.4,265.1 601.9,263.9 604.4,262.8 606.9,261.7 609.4,260.7 611.9,259.6 614.4,258.6 616.9,257.7 619.4,256.8 621.9,255.9 624.4,255 626.9,254.2 629.4,253.4 631.9,252.6 634.4,251.8 636.9,251.1 639.4,250.4 641.9,249.7 644.4,249 646.9,248.4 649.4,247.8 651.9,247.2 654.4,246.6 656.9,245.8 659.4,245.2 661.9,244.6 663.3,244.4" fill="none" stroke="#000" stroke-width="0.5" stroke-linejoin="round" stroke-linecap="round"/>
<polyline points="534.4,338 536.9,333.1 539.4,326.9 541.9,322.2 544.4,318 546.9,313.8 549.4,310 551.9,306 554.4,302.3 556.9,298.7 559.4,295.4 561.9,292.2 564.4,289.4 566.9,286.9 569.4,284.7 571.9,282.5 574.4,280.8 576.9,279 579.4,277 581.9,275.4 584.4,273.9 586.9,272.3 589.4,270.8 591.9,269.3 594.4,267.8 596.9,266.5 599.4,265.3 601.9,264.1 604.4,263 606.9,261.9 609.4,260.9 611.9,259.8 614.4,258.8 616.9,257.9 619.4,257 621.9,256.1 624.4,255.2 626.9,254.4 629.4,253.6 631.9,252.8 634.4,252 636.9,251.3 639.4,250.6 641.9,249.9 644.4,249.2 646.9,248.6 649.4,248 651.9,247.4 654.4,246.7 656.9,246 659.4,245.3 661.9,244.7 663.3,244.5" fill="none" stroke="#000" stroke-width="0.5" stroke-linejoin="round" stroke-linecap="round"/>
<polyline points="534.4,338 536.9,333.1 539.4,326.9 541.9,322.3 544.4,318.1 546.9,313.9 549.4,310.1 551.9,306.2 554.4,302.4 556.9,298.9 559.4,295.5 561.9,292.3 564.4,289.5 566.9,287 569.4,284.9 571.9,282.7 574.4,281 576.9,279.2 579.4,277.2 581.9,275.6 584.4,274.1 586.9,272.6 589.4,271 591.9,269.5 594.4,268 596.9,266.7 599.4,265.5 601.9,264.4 604.4,263.2 606.9,262.1 609.4,261.1 611.9,260.1 614.4,259.1 616.9,258.1 619.4,257.2 621.9,256.3 624.4,255.4 626.9,254.6 629.4,253.8 631.9,253 634.4,252.2 636.9,251.5 639.4,250.8 641.9,250 644.4,249.4 646.9,248.7 649.4,248.1 651.9,247.5 654.4,246.8 656.9,246.1 659.4,245.4 661.9,244.8 663.3,244.6" fill="none" stroke="#000" stroke-width="0.5" stroke-linejoin="round" stroke-linecap="round"/>
<polyline points="534.4,338 536.9,333.1 539.4,327 541.9,322.4 544.4,318.2 546.9,314 549.4,310.2 551.9,306.3 554.4,302.6 556.9,299 559.4,295.7 561.9,292.5 564.4,289.7 566.9,287.2 569.4,285.1 571.9,282.8 574.4,281.2 576.9,279.4 579.4,277.3 581.9,275.7 584.4,274.3 586.9,272.7 589.4,271.2 591.9,269.6 594.4,268.2 596.9,266.9 599.4,265.7 601.9,264.5 604.4,263.4 606.9,262.3 609.4,261.3 611.9,260.2 614.4,259.2 616.9,258.3 619.4,257.3 621.9,256.4 624.4,255.6 626.9,254.7 629.4,253.9 631.9,253.1 634.4,252.3 636.9,251.6 639.4,250.9 641.9,250.2 644.4,249.5 646.9,248.9 649.4,248.2 651.9,247.6 654.4,246.9 656.9,246.2 659.4,245.5 661.9,244.9 663.3,244.7" fill="none" stroke="#000" stroke-width="0.5" stroke-linejoin="round" stroke-linecap="round"/>
<polyline points="534.4,338 536.9,333.1 539.4,327.1 541.9,322.5 544.4,318.3 546.9,314.1 549.4,310.4 551.9,306.5 554.4,302.7 556.9,299.2 559.4,295.9 561.9,292.7 564.4,289.9 566.9,287.4 569.4,285.2 571.9,283 574.4,281.3 576.9,279.5 579.4,277.4 581.9,275.8 584.4,274.4 586.9,272.8 589.4,271.2 591.9,269.7 594.4,268.2 596.9,266.9 599.4,265.7 601.9,264.5 604.4,263.4 606.9,262.3 609.4,261.2 611.9,260.2 614.4,259.2 616.9,258.2 619.4,257.3 621.9,256.4 624.4,255.5 626.9,254.6 629.4,253.8 631.9,253 634.4,252.3 636.9,251.5 639.4,250.9 641.9,250.1 644.4,249.5 646.9,248.9 649.4,248.3 651.9,247.7 654.4,247 656.9,246.3 659.4,245.6 661.9,245.1 663.3,244.9" fill="none" stroke="#000" stroke-width="0.5" stroke-linejoin="round" stroke-linecap="round"/>
<polyline points="534.4,338 536.9,333.2 539.4,327.1 541.9,322.5 544.4,318.4 546.9,314.3 549.4,310.5 551.9,306.6 554.4,302.9 556.9,299.4 559.4,296 561.9,292.8 564.4,290 566.9,287.5 569.4,285.4 571.9,283.1 574.4,281.5 576.9,279.7 579.4,277.6 581.9,276 584.4,274.5 586.9,273 589.4,271.4 591.9,269.8 594.4,268.4 596.9,267.1 599.4,265.9 601.9,264.7 604.4,263.5 606.9,262.4 609.4,261.4 611.9,260.3 614.4,259.3 616.9,258.4 619.4,257.4 621.9,256.5 624.4,255.6 626.9,254.8 629.4,254 631.9,253.2 634.4,252.4 636.9,251.7 639.4,251 641.9,250.3 644.4,249.6 646.9,249 649.4,248.4 651.9,247.8 654.4,247.1 656.9,246.4 659.4,245.7 661.9,245.2 663.3,245" fill="none" stroke="#000" stroke-width="0.5" stroke-linejoin="round" stroke-linecap="round"/>
<polyline points="534.4,338 536.9,333.2 539.4,327.2 541.9,322.6 544.4,318.5 546.9,314.4 549.4,310.7 551.9,306.8 554.4,303.1 556.9,299.6 559.4,296.2 561.9,293.1 564.4,290.3 566.9,287.8 569.4,285.6 571.9,283.3 574.4,281.7 576.9,279.8 579.4,277.8 581.9,276.2 584.4,274.7 586.9,273.1 589.4,271.5 591.9,269.9 594.4,268.5 596.9,267.2 599.4,265.9 601.9,264.8 604.4,263.6 606.9,262.5 609.4,261.4 611.9,260.4 614.4,259.4 616.9,258.4 619.4,257.5 621.9,256.5 624.4,255.7 626.9,254.8 629.4,254 631.9,253.2 634.4,252.4 636.9,251.7 639.4,251 641.9,250.3 644.4,249.7 646.9,249.1 649.4,248.5 651.9,247.9 654.4,247.2 656.9,246.5 659.4,245.9 661.9,245.3 663.3,245.1" fill="none" stroke="#000" stroke-width="0.5" stroke-linejoin="round" stroke-linecap="round"/>
<polyline points="534.4,338 536.9,333.2 539.4,327.3 541.9,322.7 544.4,318.6 546.9,314.6 549.4,310.9 551.9,307 554.4,303.3 556.9,299.8 559.4,296.5 561.9,293.3 564.4,290.5 566.9,288 569.4,285.9 571.9,283.6 574.4,282 576.9,280.1 579.4,278.1 581.9,276.4 584.4,274.9 586.9,273.4 589.4,271.8 591.9,270.2 594.4,268.7 596.9,267.4 599.4,266.2 601.9,265 604.4,263.8 606.9,262.7 609.4,261.7 611.9,260.6 614.4,259.6 616.9,258.6 619.4,257.6 621.9,256.7 624.4,255.8 626.9,255 629.4,254.2 631.9,253.4 634.4,252.6 636.9,251.9 639.4,251.2 641.9,250.5 644.4,249.8 646.9,249.2 649.4,248.7 651.9,248.1 654.4,247.4 656.9,246.7 659.4,246 661.9,245.5 663.3,245.3" fill="none" stroke="#000" stroke-width="0.5" stroke-linejoin="round" stroke-linecap="round"/>
<polyline points="534.4,338 536.9,333.3 539.4,327.3 541.9,322.8 544.4,318.7 546.9,314.7 549.4,311 551.9,307.2 554.4,303.5 556.9,300 559.4,296.7 561.9,293.5 564.4,290.8 566.9,288.3 569.4,286.1 571.9,283.9 574.4,282.2 576.9,280.4 579.4,278.3 581.9,276.7 584.4,275.2 586.9,273.6 589.4,272 591.9,270.5 594.4,269 596.9,267.7 599.4,266.5 601.9,265.3 604.4,264.2 606.9,263.1 609.4,262 611.9,260.9 614.4,259.9 616.9,258.9 619.4,257.9 621.9,257 624.4,256.1 626.9,255.3 629.4,254.4 631.9,253.6 634.4,252.9 636.9,252.1 639.4,251.5 641.9,250.7 644.4,250.1 646.9,249.5 649.4,248.9 651.9,248.3 654.4,247.6 656.9,246.9 659.4,246.2 661.9,245.6 663.3,245.4" fill="none" stroke="#000" stroke-width="0.5" stroke-linejoin="round" stroke-linecap="round"/>
<polyline points="534.4,338 536.9,333.3 539.4,327.4 541.9,322.9 544.4,318.8 546.9,314.9 549.4,311.2 551.9,307.4 554.4,303.7 556.9,300.3 559.4,296.9 561.9,293.8 564.4,291 566.9,288.5 569.4,286.4 571.9,284.1 574.4,282.5 576.9,280.7 579.4,278.6 581.9,277 584.4,275.5 586.9,274 589.4,272.4 591.9,270.8 594.4,269.4 596.9,268 599.4,266.8 601.9,265.6 604.4,264.5 606.9,263.4 609.4,262.3 611.9,261.3 614.4,260.2 616.9,259.2 619.4,258.3 621.9,257.3 624.4,256.4 626.9,255.6 629.4,254.7 631.9,253.9 634.4,253.1 636.9,252.4 639.4,251.7 641.9,251 644.4,250.3 646.9,249.7 649.4,249.1 651.9,248.5 654.4,247.8 656.9,247 659.4,246.3 661.9,245.8 663.3,245.6" fill="none" stroke="#000" stroke-width="0.5" stroke-linejoin="round" stroke-linecap="round"/>
<polyline points="534.4,338 536.9,333.3 539.4,327.4 541.9,323 544.4,318.9 546.9,315 549.4,311.4 551.9,307.6 554.4,303.9 556.9,300.5 559.4,297.2 561.9,294 564.4,291.3 566.9,288.8 569.4,286.7 571.9,284.4 574.4,282.8 576.9,281 579.4,278.9 581.9,277.3 584.4,275.8 586.9,274.3 589.4,272.7 591.9,271.1 594.4,269.7 596.9,268.4 599.4,267.2 601.9,266 604.4,264.9 606.9,263.8 609.4,262.7 611.9,261.6 614.4,260.6 616.9,259.6 619.4,258.6 621.9,257.7 624.4,256.8 626.9,255.9 629.4,255.1 631.9,254.2 634.4,253.5 636.9,252.7 639.4,252 641.9,251.3 644.4,250.6 646.9,250 649.4,249.3 651.9,248.7 654.4,248 656.9,247.2 659.4,246.5 661.9,245.9 663.3,245.7" fill="none" stroke="#000" stroke-width="0.5" stroke-linejoin="round" stroke-linecap="round"/>
<polyline points="534.4,338 536.9,333.3 539.4,327.5 541.9,323 544.4,319 546.9,315 549.4,311.4 551.9,307.6 554.4,304 556.9,300.5 559.4,297.2 561.9,294.1 564.4,291.3 566.9,288.8 569.4,286.7 571.9,284.4 574.4,282.8 576.9,281 579.4,278.9 581.9,277.3 584.4,275.8 586.9,274.2 589.4,272.6 591.9,271.1 594.4,269.6 596.9,268.3 599.4,267.1 601.9,265.9 604.4,264.7 606.9,263.6 609.4,262.6 611.9,261.5 614.4,260.5 616.9,259.4 619.4,258.5 621.9,257.5 624.4,256.6 626.9,255.8 629.4,254.9 631.9,254.1 634.4,253.3 636.9,252.6 639.4,251.9 641.9,251.2 644.4,250.5 646.9,249.9 649.4,249.3 651.9,248.7 654.4,248 656.9,247.2 659.4,246.5 661.9,246 663.3,245.7" fill="none" stroke="#000" stroke-width="0.5" stroke-linejoin="round" stroke-linecap="round"/>
<polyline points="534.4,338 536.9,333.4 539.4,327.5 541.9,323.1 544.4,319.1 546.9,315.2 549.4,311.6 551.9,307.9 554.4,304.2 556.9,300.8 559.4,297.5 561.9,294.4 564.4,291.6 566.9,289.1 569.4,287 571.9,284.8 574.4,283.1 576.9,281.3 579.4,279.3 581.9,277.7 584.4,276.2 586.9,274.6 589.4,273 591.9,271.4 594.4,270 596.9,268.7 599.4,267.4 601.9,266.3 604.4,265.1 606.9,264 609.4,263 611.9,261.9 614.4,260.8 616.9,259.8 619.4,258.9 621.9,257.9 624.4,257 626.9,256.1 629.4,255.3 631.9,254.4 634.4,253.7 636.9,252.9 639.4,252.2 641.9,251.5 644.4,250.8 646.9,250.2 649.4,249.6 651.9,248.9 654.4,248.2 656.9,247.4 659.4,246.7 661.9,246.1 663.3,245.9" fill="none" stroke="#000" stroke-width="0.5" stroke-linejoin="round" stroke-linecap="round"/>
<polyline points="534.4,338 536.9,333.4 539.4,327.6 541.9,323.2 544.4,319.2 546.9,315.3 549.4,311.8 551.9,308 554.4,304.4 556.9,300.9 559.4,297.7 561.9,294.5 564.4,291.8 566.9,289.3 569.4,287.2 571.9,284.9 574.4,283.3 576.9,281.5 579.4,279.4 581.9,277.8 584.4,276.3 586.9,274.7 589.4,273.1 591.9,271.6 594.4,270.1 596.9,268.8 599.4,267.6 601.9,266.4 604.4,265.2 606.9,264.1 609.4,263.1 611.9,262 614.4,260.9 616.9,259.9 619.4,258.9 621.9,258 624.4,257.1 626.9,256.2 629.4,255.3 631.9,254.5 634.4,253.7 636.9,253 639.4,252.3 641.9,251.6 644.4,250.9 646.9,250.3 649.4,249.7 651.9,249 654.4,248.3 656.9,247.5 659.4,246.8 661.9,246.2 663.3,246" fill="none" stroke="#000" stroke-width="0.5" stroke-linejoin="round" stroke-linecap="round"/>
<polyline points="534.4,338 536.9,333.4 539.4,327.7 541.9,323.3 544.4,319.3 546.9,315.5 549.4,312 551.9,308.2 554.4,304.6 556.9,301.2 559.4,297.9 561.9,294.7 564.4,292 566.9,289.5 569.4,287.4 571.9,285.1 574.4,283.5 576.9,281.6 579.4,279.6 581.9,278 584.4,276.5 586.9,274.9 589.4,273.3 591.9,271.7 594.4,270.2 596.9,268.9 599.4,267.6 601.9,266.5 604.4,265.3 606.9,264.2 609.4,263.1 611.9,262 614.4,261 616.9,260 619.4,259 621.9,258 624.4,257.1 626.9,256.2 629.4,255.4 631.9,254.5 634.4,253.8 636.9,253 639.4,252.3 641.9,251.6 644.4,250.9 646.9,250.3 649.4,249.8 651.9,249.2 654.4,248.4 656.9,247.7 659.4,247 661.9,246.4 663.3,246.2" fill="none" stroke="#000" stroke-width="0.5" stroke-linejoin="round" stroke-linecap="round"/>
<polyline points="534.4,338 536.9,334.1 539.4,329 541.9,325 544.4,321.2 546.9,317.4 549.4,313.8 551.9,310.3 554.4,306.8 556.9,303.5 559.4,300.4 561.9,297.5 564.4,294.9 566.9,292.4 569.4,290.3 571.9,288 574.4,286.4 576.9,284.6 579.4,282.6 581.9,280.9 584.4,279.3 586.9,277.7 589.4,276 591.9,274.3 594.4,272.8 596.9,271.4 599.4,270.2 601.9,269 604.4,267.9 606.9,266.8 609.4,265.7 611.9,264.6 614.4,263.6 616.9,262.5 619.4,261.5 621.9,260.5 624.4,259.5 626.9,258.6 629.4,257.8 631.9,257 634.4,256.2 636.9,255.5 639.4,254.8 641.9,254 644.4,253.2 646.9,252.4 649.4,251.7 651.9,251 654.4,250.2 656.9,249.4 659.4,248.7 661.9,248.1 663.3,247.8" fill="none" stroke="#000" stroke-width="0.45" stroke-linejoin="round" stroke-linecap="round"/>
<polyline points="534.4,338 536.9,333.9 539.4,328.6 541.9,324.5 544.4,320.6 546.9,316.8 549.4,313.3 551.9,309.6 554.4,306.1 556.9,302.8 559.4,299.6 561.9,296.7 564.4,294 566.9,291.5 569.4,289.4 571.9,287.1 574.4,285.5 576.9,283.7 579.4,281.6 581.9,280 584.4,278.5 586.9,276.8 589.4,275.1 591.9,273.5 594.4,272 596.9,270.7 599.4,269.4 601.9,268.3 604.4,267.1 606.9,266 609.4,265 611.9,263.9 614.4,262.8 616.9,261.7 619.4,260.7 621.9,259.7 624.4,258.8 626.9,257.9 629.4,257.1 631.9,256.3 634.4,255.5 636.9,254.8 639.4,254.1 641.9,253.3 644.4,252.5 646.9,251.8 649.4,251.1 651.9,250.4 654.4,249.6 656.9,248.9 659.4,248.1 661.9,247.6 663.3,247.3" fill="none" stroke="#000" stroke-width="0.45" stroke-linejoin="round" stroke-linecap="round"/>
<polyline points="534.4,338 536.9,333.6 539.4,328 541.9,323.7 544.4,319.8 546.9,316 549.4,312.5 551.9,308.8 554.4,305.2 556.9,301.8 559.4,298.5 561.9,295.5 564.4,292.7 566.9,290.3 569.4,288.1 571.9,285.9 574.4,284.2 576.9,282.4 579.4,280.4 581.9,278.7 584.4,277.2 586.9,275.6 589.4,274 591.9,272.4 594.4,270.9 596.9,269.5 599.4,268.3 601.9,267.1 604.4,266 606.9,264.9 609.4,263.8 611.9,262.7 614.4,261.6 616.9,260.6 619.4,259.6 621.9,258.6 624.4,257.7 626.9,256.8 629.4,256 631.9,255.2 634.4,254.4 636.9,253.7 639.4,253 641.9,252.2 644.4,251.5 646.9,250.9 649.4,250.2 651.9,249.6 654.4,248.9 656.9,248.1 659.4,247.4 661.9,246.8 663.3,246.6" fill="none" stroke="#000" stroke-width="0.45" stroke-linejoin="round" stroke-linecap="round"/>
<line x1="421.9" y1="69.5" x2="421.9" y2="168.5" stroke="#f00" stroke-width="1.8" stroke-dasharray="2,1"/>
<line x1="421.9" y1="239" x2="421.9" y2="338.5" stroke="#f00" stroke-width="1.8" stroke-dasharray="2,1"/>
<polyline points="198.4,152.7 200.3,155.1 202.6,158.4 205.5,161.3 207.8,157 210.2,153.2 213.1,151.8 215.4,153.7 217.3,155.4 219.7,153.7 222.5,152 225.4,150.9 228.2,150.4 231.1,149.9 233.4,148.5 236.2,144.1 238.3,140.9 241,139.3 243.8,137.6 245.9,133.8 247.6,130.1 249.2,127.3 251.9,125.7 254.6,125.2 257.8,125.2 261.1,125.5 264.4,125.2 266.5,125.4 268.1,124.6 270,119.5 272.2,116.4 274.9,119.1 277.6,116.4 280.3,113.2 283,108.8 285.2,107.2 287.9,107.8 290.6,106.7 292.8,107.2 295.5,109.9 297.6,108.3 301.3,105.9 304.5,103.7 307.8,100 310.5,100.5 313.2,102.1 315.4,103.2 317,100 318.6,94 320.8,90.2 323.5,86.9 325.7,85.3 327.3,84.8" fill="none" stroke="#ff00ff" stroke-width="2.7" stroke-linejoin="round" stroke-linecap="round"/>
<polyline points="365.4,139.3 368.8,139 372.2,138.6 374.9,137 377.3,135.3 379.6,134.9 382.3,135.3 385,135.3 387.8,133.6 390.5,132.5 393.2,131.9 395.9,129.5 398.6,128.1 402,126.8 404,125.2 408.9,122.1 413.8,119.4 418.7,116 423.5,113 428.4,109.9 433.3,106.5 438.2,104 440,103.4 444.1,102 448.1,102 451.5,95.3 454.9,96.6 459,92.5 463.1,88.5 467.1,84.4 471.2,80.3 475.3,78.3 479.3,77.6 483.4,80.3 486.8,73.6 490.2,70.2 493.6,68.8 494.5,69.3" fill="none" stroke="#dc6e0e" stroke-width="2.7" stroke-linejoin="round" stroke-linecap="round"/>
<polyline points="534.7,167.6 535.7,164 536.9,159.1 538.7,156.7 541.1,154.2 543.6,150.6 545.4,146.9 547.2,142.1 549.1,139.6 550.9,139 552.7,140.2 554.5,138.4 556.4,134.7 558.2,132.3 560.5,130.4 563.5,128.5 567.2,126.7 570.2,124.3 573.3,122.4 575.7,120 577,118.8 578.8,119.4 580.6,116.3 582.4,112.1 584.3,110.9 586.7,110.2 589.1,106.6 591,100 593,97 595,95 597.3,92.9 600.4,90.5 602.8,88 605.2,85 607.1,89.3 609.5,82.6 612,83.8 614.4,85 617.4,86.8 620.5,86.2 622.9,86.2 626,88 627.7,89.3 630.4,87.3 633.1,90.7 635.8,83.9 638.6,77.1 642,75.1 645.3,71 648.7,66.3 651.4,64.9 654.2,69 656.9,70.3 660.3,69 663,67 664.2,64.9" fill="none" stroke="#dc6e0e" stroke-width="2.7" stroke-linejoin="round" stroke-linecap="round"/>
<polyline points="198.8,216.6 200.7,218.5 202.6,221.4 204.5,225.2 206,227.5 207.8,225.6 209.7,224.2 212.1,223.3 214.5,223.3 216.4,224.2 218.7,226.1 221.1,229 223,230.4 224.9,228.5 226.3,228.5 228.2,230.9 230.1,232.3 232.5,233.2 234.9,234.2 237,235.7 240.1,236.9 243.1,237.5 246.2,236.9 248.6,235.1 251.1,235.7 253.5,238.1 256,241.8 258.4,245.4 260.8,248.5 263.9,250.9 266.3,253.4 269.4,255.2 272.7,255.6 276.1,259 279.5,257.6 283.6,259 287.6,261 291,263.7 293.7,267.8 296.4,272.5 299.8,275 302.7,277.8 305.4,279.2 308.1,275.1 310.9,277.1 313.6,279.2 316.3,280.1 319,279.6 321.7,279.2 324.4,278.8 327.6,279.2" fill="none" stroke="#ff0000" stroke-width="2.7" stroke-linejoin="round" stroke-linecap="round"/>
<polyline points="366.4,300.9 368.3,302 370,303.1 372.1,301.4 374.8,299.8 378.1,299.3 381.3,298.4 384.6,297.6 387.3,296.6 389.5,294.4 391.6,293.3 394.4,293.3 397.1,292.2 399.8,291.1 402,287 404.7,284.3 408.1,283.6 410.8,284.3 413.6,283 416.3,278.9 419,277.5 421.7,275.5 425.1,272.8 428.5,269.4 432.5,270.1 435.9,266.7 438,263.5 440.7,261.6 443.4,260.3 446.1,258.2 448.8,256.9 451.6,256.2 455.6,254.8 459.7,253.5 463.8,252.1 467.8,250.8 471.9,250.1 475.3,249.4 478.1,249 482.2,248.6 485.6,246.8 488.9,244.1 492.3,242.1 495.2,240" fill="none" stroke="#008000" stroke-width="2.7" stroke-linejoin="round" stroke-linecap="round"/>
<polyline points="534.4,337.5 536.1,333.4 538.1,329.4 540.1,325.3 542.9,320.5 545.6,315.8 548.3,311.7 551,306.3 553,303.6 555.7,302.9 558.5,299.5 560.3,294.5 562,290 563.7,284.3 566.1,281.8 568.5,280.6 571,283 572.8,285.5 574.6,281.8 577.1,276.3 578.9,274.5 580.7,277.6 583.2,270.9 585.6,268.4 588.7,266 590.5,263.5 592.9,262.3 596,261.7 598,259 600.4,256.6 602.9,252.3 604.7,249.9 606.5,250.5 609,247.4 611.4,245.9 613.9,247.4 616.9,251.1 620,254.1 622.4,255.4 624.8,252.9 627.9,250.5 630.4,249.5 632.4,248 634.9,244.9 636.7,246.1 638.5,248 641,241.9 642.8,240.6 644.6,237.6 646.5,233.3 648.3,227.2 649.5,230.9 651.4,237 653.8,235.8 656.3,234.5 659.3,234.8 663.2,234.3" fill="none" stroke="#008000" stroke-width="2.7" stroke-linejoin="round" stroke-linecap="round"/>
<line x1="209.5" y1="168.5" x2="209.5" y2="165" stroke="#666" stroke-width="0.8"/>
<line x1="209.5" y1="39.5" x2="209.5" y2="43" stroke="#666" stroke-width="0.8"/>
<line x1="229.17" y1="168.5" x2="229.17" y2="166.5" stroke="#666" stroke-width="0.8"/>
<line x1="229.17" y1="39.5" x2="229.17" y2="41.5" stroke="#666" stroke-width="0.8"/>
<line x1="248.84" y1="168.5" x2="248.84" y2="165" stroke="#666" stroke-width="0.8"/>
<line x1="248.84" y1="39.5" x2="248.84" y2="43" stroke="#666" stroke-width="0.8"/>
<line x1="268.51" y1="168.5" x2="268.51" y2="166.5" stroke="#666" stroke-width="0.8"/>
<line x1="268.51" y1="39.5" x2="268.51" y2="41.5" stroke="#666" stroke-width="0.8"/>
<line x1="288.18" y1="168.5" x2="288.18" y2="165" stroke="#666" stroke-width="0.8"/>
<line x1="288.18" y1="39.5" x2="288.18" y2="43" stroke="#666" stroke-width="0.8"/>
<line x1="307.85" y1="168.5" x2="307.85" y2="166.5" stroke="#666" stroke-width="0.8"/>
<line x1="307.85" y1="39.5" x2="307.85" y2="41.5" stroke="#666" stroke-width="0.8"/>
<line x1="327.52" y1="168.5" x2="327.52" y2="165" stroke="#666" stroke-width="0.8"/>
<line x1="327.52" y1="39.5" x2="327.52" y2="43" stroke="#666" stroke-width="0.8"/>
<line x1="198.5" y1="147" x2="200.5" y2="147" stroke="#666" stroke-width="0.8"/>
<line x1="327.5" y1="147" x2="325.5" y2="147" stroke="#666" stroke-width="0.8"/>
<line x1="198.5" y1="125.5" x2="202" y2="125.5" stroke="#666" stroke-width="0.8"/>
<line x1="327.5" y1="125.5" x2="324" y2="125.5" stroke="#666" stroke-width="0.8"/>
<line x1="198.5" y1="104" x2="200.5" y2="104" stroke="#666" stroke-width="0.8"/>
<line x1="327.5" y1="104" x2="325.5" y2="104" stroke="#666" stroke-width="0.8"/>
<line x1="198.5" y1="82.5" x2="202" y2="82.5" stroke="#666" stroke-width="0.8"/>
<line x1="327.5" y1="82.5" x2="324" y2="82.5" stroke="#666" stroke-width="0.8"/>
<line x1="198.5" y1="61" x2="200.5" y2="61" stroke="#666" stroke-width="0.8"/>
<line x1="327.5" y1="61" x2="325.5" y2="61" stroke="#666" stroke-width="0.8"/>
<rect x="198.5" y="39.5" width="129" height="129" fill="none" stroke="#a2a2a2" stroke-width="1"/>
<line x1="377.6" y1="168.5" x2="377.6" y2="165" stroke="#666" stroke-width="0.8"/>
<line x1="377.6" y1="39.5" x2="377.6" y2="43" stroke="#666" stroke-width="0.8"/>
<line x1="397.2" y1="168.5" x2="397.2" y2="166.5" stroke="#666" stroke-width="0.8"/>
<line x1="397.2" y1="39.5" x2="397.2" y2="41.5" stroke="#666" stroke-width="0.8"/>
<line x1="416.8" y1="168.5" x2="416.8" y2="165" stroke="#666" stroke-width="0.8"/>
<line x1="416.8" y1="39.5" x2="416.8" y2="43" stroke="#666" stroke-width="0.8"/>
<line x1="436.4" y1="168.5" x2="436.4" y2="166.5" stroke="#666" stroke-width="0.8"/>
<line x1="436.4" y1="39.5" x2="436.4" y2="41.5" stroke="#666" stroke-width="0.8"/>
<line x1="456" y1="168.5" x2="456" y2="165" stroke="#666" stroke-width="0.8"/>
<line x1="456" y1="39.5" x2="456" y2="43" stroke="#666" stroke-width="0.8"/>
<line x1="475.6" y1="168.5" x2="475.6" y2="166.5" stroke="#666" stroke-width="0.8"/>
<line x1="475.6" y1="39.5" x2="475.6" y2="41.5" stroke="#666" stroke-width="0.8"/>
<line x1="495.2" y1="168.5" x2="495.2" y2="165" stroke="#666" stroke-width="0.8"/>
<line x1="495.2" y1="39.5" x2="495.2" y2="43" stroke="#666" stroke-width="0.8"/>
<line x1="365.5" y1="147" x2="367.5" y2="147" stroke="#666" stroke-width="0.8"/>
<line x1="494.5" y1="147" x2="492.5" y2="147" stroke="#666" stroke-width="0.8"/>
<line x1="365.5" y1="125.5" x2="369" y2="125.5" stroke="#666" stroke-width="0.8"/>
<line x1="494.5" y1="125.5" x2="491" y2="125.5" stroke="#666" stroke-width="0.8"/>
<line x1="365.5" y1="104" x2="367.5" y2="104" stroke="#666" stroke-width="0.8"/>
<line x1="494.5" y1="104" x2="492.5" y2="104" stroke="#666" stroke-width="0.8"/>
<line x1="365.5" y1="82.5" x2="369" y2="82.5" stroke="#666" stroke-width="0.8"/>
<line x1="494.5" y1="82.5" x2="491" y2="82.5" stroke="#666" stroke-width="0.8"/>
<line x1="365.5" y1="61" x2="367.5" y2="61" stroke="#666" stroke-width="0.8"/>
<line x1="494.5" y1="61" x2="492.5" y2="61" stroke="#666" stroke-width="0.8"/>
<rect x="365.5" y="39.5" width="129" height="129" fill="none" stroke="#a2a2a2" stroke-width="1"/>
<line x1="567.5" y1="168.5" x2="567.5" y2="166.5" stroke="#666" stroke-width="0.8"/>
<line x1="567.5" y1="39.5" x2="567.5" y2="41.5" stroke="#666" stroke-width="0.8"/>
<line x1="599.4" y1="168.5" x2="599.4" y2="165" stroke="#666" stroke-width="0.8"/>
<line x1="599.4" y1="39.5" x2="599.4" y2="43" stroke="#666" stroke-width="0.8"/>
<line x1="632.5" y1="168.5" x2="632.5" y2="166.5" stroke="#666" stroke-width="0.8"/>
<line x1="632.5" y1="39.5" x2="632.5" y2="41.5" stroke="#666" stroke-width="0.8"/>
<line x1="534.6" y1="147" x2="536.6" y2="147" stroke="#666" stroke-width="0.8"/>
<line x1="664.2" y1="147" x2="662.2" y2="147" stroke="#666" stroke-width="0.8"/>
<line x1="534.6" y1="125.5" x2="538.1" y2="125.5" stroke="#666" stroke-width="0.8"/>
<line x1="664.2" y1="125.5" x2="660.7" y2="125.5" stroke="#666" stroke-width="0.8"/>
<line x1="534.6" y1="104" x2="536.6" y2="104" stroke="#666" stroke-width="0.8"/>
<line x1="664.2" y1="104" x2="662.2" y2="104" stroke="#666" stroke-width="0.8"/>
<line x1="534.6" y1="82.5" x2="538.1" y2="82.5" stroke="#666" stroke-width="0.8"/>
<line x1="664.2" y1="82.5" x2="660.7" y2="82.5" stroke="#666" stroke-width="0.8"/>
<line x1="534.6" y1="61" x2="536.6" y2="61" stroke="#666" stroke-width="0.8"/>
<line x1="664.2" y1="61" x2="662.2" y2="61" stroke="#666" stroke-width="0.8"/>
<rect x="534.6" y="39.5" width="129.6" height="129" fill="none" stroke="#a2a2a2" stroke-width="1"/>
<line x1="210" y1="338.5" x2="210" y2="335" stroke="#666" stroke-width="0.8"/>
<line x1="210" y1="209.5" x2="210" y2="213" stroke="#666" stroke-width="0.8"/>
<line x1="229.6" y1="338.5" x2="229.6" y2="336.5" stroke="#666" stroke-width="0.8"/>
<line x1="229.6" y1="209.5" x2="229.6" y2="211.5" stroke="#666" stroke-width="0.8"/>
<line x1="249.2" y1="338.5" x2="249.2" y2="335" stroke="#666" stroke-width="0.8"/>
<line x1="249.2" y1="209.5" x2="249.2" y2="213" stroke="#666" stroke-width="0.8"/>
<line x1="268.8" y1="338.5" x2="268.8" y2="336.5" stroke="#666" stroke-width="0.8"/>
<line x1="268.8" y1="209.5" x2="268.8" y2="211.5" stroke="#666" stroke-width="0.8"/>
<line x1="288.4" y1="338.5" x2="288.4" y2="335" stroke="#666" stroke-width="0.8"/>
<line x1="288.4" y1="209.5" x2="288.4" y2="213" stroke="#666" stroke-width="0.8"/>
<line x1="308" y1="338.5" x2="308" y2="336.5" stroke="#666" stroke-width="0.8"/>
<line x1="308" y1="209.5" x2="308" y2="211.5" stroke="#666" stroke-width="0.8"/>
<line x1="327.6" y1="338.5" x2="327.6" y2="335" stroke="#666" stroke-width="0.8"/>
<line x1="327.6" y1="209.5" x2="327.6" y2="213" stroke="#666" stroke-width="0.8"/>
<line x1="198.5" y1="317" x2="200.5" y2="317" stroke="#666" stroke-width="0.8"/>
<line x1="327.5" y1="317" x2="325.5" y2="317" stroke="#666" stroke-width="0.8"/>
<line x1="198.5" y1="295.5" x2="202" y2="295.5" stroke="#666" stroke-width="0.8"/>
<line x1="327.5" y1="295.5" x2="324" y2="295.5" stroke="#666" stroke-width="0.8"/>
<line x1="198.5" y1="274" x2="200.5" y2="274" stroke="#666" stroke-width="0.8"/>
<line x1="327.5" y1="274" x2="325.5" y2="274" stroke="#666" stroke-width="0.8"/>
<line x1="198.5" y1="252.5" x2="202" y2="252.5" stroke="#666" stroke-width="0.8"/>
<line x1="327.5" y1="252.5" x2="324" y2="252.5" stroke="#666" stroke-width="0.8"/>
<line x1="198.5" y1="231" x2="200.5" y2="231" stroke="#666" stroke-width="0.8"/>
<line x1="327.5" y1="231" x2="325.5" y2="231" stroke="#666" stroke-width="0.8"/>
<rect x="198.5" y="209.5" width="129" height="129" fill="none" stroke="#a2a2a2" stroke-width="1"/>
<line x1="378.4" y1="338.5" x2="378.4" y2="335" stroke="#666" stroke-width="0.8"/>
<line x1="378.4" y1="209.5" x2="378.4" y2="213" stroke="#666" stroke-width="0.8"/>
<line x1="397.95" y1="338.5" x2="397.95" y2="336.5" stroke="#666" stroke-width="0.8"/>
<line x1="397.95" y1="209.5" x2="397.95" y2="211.5" stroke="#666" stroke-width="0.8"/>
<line x1="417.5" y1="338.5" x2="417.5" y2="335" stroke="#666" stroke-width="0.8"/>
<line x1="417.5" y1="209.5" x2="417.5" y2="213" stroke="#666" stroke-width="0.8"/>
<line x1="437.05" y1="338.5" x2="437.05" y2="336.5" stroke="#666" stroke-width="0.8"/>
<line x1="437.05" y1="209.5" x2="437.05" y2="211.5" stroke="#666" stroke-width="0.8"/>
<line x1="456.6" y1="338.5" x2="456.6" y2="335" stroke="#666" stroke-width="0.8"/>
<line x1="456.6" y1="209.5" x2="456.6" y2="213" stroke="#666" stroke-width="0.8"/>
<line x1="476.15" y1="338.5" x2="476.15" y2="336.5" stroke="#666" stroke-width="0.8"/>
<line x1="476.15" y1="209.5" x2="476.15" y2="211.5" stroke="#666" stroke-width="0.8"/>
<line x1="495.7" y1="338.5" x2="495.7" y2="335" stroke="#666" stroke-width="0.8"/>
<line x1="495.7" y1="209.5" x2="495.7" y2="213" stroke="#666" stroke-width="0.8"/>
<line x1="366.4" y1="317" x2="368.4" y2="317" stroke="#666" stroke-width="0.8"/>
<line x1="495" y1="317" x2="493" y2="317" stroke="#666" stroke-width="0.8"/>
<line x1="366.4" y1="295.5" x2="369.9" y2="295.5" stroke="#666" stroke-width="0.8"/>
<line x1="495" y1="295.5" x2="491.5" y2="295.5" stroke="#666" stroke-width="0.8"/>
<line x1="366.4" y1="274" x2="368.4" y2="274" stroke="#666" stroke-width="0.8"/>
<line x1="495" y1="274" x2="493" y2="274" stroke="#666" stroke-width="0.8"/>
<line x1="366.4" y1="252.5" x2="369.9" y2="252.5" stroke="#666" stroke-width="0.8"/>
<line x1="495" y1="252.5" x2="491.5" y2="252.5" stroke="#666" stroke-width="0.8"/>
<line x1="366.4" y1="231" x2="368.4" y2="231" stroke="#666" stroke-width="0.8"/>
<line x1="495" y1="231" x2="493" y2="231" stroke="#666" stroke-width="0.8"/>
<rect x="366.4" y="209.5" width="128.6" height="129" fill="none" stroke="#a2a2a2" stroke-width="1"/>
<line x1="566.5" y1="338.5" x2="566.5" y2="336.5" stroke="#666" stroke-width="0.8"/>
<line x1="566.5" y1="209.8" x2="566.5" y2="211.8" stroke="#666" stroke-width="0.8"/>
<line x1="599.4" y1="338.5" x2="599.4" y2="335" stroke="#666" stroke-width="0.8"/>
<line x1="599.4" y1="209.8" x2="599.4" y2="213.3" stroke="#666" stroke-width="0.8"/>
<line x1="631.7" y1="338.5" x2="631.7" y2="336.5" stroke="#666" stroke-width="0.8"/>
<line x1="631.7" y1="209.8" x2="631.7" y2="211.8" stroke="#666" stroke-width="0.8"/>
<line x1="534.4" y1="317.05" x2="536.4" y2="317.05" stroke="#666" stroke-width="0.8"/>
<line x1="663.5" y1="317.05" x2="661.5" y2="317.05" stroke="#666" stroke-width="0.8"/>
<line x1="534.4" y1="295.6" x2="537.9" y2="295.6" stroke="#666" stroke-width="0.8"/>
<line x1="663.5" y1="295.6" x2="660" y2="295.6" stroke="#666" stroke-width="0.8"/>
<line x1="534.4" y1="274.15" x2="536.4" y2="274.15" stroke="#666" stroke-width="0.8"/>
<line x1="663.5" y1="274.15" x2="661.5" y2="274.15" stroke="#666" stroke-width="0.8"/>
<line x1="534.4" y1="252.7" x2="537.9" y2="252.7" stroke="#666" stroke-width="0.8"/>
<line x1="663.5" y1="252.7" x2="660" y2="252.7" stroke="#666" stroke-width="0.8"/>
<line x1="534.4" y1="231.25" x2="536.4" y2="231.25" stroke="#666" stroke-width="0.8"/>
<line x1="663.5" y1="231.25" x2="661.5" y2="231.25" stroke="#666" stroke-width="0.8"/>
<rect x="534.4" y="209.8" width="129.1" height="128.7" fill="none" stroke="#a2a2a2" stroke-width="1"/>
<line x1="202.9" y1="51.7" x2="216.9" y2="51.7" stroke="#ff00ff" stroke-width="2.2"/>
<line x1="202.9" y1="65.3" x2="216.9" y2="65.3" stroke="#000" stroke-width="2.3"/>
<text x="222.75" y="53.7" font-size="10" font-style="italic" textLength="34.3" lengthAdjust="spacingAndGlyphs">in vivo</text>
<text x="222.75" y="68.9" font-size="10" textLength="55.6" lengthAdjust="spacingAndGlyphs">Simulation</text>
<line x1="369.3" y1="48.5" x2="383.5" y2="48.5" stroke="#dc6e0e" stroke-width="2.2"/>
<line x1="369.3" y1="63.6" x2="383.5" y2="63.6" stroke="#000" stroke-width="2.3"/>
<text x="389.15" y="52.6" font-size="10" font-style="italic" textLength="34.3" lengthAdjust="spacingAndGlyphs">in vivo</text>
<text x="389.15" y="67.2" font-size="10" textLength="55.6" lengthAdjust="spacingAndGlyphs">Simulation</text>
<line x1="538.1" y1="49.8" x2="552.1" y2="49.8" stroke="#dc6e0e" stroke-width="2.2"/>
<line x1="538.1" y1="64.7" x2="552.1" y2="64.7" stroke="#000" stroke-width="2.3"/>
<text x="557.55" y="53.7" font-size="10" font-style="italic" textLength="34.3" lengthAdjust="spacingAndGlyphs">in vivo</text>
<text x="557.55" y="68.5" font-size="10" textLength="55.6" lengthAdjust="spacingAndGlyphs">Simulation</text>
<line x1="203.4" y1="313.4" x2="217.7" y2="313.4" stroke="#ff0000" stroke-width="2.2"/>
<line x1="203.4" y1="327.2" x2="217.7" y2="327.2" stroke="#000" stroke-width="2.3"/>
<text x="223.35" y="316" font-size="10" font-style="italic" textLength="34.3" lengthAdjust="spacingAndGlyphs">in vivo</text>
<text x="223.35" y="331.2" font-size="10" textLength="55.6" lengthAdjust="spacingAndGlyphs">Simulation</text>
<line x1="371.2" y1="218.8" x2="385.2" y2="218.8" stroke="#008000" stroke-width="2.2"/>
<line x1="371.2" y1="233.6" x2="385.2" y2="233.6" stroke="#000" stroke-width="2.3"/>
<text x="390.75" y="222.4" font-size="10" font-style="italic" textLength="34.3" lengthAdjust="spacingAndGlyphs">in vivo</text>
<text x="390.75" y="237.2" font-size="10" textLength="55.6" lengthAdjust="spacingAndGlyphs">Simulation</text>
<line x1="538.1" y1="219.8" x2="552.1" y2="219.8" stroke="#008000" stroke-width="2.2"/>
<line x1="538.1" y1="234.8" x2="552.1" y2="234.8" stroke="#000" stroke-width="2.3"/>
<text x="557.55" y="223.4" font-size="10" font-style="italic" textLength="34.3" lengthAdjust="spacingAndGlyphs">in vivo</text>
<text x="557.55" y="238.5" font-size="10" textLength="55.6" lengthAdjust="spacingAndGlyphs">Simulation</text>
<text x="197.75" y="179.7" font-size="10" textLength="23.6" lengthAdjust="spacingAndGlyphs">-300</text>
<text x="237.45" y="179.7" font-size="10" textLength="23.3" lengthAdjust="spacingAndGlyphs">-200</text>
<text x="276.35" y="179.7" font-size="10" textLength="23.5" lengthAdjust="spacingAndGlyphs">-100</text>
<text x="322.25" y="179.7" font-size="10" textLength="6" lengthAdjust="spacingAndGlyphs">0</text>
<text x="364.2" y="179.7" font-size="10" textLength="23.6" lengthAdjust="spacingAndGlyphs">-300</text>
<text x="403.55" y="179.7" font-size="10" textLength="23.3" lengthAdjust="spacingAndGlyphs">-200</text>
<text x="442.55" y="179.7" font-size="10" textLength="23.5" lengthAdjust="spacingAndGlyphs">-100</text>
<text x="489.35" y="179.7" font-size="10" textLength="6" lengthAdjust="spacingAndGlyphs">0</text>
<text x="196.3" y="349.7" font-size="10" textLength="23.6" lengthAdjust="spacingAndGlyphs">-300</text>
<text x="235.35" y="349.7" font-size="10" textLength="23.3" lengthAdjust="spacingAndGlyphs">-200</text>
<text x="274.45" y="349.7" font-size="10" textLength="23.5" lengthAdjust="spacingAndGlyphs">-100</text>
<text x="321.75" y="349.7" font-size="10" textLength="6.1" lengthAdjust="spacingAndGlyphs">0</text>
<text x="366.2" y="349.7" font-size="10" textLength="23.6" lengthAdjust="spacingAndGlyphs">-300</text>
<text x="405.65" y="349.7" font-size="10" textLength="23.3" lengthAdjust="spacingAndGlyphs">-200</text>
<text x="444.35" y="349.7" font-size="10" textLength="23.5" lengthAdjust="spacingAndGlyphs">-100</text>
<text x="489.65" y="349.7" font-size="10" textLength="6" lengthAdjust="spacingAndGlyphs">0</text>
<text x="529.25" y="179.6" font-size="10" textLength="24" lengthAdjust="spacingAndGlyphs">-170</text>
<text x="586.95" y="179.6" font-size="10" textLength="24.7" lengthAdjust="spacingAndGlyphs">-145</text>
<text x="640.45" y="179.6" font-size="10" textLength="22.8" lengthAdjust="spacingAndGlyphs">-125</text>
<text x="529.25" y="349.7" font-size="10" textLength="24" lengthAdjust="spacingAndGlyphs">-170</text>
<text x="586.95" y="349.7" font-size="10" textLength="24.7" lengthAdjust="spacingAndGlyphs">-145</text>
<text x="640.45" y="349.7" font-size="10" textLength="22.8" lengthAdjust="spacingAndGlyphs">-125</text>
<text transform="translate(193,39.8) rotate(-90)" x="0" y="0" font-size="10" text-anchor="middle" textLength="14.8" lengthAdjust="spacingAndGlyphs">1.1</text>
<text transform="translate(193,82) rotate(-90)" x="0" y="0" font-size="10" text-anchor="middle" textLength="23" lengthAdjust="spacingAndGlyphs">1.05</text>
<text transform="translate(193,125.6) rotate(-90)" x="0" y="0" font-size="10" text-anchor="middle" textLength="16" lengthAdjust="spacingAndGlyphs">1.0</text>
<text transform="translate(193,168.2) rotate(-90)" x="0" y="0" font-size="10" text-anchor="middle" textLength="23" lengthAdjust="spacingAndGlyphs">0.95</text>
<text transform="translate(361.5,39.1) rotate(-90)" x="0" y="0" font-size="10" text-anchor="middle" textLength="23" lengthAdjust="spacingAndGlyphs">0.15</text>
<text transform="translate(361.5,82.3) rotate(-90)" x="0" y="0" font-size="10" text-anchor="middle" textLength="23" lengthAdjust="spacingAndGlyphs">0.10</text>
<text transform="translate(361.5,125.4) rotate(-90)" x="0" y="0" font-size="10" text-anchor="middle" textLength="23" lengthAdjust="spacingAndGlyphs">0.05</text>
<text transform="translate(361.5,168.5) rotate(-90)" x="0" y="0" font-size="10" text-anchor="middle" textLength="6.6" lengthAdjust="spacingAndGlyphs">0</text>
<text transform="translate(530.2,41.1) rotate(-90)" x="0" y="0" font-size="10" text-anchor="middle" textLength="15.4" lengthAdjust="spacingAndGlyphs">1.5</text>
<text transform="translate(530.2,84.1) rotate(-90)" x="0" y="0" font-size="10" text-anchor="middle" textLength="15.8" lengthAdjust="spacingAndGlyphs">1.0</text>
<text transform="translate(530.2,126.5) rotate(-90)" x="0" y="0" font-size="10" text-anchor="middle" textLength="16.4" lengthAdjust="spacingAndGlyphs">0.5</text>
<text transform="translate(530.2,165) rotate(-90)" x="0" y="0" font-size="10" text-anchor="middle" textLength="6.6" lengthAdjust="spacingAndGlyphs">0</text>
<text transform="translate(193.5,210.3) rotate(-90)" x="0" y="0" font-size="10" text-anchor="middle" textLength="23" lengthAdjust="spacingAndGlyphs">0.90</text>
<text transform="translate(193.5,252) rotate(-90)" x="0" y="0" font-size="10" text-anchor="middle" textLength="23" lengthAdjust="spacingAndGlyphs">0.85</text>
<text transform="translate(193.5,294.4) rotate(-90)" x="0" y="0" font-size="10" text-anchor="middle" textLength="23" lengthAdjust="spacingAndGlyphs">0.80</text>
<text transform="translate(193.5,337) rotate(-90)" x="0" y="0" font-size="10" text-anchor="middle" textLength="23" lengthAdjust="spacingAndGlyphs">0.75</text>
<text transform="translate(361.8,209) rotate(-90)" x="0" y="0" font-size="10" text-anchor="middle" textLength="23" lengthAdjust="spacingAndGlyphs">0.15</text>
<text transform="translate(361.8,252.3) rotate(-90)" x="0" y="0" font-size="10" text-anchor="middle" textLength="23" lengthAdjust="spacingAndGlyphs">0.10</text>
<text transform="translate(361.8,295.4) rotate(-90)" x="0" y="0" font-size="10" text-anchor="middle" textLength="23" lengthAdjust="spacingAndGlyphs">0.05</text>
<text transform="translate(361.8,338.5) rotate(-90)" x="0" y="0" font-size="10" text-anchor="middle" textLength="6.6" lengthAdjust="spacingAndGlyphs">0</text>
<text transform="translate(530.2,211.5) rotate(-90)" x="0" y="0" font-size="10" text-anchor="middle" textLength="15.4" lengthAdjust="spacingAndGlyphs">1.5</text>
<text transform="translate(530.2,253.2) rotate(-90)" x="0" y="0" font-size="10" text-anchor="middle" textLength="15.8" lengthAdjust="spacingAndGlyphs">1.0</text>
<text transform="translate(530.2,296.3) rotate(-90)" x="0" y="0" font-size="10" text-anchor="middle" textLength="16.4" lengthAdjust="spacingAndGlyphs">0.5</text>
<text transform="translate(530.2,335) rotate(-90)" x="0" y="0" font-size="10" text-anchor="middle" textLength="6.6" lengthAdjust="spacingAndGlyphs">0</text>
<text transform="translate(177.1,101.25) rotate(-90)" x="0" y="0" font-size="10" text-anchor="middle" textLength="93.9" lengthAdjust="spacingAndGlyphs">Fluorescence (AU)</text>
<text transform="translate(177.1,273.65) rotate(-90)" x="0" y="0" font-size="10" text-anchor="middle" textLength="93.9" lengthAdjust="spacingAndGlyphs">Fluorescence (AU)</text>
<text transform="translate(517.9,104.25) rotate(-90)" x="0" y="0" font-size="10" text-anchor="middle" textLength="96.1" lengthAdjust="spacingAndGlyphs">Centrosomal FRAP</text>
<text transform="translate(517.9,274) rotate(-90)" x="0" y="0" font-size="10" text-anchor="middle" textLength="96.1" lengthAdjust="spacingAndGlyphs">Centrosomal FRAP</text>
<text x="218.65" y="363.7" font-size="10" textLength="88.6" lengthAdjust="spacingAndGlyphs">time (s) 0=NEBD</text>
<text x="385.65" y="363.7" font-size="10" textLength="88.6" lengthAdjust="spacingAndGlyphs">time (s) 0=NEBD</text>
<text x="554.15" y="363.6" font-size="10" textLength="89.2" lengthAdjust="spacingAndGlyphs">time (s) 0=NEBD</text>
</svg>
</body></html>
